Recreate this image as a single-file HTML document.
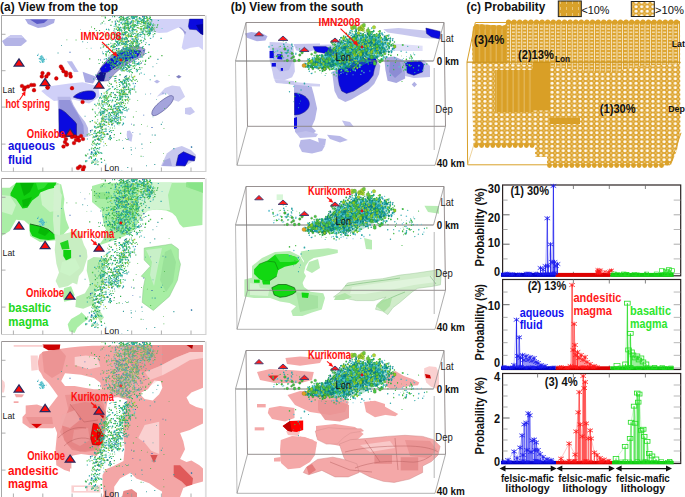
<!DOCTYPE html><html><head><meta charset="utf-8"><style>html,body{margin:0;padding:0;background:#fff;overflow:hidden}svg{display:block}text{font-family:"Liberation Sans",sans-serif}</style></head><body>
<svg width="685" height="497" viewBox="0 0 685 497">
<rect width="685" height="497" fill="#fff"/>
<defs>
<pattern id="gdots" x="0.5" y="0" width="5.6" height="4.5" patternUnits="userSpaceOnUse">
<rect width="5.6" height="4.5" fill="#dca22a"/>
<circle cx="2.8" cy="2.25" r="1.65" fill="#fffaf0"/>
<circle cx="0" cy="0" r="0.6" fill="#fff4e0"/><circle cx="5.6" cy="0" r="0.6" fill="#fff4e0"/><circle cx="0" cy="4.5" r="0.6" fill="#fff4e0"/><circle cx="5.6" cy="4.5" r="0.6" fill="#fff4e0"/>
</pattern>
<pattern id="gstripe" x="0.5" y="0" width="5.6" height="3.4" patternUnits="userSpaceOnUse">
<rect width="5.6" height="3.4" fill="#dca22a"/>
<rect x="0" y="0" width="0.9" height="3.4" fill="#f8ecd0"/>
<rect x="1.8" y="1.2" width="2.9" height="1.1" fill="#fdf6e6"/>
</pattern>
<pattern id="gdense" x="0.5" y="0" width="5.6" height="6" patternUnits="userSpaceOnUse">
<rect width="5.6" height="6" fill="#d99f26"/>
<rect x="2.6" y="0" width="0.6" height="6" fill="#f4e0b0" opacity="0.8"/>
</pattern>
<pattern id="gleg1" x="0" y="0" width="6" height="6" patternUnits="userSpaceOnUse">
<rect width="6" height="6" fill="#d9a12a"/>
<rect x="2" y="1" width="0.8" height="3" fill="#efd08a"/>
</pattern>
</defs>
<text x="0.0" y="11.0" font-size="12" fill="#111" font-weight="bold" textLength="118.0" lengthAdjust="spacingAndGlyphs" >(a) View from the top</text>
<text x="230.8" y="11.0" font-size="12" fill="#111" font-weight="bold" textLength="132.5" lengthAdjust="spacingAndGlyphs" >(b) View from the south</text>
<text x="466.6" y="11.0" font-size="12" fill="#111" font-weight="bold" textLength="78.7" lengthAdjust="spacingAndGlyphs" >(c) Probability</text>
<rect x="558.3" y="1" width="23" height="15.6" fill="url(#gleg1)" stroke="#222" stroke-width="1"/>
<rect x="631.3" y="1.5" width="23" height="15" fill="url(#gdots)" stroke="#222" stroke-width="1"/>
<text x="581.5" y="13.5" font-size="11" fill="#111" font-weight="normal" textLength="28.0" lengthAdjust="spacingAndGlyphs" >&lt;10%</text>
<text x="655.0" y="13.5" font-size="11" fill="#111" font-weight="normal" textLength="29.0" lengthAdjust="spacingAndGlyphs" >&gt;10%</text>
<polygon points="473.0,27.0 476.0,24.0 505.0,26.0 507.0,21.0 680.0,21.0 680.5,130.0 677.0,150.0 671.0,165.0 547.0,165.0 547.0,157.0 535.0,157.0 535.0,145.5 473.5,145.5 472.2,100.0 472.2,40.0" fill="url(#gdots)" fill-opacity="1" stroke="none" stroke-width="0.6" />
<polygon points="507.0,21.0 680.0,21.0 680.0,64.0 640.0,66.0 612.0,72.0 575.0,70.0 550.0,66.0 507.0,64.0" fill="url(#gstripe)" fill-opacity="1" stroke="none" stroke-width="0.6" />
<polygon points="473.0,27.0 476.0,24.0 505.0,26.0 507.0,21.0 507.0,62.0 473.0,62.0 472.2,40.0" fill="url(#gdense)" fill-opacity="1" stroke="none" stroke-width="0.6" />
<polygon points="495.0,70.0 533.0,70.0 533.0,112.0 495.0,112.0" fill="url(#gdense)" fill-opacity="1" stroke="none" stroke-width="0.6" />
<polygon points="533.0,62.0 550.0,62.0 550.0,110.5 533.0,110.5" fill="#d99f26" fill-opacity="1" stroke="none" stroke-width="0.6" />
<polygon points="550.0,118.0 580.0,118.0 580.0,124.0 550.0,124.0" fill="#d99f26" fill-opacity="1" stroke="none" stroke-width="0.6" />
<circle cx="508.5" cy="22" r="2.6" fill="#dca22a"/>
<circle cx="514.1" cy="22" r="2.6" fill="#dca22a"/>
<circle cx="519.7" cy="22" r="2.6" fill="#dca22a"/>
<circle cx="525.3" cy="22" r="2.6" fill="#dca22a"/>
<circle cx="530.9" cy="22" r="2.6" fill="#dca22a"/>
<circle cx="536.5" cy="22" r="2.6" fill="#dca22a"/>
<circle cx="542.1" cy="22" r="2.6" fill="#dca22a"/>
<circle cx="547.7" cy="22" r="2.6" fill="#dca22a"/>
<circle cx="553.3" cy="22" r="2.6" fill="#dca22a"/>
<circle cx="558.9" cy="22" r="2.6" fill="#dca22a"/>
<circle cx="564.5" cy="22" r="2.6" fill="#dca22a"/>
<circle cx="570.1" cy="22" r="2.6" fill="#dca22a"/>
<circle cx="575.7" cy="22" r="2.6" fill="#dca22a"/>
<circle cx="581.3" cy="22" r="2.6" fill="#dca22a"/>
<circle cx="586.9" cy="22" r="2.6" fill="#dca22a"/>
<circle cx="592.5" cy="22" r="2.6" fill="#dca22a"/>
<circle cx="598.1" cy="22" r="2.6" fill="#dca22a"/>
<circle cx="603.7" cy="22" r="2.6" fill="#dca22a"/>
<circle cx="609.3" cy="22" r="2.6" fill="#dca22a"/>
<circle cx="614.9" cy="22" r="2.6" fill="#dca22a"/>
<circle cx="620.5" cy="22" r="2.6" fill="#dca22a"/>
<circle cx="626.1" cy="22" r="2.6" fill="#dca22a"/>
<circle cx="631.7" cy="22" r="2.6" fill="#dca22a"/>
<circle cx="637.3" cy="22" r="2.6" fill="#dca22a"/>
<circle cx="642.9" cy="22" r="2.6" fill="#dca22a"/>
<circle cx="648.5" cy="22" r="2.6" fill="#dca22a"/>
<circle cx="654.1" cy="22" r="2.6" fill="#dca22a"/>
<circle cx="659.7" cy="22" r="2.6" fill="#dca22a"/>
<circle cx="665.3" cy="22" r="2.6" fill="#dca22a"/>
<circle cx="670.9" cy="22" r="2.6" fill="#dca22a"/>
<circle cx="676.5" cy="22" r="2.6" fill="#dca22a"/>
<circle cx="477.0" cy="27.5" r="2.6" fill="#dca22a"/>
<circle cx="482.6" cy="27.5" r="2.6" fill="#dca22a"/>
<circle cx="488.2" cy="27.5" r="2.6" fill="#dca22a"/>
<circle cx="493.8" cy="27.5" r="2.6" fill="#dca22a"/>
<circle cx="499.4" cy="27.5" r="2.6" fill="#dca22a"/>
<circle cx="505.0" cy="27.5" r="2.6" fill="#dca22a"/>
<circle cx="549.5" cy="165.5" r="2.4" fill="#dca22a"/>
<circle cx="555.1" cy="165.5" r="2.4" fill="#dca22a"/>
<circle cx="560.7" cy="165.5" r="2.4" fill="#dca22a"/>
<circle cx="566.3" cy="165.5" r="2.4" fill="#dca22a"/>
<circle cx="571.9" cy="165.5" r="2.4" fill="#dca22a"/>
<circle cx="577.5" cy="165.5" r="2.4" fill="#dca22a"/>
<circle cx="583.1" cy="165.5" r="2.4" fill="#dca22a"/>
<circle cx="588.7" cy="165.5" r="2.4" fill="#dca22a"/>
<circle cx="594.3" cy="165.5" r="2.4" fill="#dca22a"/>
<circle cx="599.9" cy="165.5" r="2.4" fill="#dca22a"/>
<circle cx="605.5" cy="165.5" r="2.4" fill="#dca22a"/>
<circle cx="611.1" cy="165.5" r="2.4" fill="#dca22a"/>
<circle cx="616.7" cy="165.5" r="2.4" fill="#dca22a"/>
<circle cx="622.3" cy="165.5" r="2.4" fill="#dca22a"/>
<circle cx="627.9" cy="165.5" r="2.4" fill="#dca22a"/>
<circle cx="633.5" cy="165.5" r="2.4" fill="#dca22a"/>
<circle cx="639.1" cy="165.5" r="2.4" fill="#dca22a"/>
<circle cx="644.7" cy="165.5" r="2.4" fill="#dca22a"/>
<circle cx="650.3" cy="165.5" r="2.4" fill="#dca22a"/>
<circle cx="655.9" cy="165.5" r="2.4" fill="#dca22a"/>
<circle cx="661.5" cy="165.5" r="2.4" fill="#dca22a"/>
<circle cx="667.1" cy="163" r="2.4" fill="#dca22a"/>
<circle cx="476.0" cy="145.5" r="2.4" fill="#dca22a"/>
<circle cx="481.6" cy="145.5" r="2.4" fill="#dca22a"/>
<circle cx="487.2" cy="145.5" r="2.4" fill="#dca22a"/>
<circle cx="492.8" cy="145.5" r="2.4" fill="#dca22a"/>
<circle cx="498.4" cy="145.5" r="2.4" fill="#dca22a"/>
<circle cx="504.0" cy="145.5" r="2.4" fill="#dca22a"/>
<circle cx="509.6" cy="145.5" r="2.4" fill="#dca22a"/>
<circle cx="515.2" cy="145.5" r="2.4" fill="#dca22a"/>
<circle cx="520.8" cy="145.5" r="2.4" fill="#dca22a"/>
<circle cx="526.4" cy="145.5" r="2.4" fill="#dca22a"/>
<circle cx="532.0" cy="145.5" r="2.4" fill="#dca22a"/>
<polyline points="475.3,22.5 680,22.5" fill="none" stroke="#d9a12a" stroke-width="1"/>
<polyline points="475.3,22.5 467,62 467.6,164.8 670,164.8 681,132.8" fill="none" stroke="#d9a12a" stroke-width="1"/>
<polyline points="467,62 680,62" fill="none" stroke="#d9a12a" stroke-width="0.8"/>
<polyline points="467.6,164.8 474.4,143" fill="none" stroke="#e6c070" stroke-width="0.7"/>
<line x1="467" y1="62.3" x2="681" y2="62.3" stroke="#c08a18" stroke-width="0.8" opacity="0.8"/>
<text x="474.0" y="44.0" font-size="12" fill="#111" font-weight="bold" textLength="30.2" lengthAdjust="spacingAndGlyphs" >(3)4%</text>
<text x="518.0" y="58.9" font-size="12" fill="#111" font-weight="bold" textLength="35.9" lengthAdjust="spacingAndGlyphs" >(2)13%</text>
<text x="555.0" y="61.5" font-size="9" fill="#111" font-weight="bold" textLength="15.1" lengthAdjust="spacingAndGlyphs" >Lon</text>
<text x="599.8" y="113.1" font-size="12" fill="#111" font-weight="bold" textLength="35.9" lengthAdjust="spacingAndGlyphs" >(1)30%</text>
<text x="671.7" y="46.6" font-size="9.5" fill="#111" font-weight="bold" textLength="13.3" lengthAdjust="spacingAndGlyphs" >Lat</text>
<text x="668.2" y="111.9" font-size="9.5" fill="#111" font-weight="bold" textLength="16.8" lengthAdjust="spacingAndGlyphs" >Dep</text>
<rect x="502.6" y="185" width="178.10000000000002" height="90.80000000000001" fill="none" stroke="#2a2222" stroke-width="1.2"/>
<line x1="502.6" y1="273.6" x2="509.6" y2="273.6" stroke="#555" stroke-width="0.9"/>
<line x1="673.7" y1="273.6" x2="680.7" y2="273.6" stroke="#888" stroke-width="0.7"/>
<line x1="502.6" y1="244.20000000000002" x2="509.6" y2="244.20000000000002" stroke="#555" stroke-width="0.9"/>
<line x1="673.7" y1="244.20000000000002" x2="680.7" y2="244.20000000000002" stroke="#888" stroke-width="0.7"/>
<line x1="502.6" y1="214.8" x2="509.6" y2="214.8" stroke="#555" stroke-width="0.9"/>
<line x1="673.7" y1="214.8" x2="680.7" y2="214.8" stroke="#888" stroke-width="0.7"/>
<line x1="502.6" y1="258.90000000000003" x2="507.6" y2="258.90000000000003" stroke="#888" stroke-width="0.7"/>
<line x1="673.7" y1="258.90000000000003" x2="680.7" y2="258.90000000000003" stroke="#999" stroke-width="0.7"/>
<line x1="502.6" y1="229.50000000000003" x2="507.6" y2="229.50000000000003" stroke="#888" stroke-width="0.7"/>
<line x1="673.7" y1="229.50000000000003" x2="680.7" y2="229.50000000000003" stroke="#999" stroke-width="0.7"/>
<line x1="502.6" y1="200.10000000000002" x2="507.6" y2="200.10000000000002" stroke="#888" stroke-width="0.7"/>
<line x1="673.7" y1="200.10000000000002" x2="680.7" y2="200.10000000000002" stroke="#999" stroke-width="0.7"/>
<line x1="537.6" y1="185" x2="537.6" y2="189" stroke="#666" stroke-width="0.8"/>
<line x1="537.6" y1="275.8" x2="537.6" y2="271.8" stroke="#666" stroke-width="0.8"/>
<line x1="573.4" y1="185" x2="573.4" y2="189" stroke="#666" stroke-width="0.8"/>
<line x1="573.4" y1="275.8" x2="573.4" y2="271.8" stroke="#666" stroke-width="0.8"/>
<line x1="609.3" y1="185" x2="609.3" y2="189" stroke="#666" stroke-width="0.8"/>
<line x1="609.3" y1="275.8" x2="609.3" y2="271.8" stroke="#666" stroke-width="0.8"/>
<line x1="645.4" y1="185" x2="645.4" y2="189" stroke="#666" stroke-width="0.8"/>
<line x1="645.4" y1="275.8" x2="645.4" y2="271.8" stroke="#666" stroke-width="0.8"/>
<rect x="502.6" y="279.5" width="178.10000000000002" height="90.0" fill="none" stroke="#2a2222" stroke-width="1.2"/>
<line x1="502.6" y1="368.0" x2="509.6" y2="368.0" stroke="#555" stroke-width="0.9"/>
<line x1="673.7" y1="368.0" x2="680.7" y2="368.0" stroke="#888" stroke-width="0.7"/>
<line x1="502.6" y1="304.7" x2="509.6" y2="304.7" stroke="#555" stroke-width="0.9"/>
<line x1="673.7" y1="304.7" x2="680.7" y2="304.7" stroke="#888" stroke-width="0.7"/>
<line x1="502.6" y1="355.34" x2="507.6" y2="355.34" stroke="#888" stroke-width="0.7"/>
<line x1="673.7" y1="355.34" x2="680.7" y2="355.34" stroke="#999" stroke-width="0.7"/>
<line x1="502.6" y1="342.68" x2="507.6" y2="342.68" stroke="#888" stroke-width="0.7"/>
<line x1="673.7" y1="342.68" x2="680.7" y2="342.68" stroke="#999" stroke-width="0.7"/>
<line x1="502.6" y1="330.02" x2="507.6" y2="330.02" stroke="#888" stroke-width="0.7"/>
<line x1="673.7" y1="330.02" x2="680.7" y2="330.02" stroke="#999" stroke-width="0.7"/>
<line x1="502.6" y1="317.36" x2="507.6" y2="317.36" stroke="#888" stroke-width="0.7"/>
<line x1="673.7" y1="317.36" x2="680.7" y2="317.36" stroke="#999" stroke-width="0.7"/>
<line x1="502.6" y1="292.03999999999996" x2="507.6" y2="292.03999999999996" stroke="#888" stroke-width="0.7"/>
<line x1="673.7" y1="292.03999999999996" x2="680.7" y2="292.03999999999996" stroke="#999" stroke-width="0.7"/>
<line x1="537.6" y1="279.5" x2="537.6" y2="283.5" stroke="#666" stroke-width="0.8"/>
<line x1="537.6" y1="369.5" x2="537.6" y2="365.5" stroke="#666" stroke-width="0.8"/>
<line x1="573.4" y1="279.5" x2="573.4" y2="283.5" stroke="#666" stroke-width="0.8"/>
<line x1="573.4" y1="369.5" x2="573.4" y2="365.5" stroke="#666" stroke-width="0.8"/>
<line x1="609.3" y1="279.5" x2="609.3" y2="283.5" stroke="#666" stroke-width="0.8"/>
<line x1="609.3" y1="369.5" x2="609.3" y2="365.5" stroke="#666" stroke-width="0.8"/>
<line x1="645.4" y1="279.5" x2="645.4" y2="283.5" stroke="#666" stroke-width="0.8"/>
<line x1="645.4" y1="369.5" x2="645.4" y2="365.5" stroke="#666" stroke-width="0.8"/>
<rect x="502.6" y="373.5" width="178.10000000000002" height="90.0" fill="none" stroke="#2a2222" stroke-width="1.2"/>
<line x1="502.6" y1="462.0" x2="509.6" y2="462.0" stroke="#555" stroke-width="0.9"/>
<line x1="673.7" y1="462.0" x2="680.7" y2="462.0" stroke="#888" stroke-width="0.7"/>
<line x1="502.6" y1="418.0" x2="509.6" y2="418.0" stroke="#555" stroke-width="0.9"/>
<line x1="673.7" y1="418.0" x2="680.7" y2="418.0" stroke="#888" stroke-width="0.7"/>
<line x1="502.6" y1="451.0" x2="507.6" y2="451.0" stroke="#888" stroke-width="0.7"/>
<line x1="673.7" y1="451.0" x2="680.7" y2="451.0" stroke="#999" stroke-width="0.7"/>
<line x1="502.6" y1="440.0" x2="507.6" y2="440.0" stroke="#888" stroke-width="0.7"/>
<line x1="673.7" y1="440.0" x2="680.7" y2="440.0" stroke="#999" stroke-width="0.7"/>
<line x1="502.6" y1="429.0" x2="507.6" y2="429.0" stroke="#888" stroke-width="0.7"/>
<line x1="673.7" y1="429.0" x2="680.7" y2="429.0" stroke="#999" stroke-width="0.7"/>
<line x1="502.6" y1="407.0" x2="507.6" y2="407.0" stroke="#888" stroke-width="0.7"/>
<line x1="673.7" y1="407.0" x2="680.7" y2="407.0" stroke="#999" stroke-width="0.7"/>
<line x1="502.6" y1="396.0" x2="507.6" y2="396.0" stroke="#888" stroke-width="0.7"/>
<line x1="673.7" y1="396.0" x2="680.7" y2="396.0" stroke="#999" stroke-width="0.7"/>
<line x1="502.6" y1="385.0" x2="507.6" y2="385.0" stroke="#888" stroke-width="0.7"/>
<line x1="673.7" y1="385.0" x2="680.7" y2="385.0" stroke="#999" stroke-width="0.7"/>
<line x1="537.6" y1="373.5" x2="537.6" y2="377.5" stroke="#666" stroke-width="0.8"/>
<line x1="537.6" y1="463.5" x2="537.6" y2="459.5" stroke="#666" stroke-width="0.8"/>
<line x1="573.4" y1="373.5" x2="573.4" y2="377.5" stroke="#666" stroke-width="0.8"/>
<line x1="573.4" y1="463.5" x2="573.4" y2="459.5" stroke="#666" stroke-width="0.8"/>
<line x1="609.3" y1="373.5" x2="609.3" y2="377.5" stroke="#666" stroke-width="0.8"/>
<line x1="609.3" y1="463.5" x2="609.3" y2="459.5" stroke="#666" stroke-width="0.8"/>
<line x1="645.4" y1="373.5" x2="645.4" y2="377.5" stroke="#666" stroke-width="0.8"/>
<line x1="645.4" y1="463.5" x2="645.4" y2="459.5" stroke="#666" stroke-width="0.8"/>
<text x="487.7" y="192.5" font-size="12" fill="#111" font-weight="bold" textLength="12.5" lengthAdjust="spacingAndGlyphs" >30</text>
<text x="487.7" y="222.2" font-size="12" fill="#111" font-weight="bold" textLength="12.5" lengthAdjust="spacingAndGlyphs" >20</text>
<text x="487.7" y="247.3" font-size="12" fill="#111" font-weight="bold" textLength="12.5" lengthAdjust="spacingAndGlyphs" >10</text>
<text x="494.1" y="275.5" font-size="12" fill="#111" font-weight="bold" textLength="6.1" lengthAdjust="spacingAndGlyphs" >0</text>
<text x="487.7" y="310.2" font-size="12" fill="#111" font-weight="bold" textLength="12.5" lengthAdjust="spacingAndGlyphs" >10</text>
<text x="494.1" y="367.4" font-size="12" fill="#111" font-weight="bold" textLength="6.1" lengthAdjust="spacingAndGlyphs" >0</text>
<text x="494.1" y="380.5" font-size="12" fill="#111" font-weight="bold" textLength="6.1" lengthAdjust="spacingAndGlyphs" >4</text>
<text x="494.1" y="422.7" font-size="12" fill="#111" font-weight="bold" textLength="6.1" lengthAdjust="spacingAndGlyphs" >2</text>
<text x="494.1" y="465.5" font-size="12" fill="#111" font-weight="bold" textLength="6.1" lengthAdjust="spacingAndGlyphs" >0</text>
<text x="0" y="0" transform="translate(484,266.4) rotate(-90)" font-size="12" font-weight="bold" fill="#111" textLength="78.4" lengthAdjust="spacingAndGlyphs">Probability (%)</text>
<text x="0" y="0" transform="translate(484,360.4) rotate(-90)" font-size="12" font-weight="bold" fill="#111" textLength="76.4" lengthAdjust="spacingAndGlyphs">Probability (%)</text>
<text x="0" y="0" transform="translate(484,454.4) rotate(-90)" font-size="12" font-weight="bold" fill="#111" textLength="77.4" lengthAdjust="spacingAndGlyphs">Probability (%)</text>
<text x="510.4" y="195.0" font-size="12" fill="#111" font-weight="bold" textLength="38.7" lengthAdjust="spacingAndGlyphs" >(1) 30%</text>
<text x="527.7" y="290.0" font-size="12" fill="#111" font-weight="bold" textLength="38.6" lengthAdjust="spacingAndGlyphs" >(2) 13%</text>
<text x="544.7" y="386.3" font-size="12" fill="#111" font-weight="bold" textLength="32.9" lengthAdjust="spacingAndGlyphs" >(3) 4%</text>
<text x="519.7" y="316.6" font-size="13" fill="#1010ee" font-weight="bold" textLength="44.4" lengthAdjust="spacingAndGlyphs" >aqueous</text>
<text x="519.7" y="329.3" font-size="13" fill="#1010ee" font-weight="bold" textLength="22.8" lengthAdjust="spacingAndGlyphs" >fluid</text>
<text x="573.4" y="302.3" font-size="13" fill="#ff1a1a" font-weight="bold" textLength="48.0" lengthAdjust="spacingAndGlyphs" >andesitic</text>
<text x="573.4" y="315.4" font-size="13" fill="#ff1a1a" font-weight="bold" textLength="38.6" lengthAdjust="spacingAndGlyphs" >magma</text>
<text x="630.1" y="315.0" font-size="13" fill="#2ee62e" font-weight="bold" textLength="40.9" lengthAdjust="spacingAndGlyphs" >basaltic</text>
<text x="630.1" y="328.2" font-size="13" fill="#2ee62e" font-weight="bold" textLength="37.4" lengthAdjust="spacingAndGlyphs" >magma</text>
<line x1="503.5" y1="468.6" x2="552.7" y2="468.6" stroke="#111" stroke-width="1.3"/>
<polygon points="499.5,468.6 505.5,465.6 505.5,471.6" fill="#111" fill-opacity="1" stroke="none" stroke-width="0.6" />
<polygon points="556.7,468.6 550.7,465.6 550.7,471.6" fill="#111" fill-opacity="1" stroke="none" stroke-width="0.6" />
<text x="500.9" y="481.6" font-size="11.5" fill="#111" font-weight="bold" textLength="53.1" lengthAdjust="spacingAndGlyphs" >felsic-mafic</text>
<text x="505.2" y="492.4" font-size="11.5" fill="#111" font-weight="bold" textLength="44.6" lengthAdjust="spacingAndGlyphs" >lithology</text>
<line x1="560.3" y1="468.6" x2="610.8" y2="468.6" stroke="#111" stroke-width="1.3"/>
<polygon points="556.3,468.6 562.3,465.6 562.3,471.6" fill="#111" fill-opacity="1" stroke="none" stroke-width="0.6" />
<polygon points="614.8,468.6 608.8,465.6 608.8,471.6" fill="#111" fill-opacity="1" stroke="none" stroke-width="0.6" />
<text x="558.2" y="481.6" font-size="11.5" fill="#111" font-weight="bold" textLength="53.2" lengthAdjust="spacingAndGlyphs" >felsic-mafic</text>
<text x="562.5" y="492.4" font-size="11.5" fill="#111" font-weight="bold" textLength="44.6" lengthAdjust="spacingAndGlyphs" >lithology</text>
<line x1="619.6" y1="468.6" x2="668" y2="468.6" stroke="#111" stroke-width="1.3"/>
<polygon points="615.6,468.6 621.6,465.6 621.6,471.6" fill="#111" fill-opacity="1" stroke="none" stroke-width="0.6" />
<polygon points="672.0,468.6 666.0,465.6 666.0,471.6" fill="#111" fill-opacity="1" stroke="none" stroke-width="0.6" />
<text x="616.1" y="481.6" font-size="11.5" fill="#111" font-weight="bold" textLength="53.7" lengthAdjust="spacingAndGlyphs" >felsic-mafic</text>
<text x="620.7" y="492.4" font-size="11.5" fill="#111" font-weight="bold" textLength="44.6" lengthAdjust="spacingAndGlyphs" >lithology</text>
<rect x="501" y="272.9" width="54.700000000000045" height="4" fill="#0000c8"/>
<rect x="555.7" y="272.9" width="54.59999999999991" height="4" fill="#dd0000"/>
<rect x="610.3" y="272.9" width="63.40000000000009" height="4" fill="#11cc11"/>
<path d="M524.3,272.3L528.7,275.0M524.3,275.0L528.7,272.3M526.5,271.9V275.4" stroke="#1a1aee" stroke-width="0.6" fill="none"/>
<path d="M548.9,272.5L553.3,275.1M548.9,275.1L553.3,272.5M551.1,272.0V275.6" stroke="#1a1aee" stroke-width="0.6" fill="none"/>
<path d="M527.2,272.3L531.6,274.9M527.2,274.9L531.6,272.3M529.4,271.9V275.4" stroke="#1a1aee" stroke-width="0.6" fill="none"/>
<path d="M510.4,272.4L514.8,275.1M510.4,275.1L514.8,272.4M512.6,272.0V275.5" stroke="#1a1aee" stroke-width="0.6" fill="none"/>
<path d="M533.6,272.0L538.0,274.6M533.6,274.6L538.0,272.0M535.8,271.6V275.1" stroke="#1a1aee" stroke-width="0.6" fill="none"/>
<path d="M505.7,272.7L510.1,275.4M505.7,275.4L510.1,272.7M507.9,272.3V275.8" stroke="#1a1aee" stroke-width="0.6" fill="none"/>
<path d="M505.5,272.0L509.9,274.6M505.5,274.6L509.9,272.0M507.7,271.5V275.0" stroke="#1a1aee" stroke-width="0.6" fill="none"/>
<path d="M536.9,273.1L541.3,275.8M536.9,275.8L541.3,273.1M539.1,272.7V276.2" stroke="#1a1aee" stroke-width="0.6" fill="none"/>
<path d="M551.9,271.7L556.3,274.4M551.9,274.4L556.3,271.7M554.1,271.3V274.8" stroke="#1a1aee" stroke-width="0.6" fill="none"/>
<path d="M534.8,272.3L539.2,274.9M534.8,274.9L539.2,272.3M537.0,271.8V275.3" stroke="#1a1aee" stroke-width="0.6" fill="none"/>
<path d="M509.0,273.2L513.4,275.8M509.0,275.8L513.4,273.2M511.2,272.7V276.2" stroke="#1a1aee" stroke-width="0.6" fill="none"/>
<path d="M528.3,273.1L532.7,275.7M528.3,275.7L532.7,273.1M530.5,272.7V276.2" stroke="#1a1aee" stroke-width="0.6" fill="none"/>
<path d="M510.7,272.8L515.1,275.5M510.7,275.5L515.1,272.8M512.9,272.4V275.9" stroke="#1a1aee" stroke-width="0.6" fill="none"/>
<path d="M502.4,272.5L506.8,275.1M502.4,275.1L506.8,272.5M504.6,272.0V275.6" stroke="#1a1aee" stroke-width="0.6" fill="none"/>
<path d="M523.7,271.9L528.1,274.6M523.7,274.6L528.1,271.9M525.9,271.5V275.0" stroke="#1a1aee" stroke-width="0.6" fill="none"/>
<path d="M527.8,272.2L532.2,274.9M527.8,274.9L532.2,272.2M530.0,271.8V275.3" stroke="#1a1aee" stroke-width="0.6" fill="none"/>
<path d="M526.8,272.2L531.2,274.8M526.8,274.8L531.2,272.2M529.0,271.7V275.3" stroke="#1a1aee" stroke-width="0.6" fill="none"/>
<path d="M524.6,272.8L529.0,275.4M524.6,275.4L529.0,272.8M526.8,272.3V275.8" stroke="#1a1aee" stroke-width="0.6" fill="none"/>
<path d="M552.7,271.7L557.1,274.3M552.7,274.3L557.1,271.7M554.9,271.2V274.8" stroke="#1a1aee" stroke-width="0.6" fill="none"/>
<path d="M544.5,272.1L548.9,274.8M544.5,274.8L548.9,272.1M546.7,271.7V275.2" stroke="#1a1aee" stroke-width="0.6" fill="none"/>
<path d="M517.2,272.8L521.6,275.5M517.2,275.5L521.6,272.8M519.4,272.4V275.9" stroke="#1a1aee" stroke-width="0.6" fill="none"/>
<path d="M515.8,273.1L520.2,275.7M515.8,275.7L520.2,273.1M518.0,272.6V276.2" stroke="#1a1aee" stroke-width="0.6" fill="none"/>
<path d="M540.6,272.6L545.0,275.2M540.6,275.2L545.0,272.6M542.8,272.1V275.7" stroke="#1a1aee" stroke-width="0.6" fill="none"/>
<path d="M544.8,272.6L549.2,275.2M544.8,275.2L549.2,272.6M547.0,272.2V275.7" stroke="#1a1aee" stroke-width="0.6" fill="none"/>
<path d="M550.6,271.9L555.0,274.5M550.6,274.5L555.0,271.9M552.8,271.5V275.0" stroke="#1a1aee" stroke-width="0.6" fill="none"/>
<path d="M500.8,272.9L505.2,275.5M500.8,275.5L505.2,272.9M503.0,272.4V275.9" stroke="#1a1aee" stroke-width="0.6" fill="none"/>
<path d="M548.1,272.5L552.5,275.1M548.1,275.1L552.5,272.5M550.3,272.0V275.6" stroke="#1a1aee" stroke-width="0.6" fill="none"/>
<path d="M551.8,272.6L556.2,275.2M551.8,275.2L556.2,272.6M554.0,272.1V275.7" stroke="#1a1aee" stroke-width="0.6" fill="none"/>
<path d="M504.6,272.2L509.0,274.9M504.6,274.9L509.0,272.2M506.8,271.8V275.3" stroke="#1a1aee" stroke-width="0.6" fill="none"/>
<path d="M541.3,272.8L545.7,275.4M541.3,275.4L545.7,272.8M543.5,272.3V275.9" stroke="#1a1aee" stroke-width="0.6" fill="none"/>
<path d="M540.5,274.5L540.5,268.0M543.0,274.5L543.0,269.5M545.5,274.5L545.5,266.0M547.3,274.5L547.3,218.3M548.3,274.5L548.3,266.0M550.5,274.5L550.5,244.4M552.0,274.5L552.0,262.0M553.4,274.5L553.4,186.0M554.5,274.5L554.5,262.0M556.0,274.5L556.0,266.0M557.5,274.5L557.5,264.0" stroke="#1a1aee" stroke-width="0.9" fill="none"/>
<polyline points="540.5,268.0 543.0,269.5 545.5,266.0 547.3,218.3 548.3,266.0 550.5,244.4 552.0,262.0 553.4,186.0 554.5,262.0 556.0,266.0 557.5,264.0" stroke="#1a1aee" stroke-width="0.54" fill="none" opacity="0.45"/>
<path d="M537.7,266.3L543.3,269.7M537.7,269.7L543.3,266.3M540.5,265.8V270.2" stroke="#1a1aee" stroke-width="0.8" fill="none"/>
<path d="M540.2,267.8L545.8,271.2M540.2,271.2L545.8,267.8M543.0,267.3V271.7" stroke="#1a1aee" stroke-width="0.8" fill="none"/>
<path d="M542.7,264.3L548.3,267.7M542.7,267.7L548.3,264.3M545.5,263.8V268.2" stroke="#1a1aee" stroke-width="0.8" fill="none"/>
<path d="M544.5,216.6L550.1,220.0M544.5,220.0L550.1,216.6M547.3,216.1V220.5" stroke="#1a1aee" stroke-width="0.8" fill="none"/>
<path d="M545.5,264.3L551.1,267.7M545.5,267.7L551.1,264.3M548.3,263.8V268.2" stroke="#1a1aee" stroke-width="0.8" fill="none"/>
<path d="M547.7,242.7L553.3,246.1M547.7,246.1L553.3,242.7M550.5,242.2V246.6" stroke="#1a1aee" stroke-width="0.8" fill="none"/>
<path d="M549.2,260.3L554.8,263.7M549.2,263.7L554.8,260.3M552.0,259.8V264.2" stroke="#1a1aee" stroke-width="0.8" fill="none"/>
<path d="M550.6,184.3L556.2,187.7M550.6,187.7L556.2,184.3M553.4,183.8V188.2" stroke="#1a1aee" stroke-width="0.8" fill="none"/>
<path d="M551.7,260.3L557.3,263.7M551.7,263.7L557.3,260.3M554.5,259.8V264.2" stroke="#1a1aee" stroke-width="0.8" fill="none"/>
<path d="M553.2,264.3L558.8,267.7M553.2,267.7L558.8,264.3M556.0,263.8V268.2" stroke="#1a1aee" stroke-width="0.8" fill="none"/>
<path d="M554.7,262.3L560.3,265.7M554.7,265.7L560.3,262.3M557.5,261.8V266.2" stroke="#1a1aee" stroke-width="0.8" fill="none"/>
<path d="M595.2,270.8L599.6,273.5M595.2,273.5L599.6,270.8M597.4,270.4V273.9" stroke="#ff1a1a" stroke-width="0.6" fill="none"/>
<path d="M609.2,269.1L613.6,271.8M609.2,271.8L613.6,269.1M611.4,268.7V272.2" stroke="#ff1a1a" stroke-width="0.6" fill="none"/>
<path d="M595.7,271.2L600.1,273.8M595.7,273.8L600.1,271.2M597.9,270.8V274.3" stroke="#ff1a1a" stroke-width="0.6" fill="none"/>
<path d="M595.4,271.9L599.8,274.6M595.4,274.6L599.8,271.9M597.6,271.5V275.0" stroke="#ff1a1a" stroke-width="0.6" fill="none"/>
<path d="M606.6,271.5L611.0,274.1M606.6,274.1L611.0,271.5M608.8,271.0V274.5" stroke="#ff1a1a" stroke-width="0.6" fill="none"/>
<path d="M602.7,270.4L607.1,273.0M602.7,273.0L607.1,270.4M604.9,270.0V273.5" stroke="#ff1a1a" stroke-width="0.6" fill="none"/>
<path d="M596.9,269.3L601.3,271.9M596.9,271.9L601.3,269.3M599.1,268.8V272.3" stroke="#ff1a1a" stroke-width="0.6" fill="none"/>
<path d="M595.9,269.6L600.3,272.2M595.9,272.2L600.3,269.6M598.1,269.2V272.7" stroke="#ff1a1a" stroke-width="0.6" fill="none"/>
<path d="M595.7,270.5L600.1,273.1M595.7,273.1L600.1,270.5M597.9,270.1V273.6" stroke="#ff1a1a" stroke-width="0.6" fill="none"/>
<path d="M597.2,271.1L601.6,273.7M597.2,273.7L601.6,271.1M599.4,270.7V274.2" stroke="#ff1a1a" stroke-width="0.6" fill="none"/>
<path d="M609.3,269.0L613.7,271.6M609.3,271.6L613.7,269.0M611.5,268.5V272.0" stroke="#ff1a1a" stroke-width="0.6" fill="none"/>
<path d="M598.7,268.6L603.1,271.3M598.7,271.3L603.1,268.6M600.9,268.2V271.7" stroke="#ff1a1a" stroke-width="0.6" fill="none"/>
<path d="M597.2,270.6L601.6,273.2M597.2,273.2L601.6,270.6M599.4,270.2V273.7" stroke="#ff1a1a" stroke-width="0.6" fill="none"/>
<path d="M607.5,269.6L611.9,272.3M607.5,272.3L611.9,269.6M609.7,269.2V272.7" stroke="#ff1a1a" stroke-width="0.6" fill="none"/>
<path d="M595.4,268.2L599.8,270.9M595.4,270.9L599.8,268.2M597.6,267.8V271.3" stroke="#ff1a1a" stroke-width="0.6" fill="none"/>
<path d="M597.2,271.1L601.6,273.8M597.2,273.8L601.6,271.1M599.4,270.7V274.2" stroke="#ff1a1a" stroke-width="0.6" fill="none"/>
<path d="M606.2,270.9L610.6,273.5M606.2,273.5L610.6,270.9M608.4,270.4V273.9" stroke="#ff1a1a" stroke-width="0.6" fill="none"/>
<path d="M598.5,271.9L602.9,274.5M598.5,274.5L602.9,271.9M600.7,271.4V275.0" stroke="#ff1a1a" stroke-width="0.6" fill="none"/>
<rect x="615.2" y="272.4" width="4.4" height="3.1" stroke="#22dd22" stroke-width="0.6" fill="none"/>
<rect x="624.4" y="272.4" width="4.4" height="3.1" stroke="#22dd22" stroke-width="0.6" fill="none"/>
<rect x="632.1" y="272.5" width="4.4" height="3.1" stroke="#22dd22" stroke-width="0.6" fill="none"/>
<rect x="667.3" y="272.5" width="4.4" height="3.1" stroke="#22dd22" stroke-width="0.6" fill="none"/>
<rect x="644.3" y="272.1" width="4.4" height="3.1" stroke="#22dd22" stroke-width="0.6" fill="none"/>
<rect x="620.8" y="272.8" width="4.4" height="3.1" stroke="#22dd22" stroke-width="0.6" fill="none"/>
<rect x="664.3" y="272.1" width="4.4" height="3.1" stroke="#22dd22" stroke-width="0.6" fill="none"/>
<rect x="624.8" y="272.8" width="4.4" height="3.1" stroke="#22dd22" stroke-width="0.6" fill="none"/>
<rect x="654.2" y="272.0" width="4.4" height="3.1" stroke="#22dd22" stroke-width="0.6" fill="none"/>
<rect x="621.6" y="272.0" width="4.4" height="3.1" stroke="#22dd22" stroke-width="0.6" fill="none"/>
<rect x="662.7" y="272.4" width="4.4" height="3.1" stroke="#22dd22" stroke-width="0.6" fill="none"/>
<rect x="635.1" y="272.9" width="4.4" height="3.1" stroke="#22dd22" stroke-width="0.6" fill="none"/>
<rect x="612.1" y="272.0" width="4.4" height="3.1" stroke="#22dd22" stroke-width="0.6" fill="none"/>
<rect x="624.1" y="272.3" width="4.4" height="3.1" stroke="#22dd22" stroke-width="0.6" fill="none"/>
<rect x="659.4" y="268.7" width="5.2" height="3.6" stroke="#22dd22" stroke-width="0.7" fill="none"/>
<rect x="663.4" y="269.2" width="5.2" height="3.6" stroke="#22dd22" stroke-width="0.7" fill="none"/>
<rect x="666.4" y="267.7" width="5.2" height="3.6" stroke="#22dd22" stroke-width="0.7" fill="none"/>
<rect x="669.4" y="268.7" width="5.2" height="3.6" stroke="#22dd22" stroke-width="0.7" fill="none"/>
<rect x="665.4" y="270.2" width="5.2" height="3.6" stroke="#22dd22" stroke-width="0.7" fill="none"/>
<rect x="501" y="366.3" width="54.700000000000045" height="3.6" fill="#0000c8"/>
<rect x="555.7" y="366.3" width="54.59999999999991" height="3.6" fill="#dd0000"/>
<rect x="610.3" y="366.3" width="63.40000000000009" height="3.6" fill="#11cc11"/>
<path d="M514.2,365.4L518.6,368.1M514.2,368.1L518.6,365.4M516.4,365.0V368.5" stroke="#1a1aee" stroke-width="0.6" fill="none"/>
<path d="M531.8,366.2L536.2,368.9M531.8,368.9L536.2,366.2M534.0,365.8V369.3" stroke="#1a1aee" stroke-width="0.6" fill="none"/>
<path d="M509.9,365.6L514.3,368.2M509.9,368.2L514.3,365.6M512.1,365.2V368.7" stroke="#1a1aee" stroke-width="0.6" fill="none"/>
<path d="M504.4,366.3L508.8,369.0M504.4,369.0L508.8,366.3M506.6,365.9V369.4" stroke="#1a1aee" stroke-width="0.6" fill="none"/>
<path d="M529.9,365.4L534.3,368.0M529.9,368.0L534.3,365.4M532.1,365.0V368.5" stroke="#1a1aee" stroke-width="0.6" fill="none"/>
<path d="M532.7,366.3L537.1,368.9M532.7,368.9L537.1,366.3M534.9,365.8V369.3" stroke="#1a1aee" stroke-width="0.6" fill="none"/>
<path d="M548.5,366.4L552.9,369.0M548.5,369.0L552.9,366.4M550.7,365.9V369.5" stroke="#1a1aee" stroke-width="0.6" fill="none"/>
<path d="M501.7,366.3L506.1,368.9M501.7,368.9L506.1,366.3M503.9,365.8V369.4" stroke="#1a1aee" stroke-width="0.6" fill="none"/>
<path d="M524.0,366.6L528.4,369.2M524.0,369.2L528.4,366.6M526.2,366.1V369.7" stroke="#1a1aee" stroke-width="0.6" fill="none"/>
<path d="M510.0,366.1L514.4,368.8M510.0,368.8L514.4,366.1M512.2,365.7V369.2" stroke="#1a1aee" stroke-width="0.6" fill="none"/>
<path d="M530.6,366.5L535.0,369.1M530.6,369.1L535.0,366.5M532.8,366.0V369.6" stroke="#1a1aee" stroke-width="0.6" fill="none"/>
<path d="M519.6,365.3L524.0,368.0M519.6,368.0L524.0,365.3M521.8,364.9V368.4" stroke="#1a1aee" stroke-width="0.6" fill="none"/>
<path d="M551.8,365.7L556.2,368.3M551.8,368.3L556.2,365.7M554.0,365.3V368.8" stroke="#1a1aee" stroke-width="0.6" fill="none"/>
<path d="M536.7,365.8L541.1,368.4M536.7,368.4L541.1,365.8M538.9,365.4V368.9" stroke="#1a1aee" stroke-width="0.6" fill="none"/>
<path d="M508.1,366.6L512.5,369.3M508.1,369.3L512.5,366.6M510.3,366.2V369.7" stroke="#1a1aee" stroke-width="0.6" fill="none"/>
<path d="M501.7,365.3L506.1,368.0M501.7,368.0L506.1,365.3M503.9,364.9V368.4" stroke="#1a1aee" stroke-width="0.6" fill="none"/>
<path d="M537.3,365.2L541.7,367.9M537.3,367.9L541.7,365.2M539.5,364.8V368.3" stroke="#1a1aee" stroke-width="0.6" fill="none"/>
<path d="M501.9,365.7L506.3,368.4M501.9,368.4L506.3,365.7M504.1,365.3V368.8" stroke="#1a1aee" stroke-width="0.6" fill="none"/>
<path d="M525.9,365.6L530.3,368.2M525.9,368.2L530.3,365.6M528.1,365.1V368.7" stroke="#1a1aee" stroke-width="0.6" fill="none"/>
<path d="M517.4,365.2L521.8,367.8M517.4,367.8L521.8,365.2M519.6,364.7V368.3" stroke="#1a1aee" stroke-width="0.6" fill="none"/>
<path d="M504.7,365.9L509.1,368.5M504.7,368.5L509.1,365.9M506.9,365.4V368.9" stroke="#1a1aee" stroke-width="0.6" fill="none"/>
<path d="M539.1,365.3L543.5,368.0M539.1,368.0L543.5,365.3M541.3,364.9V368.4" stroke="#1a1aee" stroke-width="0.6" fill="none"/>
<path d="M539.1,365.6L543.5,368.3M539.1,368.3L543.5,365.6M541.3,365.2V368.7" stroke="#1a1aee" stroke-width="0.6" fill="none"/>
<path d="M542.0,365.3L546.4,367.9M542.0,367.9L546.4,365.3M544.2,364.9V368.4" stroke="#1a1aee" stroke-width="0.6" fill="none"/>
<path d="M519.1,365.7L523.5,368.3M519.1,368.3L523.5,365.7M521.3,365.2V368.7" stroke="#1a1aee" stroke-width="0.6" fill="none"/>
<path d="M514.0,368.0L514.0,365.0M516.5,368.0L516.5,319.8M517.8,368.0L517.8,356.0M519.2,368.0L519.2,337.3M520.5,368.0L520.5,358.0M522.5,368.0L522.5,355.0M524.0,368.0L524.0,360.0M526.0,368.0L526.0,356.0M528.0,368.0L528.0,360.0M530.0,368.0L530.0,357.0M532.0,368.0L532.0,361.0M534.0,368.0L534.0,358.0M536.0,368.0L536.0,362.0M538.0,368.0L538.0,363.0M541.0,368.0L541.0,365.0M545.0,368.0L545.0,366.0" stroke="#1a1aee" stroke-width="0.9" fill="none"/>
<polyline points="514.0,365.0 516.5,319.8 517.8,356.0 519.2,337.3 520.5,358.0 522.5,355.0 524.0,360.0 526.0,356.0 528.0,360.0 530.0,357.0 532.0,361.0 534.0,358.0 536.0,362.0 538.0,363.0 541.0,365.0 545.0,366.0" stroke="#1a1aee" stroke-width="0.54" fill="none" opacity="0.45"/>
<path d="M511.2,363.3L516.8,366.7M511.2,366.7L516.8,363.3M514.0,362.8V367.2" stroke="#1a1aee" stroke-width="0.8" fill="none"/>
<path d="M513.7,318.1L519.3,321.5M513.7,321.5L519.3,318.1M516.5,317.6V322.0" stroke="#1a1aee" stroke-width="0.8" fill="none"/>
<path d="M515.0,354.3L520.6,357.7M515.0,357.7L520.6,354.3M517.8,353.8V358.2" stroke="#1a1aee" stroke-width="0.8" fill="none"/>
<path d="M516.4,335.6L522.0,339.0M516.4,339.0L522.0,335.6M519.2,335.1V339.5" stroke="#1a1aee" stroke-width="0.8" fill="none"/>
<path d="M517.7,356.3L523.3,359.7M517.7,359.7L523.3,356.3M520.5,355.8V360.2" stroke="#1a1aee" stroke-width="0.8" fill="none"/>
<path d="M519.7,353.3L525.3,356.7M519.7,356.7L525.3,353.3M522.5,352.8V357.2" stroke="#1a1aee" stroke-width="0.8" fill="none"/>
<path d="M521.2,358.3L526.8,361.7M521.2,361.7L526.8,358.3M524.0,357.8V362.2" stroke="#1a1aee" stroke-width="0.8" fill="none"/>
<path d="M523.2,354.3L528.8,357.7M523.2,357.7L528.8,354.3M526.0,353.8V358.2" stroke="#1a1aee" stroke-width="0.8" fill="none"/>
<path d="M525.2,358.3L530.8,361.7M525.2,361.7L530.8,358.3M528.0,357.8V362.2" stroke="#1a1aee" stroke-width="0.8" fill="none"/>
<path d="M527.2,355.3L532.8,358.7M527.2,358.7L532.8,355.3M530.0,354.8V359.2" stroke="#1a1aee" stroke-width="0.8" fill="none"/>
<path d="M529.2,359.3L534.8,362.7M529.2,362.7L534.8,359.3M532.0,358.8V363.2" stroke="#1a1aee" stroke-width="0.8" fill="none"/>
<path d="M531.2,356.3L536.8,359.7M531.2,359.7L536.8,356.3M534.0,355.8V360.2" stroke="#1a1aee" stroke-width="0.8" fill="none"/>
<path d="M533.2,360.3L538.8,363.7M533.2,363.7L538.8,360.3M536.0,359.8V364.2" stroke="#1a1aee" stroke-width="0.8" fill="none"/>
<path d="M535.2,361.3L540.8,364.7M535.2,364.7L540.8,361.3M538.0,360.8V365.2" stroke="#1a1aee" stroke-width="0.8" fill="none"/>
<path d="M538.2,363.3L543.8,366.7M538.2,366.7L543.8,363.3M541.0,362.8V367.2" stroke="#1a1aee" stroke-width="0.8" fill="none"/>
<path d="M542.2,364.3L547.8,367.7M542.2,367.7L547.8,364.3M545.0,363.8V368.2" stroke="#1a1aee" stroke-width="0.8" fill="none"/>
<path d="M591.8,365.4L596.2,368.0M591.8,368.0L596.2,365.4M594.0,364.9V368.5" stroke="#ff1a1a" stroke-width="0.6" fill="none"/>
<path d="M572.5,365.5L576.9,368.1M572.5,368.1L576.9,365.5M574.7,365.1V368.6" stroke="#ff1a1a" stroke-width="0.6" fill="none"/>
<path d="M590.3,365.8L594.7,368.5M590.3,368.5L594.7,365.8M592.5,365.4V368.9" stroke="#ff1a1a" stroke-width="0.6" fill="none"/>
<path d="M580.8,366.1L585.2,368.7M580.8,368.7L585.2,366.1M583.0,365.7V369.2" stroke="#ff1a1a" stroke-width="0.6" fill="none"/>
<path d="M579.1,365.8L583.5,368.4M579.1,368.4L583.5,365.8M581.3,365.3V368.8" stroke="#ff1a1a" stroke-width="0.6" fill="none"/>
<path d="M559.0,365.7L563.4,368.4M559.0,368.4L563.4,365.7M561.2,365.3V368.8" stroke="#ff1a1a" stroke-width="0.6" fill="none"/>
<path d="M595.5,365.4L599.9,368.0M595.5,368.0L599.9,365.4M597.7,364.9V368.4" stroke="#ff1a1a" stroke-width="0.6" fill="none"/>
<path d="M584.9,366.1L589.3,368.7M584.9,368.7L589.3,366.1M587.1,365.7V369.2" stroke="#ff1a1a" stroke-width="0.6" fill="none"/>
<path d="M585.2,365.8L589.6,368.4M585.2,368.4L589.6,365.8M587.4,365.4V368.9" stroke="#ff1a1a" stroke-width="0.6" fill="none"/>
<path d="M573.4,365.4L577.8,368.1M573.4,368.1L577.8,365.4M575.6,365.0V368.5" stroke="#ff1a1a" stroke-width="0.6" fill="none"/>
<path d="M559.2,365.6L563.6,368.2M559.2,368.2L563.6,365.6M561.4,365.1V368.6" stroke="#ff1a1a" stroke-width="0.6" fill="none"/>
<path d="M557.0,365.8L561.4,368.4M557.0,368.4L561.4,365.8M559.2,365.3V368.9" stroke="#ff1a1a" stroke-width="0.6" fill="none"/>
<path d="M575.0,366.3L579.4,369.0M575.0,369.0L579.4,366.3M577.2,365.9V369.4" stroke="#ff1a1a" stroke-width="0.6" fill="none"/>
<path d="M583.7,365.9L588.1,368.6M583.7,368.6L588.1,365.9M585.9,365.5V369.0" stroke="#ff1a1a" stroke-width="0.6" fill="none"/>
<path d="M580.4,365.3L584.8,367.9M580.4,367.9L584.8,365.3M582.6,364.9V368.4" stroke="#ff1a1a" stroke-width="0.6" fill="none"/>
<path d="M566.0,366.7L570.4,369.3M566.0,369.3L570.4,366.7M568.2,366.2V369.7" stroke="#ff1a1a" stroke-width="0.6" fill="none"/>
<path d="M567.8,365.7L572.2,368.3M567.8,368.3L572.2,365.7M570.0,365.2V368.7" stroke="#ff1a1a" stroke-width="0.6" fill="none"/>
<path d="M563.9,366.4L568.3,369.1M563.9,369.1L568.3,366.4M566.1,366.0V369.5" stroke="#ff1a1a" stroke-width="0.6" fill="none"/>
<path d="M592.0,365.7L596.4,368.3M592.0,368.3L596.4,365.7M594.2,365.3V368.8" stroke="#ff1a1a" stroke-width="0.6" fill="none"/>
<path d="M573.5,365.3L577.9,368.0M573.5,368.0L577.9,365.3M575.7,364.9V368.4" stroke="#ff1a1a" stroke-width="0.6" fill="none"/>
<path d="M568.9,365.7L573.3,368.3M568.9,368.3L573.3,365.7M571.1,365.2V368.8" stroke="#ff1a1a" stroke-width="0.6" fill="none"/>
<path d="M563.7,366.0L568.1,368.7M563.7,368.7L568.1,366.0M565.9,365.6V369.1" stroke="#ff1a1a" stroke-width="0.6" fill="none"/>
<path d="M588.0,365.3L592.4,367.9M588.0,367.9L592.4,365.3M590.2,364.9V368.4" stroke="#ff1a1a" stroke-width="0.6" fill="none"/>
<path d="M591.0,366.1L595.4,368.7M591.0,368.7L595.4,366.1M593.2,365.7V369.2" stroke="#ff1a1a" stroke-width="0.6" fill="none"/>
<path d="M570.5,368.0L570.5,366.0M572.1,368.0L572.1,285.0M573.2,368.0L573.2,350.0M574.1,368.0L574.1,323.9M575.0,368.0L575.0,345.0M576.0,368.0L576.0,355.0M577.5,368.0L577.5,352.0M579.0,368.0L579.0,358.0M581.0,368.0L581.0,355.0M583.0,368.0L583.0,360.0M585.0,368.0L585.0,357.0M587.0,368.0L587.0,362.0M590.0,368.0L590.0,364.0M594.0,368.0L594.0,366.0" stroke="#ff1a1a" stroke-width="0.9" fill="none"/>
<polyline points="570.5,366.0 572.1,285.0 573.2,350.0 574.1,323.9 575.0,345.0 576.0,355.0 577.5,352.0 579.0,358.0 581.0,355.0 583.0,360.0 585.0,357.0 587.0,362.0 590.0,364.0 594.0,366.0" stroke="#ff1a1a" stroke-width="0.54" fill="none" opacity="0.45"/>
<path d="M567.7,364.3L573.3,367.7M567.7,367.7L573.3,364.3M570.5,363.8V368.2" stroke="#ff1a1a" stroke-width="0.8" fill="none"/>
<path d="M569.3,283.3L574.9,286.7M569.3,286.7L574.9,283.3M572.1,282.8V287.2" stroke="#ff1a1a" stroke-width="0.8" fill="none"/>
<path d="M570.4,348.3L576.0,351.7M570.4,351.7L576.0,348.3M573.2,347.8V352.2" stroke="#ff1a1a" stroke-width="0.8" fill="none"/>
<path d="M571.3,322.2L576.9,325.6M571.3,325.6L576.9,322.2M574.1,321.7V326.1" stroke="#ff1a1a" stroke-width="0.8" fill="none"/>
<path d="M572.2,343.3L577.8,346.7M572.2,346.7L577.8,343.3M575.0,342.8V347.2" stroke="#ff1a1a" stroke-width="0.8" fill="none"/>
<path d="M573.2,353.3L578.8,356.7M573.2,356.7L578.8,353.3M576.0,352.8V357.2" stroke="#ff1a1a" stroke-width="0.8" fill="none"/>
<path d="M574.7,350.3L580.3,353.7M574.7,353.7L580.3,350.3M577.5,349.8V354.2" stroke="#ff1a1a" stroke-width="0.8" fill="none"/>
<path d="M576.2,356.3L581.8,359.7M576.2,359.7L581.8,356.3M579.0,355.8V360.2" stroke="#ff1a1a" stroke-width="0.8" fill="none"/>
<path d="M578.2,353.3L583.8,356.7M578.2,356.7L583.8,353.3M581.0,352.8V357.2" stroke="#ff1a1a" stroke-width="0.8" fill="none"/>
<path d="M580.2,358.3L585.8,361.7M580.2,361.7L585.8,358.3M583.0,357.8V362.2" stroke="#ff1a1a" stroke-width="0.8" fill="none"/>
<path d="M582.2,355.3L587.8,358.7M582.2,358.7L587.8,355.3M585.0,354.8V359.2" stroke="#ff1a1a" stroke-width="0.8" fill="none"/>
<path d="M584.2,360.3L589.8,363.7M584.2,363.7L589.8,360.3M587.0,359.8V364.2" stroke="#ff1a1a" stroke-width="0.8" fill="none"/>
<path d="M587.2,362.3L592.8,365.7M587.2,365.7L592.8,362.3M590.0,361.8V366.2" stroke="#ff1a1a" stroke-width="0.8" fill="none"/>
<path d="M591.2,364.3L596.8,367.7M591.2,367.7L596.8,364.3M594.0,363.8V368.2" stroke="#ff1a1a" stroke-width="0.8" fill="none"/>
<rect x="644.8" y="366.1" width="4.4" height="3.1" stroke="#22dd22" stroke-width="0.6" fill="none"/>
<rect x="618.0" y="366.0" width="4.4" height="3.1" stroke="#22dd22" stroke-width="0.6" fill="none"/>
<rect x="660.0" y="365.6" width="4.4" height="3.1" stroke="#22dd22" stroke-width="0.6" fill="none"/>
<rect x="652.5" y="365.5" width="4.4" height="3.1" stroke="#22dd22" stroke-width="0.6" fill="none"/>
<rect x="626.4" y="366.3" width="4.4" height="3.1" stroke="#22dd22" stroke-width="0.6" fill="none"/>
<rect x="636.8" y="366.2" width="4.4" height="3.1" stroke="#22dd22" stroke-width="0.6" fill="none"/>
<rect x="622.6" y="366.0" width="4.4" height="3.1" stroke="#22dd22" stroke-width="0.6" fill="none"/>
<rect x="647.3" y="366.0" width="4.4" height="3.1" stroke="#22dd22" stroke-width="0.6" fill="none"/>
<rect x="628.7" y="365.6" width="4.4" height="3.1" stroke="#22dd22" stroke-width="0.6" fill="none"/>
<rect x="668.7" y="366.0" width="4.4" height="3.1" stroke="#22dd22" stroke-width="0.6" fill="none"/>
<rect x="614.3" y="366.4" width="4.4" height="3.1" stroke="#22dd22" stroke-width="0.6" fill="none"/>
<rect x="662.2" y="366.4" width="4.4" height="3.1" stroke="#22dd22" stroke-width="0.6" fill="none"/>
<rect x="652.3" y="365.9" width="4.4" height="3.1" stroke="#22dd22" stroke-width="0.6" fill="none"/>
<rect x="628.3" y="365.7" width="4.4" height="3.1" stroke="#22dd22" stroke-width="0.6" fill="none"/>
<path d="M625.5,368.0L625.5,364.0M627.4,368.0L627.4,303.2M628.5,368.0L628.5,350.0M630.4,368.0L630.4,333.4M631.5,368.0L631.5,352.0M633.0,368.0L633.0,355.0M635.0,368.0L635.0,358.0M637.0,368.0L637.0,356.0M639.0,368.0L639.0,360.0M641.0,368.0L641.0,358.0M643.0,368.0L643.0,362.0M646.0,368.0L646.0,364.0" stroke="#22dd22" stroke-width="0.9" fill="none"/>
<polyline points="625.5,364.0 627.4,303.2 628.5,350.0 630.4,333.4 631.5,352.0 633.0,355.0 635.0,358.0 637.0,356.0 639.0,360.0 641.0,358.0 643.0,362.0 646.0,364.0" stroke="#22dd22" stroke-width="0.54" fill="none" opacity="0.45"/>
<rect x="622.7" y="362.0" width="5.6" height="3.9" stroke="#22dd22" stroke-width="0.8" fill="none"/>
<rect x="624.6" y="301.2" width="5.6" height="3.9" stroke="#22dd22" stroke-width="0.8" fill="none"/>
<rect x="625.7" y="348.0" width="5.6" height="3.9" stroke="#22dd22" stroke-width="0.8" fill="none"/>
<rect x="627.6" y="331.4" width="5.6" height="3.9" stroke="#22dd22" stroke-width="0.8" fill="none"/>
<rect x="628.7" y="350.0" width="5.6" height="3.9" stroke="#22dd22" stroke-width="0.8" fill="none"/>
<rect x="630.2" y="353.0" width="5.6" height="3.9" stroke="#22dd22" stroke-width="0.8" fill="none"/>
<rect x="632.2" y="356.0" width="5.6" height="3.9" stroke="#22dd22" stroke-width="0.8" fill="none"/>
<rect x="634.2" y="354.0" width="5.6" height="3.9" stroke="#22dd22" stroke-width="0.8" fill="none"/>
<rect x="636.2" y="358.0" width="5.6" height="3.9" stroke="#22dd22" stroke-width="0.8" fill="none"/>
<rect x="638.2" y="356.0" width="5.6" height="3.9" stroke="#22dd22" stroke-width="0.8" fill="none"/>
<rect x="640.2" y="360.0" width="5.6" height="3.9" stroke="#22dd22" stroke-width="0.8" fill="none"/>
<rect x="643.2" y="362.0" width="5.6" height="3.9" stroke="#22dd22" stroke-width="0.8" fill="none"/>
<rect x="614.0" y="363.4" width="6.0" height="4.2" stroke="#22dd22" stroke-width="0.7" fill="none"/>
<rect x="501" y="460.9" width="55" height="3.4" fill="#0000c8"/>
<rect x="556" y="460.9" width="56" height="3.4" fill="#dd0000"/>
<rect x="612" y="460.9" width="61.700000000000045" height="3.4" fill="#11cc11"/>
<path d="M501.8,460.5L506.2,463.1M501.8,463.1L506.2,460.5M504.0,460.0V463.6" stroke="#1a1aee" stroke-width="0.6" fill="none"/>
<path d="M524.5,460.6L528.9,463.3M524.5,463.3L528.9,460.6M526.7,460.2V463.7" stroke="#1a1aee" stroke-width="0.6" fill="none"/>
<path d="M543.9,460.3L548.3,463.0M543.9,463.0L548.3,460.3M546.1,459.9V463.4" stroke="#1a1aee" stroke-width="0.6" fill="none"/>
<path d="M508.1,460.6L512.5,463.2M508.1,463.2L512.5,460.6M510.3,460.2V463.7" stroke="#1a1aee" stroke-width="0.6" fill="none"/>
<path d="M533.5,460.0L537.9,462.7M533.5,462.7L537.9,460.0M535.7,459.6V463.1" stroke="#1a1aee" stroke-width="0.6" fill="none"/>
<path d="M533.6,459.7L538.0,462.3M533.6,462.3L538.0,459.7M535.8,459.3V462.8" stroke="#1a1aee" stroke-width="0.6" fill="none"/>
<path d="M542.8,459.2L547.2,461.9M542.8,461.9L547.2,459.2M545.0,458.8V462.3" stroke="#1a1aee" stroke-width="0.6" fill="none"/>
<path d="M536.4,460.4L540.8,463.0M536.4,463.0L540.8,460.4M538.6,459.9V463.5" stroke="#1a1aee" stroke-width="0.6" fill="none"/>
<path d="M525.5,460.4L529.9,463.1M525.5,463.1L529.9,460.4M527.7,460.0V463.5" stroke="#1a1aee" stroke-width="0.6" fill="none"/>
<path d="M501.4,460.0L505.8,462.6M501.4,462.6L505.8,460.0M503.6,459.5V463.1" stroke="#1a1aee" stroke-width="0.6" fill="none"/>
<path d="M537.9,460.4L542.3,463.1M537.9,463.1L542.3,460.4M540.1,460.0V463.5" stroke="#1a1aee" stroke-width="0.6" fill="none"/>
<path d="M515.0,460.2L519.4,462.8M515.0,462.8L519.4,460.2M517.2,459.7V463.2" stroke="#1a1aee" stroke-width="0.6" fill="none"/>
<path d="M537.1,459.9L541.5,462.5M537.1,462.5L541.5,459.9M539.3,459.5V463.0" stroke="#1a1aee" stroke-width="0.6" fill="none"/>
<path d="M532.8,459.5L537.2,462.2M532.8,462.2L537.2,459.5M535.0,459.1V462.6" stroke="#1a1aee" stroke-width="0.6" fill="none"/>
<path d="M521.3,459.5L525.7,462.1M521.3,462.1L525.7,459.5M523.5,459.1V462.6" stroke="#1a1aee" stroke-width="0.6" fill="none"/>
<path d="M547.9,460.5L552.3,463.2M547.9,463.2L552.3,460.5M550.1,460.1V463.6" stroke="#1a1aee" stroke-width="0.6" fill="none"/>
<path d="M549.3,459.6L553.7,462.2M549.3,462.2L553.7,459.6M551.5,459.2V462.7" stroke="#1a1aee" stroke-width="0.6" fill="none"/>
<path d="M507.6,460.0L512.0,462.6M507.6,462.6L512.0,460.0M509.8,459.6V463.1" stroke="#1a1aee" stroke-width="0.6" fill="none"/>
<path d="M533.3,459.3L537.7,462.0M533.3,462.0L537.7,459.3M535.5,458.9V462.4" stroke="#1a1aee" stroke-width="0.6" fill="none"/>
<path d="M520.4,459.8L524.8,462.5M520.4,462.5L524.8,459.8M522.6,459.4V462.9" stroke="#1a1aee" stroke-width="0.6" fill="none"/>
<path d="M546.5,459.5L550.9,462.1M546.5,462.1L550.9,459.5M548.7,459.0V462.6" stroke="#1a1aee" stroke-width="0.6" fill="none"/>
<path d="M549.9,460.0L554.3,462.6M549.9,462.6L554.3,460.0M552.1,459.5V463.1" stroke="#1a1aee" stroke-width="0.6" fill="none"/>
<path d="M534.7,460.4L539.1,463.0M534.7,463.0L539.1,460.4M536.9,459.9V463.5" stroke="#1a1aee" stroke-width="0.6" fill="none"/>
<path d="M538.3,459.5L542.7,462.1M538.3,462.1L542.7,459.5M540.5,459.0V462.5" stroke="#1a1aee" stroke-width="0.6" fill="none"/>
<path d="M534.2,459.6L538.6,462.2M534.2,462.2L538.6,459.6M536.4,459.2V462.7" stroke="#1a1aee" stroke-width="0.6" fill="none"/>
<path d="M508.0,462.5L508.0,460.0M514.1,462.5L514.1,451.5M517.0,462.5L517.0,458.0M520.1,462.5L520.1,447.5M522.1,462.5L522.1,435.4M523.0,462.5L523.0,455.0M524.2,462.5L524.2,424.4M526.2,462.5L526.2,422.7M527.0,462.5L527.0,450.0M528.2,462.5L528.2,413.3M529.8,462.5L529.8,415.3M531.0,462.5L531.0,452.0M532.2,462.5L532.2,440.5M534.2,462.5L534.2,439.5M535.0,462.5L535.0,450.0M536.2,462.5L536.2,442.5M538.0,462.5L538.0,450.0M540.0,462.5L540.0,454.0M543.0,462.5L543.0,457.0M547.0,462.5L547.0,459.0M551.0,462.5L551.0,460.0" stroke="#1a1aee" stroke-width="0.9" fill="none"/>
<polyline points="508.0,460.0 514.1,451.5 517.0,458.0 520.1,447.5 522.1,435.4 523.0,455.0 524.2,424.4 526.2,422.7 527.0,450.0 528.2,413.3 529.8,415.3 531.0,452.0 532.2,440.5 534.2,439.5 535.0,450.0 536.2,442.5 538.0,450.0 540.0,454.0 543.0,457.0 547.0,459.0 551.0,460.0" stroke="#1a1aee" stroke-width="0.54" fill="none" opacity="0.45"/>
<path d="M505.2,458.3L510.8,461.7M505.2,461.7L510.8,458.3M508.0,457.8V462.2" stroke="#1a1aee" stroke-width="0.8" fill="none"/>
<path d="M511.3,449.8L516.9,453.2M511.3,453.2L516.9,449.8M514.1,449.3V453.7" stroke="#1a1aee" stroke-width="0.8" fill="none"/>
<path d="M514.2,456.3L519.8,459.7M514.2,459.7L519.8,456.3M517.0,455.8V460.2" stroke="#1a1aee" stroke-width="0.8" fill="none"/>
<path d="M517.3,445.8L522.9,449.2M517.3,449.2L522.9,445.8M520.1,445.3V449.7" stroke="#1a1aee" stroke-width="0.8" fill="none"/>
<path d="M519.3,433.7L524.9,437.1M519.3,437.1L524.9,433.7M522.1,433.2V437.6" stroke="#1a1aee" stroke-width="0.8" fill="none"/>
<path d="M520.2,453.3L525.8,456.7M520.2,456.7L525.8,453.3M523.0,452.8V457.2" stroke="#1a1aee" stroke-width="0.8" fill="none"/>
<path d="M521.4,422.7L527.0,426.1M521.4,426.1L527.0,422.7M524.2,422.2V426.6" stroke="#1a1aee" stroke-width="0.8" fill="none"/>
<path d="M523.4,421.0L529.0,424.4M523.4,424.4L529.0,421.0M526.2,420.5V424.9" stroke="#1a1aee" stroke-width="0.8" fill="none"/>
<path d="M524.2,448.3L529.8,451.7M524.2,451.7L529.8,448.3M527.0,447.8V452.2" stroke="#1a1aee" stroke-width="0.8" fill="none"/>
<path d="M525.4,411.6L531.0,415.0M525.4,415.0L531.0,411.6M528.2,411.1V415.5" stroke="#1a1aee" stroke-width="0.8" fill="none"/>
<path d="M527.0,413.6L532.6,417.0M527.0,417.0L532.6,413.6M529.8,413.1V417.5" stroke="#1a1aee" stroke-width="0.8" fill="none"/>
<path d="M528.2,450.3L533.8,453.7M528.2,453.7L533.8,450.3M531.0,449.8V454.2" stroke="#1a1aee" stroke-width="0.8" fill="none"/>
<path d="M529.4,438.8L535.0,442.2M529.4,442.2L535.0,438.8M532.2,438.3V442.7" stroke="#1a1aee" stroke-width="0.8" fill="none"/>
<path d="M531.4,437.8L537.0,441.2M531.4,441.2L537.0,437.8M534.2,437.3V441.7" stroke="#1a1aee" stroke-width="0.8" fill="none"/>
<path d="M532.2,448.3L537.8,451.7M532.2,451.7L537.8,448.3M535.0,447.8V452.2" stroke="#1a1aee" stroke-width="0.8" fill="none"/>
<path d="M533.4,440.8L539.0,444.2M533.4,444.2L539.0,440.8M536.2,440.3V444.7" stroke="#1a1aee" stroke-width="0.8" fill="none"/>
<path d="M535.2,448.3L540.8,451.7M535.2,451.7L540.8,448.3M538.0,447.8V452.2" stroke="#1a1aee" stroke-width="0.8" fill="none"/>
<path d="M537.2,452.3L542.8,455.7M537.2,455.7L542.8,452.3M540.0,451.8V456.2" stroke="#1a1aee" stroke-width="0.8" fill="none"/>
<path d="M540.2,455.3L545.8,458.7M540.2,458.7L545.8,455.3M543.0,454.8V459.2" stroke="#1a1aee" stroke-width="0.8" fill="none"/>
<path d="M544.2,457.3L549.8,460.7M544.2,460.7L549.8,457.3M547.0,456.8V461.2" stroke="#1a1aee" stroke-width="0.8" fill="none"/>
<path d="M548.2,458.3L553.8,461.7M548.2,461.7L553.8,458.3M551.0,457.8V462.2" stroke="#1a1aee" stroke-width="0.8" fill="none"/>
<path d="M566.9,459.3L571.3,462.0M566.9,462.0L571.3,459.3M569.1,458.9V462.4" stroke="#ff1a1a" stroke-width="0.6" fill="none"/>
<path d="M606.8,459.2L611.2,461.9M606.8,461.9L611.2,459.2M609.0,458.8V462.3" stroke="#ff1a1a" stroke-width="0.6" fill="none"/>
<path d="M583.7,459.5L588.1,462.1M583.7,462.1L588.1,459.5M585.9,459.1V462.6" stroke="#ff1a1a" stroke-width="0.6" fill="none"/>
<path d="M572.5,459.3L576.9,462.0M572.5,462.0L576.9,459.3M574.7,458.9V462.4" stroke="#ff1a1a" stroke-width="0.6" fill="none"/>
<path d="M600.3,460.2L604.7,462.8M600.3,462.8L604.7,460.2M602.5,459.7V463.2" stroke="#ff1a1a" stroke-width="0.6" fill="none"/>
<path d="M560.1,460.0L564.5,462.7M560.1,462.7L564.5,460.0M562.3,459.6V463.1" stroke="#ff1a1a" stroke-width="0.6" fill="none"/>
<path d="M584.4,459.5L588.8,462.2M584.4,462.2L588.8,459.5M586.6,459.1V462.6" stroke="#ff1a1a" stroke-width="0.6" fill="none"/>
<path d="M581.1,460.6L585.5,463.3M581.1,463.3L585.5,460.6M583.3,460.2V463.7" stroke="#ff1a1a" stroke-width="0.6" fill="none"/>
<path d="M597.9,460.6L602.3,463.2M597.9,463.2L602.3,460.6M600.1,460.1V463.7" stroke="#ff1a1a" stroke-width="0.6" fill="none"/>
<path d="M597.4,460.4L601.8,463.1M597.4,463.1L601.8,460.4M599.6,460.0V463.5" stroke="#ff1a1a" stroke-width="0.6" fill="none"/>
<path d="M573.2,459.5L577.6,462.1M573.2,462.1L577.6,459.5M575.4,459.1V462.6" stroke="#ff1a1a" stroke-width="0.6" fill="none"/>
<path d="M563.1,460.5L567.5,463.1M563.1,463.1L567.5,460.5M565.3,460.0V463.5" stroke="#ff1a1a" stroke-width="0.6" fill="none"/>
<path d="M582.7,459.6L587.1,462.2M582.7,462.2L587.1,459.6M584.9,459.2V462.7" stroke="#ff1a1a" stroke-width="0.6" fill="none"/>
<path d="M599.5,459.6L603.9,462.3M599.5,462.3L603.9,459.6M601.7,459.2V462.7" stroke="#ff1a1a" stroke-width="0.6" fill="none"/>
<path d="M605.0,459.9L609.4,462.6M605.0,462.6L609.4,459.9M607.2,459.5V463.0" stroke="#ff1a1a" stroke-width="0.6" fill="none"/>
<path d="M605.2,460.6L609.6,463.2M605.2,463.2L609.6,460.6M607.4,460.1V463.6" stroke="#ff1a1a" stroke-width="0.6" fill="none"/>
<path d="M567.3,459.9L571.7,462.5M567.3,462.5L571.7,459.9M569.5,459.5V463.0" stroke="#ff1a1a" stroke-width="0.6" fill="none"/>
<path d="M570.9,459.6L575.3,462.2M570.9,462.2L575.3,459.6M573.1,459.1V462.7" stroke="#ff1a1a" stroke-width="0.6" fill="none"/>
<path d="M589.0,459.9L593.4,462.5M589.0,462.5L593.4,459.9M591.2,459.5V463.0" stroke="#ff1a1a" stroke-width="0.6" fill="none"/>
<path d="M599.7,459.8L604.1,462.5M599.7,462.5L604.1,459.8M601.9,459.4V462.9" stroke="#ff1a1a" stroke-width="0.6" fill="none"/>
<path d="M572.0,460.1L576.4,462.7M572.0,462.7L576.4,460.1M574.2,459.7V463.2" stroke="#ff1a1a" stroke-width="0.6" fill="none"/>
<path d="M599.8,459.3L604.2,462.0M599.8,462.0L604.2,459.3M602.0,458.9V462.4" stroke="#ff1a1a" stroke-width="0.6" fill="none"/>
<path d="M566.6,459.4L571.0,462.0M566.6,462.0L571.0,459.4M568.8,459.0V462.5" stroke="#ff1a1a" stroke-width="0.6" fill="none"/>
<path d="M606.2,459.9L610.6,462.5M606.2,462.5L610.6,459.9M608.4,459.5V463.0" stroke="#ff1a1a" stroke-width="0.6" fill="none"/>
<path d="M585.6,460.4L590.0,463.0M585.6,463.0L590.0,460.4M587.8,459.9V463.5" stroke="#ff1a1a" stroke-width="0.6" fill="none"/>
<path d="M561.0,462.5L561.0,458.6M569.1,462.5L569.1,443.5M575.1,462.5L575.1,454.6M576.1,462.5L576.1,431.4M578.2,462.5L578.2,412.3M579.2,462.5L579.2,392.1M580.2,462.5L580.2,424.4M582.2,462.5L582.2,436.4M583.2,462.5L583.2,376.0M584.2,462.5L584.2,388.1M585.2,462.5L585.2,382.0M586.2,462.5L586.2,423.4M588.2,462.5L588.2,438.5M590.2,462.5L590.2,430.4M591.2,462.5L591.2,438.5M594.3,462.5L594.3,452.5M597.0,462.5L597.0,455.0M600.0,462.5L600.0,458.0M604.0,462.5L604.0,459.5" stroke="#ff1a1a" stroke-width="0.9" fill="none"/>
<polyline points="561.0,458.6 569.1,443.5 575.1,454.6 576.1,431.4 578.2,412.3 579.2,392.1 580.2,424.4 582.2,436.4 583.2,376.0 584.2,388.1 585.2,382.0 586.2,423.4 588.2,438.5 590.2,430.4 591.2,438.5 594.3,452.5 597.0,455.0 600.0,458.0 604.0,459.5" stroke="#ff1a1a" stroke-width="0.54" fill="none" opacity="0.45"/>
<path d="M558.2,456.9L563.8,460.3M558.2,460.3L563.8,456.9M561.0,456.4V460.8" stroke="#ff1a1a" stroke-width="0.8" fill="none"/>
<path d="M566.3,441.8L571.9,445.2M566.3,445.2L571.9,441.8M569.1,441.3V445.7" stroke="#ff1a1a" stroke-width="0.8" fill="none"/>
<path d="M572.3,452.9L577.9,456.3M572.3,456.3L577.9,452.9M575.1,452.4V456.8" stroke="#ff1a1a" stroke-width="0.8" fill="none"/>
<path d="M573.3,429.7L578.9,433.1M573.3,433.1L578.9,429.7M576.1,429.2V433.6" stroke="#ff1a1a" stroke-width="0.8" fill="none"/>
<path d="M575.4,410.6L581.0,414.0M575.4,414.0L581.0,410.6M578.2,410.1V414.5" stroke="#ff1a1a" stroke-width="0.8" fill="none"/>
<path d="M576.4,390.4L582.0,393.8M576.4,393.8L582.0,390.4M579.2,389.9V394.3" stroke="#ff1a1a" stroke-width="0.8" fill="none"/>
<path d="M577.4,422.7L583.0,426.1M577.4,426.1L583.0,422.7M580.2,422.2V426.6" stroke="#ff1a1a" stroke-width="0.8" fill="none"/>
<path d="M579.4,434.7L585.0,438.1M579.4,438.1L585.0,434.7M582.2,434.2V438.6" stroke="#ff1a1a" stroke-width="0.8" fill="none"/>
<path d="M580.4,374.3L586.0,377.7M580.4,377.7L586.0,374.3M583.2,373.8V378.2" stroke="#ff1a1a" stroke-width="0.8" fill="none"/>
<path d="M581.4,386.4L587.0,389.8M581.4,389.8L587.0,386.4M584.2,385.9V390.3" stroke="#ff1a1a" stroke-width="0.8" fill="none"/>
<path d="M582.4,380.3L588.0,383.7M582.4,383.7L588.0,380.3M585.2,379.8V384.2" stroke="#ff1a1a" stroke-width="0.8" fill="none"/>
<path d="M583.4,421.7L589.0,425.1M583.4,425.1L589.0,421.7M586.2,421.2V425.6" stroke="#ff1a1a" stroke-width="0.8" fill="none"/>
<path d="M585.4,436.8L591.0,440.2M585.4,440.2L591.0,436.8M588.2,436.3V440.7" stroke="#ff1a1a" stroke-width="0.8" fill="none"/>
<path d="M587.4,428.7L593.0,432.1M587.4,432.1L593.0,428.7M590.2,428.2V432.6" stroke="#ff1a1a" stroke-width="0.8" fill="none"/>
<path d="M588.4,436.8L594.0,440.2M588.4,440.2L594.0,436.8M591.2,436.3V440.7" stroke="#ff1a1a" stroke-width="0.8" fill="none"/>
<path d="M591.5,450.8L597.1,454.2M591.5,454.2L597.1,450.8M594.3,450.3V454.7" stroke="#ff1a1a" stroke-width="0.8" fill="none"/>
<path d="M594.2,453.3L599.8,456.7M594.2,456.7L599.8,453.3M597.0,452.8V457.2" stroke="#ff1a1a" stroke-width="0.8" fill="none"/>
<path d="M597.2,456.3L602.8,459.7M597.2,459.7L602.8,456.3M600.0,455.8V460.2" stroke="#ff1a1a" stroke-width="0.8" fill="none"/>
<path d="M601.2,457.8L606.8,461.2M601.2,461.2L606.8,457.8M604.0,457.3V461.7" stroke="#ff1a1a" stroke-width="0.8" fill="none"/>
<rect x="642.9" y="460.0" width="4.4" height="3.1" stroke="#22dd22" stroke-width="0.6" fill="none"/>
<rect x="646.9" y="460.4" width="4.4" height="3.1" stroke="#22dd22" stroke-width="0.6" fill="none"/>
<rect x="668.0" y="459.9" width="4.4" height="3.1" stroke="#22dd22" stroke-width="0.6" fill="none"/>
<rect x="635.0" y="459.7" width="4.4" height="3.1" stroke="#22dd22" stroke-width="0.6" fill="none"/>
<rect x="644.4" y="460.0" width="4.4" height="3.1" stroke="#22dd22" stroke-width="0.6" fill="none"/>
<rect x="651.9" y="460.4" width="4.4" height="3.1" stroke="#22dd22" stroke-width="0.6" fill="none"/>
<rect x="643.0" y="460.0" width="4.4" height="3.1" stroke="#22dd22" stroke-width="0.6" fill="none"/>
<rect x="667.3" y="459.5" width="4.4" height="3.1" stroke="#22dd22" stroke-width="0.6" fill="none"/>
<rect x="627.4" y="460.0" width="4.4" height="3.1" stroke="#22dd22" stroke-width="0.6" fill="none"/>
<rect x="619.2" y="460.0" width="4.4" height="3.1" stroke="#22dd22" stroke-width="0.6" fill="none"/>
<rect x="659.1" y="459.6" width="4.4" height="3.1" stroke="#22dd22" stroke-width="0.6" fill="none"/>
<rect x="639.4" y="460.1" width="4.4" height="3.1" stroke="#22dd22" stroke-width="0.6" fill="none"/>
<rect x="622.9" y="459.8" width="4.4" height="3.1" stroke="#22dd22" stroke-width="0.6" fill="none"/>
<rect x="665.5" y="460.3" width="4.4" height="3.1" stroke="#22dd22" stroke-width="0.6" fill="none"/>
<path d="M616.0,462.5L616.0,458.5M625.1,462.5L625.1,446.4M630.1,462.5L630.1,438.4M631.1,462.5L631.1,422.3M634.1,462.5L634.1,406.2M635.1,462.5L635.1,423.3M637.2,462.5L637.2,393.1M638.2,462.5L638.2,402.2M639.2,462.5L639.2,394.1M641.2,462.5L641.2,430.4M643.2,462.5L643.2,429.3M644.2,462.5L644.2,436.4M647.2,462.5L647.2,441.4M649.2,462.5L649.2,453.5M652.0,462.5L652.0,456.0M656.0,462.5L656.0,459.0" stroke="#22dd22" stroke-width="0.9" fill="none"/>
<polyline points="616.0,458.5 625.1,446.4 630.1,438.4 631.1,422.3 634.1,406.2 635.1,423.3 637.2,393.1 638.2,402.2 639.2,394.1 641.2,430.4 643.2,429.3 644.2,436.4 647.2,441.4 649.2,453.5 652.0,456.0 656.0,459.0" stroke="#22dd22" stroke-width="0.54" fill="none" opacity="0.45"/>
<rect x="613.2" y="456.5" width="5.6" height="3.9" stroke="#22dd22" stroke-width="0.8" fill="none"/>
<rect x="622.3" y="444.4" width="5.6" height="3.9" stroke="#22dd22" stroke-width="0.8" fill="none"/>
<rect x="627.3" y="436.4" width="5.6" height="3.9" stroke="#22dd22" stroke-width="0.8" fill="none"/>
<rect x="628.3" y="420.3" width="5.6" height="3.9" stroke="#22dd22" stroke-width="0.8" fill="none"/>
<rect x="631.3" y="404.2" width="5.6" height="3.9" stroke="#22dd22" stroke-width="0.8" fill="none"/>
<rect x="632.3" y="421.3" width="5.6" height="3.9" stroke="#22dd22" stroke-width="0.8" fill="none"/>
<rect x="634.4" y="391.1" width="5.6" height="3.9" stroke="#22dd22" stroke-width="0.8" fill="none"/>
<rect x="635.4" y="400.2" width="5.6" height="3.9" stroke="#22dd22" stroke-width="0.8" fill="none"/>
<rect x="636.4" y="392.1" width="5.6" height="3.9" stroke="#22dd22" stroke-width="0.8" fill="none"/>
<rect x="638.4" y="428.4" width="5.6" height="3.9" stroke="#22dd22" stroke-width="0.8" fill="none"/>
<rect x="640.4" y="427.3" width="5.6" height="3.9" stroke="#22dd22" stroke-width="0.8" fill="none"/>
<rect x="641.4" y="434.4" width="5.6" height="3.9" stroke="#22dd22" stroke-width="0.8" fill="none"/>
<rect x="644.4" y="439.4" width="5.6" height="3.9" stroke="#22dd22" stroke-width="0.8" fill="none"/>
<rect x="646.4" y="451.5" width="5.6" height="3.9" stroke="#22dd22" stroke-width="0.8" fill="none"/>
<rect x="649.2" y="454.0" width="5.6" height="3.9" stroke="#22dd22" stroke-width="0.8" fill="none"/>
<rect x="653.2" y="457.0" width="5.6" height="3.9" stroke="#22dd22" stroke-width="0.8" fill="none"/>
<defs><g id="aplume"><path d="M115.0 107.5h1.4v1.4h-1.4zM121.3 55.4h1.3v1.3h-1.3zM140.9 55.2h1.3v1.3h-1.3zM112.9 58.4h1.2v1.2h-1.2zM125.8 82.1h1.1v1.1h-1.1zM121.4 52.1h0.9v0.9h-0.9zM139.5 17.9h1.2v1.2h-1.2zM124.4 61.2h0.9v0.9h-0.9zM129.3 45.8h1.3v1.3h-1.3zM121.7 21.2h1.1v1.1h-1.1zM90.7 47.8h0.9v0.9h-0.9zM109.4 105.8h0.9v0.9h-0.9zM127.9 34.0h1.2v1.2h-1.2zM107.9 117.4h1.0v1.0h-1.0zM136.3 71.0h1.2v1.2h-1.2zM115.0 110.8h1.4v1.4h-1.4zM134.4 49.1h1.4v1.4h-1.4zM125.4 106.8h1.4v1.4h-1.4zM146.2 16.0h0.9v0.9h-0.9zM102.4 104.7h1.3v1.3h-1.3zM134.7 19.2h1.1v1.1h-1.1zM103.9 108.4h1.3v1.3h-1.3zM95.3 163.2h1.4v1.4h-1.4zM138.5 22.3h1.4v1.4h-1.4zM125.9 47.9h0.9v0.9h-0.9zM133.5 17.3h1.4v1.4h-1.4zM102.6 104.8h1.2v1.2h-1.2zM146.8 15.1h1.0v1.0h-1.0zM116.2 41.2h1.1v1.1h-1.1zM131.0 71.6h1.0v1.0h-1.0zM124.8 32.2h1.1v1.1h-1.1zM120.6 22.7h1.3v1.3h-1.3zM103.1 141.6h1.0v1.0h-1.0zM128.3 60.2h1.0v1.0h-1.0zM130.3 55.4h1.3v1.3h-1.3zM92.4 155.4h1.2v1.2h-1.2zM127.9 51.5h1.1v1.1h-1.1zM121.2 60.5h0.9v0.9h-0.9zM143.8 18.4h0.9v0.9h-0.9zM103.4 134.2h1.1v1.1h-1.1zM147.2 27.9h0.9v0.9h-0.9zM116.7 96.8h1.3v1.3h-1.3zM122.9 28.5h1.1v1.1h-1.1zM117.7 26.8h1.3v1.3h-1.3zM112.4 65.3h1.3v1.3h-1.3zM126.1 63.5h1.2v1.2h-1.2zM140.6 32.2h0.9v0.9h-0.9zM108.1 100.2h0.9v0.9h-0.9zM132.6 55.4h1.2v1.2h-1.2zM136.9 51.3h1.4v1.4h-1.4zM113.6 25.7h1.3v1.3h-1.3zM130.9 21.1h1.0v1.0h-1.0zM140.1 29.0h0.9v0.9h-0.9zM117.0 62.9h1.3v1.3h-1.3zM135.7 49.9h1.1v1.1h-1.1zM109.7 99.8h1.2v1.2h-1.2zM136.3 37.2h1.0v1.0h-1.0zM95.0 133.1h1.1v1.1h-1.1zM147.1 22.7h1.4v1.4h-1.4zM115.2 40.6h1.0v1.0h-1.0zM146.8 23.3h1.2v1.2h-1.2zM131.2 29.3h1.1v1.1h-1.1zM108.7 34.7h1.2v1.2h-1.2zM121.4 56.2h0.9v0.9h-0.9zM92.7 135.6h1.0v1.0h-1.0zM98.2 138.8h1.2v1.2h-1.2zM116.4 66.9h1.1v1.1h-1.1zM116.9 56.2h1.1v1.1h-1.1zM107.7 50.2h1.1v1.1h-1.1zM111.8 121.1h1.1v1.1h-1.1zM127.8 24.2h1.1v1.1h-1.1zM123.9 67.4h1.2v1.2h-1.2zM140.3 20.2h1.0v1.0h-1.0zM120.9 90.2h1.3v1.3h-1.3zM117.4 118.0h1.2v1.2h-1.2zM109.9 60.7h1.2v1.2h-1.2zM125.0 93.2h1.3v1.3h-1.3zM128.4 59.7h1.0v1.0h-1.0zM123.2 95.4h1.0v1.0h-1.0zM132.7 16.8h1.1v1.1h-1.1zM149.0 34.1h1.3v1.3h-1.3zM109.1 112.7h1.3v1.3h-1.3zM106.3 117.7h1.2v1.2h-1.2zM121.4 91.9h1.0v1.0h-1.0zM115.2 110.8h1.4v1.4h-1.4zM137.8 33.8h1.3v1.3h-1.3zM116.9 123.7h1.2v1.2h-1.2zM113.1 114.1h1.0v1.0h-1.0zM105.0 121.5h1.1v1.1h-1.1zM142.8 27.4h1.2v1.2h-1.2zM119.7 42.1h1.1v1.1h-1.1zM121.5 56.2h1.1v1.1h-1.1zM134.8 65.4h1.2v1.2h-1.2zM104.9 96.9h1.2v1.2h-1.2zM93.3 143.0h1.0v1.0h-1.0zM123.2 61.9h1.0v1.0h-1.0zM117.8 112.6h1.2v1.2h-1.2zM128.7 49.1h1.1v1.1h-1.1zM120.6 23.1h1.2v1.2h-1.2zM108.2 119.8h0.9v0.9h-0.9zM110.8 96.5h0.9v0.9h-0.9zM120.8 62.5h1.2v1.2h-1.2zM127.1 19.0h1.4v1.4h-1.4zM105.4 102.6h1.2v1.2h-1.2zM94.9 153.6h0.9v0.9h-0.9zM147.8 20.1h1.0v1.0h-1.0zM147.8 30.1h1.2v1.2h-1.2zM149.0 29.9h1.0v1.0h-1.0zM94.2 153.0h1.1v1.1h-1.1zM112.3 115.5h1.3v1.3h-1.3zM132.7 28.5h1.2v1.2h-1.2zM130.9 31.7h1.1v1.1h-1.1zM143.8 37.4h1.4v1.4h-1.4zM149.8 31.7h1.0v1.0h-1.0zM113.9 115.3h1.4v1.4h-1.4zM104.5 23.4h0.9v0.9h-0.9zM133.3 59.6h1.4v1.4h-1.4zM131.4 29.6h0.9v0.9h-0.9zM147.5 30.3h1.2v1.2h-1.2zM114.3 112.1h1.1v1.1h-1.1zM117.6 89.0h1.1v1.1h-1.1zM119.9 105.1h1.3v1.3h-1.3zM122.7 83.1h1.3v1.3h-1.3zM114.6 43.5h1.1v1.1h-1.1zM135.6 30.2h1.0v1.0h-1.0zM147.0 24.9h0.9v0.9h-0.9zM130.4 34.6h1.0v1.0h-1.0zM101.0 133.5h1.2v1.2h-1.2zM133.5 23.7h1.1v1.1h-1.1zM96.9 121.2h0.9v0.9h-0.9zM115.3 25.1h1.2v1.2h-1.2zM132.4 53.8h1.1v1.1h-1.1zM127.1 44.2h1.4v1.4h-1.4zM104.0 135.8h1.4v1.4h-1.4zM126.7 14.4h1.1v1.1h-1.1zM118.4 107.5h1.2v1.2h-1.2zM161.6 28.0h0.9v0.9h-0.9zM121.1 98.2h1.2v1.2h-1.2zM132.6 82.8h1.4v1.4h-1.4zM127.6 48.0h1.0v1.0h-1.0zM126.6 39.6h1.1v1.1h-1.1zM123.2 21.7h0.9v0.9h-0.9zM149.0 28.9h1.3v1.3h-1.3zM145.6 22.9h0.9v0.9h-0.9zM125.0 30.9h1.1v1.1h-1.1zM107.8 89.2h1.3v1.3h-1.3zM101.3 110.6h1.4v1.4h-1.4zM113.6 38.2h1.2v1.2h-1.2zM137.8 35.2h1.2v1.2h-1.2zM92.3 152.4h1.3v1.3h-1.3zM118.7 60.9h1.1v1.1h-1.1zM101.7 102.3h0.9v0.9h-0.9zM129.7 88.0h1.1v1.1h-1.1zM110.2 121.3h1.2v1.2h-1.2zM121.5 104.2h1.1v1.1h-1.1zM136.5 52.6h0.9v0.9h-0.9zM102.7 118.1h1.0v1.0h-1.0zM124.9 88.4h1.1v1.1h-1.1zM119.7 60.9h1.3v1.3h-1.3zM123.2 69.3h1.2v1.2h-1.2zM106.5 116.3h0.9v0.9h-0.9zM119.8 29.8h1.1v1.1h-1.1zM143.8 73.8h1.1v1.1h-1.1zM122.7 122.3h1.2v1.2h-1.2zM117.1 106.0h1.3v1.3h-1.3zM114.1 77.9h1.3v1.3h-1.3zM108.7 129.3h0.9v0.9h-0.9zM139.5 17.9h1.3v1.3h-1.3zM143.1 21.9h1.3v1.3h-1.3zM97.0 102.8h1.1v1.1h-1.1zM123.9 24.1h1.2v1.2h-1.2zM122.5 109.3h1.2v1.2h-1.2zM93.1 132.8h1.2v1.2h-1.2zM145.2 20.9h1.3v1.3h-1.3zM121.7 19.1h1.2v1.2h-1.2zM117.6 43.1h0.9v0.9h-0.9zM119.0 27.1h0.9v0.9h-0.9zM102.4 112.9h0.9v0.9h-0.9zM112.8 122.6h1.3v1.3h-1.3zM110.3 42.5h0.9v0.9h-0.9zM117.4 61.7h1.4v1.4h-1.4zM123.4 56.0h1.3v1.3h-1.3zM113.9 61.2h1.2v1.2h-1.2zM123.0 80.1h1.0v1.0h-1.0zM107.4 107.9h1.2v1.2h-1.2zM133.7 58.2h1.3v1.3h-1.3zM131.8 19.4h1.2v1.2h-1.2zM135.1 16.4h1.1v1.1h-1.1zM103.7 101.4h1.1v1.1h-1.1zM150.9 23.6h1.3v1.3h-1.3zM119.1 37.1h0.9v0.9h-0.9zM128.0 52.7h1.2v1.2h-1.2zM102.3 105.4h1.3v1.3h-1.3zM131.0 76.3h1.3v1.3h-1.3zM119.3 16.8h1.0v1.0h-1.0zM100.9 107.8h1.0v1.0h-1.0zM119.7 41.6h1.2v1.2h-1.2zM119.2 66.4h1.0v1.0h-1.0zM124.9 25.5h1.3v1.3h-1.3zM120.3 69.7h1.0v1.0h-1.0zM128.3 23.6h1.4v1.4h-1.4zM133.9 85.6h1.4v1.4h-1.4zM119.5 98.9h1.0v1.0h-1.0zM101.4 103.9h1.1v1.1h-1.1zM129.7 71.1h1.0v1.0h-1.0zM146.1 20.1h1.1v1.1h-1.1zM94.8 132.6h1.1v1.1h-1.1zM124.4 33.8h1.3v1.3h-1.3zM85.0 160.0h1.3v1.3h-1.3zM131.7 17.3h1.0v1.0h-1.0zM131.9 31.6h1.0v1.0h-1.0zM135.9 60.9h0.9v0.9h-0.9zM107.7 56.8h1.3v1.3h-1.3zM147.1 32.2h1.4v1.4h-1.4zM132.6 18.2h1.1v1.1h-1.1zM119.1 89.7h1.0v1.0h-1.0zM130.6 26.8h1.3v1.3h-1.3zM149.8 32.5h1.2v1.2h-1.2zM94.9 151.6h1.2v1.2h-1.2zM131.0 88.4h1.0v1.0h-1.0zM127.6 83.2h1.2v1.2h-1.2zM100.6 124.3h1.2v1.2h-1.2zM152.8 35.8h1.2v1.2h-1.2zM120.1 116.0h1.2v1.2h-1.2zM130.3 34.9h1.0v1.0h-1.0zM127.8 98.3h1.0v1.0h-1.0zM123.1 47.5h1.1v1.1h-1.1zM121.3 22.6h1.0v1.0h-1.0zM130.9 16.2h1.4v1.4h-1.4zM150.8 22.5h1.2v1.2h-1.2zM129.6 54.8h0.9v0.9h-0.9zM97.5 114.5h0.9v0.9h-0.9zM153.8 27.0h0.9v0.9h-0.9zM126.8 51.0h1.2v1.2h-1.2zM123.2 43.8h1.2v1.2h-1.2zM126.1 18.1h1.2v1.2h-1.2zM113.5 97.0h1.3v1.3h-1.3zM118.5 44.2h1.1v1.1h-1.1zM112.3 92.3h0.9v0.9h-0.9zM144.0 35.4h1.3v1.3h-1.3zM113.0 112.4h0.9v0.9h-0.9zM112.6 115.4h1.0v1.0h-1.0zM104.9 104.4h1.0v1.0h-1.0zM103.6 96.0h0.9v0.9h-0.9zM102.7 105.8h1.3v1.3h-1.3zM134.1 52.7h1.0v1.0h-1.0zM118.3 110.8h0.9v0.9h-0.9zM91.1 151.4h1.3v1.3h-1.3zM107.8 125.9h1.1v1.1h-1.1zM123.0 108.9h1.0v1.0h-1.0zM115.1 14.0h1.2v1.2h-1.2zM152.4 31.6h1.0v1.0h-1.0zM125.8 17.7h1.2v1.2h-1.2zM136.6 23.5h1.3v1.3h-1.3zM130.9 48.5h1.0v1.0h-1.0zM113.8 31.9h1.3v1.3h-1.3zM98.2 151.6h1.4v1.4h-1.4zM118.5 24.1h1.3v1.3h-1.3zM103.4 114.4h1.2v1.2h-1.2zM105.0 109.4h1.1v1.1h-1.1zM119.2 37.5h0.9v0.9h-0.9zM126.7 45.5h0.9v0.9h-0.9zM125.4 76.0h1.2v1.2h-1.2zM129.3 85.1h1.1v1.1h-1.1zM130.7 58.1h1.4v1.4h-1.4zM139.4 34.6h1.3v1.3h-1.3zM133.9 89.3h1.3v1.3h-1.3zM135.8 70.5h1.0v1.0h-1.0zM148.0 32.1h1.1v1.1h-1.1zM119.9 93.9h1.0v1.0h-1.0zM147.7 28.4h0.9v0.9h-0.9zM119.1 97.2h1.0v1.0h-1.0zM105.3 100.0h1.1v1.1h-1.1zM147.3 24.9h1.3v1.3h-1.3zM125.1 81.6h1.0v1.0h-1.0zM94.1 150.1h1.2v1.2h-1.2zM105.7 128.8h1.2v1.2h-1.2zM147.1 17.7h1.1v1.1h-1.1zM113.4 115.8h0.9v0.9h-0.9zM116.5 51.4h1.1v1.1h-1.1zM120.7 41.2h1.2v1.2h-1.2zM127.3 61.9h1.0v1.0h-1.0zM128.9 71.9h1.0v1.0h-1.0zM111.4 56.4h1.0v1.0h-1.0zM103.9 97.1h1.0v1.0h-1.0zM110.2 38.9h1.1v1.1h-1.1zM137.7 22.8h1.2v1.2h-1.2zM119.3 112.1h1.2v1.2h-1.2zM130.3 52.0h1.2v1.2h-1.2zM135.6 69.2h0.9v0.9h-0.9zM111.6 130.0h0.9v0.9h-0.9zM112.3 57.1h1.1v1.1h-1.1zM99.7 126.0h0.9v0.9h-0.9zM102.1 138.3h1.1v1.1h-1.1zM137.4 63.5h1.3v1.3h-1.3zM114.5 108.0h1.3v1.3h-1.3zM123.3 86.6h1.0v1.0h-1.0zM101.1 152.7h1.4v1.4h-1.4zM127.9 80.6h1.1v1.1h-1.1zM129.2 40.9h0.9v0.9h-0.9zM125.9 31.7h1.4v1.4h-1.4zM141.0 42.0h1.0v1.0h-1.0zM118.9 58.9h1.2v1.2h-1.2zM131.7 61.3h0.9v0.9h-0.9zM120.9 31.1h1.1v1.1h-1.1zM126.1 85.6h0.9v0.9h-0.9zM134.8 21.7h1.1v1.1h-1.1zM111.8 118.5h0.9v0.9h-0.9zM130.2 39.9h0.9v0.9h-0.9zM123.0 34.3h0.9v0.9h-0.9zM110.4 65.9h0.9v0.9h-0.9zM116.7 45.4h1.2v1.2h-1.2zM125.6 81.3h1.0v1.0h-1.0zM116.8 108.0h0.9v0.9h-0.9zM121.2 70.3h1.2v1.2h-1.2zM110.1 95.6h1.1v1.1h-1.1zM114.5 36.2h0.9v0.9h-0.9zM147.3 23.3h1.3v1.3h-1.3zM127.1 47.6h1.2v1.2h-1.2zM140.0 18.8h1.1v1.1h-1.1zM99.5 143.5h0.9v0.9h-0.9zM123.5 55.0h0.9v0.9h-0.9zM121.0 33.4h0.9v0.9h-0.9zM148.8 21.2h0.9v0.9h-0.9zM132.2 22.1h1.2v1.2h-1.2zM131.7 16.1h1.2v1.2h-1.2z" fill="#6ccccc"/>
<path d="M113.8 37.1h0.9v0.9h-0.9zM121.4 64.4h0.9v0.9h-0.9zM131.1 64.7h1.0v1.0h-1.0zM128.3 53.8h1.1v1.1h-1.1zM111.1 63.7h0.9v0.9h-0.9zM121.2 32.5h1.3v1.3h-1.3zM125.7 55.5h1.2v1.2h-1.2zM148.5 34.9h1.1v1.1h-1.1zM109.6 138.3h0.9v0.9h-0.9zM132.0 50.5h1.3v1.3h-1.3zM128.3 47.8h1.0v1.0h-1.0zM119.1 104.3h1.0v1.0h-1.0zM122.3 99.7h0.9v0.9h-0.9zM103.6 99.4h1.2v1.2h-1.2zM95.8 136.2h1.1v1.1h-1.1zM122.6 13.7h0.9v0.9h-0.9zM135.7 25.1h0.9v0.9h-0.9zM128.0 29.7h1.2v1.2h-1.2zM144.9 59.7h1.4v1.4h-1.4zM141.1 23.4h1.2v1.2h-1.2zM118.0 67.1h1.2v1.2h-1.2zM142.5 32.9h1.2v1.2h-1.2zM93.3 155.1h1.4v1.4h-1.4zM123.8 56.8h1.2v1.2h-1.2zM124.3 50.3h1.1v1.1h-1.1zM125.9 14.0h0.9v0.9h-0.9zM118.6 91.8h1.2v1.2h-1.2zM123.7 57.4h1.2v1.2h-1.2zM122.3 98.8h0.9v0.9h-0.9zM127.4 10.9h0.9v0.9h-0.9zM138.0 14.2h1.1v1.1h-1.1zM117.3 51.7h0.9v0.9h-0.9zM100.2 126.0h1.3v1.3h-1.3zM119.8 116.2h1.2v1.2h-1.2zM113.7 114.0h1.1v1.1h-1.1zM124.8 45.9h1.1v1.1h-1.1zM97.2 119.2h1.0v1.0h-1.0zM140.4 31.8h1.0v1.0h-1.0zM143.5 28.7h0.9v0.9h-0.9zM115.0 57.5h1.1v1.1h-1.1zM100.5 114.2h1.1v1.1h-1.1zM147.8 35.5h0.9v0.9h-0.9zM134.3 32.8h1.1v1.1h-1.1zM114.6 64.5h1.0v1.0h-1.0zM115.1 34.3h1.4v1.4h-1.4zM128.9 58.8h1.4v1.4h-1.4zM144.3 26.9h1.4v1.4h-1.4zM135.6 39.5h1.2v1.2h-1.2zM98.3 99.6h0.9v0.9h-0.9zM138.3 27.6h0.9v0.9h-0.9zM127.6 27.0h1.4v1.4h-1.4zM109.6 88.1h1.1v1.1h-1.1zM128.2 27.0h1.2v1.2h-1.2zM125.7 81.3h1.0v1.0h-1.0zM137.0 43.5h1.1v1.1h-1.1zM95.0 135.6h1.1v1.1h-1.1zM129.0 59.5h1.1v1.1h-1.1zM131.5 24.7h1.4v1.4h-1.4zM131.6 31.9h0.9v0.9h-0.9zM127.0 23.2h1.3v1.3h-1.3zM121.1 60.6h1.3v1.3h-1.3zM118.6 20.8h1.1v1.1h-1.1zM116.6 67.4h1.2v1.2h-1.2zM91.7 160.5h1.1v1.1h-1.1zM120.7 103.0h1.4v1.4h-1.4zM111.0 96.0h1.0v1.0h-1.0zM142.1 47.8h1.3v1.3h-1.3zM98.4 152.8h1.2v1.2h-1.2zM138.2 59.1h0.9v0.9h-0.9zM113.0 110.7h1.1v1.1h-1.1zM132.3 23.7h1.2v1.2h-1.2zM107.1 97.5h1.3v1.3h-1.3zM119.8 117.2h1.0v1.0h-1.0zM113.3 55.1h1.0v1.0h-1.0zM94.9 112.7h1.1v1.1h-1.1zM97.2 124.1h1.2v1.2h-1.2zM101.3 131.6h0.9v0.9h-0.9zM119.1 102.6h1.0v1.0h-1.0zM100.7 121.0h1.4v1.4h-1.4zM132.2 43.5h1.3v1.3h-1.3zM133.7 65.0h1.3v1.3h-1.3zM140.9 34.4h0.9v0.9h-0.9zM121.9 14.3h1.1v1.1h-1.1zM111.0 117.2h1.2v1.2h-1.2zM147.9 51.7h1.4v1.4h-1.4zM124.4 52.8h1.3v1.3h-1.3zM127.0 24.7h1.2v1.2h-1.2zM130.9 46.0h1.2v1.2h-1.2zM114.6 80.1h1.2v1.2h-1.2zM113.3 63.8h0.9v0.9h-0.9zM108.8 49.4h1.2v1.2h-1.2zM105.3 53.8h1.4v1.4h-1.4zM110.0 46.5h1.0v1.0h-1.0zM123.9 88.8h1.0v1.0h-1.0zM118.4 102.7h0.9v0.9h-0.9zM104.5 97.7h1.0v1.0h-1.0zM108.2 95.5h1.1v1.1h-1.1zM127.8 86.6h1.3v1.3h-1.3zM106.8 51.2h1.2v1.2h-1.2zM119.7 54.6h1.2v1.2h-1.2zM117.3 105.9h1.4v1.4h-1.4zM105.5 121.4h1.1v1.1h-1.1zM91.9 108.8h1.4v1.4h-1.4zM102.7 136.7h1.2v1.2h-1.2zM106.3 92.8h1.4v1.4h-1.4zM116.1 116.1h1.2v1.2h-1.2zM135.7 64.8h0.9v0.9h-0.9zM132.5 61.7h1.0v1.0h-1.0zM144.5 22.0h1.0v1.0h-1.0zM112.0 127.6h1.0v1.0h-1.0zM133.7 29.4h1.1v1.1h-1.1zM111.8 100.2h1.1v1.1h-1.1zM109.7 127.4h1.0v1.0h-1.0zM122.0 23.8h1.4v1.4h-1.4zM118.5 21.9h0.9v0.9h-0.9zM113.9 118.6h1.3v1.3h-1.3zM127.1 65.6h1.2v1.2h-1.2zM117.1 110.5h1.3v1.3h-1.3zM111.2 123.8h1.4v1.4h-1.4zM122.7 51.1h1.2v1.2h-1.2zM106.0 34.1h1.4v1.4h-1.4zM129.4 84.5h1.1v1.1h-1.1zM124.3 86.6h1.2v1.2h-1.2zM120.5 88.9h1.3v1.3h-1.3zM118.5 24.3h1.3v1.3h-1.3zM100.3 105.6h1.0v1.0h-1.0zM126.8 50.1h1.3v1.3h-1.3zM116.5 40.7h1.3v1.3h-1.3zM142.4 46.3h1.0v1.0h-1.0zM132.6 49.2h0.9v0.9h-0.9zM122.8 54.0h1.0v1.0h-1.0zM123.1 65.3h0.9v0.9h-0.9zM146.5 30.6h1.3v1.3h-1.3zM122.2 36.4h1.0v1.0h-1.0zM140.2 25.9h1.2v1.2h-1.2zM118.5 38.8h1.2v1.2h-1.2zM109.3 59.4h1.0v1.0h-1.0zM103.5 97.5h1.1v1.1h-1.1zM113.9 88.7h1.3v1.3h-1.3zM147.1 15.3h0.9v0.9h-0.9zM114.4 80.5h1.2v1.2h-1.2zM135.2 15.5h1.4v1.4h-1.4zM98.6 131.0h1.0v1.0h-1.0zM118.1 48.0h1.4v1.4h-1.4zM113.2 45.1h1.3v1.3h-1.3zM129.4 59.7h0.9v0.9h-0.9zM148.4 22.0h0.9v0.9h-0.9zM133.1 25.8h1.3v1.3h-1.3zM103.6 133.8h1.2v1.2h-1.2zM127.2 79.0h0.9v0.9h-0.9zM136.7 63.5h1.3v1.3h-1.3zM107.2 91.4h1.0v1.0h-1.0zM107.7 61.3h1.4v1.4h-1.4zM124.9 69.3h1.3v1.3h-1.3zM134.8 40.9h1.0v1.0h-1.0zM121.1 102.4h1.1v1.1h-1.1zM122.4 58.3h0.9v0.9h-0.9zM122.5 63.3h1.3v1.3h-1.3zM113.0 51.6h1.3v1.3h-1.3zM99.3 125.6h1.4v1.4h-1.4zM124.9 51.6h1.2v1.2h-1.2zM123.0 86.8h1.3v1.3h-1.3zM126.5 19.8h1.0v1.0h-1.0zM102.4 96.5h1.2v1.2h-1.2zM93.0 136.2h1.2v1.2h-1.2zM98.6 102.7h1.3v1.3h-1.3zM136.6 18.2h1.0v1.0h-1.0zM107.0 84.7h0.9v0.9h-0.9zM112.8 118.6h0.9v0.9h-0.9zM121.4 34.4h0.9v0.9h-0.9zM95.5 105.0h1.2v1.2h-1.2zM122.0 38.5h1.3v1.3h-1.3zM96.4 114.5h1.2v1.2h-1.2zM122.5 102.0h0.9v0.9h-0.9zM103.5 109.1h1.0v1.0h-1.0zM96.7 138.3h1.3v1.3h-1.3zM116.7 12.6h1.2v1.2h-1.2zM132.8 51.3h1.1v1.1h-1.1zM140.2 20.7h1.3v1.3h-1.3zM128.1 36.3h0.9v0.9h-0.9zM108.0 43.7h1.1v1.1h-1.1zM132.9 31.5h0.9v0.9h-0.9zM141.9 25.5h1.2v1.2h-1.2zM129.1 43.0h1.2v1.2h-1.2zM104.1 97.2h1.1v1.1h-1.1zM131.3 45.4h1.1v1.1h-1.1zM115.7 114.5h1.0v1.0h-1.0zM103.0 119.4h1.0v1.0h-1.0zM123.7 19.3h0.9v0.9h-0.9zM144.1 22.1h1.1v1.1h-1.1zM122.9 101.5h1.2v1.2h-1.2zM114.6 66.5h0.9v0.9h-0.9zM149.7 24.2h1.2v1.2h-1.2zM120.8 43.6h1.0v1.0h-1.0zM146.8 19.1h1.0v1.0h-1.0zM115.3 59.2h1.3v1.3h-1.3zM129.3 35.8h1.2v1.2h-1.2zM117.3 66.4h1.3v1.3h-1.3zM110.3 64.7h0.9v0.9h-0.9zM145.6 27.2h1.2v1.2h-1.2zM128.4 40.9h0.9v0.9h-0.9zM99.8 124.3h1.4v1.4h-1.4zM92.6 140.6h1.4v1.4h-1.4zM120.2 28.8h0.9v0.9h-0.9zM92.8 147.9h1.4v1.4h-1.4zM141.7 19.1h1.4v1.4h-1.4zM135.5 36.6h1.2v1.2h-1.2zM119.6 94.6h1.1v1.1h-1.1zM111.6 21.3h1.1v1.1h-1.1zM139.6 27.9h1.3v1.3h-1.3zM132.6 49.2h1.2v1.2h-1.2zM118.4 53.5h1.0v1.0h-1.0zM136.9 19.7h1.1v1.1h-1.1zM130.2 21.9h1.0v1.0h-1.0zM135.2 35.2h1.0v1.0h-1.0zM102.4 120.7h1.0v1.0h-1.0zM112.2 34.0h1.0v1.0h-1.0zM133.9 15.3h1.3v1.3h-1.3zM146.3 17.4h1.3v1.3h-1.3zM111.5 45.2h0.9v0.9h-0.9zM106.3 133.6h1.4v1.4h-1.4zM131.7 31.4h1.0v1.0h-1.0zM114.1 13.3h1.1v1.1h-1.1zM128.7 89.5h1.2v1.2h-1.2zM122.7 53.6h1.4v1.4h-1.4zM124.9 41.2h1.2v1.2h-1.2zM137.1 22.9h1.2v1.2h-1.2zM128.2 53.5h1.0v1.0h-1.0zM122.7 91.4h1.0v1.0h-1.0zM114.8 43.5h1.0v1.0h-1.0zM132.4 31.4h1.2v1.2h-1.2zM121.4 38.2h0.9v0.9h-0.9zM127.3 58.4h1.4v1.4h-1.4zM119.3 111.8h0.9v0.9h-0.9zM106.1 113.9h1.2v1.2h-1.2zM141.1 29.2h1.2v1.2h-1.2zM123.4 90.0h1.0v1.0h-1.0zM121.9 94.0h1.0v1.0h-1.0zM120.2 119.4h1.4v1.4h-1.4zM141.4 67.2h1.1v1.1h-1.1zM140.0 60.7h1.0v1.0h-1.0zM113.5 46.0h0.9v0.9h-0.9zM114.7 95.4h1.1v1.1h-1.1zM129.1 47.7h1.0v1.0h-1.0zM117.8 56.0h1.3v1.3h-1.3zM120.3 35.9h0.9v0.9h-0.9zM100.4 140.4h1.2v1.2h-1.2zM125.6 75.3h1.2v1.2h-1.2zM102.9 45.4h1.4v1.4h-1.4zM122.1 34.1h1.1v1.1h-1.1zM112.0 45.3h1.1v1.1h-1.1zM98.0 139.3h1.0v1.0h-1.0zM111.1 12.9h0.9v0.9h-0.9zM126.2 56.4h1.2v1.2h-1.2zM133.9 61.0h0.9v0.9h-0.9zM102.8 108.0h1.0v1.0h-1.0zM120.4 66.7h1.3v1.3h-1.3zM127.9 88.6h1.1v1.1h-1.1zM111.1 32.6h1.0v1.0h-1.0zM94.7 146.8h1.2v1.2h-1.2zM105.5 99.6h1.3v1.3h-1.3zM143.3 33.8h0.9v0.9h-0.9zM126.1 46.3h1.2v1.2h-1.2zM118.9 30.4h1.1v1.1h-1.1zM102.5 125.0h1.1v1.1h-1.1zM130.1 25.4h1.1v1.1h-1.1zM112.4 55.5h1.3v1.3h-1.3zM132.5 65.6h1.3v1.3h-1.3zM139.0 21.0h1.1v1.1h-1.1zM123.8 105.0h1.3v1.3h-1.3zM126.0 69.7h0.9v0.9h-0.9zM149.8 55.8h1.4v1.4h-1.4zM115.4 106.6h1.1v1.1h-1.1zM106.7 99.2h1.0v1.0h-1.0zM135.4 42.9h0.9v0.9h-0.9zM119.0 91.7h1.0v1.0h-1.0zM100.2 95.8h0.9v0.9h-0.9zM91.0 157.9h1.0v1.0h-1.0zM135.3 42.4h1.1v1.1h-1.1zM119.0 42.0h1.3v1.3h-1.3zM130.4 71.0h1.1v1.1h-1.1zM119.6 67.7h1.2v1.2h-1.2zM157.2 24.1h1.1v1.1h-1.1zM91.2 162.7h1.2v1.2h-1.2zM146.6 19.4h1.3v1.3h-1.3zM119.7 84.7h1.0v1.0h-1.0zM104.7 94.7h1.2v1.2h-1.2zM100.8 158.2h1.2v1.2h-1.2zM101.4 119.7h0.9v0.9h-0.9zM101.4 112.7h0.9v0.9h-0.9zM119.7 110.0h1.3v1.3h-1.3zM126.2 66.9h1.0v1.0h-1.0zM124.8 28.7h1.0v1.0h-1.0zM115.1 54.9h1.2v1.2h-1.2zM112.3 12.9h1.3v1.3h-1.3zM118.6 16.9h1.3v1.3h-1.3zM124.7 26.7h0.9v0.9h-0.9zM118.4 28.7h1.4v1.4h-1.4zM110.8 105.5h1.3v1.3h-1.3zM118.9 55.5h1.2v1.2h-1.2zM142.3 16.8h1.0v1.0h-1.0zM121.7 43.7h1.2v1.2h-1.2zM126.9 21.0h1.4v1.4h-1.4zM125.9 52.6h0.9v0.9h-0.9zM132.4 78.2h1.3v1.3h-1.3zM117.0 35.4h1.0v1.0h-1.0zM136.7 47.6h1.3v1.3h-1.3zM109.9 93.6h1.4v1.4h-1.4zM124.8 13.6h1.2v1.2h-1.2zM126.6 68.2h0.9v0.9h-0.9zM101.5 137.2h0.9v0.9h-0.9zM92.3 137.2h1.1v1.1h-1.1zM131.5 41.7h1.0v1.0h-1.0zM118.6 139.3h1.2v1.2h-1.2zM86.6 134.3h1.2v1.2h-1.2zM118.4 91.4h1.2v1.2h-1.2zM125.6 64.0h1.0v1.0h-1.0zM122.2 93.0h1.2v1.2h-1.2zM90.8 154.0h0.9v0.9h-0.9zM134.4 79.7h1.2v1.2h-1.2zM95.5 122.6h1.3v1.3h-1.3zM121.4 50.5h1.2v1.2h-1.2zM130.4 42.3h1.4v1.4h-1.4zM116.6 87.1h0.9v0.9h-0.9zM133.6 48.3h1.0v1.0h-1.0zM129.4 22.3h0.9v0.9h-0.9zM115.2 31.8h0.9v0.9h-0.9zM91.3 143.7h1.0v1.0h-1.0zM124.4 78.5h1.0v1.0h-1.0zM138.2 20.9h1.2v1.2h-1.2zM101.0 101.5h0.9v0.9h-0.9zM126.2 53.5h1.3v1.3h-1.3zM108.1 33.3h0.9v0.9h-0.9zM132.8 20.2h1.3v1.3h-1.3zM113.8 28.2h1.4v1.4h-1.4zM88.4 133.3h1.1v1.1h-1.1zM105.6 102.0h1.2v1.2h-1.2zM110.8 67.4h1.3v1.3h-1.3zM146.3 28.1h1.2v1.2h-1.2zM119.1 122.8h1.3v1.3h-1.3zM132.1 61.3h1.2v1.2h-1.2zM143.3 25.0h1.1v1.1h-1.1zM117.9 58.5h1.4v1.4h-1.4zM149.7 16.6h1.3v1.3h-1.3zM125.3 55.8h1.1v1.1h-1.1zM152.9 23.5h1.1v1.1h-1.1zM122.0 83.6h1.2v1.2h-1.2zM144.4 27.7h1.2v1.2h-1.2zM116.1 64.2h0.9v0.9h-0.9zM115.5 51.8h1.1v1.1h-1.1zM107.2 62.4h1.2v1.2h-1.2zM128.2 70.0h1.3v1.3h-1.3zM117.3 116.5h1.3v1.3h-1.3zM107.7 105.6h1.3v1.3h-1.3zM96.2 127.3h1.0v1.0h-1.0zM110.4 63.5h0.9v0.9h-0.9zM121.7 99.5h1.4v1.4h-1.4zM129.7 55.1h1.2v1.2h-1.2zM123.8 32.5h1.0v1.0h-1.0zM102.0 112.6h1.1v1.1h-1.1zM103.2 117.7h0.9v0.9h-0.9zM90.8 156.9h1.3v1.3h-1.3zM102.7 131.8h1.0v1.0h-1.0zM108.0 96.0h1.4v1.4h-1.4zM128.2 32.7h1.2v1.2h-1.2zM96.4 153.9h1.1v1.1h-1.1zM128.3 26.3h1.0v1.0h-1.0zM118.5 109.6h1.4v1.4h-1.4zM126.3 45.2h1.0v1.0h-1.0zM133.7 62.3h1.4v1.4h-1.4zM116.5 59.6h0.9v0.9h-0.9zM97.0 131.7h1.2v1.2h-1.2zM114.8 59.7h1.1v1.1h-1.1zM117.2 20.7h1.1v1.1h-1.1zM142.7 30.4h0.9v0.9h-0.9zM126.9 38.3h1.1v1.1h-1.1zM116.5 113.3h0.9v0.9h-0.9zM128.2 23.5h1.3v1.3h-1.3zM154.3 24.5h1.1v1.1h-1.1zM141.0 21.6h1.3v1.3h-1.3zM116.0 35.6h1.1v1.1h-1.1zM144.5 22.1h1.1v1.1h-1.1zM111.2 101.5h1.1v1.1h-1.1zM121.2 39.5h0.9v0.9h-0.9zM98.4 104.5h1.3v1.3h-1.3z" fill="#50c850"/>
<path d="M140.4 29.4h1.0v1.0h-1.0zM119.2 79.4h1.0v1.0h-1.0zM127.2 23.3h1.2v1.2h-1.2zM120.1 18.2h1.3v1.3h-1.3zM118.6 52.1h1.4v1.4h-1.4zM144.0 33.8h1.4v1.4h-1.4zM130.1 32.8h0.9v0.9h-0.9zM118.0 121.4h1.1v1.1h-1.1zM129.1 66.7h1.2v1.2h-1.2zM126.4 47.5h1.3v1.3h-1.3zM120.4 112.9h0.9v0.9h-0.9zM124.0 26.1h0.9v0.9h-0.9zM112.4 62.9h1.1v1.1h-1.1zM117.0 29.8h1.1v1.1h-1.1zM104.9 109.0h1.3v1.3h-1.3zM133.9 46.3h1.2v1.2h-1.2zM125.1 77.9h0.9v0.9h-0.9zM145.2 24.3h1.2v1.2h-1.2zM101.9 129.1h1.2v1.2h-1.2zM116.1 19.4h0.9v0.9h-0.9zM148.2 24.4h0.9v0.9h-0.9zM124.0 29.8h1.1v1.1h-1.1zM111.0 66.6h1.2v1.2h-1.2zM125.9 84.0h0.9v0.9h-0.9zM121.3 96.5h1.3v1.3h-1.3zM133.1 17.6h1.1v1.1h-1.1zM106.1 13.5h1.1v1.1h-1.1zM118.6 43.2h1.1v1.1h-1.1zM96.1 133.3h1.1v1.1h-1.1zM123.6 37.7h1.0v1.0h-1.0zM120.1 55.5h0.9v0.9h-0.9zM141.1 21.5h0.9v0.9h-0.9zM130.0 25.9h0.9v0.9h-0.9zM118.3 102.4h1.0v1.0h-1.0zM89.6 121.1h1.2v1.2h-1.2zM127.2 64.9h1.0v1.0h-1.0zM147.2 20.7h1.0v1.0h-1.0zM96.8 126.6h1.2v1.2h-1.2zM128.0 36.3h1.1v1.1h-1.1zM120.2 101.7h1.0v1.0h-1.0zM115.8 114.4h1.1v1.1h-1.1zM124.2 48.3h1.2v1.2h-1.2zM141.7 21.8h1.0v1.0h-1.0zM149.9 24.7h1.1v1.1h-1.1zM118.5 50.6h1.0v1.0h-1.0zM122.3 19.5h1.3v1.3h-1.3zM111.1 122.2h1.0v1.0h-1.0zM133.3 38.6h1.1v1.1h-1.1zM121.4 30.2h1.1v1.1h-1.1zM117.6 50.6h1.1v1.1h-1.1zM122.7 115.9h1.0v1.0h-1.0zM105.8 90.9h1.0v1.0h-1.0zM130.3 35.9h1.4v1.4h-1.4zM97.7 137.6h1.3v1.3h-1.3zM124.4 82.6h1.1v1.1h-1.1zM111.5 40.1h0.9v0.9h-0.9zM146.1 31.3h1.1v1.1h-1.1zM139.6 35.9h1.1v1.1h-1.1zM108.5 81.6h0.9v0.9h-0.9zM113.1 46.8h1.2v1.2h-1.2zM104.5 99.4h0.9v0.9h-0.9zM117.1 98.6h1.0v1.0h-1.0zM120.3 67.4h0.9v0.9h-0.9zM128.3 48.7h1.1v1.1h-1.1zM129.3 98.7h1.0v1.0h-1.0zM94.7 152.1h1.0v1.0h-1.0zM95.5 128.2h0.9v0.9h-0.9zM100.0 113.1h0.9v0.9h-0.9zM134.5 24.0h1.4v1.4h-1.4zM114.1 52.6h1.0v1.0h-1.0zM112.1 54.1h1.2v1.2h-1.2zM115.6 95.1h1.0v1.0h-1.0zM115.9 62.4h1.0v1.0h-1.0zM121.6 34.2h1.1v1.1h-1.1zM98.3 143.5h1.0v1.0h-1.0zM128.2 49.1h0.9v0.9h-0.9zM100.1 114.6h0.9v0.9h-0.9zM104.3 111.3h1.1v1.1h-1.1zM131.3 41.5h1.1v1.1h-1.1zM123.7 52.9h1.0v1.0h-1.0zM133.5 25.0h1.3v1.3h-1.3zM142.1 56.5h1.0v1.0h-1.0zM123.8 26.4h1.1v1.1h-1.1zM147.3 25.7h1.1v1.1h-1.1zM120.6 55.5h1.2v1.2h-1.2zM114.3 49.3h1.0v1.0h-1.0zM131.5 43.4h1.3v1.3h-1.3zM118.4 34.9h1.2v1.2h-1.2zM132.2 50.0h1.3v1.3h-1.3zM104.2 116.0h1.4v1.4h-1.4zM127.4 44.1h1.0v1.0h-1.0zM105.6 127.7h0.9v0.9h-0.9zM123.6 70.6h0.9v0.9h-0.9zM101.8 133.6h0.9v0.9h-0.9zM123.6 39.5h1.1v1.1h-1.1zM136.8 15.0h1.0v1.0h-1.0zM135.6 24.9h1.3v1.3h-1.3zM132.4 62.9h1.0v1.0h-1.0zM112.6 43.6h1.1v1.1h-1.1zM120.7 29.4h1.1v1.1h-1.1zM120.4 27.3h1.1v1.1h-1.1zM111.9 119.8h1.2v1.2h-1.2zM119.5 94.1h1.3v1.3h-1.3zM118.9 98.5h1.1v1.1h-1.1zM107.2 61.7h1.3v1.3h-1.3zM132.9 41.2h1.4v1.4h-1.4zM128.0 33.9h0.9v0.9h-0.9zM125.9 27.7h1.0v1.0h-1.0zM117.9 29.0h1.3v1.3h-1.3zM120.9 15.8h1.2v1.2h-1.2zM109.5 60.7h1.1v1.1h-1.1zM96.8 135.0h1.1v1.1h-1.1zM148.1 22.4h1.0v1.0h-1.0zM109.0 11.1h1.1v1.1h-1.1zM123.6 41.4h1.0v1.0h-1.0zM94.3 143.7h0.9v0.9h-0.9zM123.3 92.1h1.2v1.2h-1.2zM125.8 88.9h1.3v1.3h-1.3zM145.7 31.4h1.2v1.2h-1.2zM129.6 45.2h0.9v0.9h-0.9zM143.6 19.6h0.9v0.9h-0.9zM95.5 143.6h1.3v1.3h-1.3zM127.0 50.7h1.2v1.2h-1.2zM120.1 94.0h1.2v1.2h-1.2zM119.7 97.9h1.3v1.3h-1.3zM126.8 78.3h1.4v1.4h-1.4zM111.7 61.3h1.3v1.3h-1.3zM131.0 25.4h1.1v1.1h-1.1zM103.2 20.8h1.0v1.0h-1.0zM127.9 96.9h1.2v1.2h-1.2zM103.2 111.4h1.4v1.4h-1.4zM108.4 57.9h1.1v1.1h-1.1zM102.2 139.1h1.0v1.0h-1.0zM98.1 132.3h0.9v0.9h-0.9zM149.9 17.2h1.1v1.1h-1.1zM129.0 45.1h1.4v1.4h-1.4zM102.9 110.9h1.1v1.1h-1.1zM114.7 121.0h1.4v1.4h-1.4zM108.1 99.9h1.3v1.3h-1.3zM115.5 23.1h1.0v1.0h-1.0zM127.1 22.4h0.9v0.9h-0.9zM98.1 59.3h1.0v1.0h-1.0zM117.7 29.6h1.2v1.2h-1.2zM95.0 151.5h1.2v1.2h-1.2zM98.4 132.0h1.1v1.1h-1.1zM119.0 29.3h0.9v0.9h-0.9zM104.7 17.1h1.3v1.3h-1.3zM139.7 23.3h1.1v1.1h-1.1zM132.9 28.7h1.1v1.1h-1.1zM132.8 24.4h1.1v1.1h-1.1zM91.4 147.6h0.9v0.9h-0.9zM119.8 59.0h1.3v1.3h-1.3zM141.0 28.1h1.2v1.2h-1.2zM116.2 114.1h1.2v1.2h-1.2zM122.8 23.0h0.9v0.9h-0.9zM138.0 20.4h1.3v1.3h-1.3zM130.2 23.5h1.0v1.0h-1.0zM116.7 45.4h0.9v0.9h-0.9zM128.5 29.2h1.0v1.0h-1.0zM121.2 42.9h1.3v1.3h-1.3zM131.1 33.6h1.1v1.1h-1.1zM126.2 99.3h0.9v0.9h-0.9zM118.0 63.8h1.4v1.4h-1.4zM126.8 31.7h1.1v1.1h-1.1zM94.2 130.9h1.3v1.3h-1.3zM120.9 49.5h1.3v1.3h-1.3zM102.1 116.5h1.2v1.2h-1.2zM100.8 152.4h1.1v1.1h-1.1zM106.3 109.7h1.2v1.2h-1.2zM100.6 158.1h1.3v1.3h-1.3zM116.3 85.3h0.9v0.9h-0.9zM121.6 69.1h0.9v0.9h-0.9zM120.0 18.6h0.9v0.9h-0.9zM128.2 35.7h1.0v1.0h-1.0zM127.8 65.6h1.4v1.4h-1.4zM125.7 32.6h1.0v1.0h-1.0zM114.5 61.4h1.2v1.2h-1.2zM109.4 94.1h1.3v1.3h-1.3zM108.9 104.9h1.2v1.2h-1.2zM127.1 13.9h1.3v1.3h-1.3zM106.3 46.9h1.1v1.1h-1.1zM127.2 26.6h1.4v1.4h-1.4zM115.3 75.7h1.3v1.3h-1.3zM131.7 49.0h0.9v0.9h-0.9zM129.4 90.4h1.2v1.2h-1.2zM137.3 44.9h1.4v1.4h-1.4zM110.2 106.1h1.2v1.2h-1.2zM105.7 91.8h0.9v0.9h-0.9zM117.6 38.0h1.3v1.3h-1.3zM137.0 50.6h1.0v1.0h-1.0zM102.1 101.6h1.0v1.0h-1.0zM145.0 60.9h1.1v1.1h-1.1zM149.2 24.3h1.3v1.3h-1.3zM125.6 49.3h0.9v0.9h-0.9zM98.6 62.9h1.1v1.1h-1.1zM121.5 81.6h1.0v1.0h-1.0zM123.5 32.0h1.4v1.4h-1.4zM110.7 91.9h1.3v1.3h-1.3zM143.1 22.1h1.1v1.1h-1.1zM123.7 93.9h1.0v1.0h-1.0zM110.5 83.5h1.4v1.4h-1.4zM136.3 14.9h1.1v1.1h-1.1zM128.7 71.0h0.9v0.9h-0.9zM116.2 11.9h1.1v1.1h-1.1zM123.7 66.6h0.9v0.9h-0.9zM132.2 36.1h1.0v1.0h-1.0zM109.0 59.1h1.3v1.3h-1.3zM102.4 107.7h1.1v1.1h-1.1zM96.8 138.9h1.2v1.2h-1.2zM126.7 22.9h1.0v1.0h-1.0zM113.9 60.0h0.9v0.9h-0.9zM132.7 79.1h0.9v0.9h-0.9zM133.7 29.2h1.1v1.1h-1.1zM101.5 117.6h0.9v0.9h-0.9zM131.4 36.2h1.0v1.0h-1.0zM134.7 36.0h1.0v1.0h-1.0zM96.5 161.4h1.2v1.2h-1.2zM121.6 58.7h1.4v1.4h-1.4zM94.4 146.9h1.3v1.3h-1.3zM115.6 55.3h1.3v1.3h-1.3zM118.6 12.8h1.2v1.2h-1.2zM109.7 113.7h1.3v1.3h-1.3zM118.7 78.9h1.3v1.3h-1.3zM115.9 103.4h1.3v1.3h-1.3zM136.7 39.6h1.2v1.2h-1.2zM135.2 91.4h1.2v1.2h-1.2zM127.2 41.4h1.2v1.2h-1.2zM121.0 106.0h1.3v1.3h-1.3zM149.6 23.2h1.4v1.4h-1.4zM136.8 34.7h1.0v1.0h-1.0zM128.4 83.3h1.4v1.4h-1.4zM137.3 24.8h1.2v1.2h-1.2zM101.1 107.1h1.2v1.2h-1.2zM124.0 82.1h1.3v1.3h-1.3zM122.6 79.7h1.0v1.0h-1.0zM125.3 106.9h1.3v1.3h-1.3zM127.7 81.0h1.0v1.0h-1.0zM111.8 57.8h1.0v1.0h-1.0zM98.3 74.1h1.1v1.1h-1.1zM120.4 52.4h0.9v0.9h-0.9zM112.3 108.5h1.3v1.3h-1.3zM128.4 51.7h0.9v0.9h-0.9zM129.1 18.1h1.2v1.2h-1.2zM124.0 58.4h1.3v1.3h-1.3zM120.2 16.0h1.3v1.3h-1.3zM118.6 92.5h1.3v1.3h-1.3zM141.0 20.0h1.0v1.0h-1.0zM100.9 102.9h0.9v0.9h-0.9zM121.6 95.2h1.1v1.1h-1.1zM138.9 43.5h0.9v0.9h-0.9zM139.0 67.0h1.3v1.3h-1.3zM122.0 62.0h1.3v1.3h-1.3zM149.0 18.1h0.9v0.9h-0.9zM126.4 14.7h1.3v1.3h-1.3zM128.0 25.0h0.9v0.9h-0.9zM119.3 109.6h1.4v1.4h-1.4zM149.4 13.3h1.4v1.4h-1.4zM128.1 91.4h1.0v1.0h-1.0zM124.9 100.1h1.1v1.1h-1.1zM110.8 120.9h1.0v1.0h-1.0zM118.9 85.9h1.2v1.2h-1.2zM118.3 40.0h1.3v1.3h-1.3zM99.8 124.6h1.0v1.0h-1.0zM148.3 30.7h1.0v1.0h-1.0zM152.7 34.3h1.0v1.0h-1.0zM114.2 59.4h1.0v1.0h-1.0zM143.3 24.6h1.2v1.2h-1.2zM114.2 69.0h1.1v1.1h-1.1zM137.8 46.2h1.0v1.0h-1.0zM138.4 69.1h0.9v0.9h-0.9zM93.9 125.7h1.0v1.0h-1.0zM148.5 26.5h1.1v1.1h-1.1zM101.6 22.3h1.3v1.3h-1.3zM102.4 104.3h1.0v1.0h-1.0zM119.7 97.4h1.2v1.2h-1.2zM135.4 36.9h1.1v1.1h-1.1zM135.5 44.3h1.3v1.3h-1.3zM121.7 50.3h1.1v1.1h-1.1zM115.9 27.9h0.9v0.9h-0.9zM150.7 28.5h1.3v1.3h-1.3zM139.0 73.5h1.0v1.0h-1.0zM133.6 26.8h1.0v1.0h-1.0zM120.5 101.4h1.2v1.2h-1.2zM143.5 53.7h1.0v1.0h-1.0zM126.8 55.8h1.2v1.2h-1.2zM120.2 93.1h1.3v1.3h-1.3zM104.1 95.9h1.4v1.4h-1.4zM120.2 50.8h1.1v1.1h-1.1zM103.7 133.9h1.3v1.3h-1.3zM126.3 68.7h0.9v0.9h-0.9zM135.5 45.9h1.4v1.4h-1.4zM122.8 69.9h1.0v1.0h-1.0zM92.6 161.4h1.4v1.4h-1.4zM121.7 14.1h1.4v1.4h-1.4zM91.1 151.8h1.0v1.0h-1.0zM101.3 136.7h1.1v1.1h-1.1zM121.4 111.4h1.1v1.1h-1.1zM113.9 113.5h1.0v1.0h-1.0zM145.0 21.8h1.0v1.0h-1.0zM131.0 57.7h0.9v0.9h-0.9zM154.5 30.9h1.1v1.1h-1.1zM112.4 112.0h1.3v1.3h-1.3zM131.0 15.4h1.0v1.0h-1.0zM112.4 64.3h1.3v1.3h-1.3zM103.6 101.0h1.2v1.2h-1.2zM104.0 108.2h0.9v0.9h-0.9zM125.5 27.5h1.3v1.3h-1.3zM130.7 16.8h1.0v1.0h-1.0zM136.1 68.8h1.2v1.2h-1.2zM109.8 121.1h1.2v1.2h-1.2zM103.9 62.2h1.2v1.2h-1.2zM114.6 112.5h0.9v0.9h-0.9zM124.0 108.1h1.0v1.0h-1.0zM129.9 35.6h1.2v1.2h-1.2zM147.7 33.1h1.2v1.2h-1.2zM104.2 134.1h1.2v1.2h-1.2zM116.4 106.2h1.0v1.0h-1.0zM126.0 47.4h1.3v1.3h-1.3zM143.2 18.0h1.4v1.4h-1.4zM101.0 131.9h1.1v1.1h-1.1zM133.8 41.5h0.9v0.9h-0.9zM131.6 67.7h0.9v0.9h-0.9zM139.5 63.1h1.1v1.1h-1.1zM127.5 21.7h1.0v1.0h-1.0zM135.3 45.2h1.1v1.1h-1.1zM110.3 24.8h1.3v1.3h-1.3zM111.0 120.6h1.1v1.1h-1.1zM114.7 60.9h1.1v1.1h-1.1zM148.6 23.7h0.9v0.9h-0.9zM112.3 100.3h0.9v0.9h-0.9zM143.9 22.5h1.4v1.4h-1.4zM140.4 39.8h1.4v1.4h-1.4zM98.3 112.6h1.0v1.0h-1.0zM133.7 38.5h0.9v0.9h-0.9zM119.3 92.2h1.3v1.3h-1.3zM107.1 133.5h1.4v1.4h-1.4zM127.2 102.5h1.0v1.0h-1.0zM111.7 50.1h1.3v1.3h-1.3zM110.2 130.1h1.2v1.2h-1.2zM108.1 20.0h1.0v1.0h-1.0zM156.3 26.8h1.1v1.1h-1.1zM125.8 82.9h1.1v1.1h-1.1zM130.7 16.0h1.0v1.0h-1.0zM123.4 18.3h1.3v1.3h-1.3zM117.4 59.4h1.3v1.3h-1.3zM102.0 61.8h1.0v1.0h-1.0zM135.2 29.0h1.3v1.3h-1.3zM99.9 109.4h1.1v1.1h-1.1zM125.1 13.5h1.1v1.1h-1.1zM99.1 29.9h1.0v1.0h-1.0zM121.4 65.0h1.3v1.3h-1.3zM123.6 56.2h1.2v1.2h-1.2zM149.3 34.2h0.9v0.9h-0.9zM109.5 18.9h1.2v1.2h-1.2zM126.0 18.8h1.0v1.0h-1.0zM112.0 109.3h1.0v1.0h-1.0zM119.5 95.8h1.0v1.0h-1.0zM123.2 83.2h0.9v0.9h-0.9zM93.8 142.4h1.1v1.1h-1.1zM137.6 50.2h1.2v1.2h-1.2zM125.6 48.6h1.0v1.0h-1.0zM126.8 63.3h1.0v1.0h-1.0zM152.5 25.1h1.1v1.1h-1.1zM117.4 122.6h1.3v1.3h-1.3zM126.4 85.6h0.9v0.9h-0.9zM101.1 97.8h1.0v1.0h-1.0zM110.1 108.5h1.4v1.4h-1.4zM127.4 28.0h0.9v0.9h-0.9zM126.5 38.8h1.1v1.1h-1.1zM108.4 54.7h0.9v0.9h-0.9zM122.1 96.2h1.2v1.2h-1.2zM125.9 49.6h0.9v0.9h-0.9zM123.0 18.6h0.9v0.9h-0.9zM116.3 37.6h0.9v0.9h-0.9zM127.8 28.2h1.3v1.3h-1.3zM142.3 30.5h1.4v1.4h-1.4zM126.2 64.5h1.0v1.0h-1.0zM108.5 85.7h1.1v1.1h-1.1zM123.5 12.0h0.9v0.9h-0.9zM119.4 109.6h0.9v0.9h-0.9zM119.3 90.1h0.9v0.9h-0.9zM108.3 116.2h1.4v1.4h-1.4zM147.6 24.7h0.9v0.9h-0.9zM98.5 100.7h0.9v0.9h-0.9zM144.4 63.7h1.2v1.2h-1.2zM131.9 46.5h0.9v0.9h-0.9zM110.6 119.3h1.1v1.1h-1.1zM143.7 16.5h0.9v0.9h-0.9zM123.1 107.2h1.1v1.1h-1.1zM110.6 95.8h1.0v1.0h-1.0zM101.6 111.7h0.9v0.9h-0.9zM131.8 28.1h1.0v1.0h-1.0zM122.5 93.7h1.3v1.3h-1.3zM133.9 16.5h1.3v1.3h-1.3zM120.2 19.3h1.4v1.4h-1.4zM129.9 40.3h0.9v0.9h-0.9zM102.5 15.0h1.3v1.3h-1.3zM124.5 99.0h1.3v1.3h-1.3zM120.0 39.3h1.3v1.3h-1.3zM137.0 16.3h1.0v1.0h-1.0zM107.4 38.7h1.0v1.0h-1.0zM125.4 24.6h1.0v1.0h-1.0zM104.5 128.5h1.2v1.2h-1.2zM127.6 17.6h1.1v1.1h-1.1zM112.6 111.6h1.2v1.2h-1.2zM90.2 131.8h0.9v0.9h-0.9zM135.8 78.9h1.0v1.0h-1.0zM139.0 17.1h1.3v1.3h-1.3zM136.9 41.4h1.1v1.1h-1.1zM109.0 62.9h0.9v0.9h-0.9zM108.5 29.5h1.1v1.1h-1.1zM113.9 60.7h0.9v0.9h-0.9zM101.8 43.9h0.9v0.9h-0.9zM142.3 60.5h1.1v1.1h-1.1zM115.0 115.7h0.9v0.9h-0.9zM119.9 38.1h1.4v1.4h-1.4zM98.0 80.3h1.4v1.4h-1.4zM128.6 47.4h1.1v1.1h-1.1zM121.7 55.4h0.9v0.9h-0.9zM108.3 101.5h0.9v0.9h-0.9zM124.7 14.9h1.1v1.1h-1.1zM116.0 98.9h1.4v1.4h-1.4zM148.1 57.6h1.3v1.3h-1.3zM121.2 67.5h0.9v0.9h-0.9zM84.9 154.5h1.3v1.3h-1.3zM124.9 51.0h1.3v1.3h-1.3zM117.8 111.7h1.1v1.1h-1.1zM149.5 18.3h0.9v0.9h-0.9zM117.2 26.5h1.4v1.4h-1.4zM123.6 27.6h1.4v1.4h-1.4zM138.2 47.4h1.2v1.2h-1.2zM118.6 59.6h1.1v1.1h-1.1zM110.1 60.7h1.3v1.3h-1.3zM127.9 35.7h1.1v1.1h-1.1zM119.8 68.9h0.9v0.9h-0.9zM143.4 24.4h1.4v1.4h-1.4zM119.8 118.3h1.3v1.3h-1.3zM140.7 25.9h1.0v1.0h-1.0zM114.8 100.7h1.2v1.2h-1.2zM120.2 51.2h1.3v1.3h-1.3zM145.2 29.8h0.9v0.9h-0.9zM105.7 53.8h1.0v1.0h-1.0zM125.4 23.0h1.3v1.3h-1.3zM115.7 33.8h1.2v1.2h-1.2zM90.2 156.0h1.3v1.3h-1.3zM151.1 20.4h1.2v1.2h-1.2zM129.6 92.3h1.2v1.2h-1.2zM127.5 88.7h1.2v1.2h-1.2zM122.2 16.9h1.2v1.2h-1.2zM127.1 61.8h0.9v0.9h-0.9zM116.6 122.5h1.3v1.3h-1.3zM92.8 154.0h1.1v1.1h-1.1zM124.2 76.9h0.9v0.9h-0.9zM96.9 147.7h1.3v1.3h-1.3zM117.7 53.7h1.4v1.4h-1.4zM132.1 42.5h1.3v1.3h-1.3zM107.0 99.4h0.9v0.9h-0.9zM90.9 148.6h0.9v0.9h-0.9zM109.7 138.9h1.3v1.3h-1.3zM105.6 114.4h1.0v1.0h-1.0zM127.6 17.1h1.0v1.0h-1.0zM142.3 21.8h1.1v1.1h-1.1zM99.9 132.5h1.1v1.1h-1.1zM85.4 155.1h1.4v1.4h-1.4zM111.6 63.2h1.3v1.3h-1.3zM128.7 70.7h1.0v1.0h-1.0zM122.1 81.4h1.2v1.2h-1.2zM126.6 39.2h1.0v1.0h-1.0zM129.5 12.2h1.0v1.0h-1.0zM127.0 94.0h1.2v1.2h-1.2zM107.7 112.6h1.1v1.1h-1.1zM124.5 38.5h1.2v1.2h-1.2zM151.8 27.0h1.4v1.4h-1.4zM114.2 43.1h1.1v1.1h-1.1zM144.4 26.2h1.3v1.3h-1.3zM125.1 12.6h1.1v1.1h-1.1zM120.8 90.5h1.3v1.3h-1.3zM115.9 41.3h1.4v1.4h-1.4zM127.9 67.0h1.3v1.3h-1.3zM112.5 62.6h1.0v1.0h-1.0zM126.2 37.0h1.0v1.0h-1.0zM97.6 151.8h1.3v1.3h-1.3zM132.2 76.9h1.0v1.0h-1.0zM102.6 116.5h1.0v1.0h-1.0zM135.8 42.3h1.2v1.2h-1.2zM146.9 16.9h0.9v0.9h-0.9zM123.0 61.6h1.0v1.0h-1.0zM132.7 28.8h1.2v1.2h-1.2zM94.3 139.2h1.4v1.4h-1.4zM124.1 60.5h0.9v0.9h-0.9zM123.7 39.1h1.0v1.0h-1.0zM132.1 27.4h1.2v1.2h-1.2zM125.9 84.8h1.3v1.3h-1.3zM112.4 49.1h1.1v1.1h-1.1zM129.8 69.2h1.0v1.0h-1.0zM121.6 80.9h1.0v1.0h-1.0zM97.3 164.0h1.2v1.2h-1.2zM142.3 19.6h1.3v1.3h-1.3zM136.7 27.1h1.2v1.2h-1.2zM133.7 53.8h1.4v1.4h-1.4zM124.0 28.4h1.0v1.0h-1.0zM126.3 77.3h0.9v0.9h-0.9zM117.7 58.2h1.0v1.0h-1.0zM147.1 19.8h1.3v1.3h-1.3zM125.6 86.4h1.2v1.2h-1.2zM131.7 52.8h1.2v1.2h-1.2zM141.2 42.2h1.0v1.0h-1.0zM98.5 135.4h1.3v1.3h-1.3zM95.5 135.3h1.3v1.3h-1.3zM114.1 63.9h1.1v1.1h-1.1zM144.9 44.1h1.0v1.0h-1.0zM114.5 45.9h1.3v1.3h-1.3zM109.5 136.8h1.2v1.2h-1.2zM108.3 43.9h1.0v1.0h-1.0zM132.1 88.6h1.3v1.3h-1.3zM123.3 19.2h1.0v1.0h-1.0zM95.8 133.0h1.2v1.2h-1.2zM116.4 91.4h1.3v1.3h-1.3zM115.5 26.2h1.1v1.1h-1.1zM115.6 120.6h1.2v1.2h-1.2zM109.5 118.3h1.3v1.3h-1.3zM96.7 150.6h1.1v1.1h-1.1zM137.4 43.3h1.0v1.0h-1.0zM105.9 121.6h1.3v1.3h-1.3zM130.1 27.3h0.9v0.9h-0.9zM125.7 59.1h0.9v0.9h-0.9zM124.8 93.4h1.0v1.0h-1.0zM120.2 97.4h1.1v1.1h-1.1zM114.5 105.4h0.9v0.9h-0.9zM114.2 65.1h0.9v0.9h-0.9zM87.2 153.5h1.1v1.1h-1.1zM121.5 89.9h1.0v1.0h-1.0zM146.6 33.7h1.2v1.2h-1.2zM94.8 116.1h1.2v1.2h-1.2zM149.2 30.6h1.2v1.2h-1.2zM142.4 22.0h1.0v1.0h-1.0zM124.5 44.9h1.1v1.1h-1.1zM102.6 128.8h0.9v0.9h-0.9zM134.5 51.5h0.9v0.9h-0.9zM143.7 20.5h1.1v1.1h-1.1zM104.5 15.3h1.3v1.3h-1.3zM137.6 33.0h1.1v1.1h-1.1zM118.9 98.6h0.9v0.9h-0.9zM129.1 75.8h1.0v1.0h-1.0zM94.6 160.4h1.0v1.0h-1.0zM116.8 91.9h1.1v1.1h-1.1zM131.9 20.4h1.1v1.1h-1.1zM118.3 105.7h1.2v1.2h-1.2zM126.3 84.5h1.1v1.1h-1.1zM136.6 39.8h1.3v1.3h-1.3zM144.5 38.8h1.1v1.1h-1.1zM133.8 67.6h1.3v1.3h-1.3zM99.0 132.6h1.2v1.2h-1.2zM116.2 53.1h1.0v1.0h-1.0zM114.1 94.3h1.0v1.0h-1.0zM126.8 79.4h1.3v1.3h-1.3zM119.8 58.2h1.0v1.0h-1.0zM150.1 30.5h1.1v1.1h-1.1zM135.5 47.1h0.9v0.9h-0.9zM101.8 118.4h1.3v1.3h-1.3zM147.4 22.8h1.2v1.2h-1.2zM132.6 45.0h1.3v1.3h-1.3zM122.7 92.6h1.0v1.0h-1.0zM99.1 130.6h1.2v1.2h-1.2zM92.0 141.6h1.2v1.2h-1.2zM129.1 91.3h1.2v1.2h-1.2zM120.9 56.2h1.2v1.2h-1.2zM125.5 36.5h1.1v1.1h-1.1zM117.5 34.7h1.1v1.1h-1.1zM106.5 102.8h1.0v1.0h-1.0zM151.3 29.7h1.4v1.4h-1.4zM136.8 33.7h1.2v1.2h-1.2zM120.0 81.0h1.3v1.3h-1.3zM146.3 27.4h1.0v1.0h-1.0zM129.8 59.9h1.0v1.0h-1.0zM143.7 16.3h1.2v1.2h-1.2zM125.6 93.7h1.2v1.2h-1.2zM132.2 52.3h1.3v1.3h-1.3zM133.0 21.5h0.9v0.9h-0.9zM146.6 25.6h1.2v1.2h-1.2zM125.8 43.6h1.1v1.1h-1.1zM125.3 19.7h1.3v1.3h-1.3zM113.9 16.0h1.3v1.3h-1.3zM98.2 138.6h0.9v0.9h-0.9zM129.4 56.2h1.2v1.2h-1.2zM136.3 35.0h1.1v1.1h-1.1zM106.0 98.1h1.2v1.2h-1.2zM121.4 37.9h1.3v1.3h-1.3zM122.7 17.6h1.3v1.3h-1.3zM112.0 110.5h1.0v1.0h-1.0zM127.8 77.6h1.2v1.2h-1.2zM118.7 52.2h1.4v1.4h-1.4zM114.0 58.1h1.2v1.2h-1.2zM106.6 110.5h1.0v1.0h-1.0zM151.2 26.6h1.4v1.4h-1.4zM118.8 42.2h1.2v1.2h-1.2zM124.5 95.4h1.0v1.0h-1.0zM136.9 70.4h1.0v1.0h-1.0zM94.6 130.0h1.2v1.2h-1.2zM119.4 121.9h1.2v1.2h-1.2zM108.9 104.1h1.1v1.1h-1.1zM130.4 46.1h1.0v1.0h-1.0zM104.1 159.8h1.0v1.0h-1.0zM101.2 126.8h1.1v1.1h-1.1zM123.6 61.4h0.9v0.9h-0.9zM105.9 35.2h1.3v1.3h-1.3zM117.6 102.5h1.2v1.2h-1.2zM99.1 111.6h0.9v0.9h-0.9zM116.1 45.0h1.0v1.0h-1.0zM105.7 55.3h1.2v1.2h-1.2zM145.1 22.6h1.3v1.3h-1.3zM144.0 37.7h0.9v0.9h-0.9zM135.4 54.5h0.9v0.9h-0.9zM114.7 97.1h1.2v1.2h-1.2zM126.3 37.9h1.0v1.0h-1.0zM116.3 139.9h1.0v1.0h-1.0zM110.1 61.6h1.0v1.0h-1.0zM136.8 41.1h1.2v1.2h-1.2zM125.1 95.5h1.2v1.2h-1.2zM130.7 14.9h1.2v1.2h-1.2zM128.6 57.9h0.9v0.9h-0.9zM124.1 22.7h1.3v1.3h-1.3zM131.3 50.4h1.3v1.3h-1.3zM134.3 55.7h1.4v1.4h-1.4zM138.7 17.4h1.1v1.1h-1.1zM148.8 31.7h1.0v1.0h-1.0zM127.3 19.3h1.1v1.1h-1.1zM119.4 74.1h1.3v1.3h-1.3zM114.4 111.0h1.2v1.2h-1.2zM126.3 31.1h0.9v0.9h-0.9zM120.0 33.5h1.0v1.0h-1.0zM94.8 153.9h1.2v1.2h-1.2zM139.6 40.5h1.1v1.1h-1.1zM126.0 41.1h1.3v1.3h-1.3zM150.0 18.9h1.2v1.2h-1.2zM97.9 126.3h1.4v1.4h-1.4zM119.2 50.6h1.0v1.0h-1.0zM132.4 33.2h1.0v1.0h-1.0zM109.2 116.8h1.0v1.0h-1.0zM133.3 24.5h1.1v1.1h-1.1zM109.0 51.9h1.3v1.3h-1.3zM125.6 37.5h1.2v1.2h-1.2zM136.5 45.3h1.2v1.2h-1.2zM125.3 24.4h1.4v1.4h-1.4zM120.7 58.5h1.3v1.3h-1.3zM121.6 70.2h1.1v1.1h-1.1zM106.7 97.3h1.0v1.0h-1.0zM104.0 99.4h0.9v0.9h-0.9zM96.4 132.8h1.0v1.0h-1.0zM109.6 119.1h1.2v1.2h-1.2zM129.1 56.3h1.1v1.1h-1.1zM120.0 132.7h1.2v1.2h-1.2zM126.0 62.3h1.3v1.3h-1.3zM113.8 134.1h1.1v1.1h-1.1zM131.6 71.9h1.4v1.4h-1.4zM139.3 51.4h0.9v0.9h-0.9zM118.6 95.3h1.0v1.0h-1.0zM116.4 89.1h1.1v1.1h-1.1zM115.9 56.7h1.2v1.2h-1.2zM116.4 119.0h0.9v0.9h-0.9zM114.2 36.8h1.0v1.0h-1.0zM131.2 35.2h0.9v0.9h-0.9zM102.2 123.7h1.2v1.2h-1.2zM120.3 45.2h0.9v0.9h-0.9zM113.5 136.9h0.9v0.9h-0.9zM121.9 32.5h1.0v1.0h-1.0zM153.8 29.5h1.0v1.0h-1.0zM124.1 82.6h1.2v1.2h-1.2zM130.0 35.0h1.3v1.3h-1.3zM138.1 52.0h1.3v1.3h-1.3zM98.2 161.4h0.9v0.9h-0.9zM123.1 67.8h1.1v1.1h-1.1zM122.9 79.2h0.9v0.9h-0.9zM96.9 142.8h1.2v1.2h-1.2zM134.5 14.9h1.1v1.1h-1.1zM99.2 147.0h1.1v1.1h-1.1zM127.7 40.8h1.2v1.2h-1.2zM115.2 117.9h0.9v0.9h-0.9zM129.9 47.4h0.9v0.9h-0.9zM146.0 17.2h1.2v1.2h-1.2zM116.0 49.9h1.2v1.2h-1.2zM149.1 24.3h1.3v1.3h-1.3zM127.0 14.5h1.4v1.4h-1.4zM105.5 53.1h0.9v0.9h-0.9zM119.1 36.1h1.4v1.4h-1.4zM116.1 113.8h1.3v1.3h-1.3zM124.6 31.9h1.1v1.1h-1.1zM119.0 84.0h0.9v0.9h-0.9zM130.4 45.4h1.4v1.4h-1.4zM99.3 139.8h1.2v1.2h-1.2zM110.8 54.6h1.0v1.0h-1.0zM125.0 41.6h0.9v0.9h-0.9zM121.9 11.8h1.2v1.2h-1.2zM125.0 33.8h1.1v1.1h-1.1zM139.2 31.9h0.9v0.9h-0.9zM125.2 22.3h0.9v0.9h-0.9zM101.4 130.4h1.0v1.0h-1.0zM123.3 14.8h1.2v1.2h-1.2zM134.6 51.7h1.1v1.1h-1.1zM110.9 112.1h1.1v1.1h-1.1zM128.8 61.0h0.9v0.9h-0.9zM114.8 20.6h0.9v0.9h-0.9zM106.2 144.9h0.9v0.9h-0.9zM135.7 49.8h1.3v1.3h-1.3zM131.9 29.2h0.9v0.9h-0.9zM124.1 24.5h1.0v1.0h-1.0zM157.0 25.3h0.9v0.9h-0.9zM103.8 124.1h1.4v1.4h-1.4zM121.6 50.7h1.0v1.0h-1.0zM122.9 46.4h1.3v1.3h-1.3zM129.7 48.4h1.1v1.1h-1.1zM128.6 15.9h0.9v0.9h-0.9zM123.8 93.4h1.2v1.2h-1.2zM129.5 69.2h1.3v1.3h-1.3zM131.5 53.9h1.4v1.4h-1.4zM123.2 43.1h1.0v1.0h-1.0zM123.6 43.2h1.3v1.3h-1.3zM128.6 52.8h1.0v1.0h-1.0zM116.7 41.2h1.2v1.2h-1.2zM126.6 16.8h1.2v1.2h-1.2zM113.3 97.0h1.0v1.0h-1.0zM125.2 17.8h1.2v1.2h-1.2zM145.2 21.1h1.3v1.3h-1.3zM136.4 18.8h0.9v0.9h-0.9zM123.2 68.0h1.1v1.1h-1.1zM125.8 78.6h1.4v1.4h-1.4zM85.2 161.1h1.2v1.2h-1.2zM100.4 127.9h1.3v1.3h-1.3zM121.7 61.6h1.0v1.0h-1.0zM133.1 16.0h1.2v1.2h-1.2zM114.1 46.0h1.2v1.2h-1.2zM118.5 124.4h0.9v0.9h-0.9zM122.4 12.9h1.2v1.2h-1.2zM119.0 19.4h1.1v1.1h-1.1zM135.5 19.5h1.3v1.3h-1.3zM102.7 46.8h1.0v1.0h-1.0zM119.8 13.4h0.9v0.9h-0.9zM146.5 12.7h1.0v1.0h-1.0zM154.1 32.9h1.3v1.3h-1.3zM142.8 28.3h1.3v1.3h-1.3zM101.2 119.4h1.2v1.2h-1.2zM116.5 99.6h0.9v0.9h-0.9zM148.8 24.2h0.9v0.9h-0.9zM135.9 39.5h1.1v1.1h-1.1zM119.1 60.4h1.2v1.2h-1.2zM140.7 52.2h1.0v1.0h-1.0zM118.4 37.3h1.0v1.0h-1.0z" fill="#34b050"/>
<path d="M109.4 136.5h1.2v1.2h-1.2zM107.9 114.5h1.2v1.2h-1.2zM108.2 138.3h1.3v1.3h-1.3zM143.4 28.3h1.1v1.1h-1.1zM123.7 107.9h1.0v1.0h-1.0zM86.8 138.4h1.1v1.1h-1.1zM98.4 138.5h1.2v1.2h-1.2zM130.7 35.2h1.0v1.0h-1.0zM116.1 103.6h1.4v1.4h-1.4zM91.5 129.6h1.2v1.2h-1.2zM126.4 109.6h1.1v1.1h-1.1zM114.0 65.7h0.9v0.9h-0.9zM147.7 28.8h1.0v1.0h-1.0zM145.2 52.9h1.2v1.2h-1.2zM125.5 47.4h0.9v0.9h-0.9zM120.2 51.1h1.0v1.0h-1.0zM134.4 32.9h0.9v0.9h-0.9zM129.5 64.1h0.9v0.9h-0.9zM126.4 70.4h1.0v1.0h-1.0zM157.8 20.0h1.0v1.0h-1.0zM126.8 79.1h0.9v0.9h-0.9zM116.9 112.5h0.9v0.9h-0.9zM95.0 159.1h1.0v1.0h-1.0zM119.0 29.3h1.1v1.1h-1.1zM123.1 123.6h0.9v0.9h-0.9zM101.4 126.8h0.9v0.9h-0.9zM115.7 114.7h1.2v1.2h-1.2zM124.4 109.9h1.2v1.2h-1.2zM97.9 107.7h0.9v0.9h-0.9zM94.6 153.0h1.1v1.1h-1.1zM117.7 34.7h1.2v1.2h-1.2zM142.9 20.8h1.2v1.2h-1.2zM113.3 58.3h1.4v1.4h-1.4zM109.2 119.4h1.4v1.4h-1.4zM121.1 91.6h1.0v1.0h-1.0zM127.9 40.8h1.3v1.3h-1.3zM125.1 96.2h1.4v1.4h-1.4zM107.9 50.8h1.1v1.1h-1.1zM126.0 22.5h1.3v1.3h-1.3zM120.2 33.9h1.3v1.3h-1.3zM129.6 18.9h0.9v0.9h-0.9zM116.2 112.4h1.4v1.4h-1.4zM149.8 29.1h1.2v1.2h-1.2zM126.5 110.5h1.1v1.1h-1.1zM129.0 29.9h1.3v1.3h-1.3zM130.5 14.0h1.1v1.1h-1.1zM128.4 88.5h0.9v0.9h-0.9zM125.9 37.8h1.4v1.4h-1.4zM99.9 135.4h1.1v1.1h-1.1zM102.6 52.9h1.3v1.3h-1.3zM118.7 82.0h1.0v1.0h-1.0zM129.8 89.5h1.3v1.3h-1.3zM106.9 103.7h1.0v1.0h-1.0zM137.3 21.7h1.1v1.1h-1.1zM93.6 159.8h1.2v1.2h-1.2zM128.2 77.9h1.1v1.1h-1.1zM124.5 116.5h1.2v1.2h-1.2zM121.7 61.5h1.3v1.3h-1.3zM129.3 50.2h1.0v1.0h-1.0zM111.9 112.3h1.1v1.1h-1.1zM129.9 51.1h0.9v0.9h-0.9zM111.0 34.2h1.3v1.3h-1.3zM124.2 33.7h1.1v1.1h-1.1zM136.8 69.8h1.2v1.2h-1.2zM150.1 22.3h1.0v1.0h-1.0zM121.2 96.0h1.3v1.3h-1.3zM114.7 105.5h0.9v0.9h-0.9zM127.2 57.9h1.4v1.4h-1.4zM94.1 132.7h0.9v0.9h-0.9zM119.8 111.3h1.4v1.4h-1.4zM125.5 28.3h0.9v0.9h-0.9zM131.5 17.5h1.2v1.2h-1.2zM148.9 32.6h1.4v1.4h-1.4zM150.4 28.1h1.4v1.4h-1.4zM142.9 40.2h1.3v1.3h-1.3zM133.1 34.2h0.9v0.9h-0.9zM110.6 115.0h1.2v1.2h-1.2zM124.6 54.0h1.0v1.0h-1.0zM135.1 37.9h1.4v1.4h-1.4zM123.8 80.7h1.2v1.2h-1.2zM113.9 125.6h1.0v1.0h-1.0zM135.6 55.5h1.3v1.3h-1.3zM117.2 113.2h1.4v1.4h-1.4zM138.5 18.4h1.2v1.2h-1.2zM128.1 34.5h1.4v1.4h-1.4zM116.7 15.1h1.2v1.2h-1.2zM124.6 89.5h1.0v1.0h-1.0zM115.1 121.0h1.0v1.0h-1.0zM110.8 45.6h1.3v1.3h-1.3zM145.4 21.4h1.1v1.1h-1.1zM133.5 54.8h1.0v1.0h-1.0zM121.2 40.8h1.3v1.3h-1.3zM122.8 84.3h1.0v1.0h-1.0zM100.3 122.9h1.2v1.2h-1.2zM113.6 104.7h1.3v1.3h-1.3zM123.0 34.5h0.9v0.9h-0.9zM107.7 101.2h0.9v0.9h-0.9zM125.0 66.9h1.0v1.0h-1.0zM119.9 38.5h1.2v1.2h-1.2zM120.9 29.5h1.0v1.0h-1.0zM124.3 65.4h1.3v1.3h-1.3zM117.0 120.1h0.9v0.9h-0.9zM113.5 46.4h0.9v0.9h-0.9zM124.9 25.1h1.4v1.4h-1.4zM118.8 54.6h1.1v1.1h-1.1zM125.5 64.3h0.9v0.9h-0.9zM152.1 24.6h1.2v1.2h-1.2zM109.4 76.9h1.1v1.1h-1.1zM130.9 41.2h1.4v1.4h-1.4zM126.9 15.1h1.2v1.2h-1.2zM127.9 33.9h1.1v1.1h-1.1zM130.4 21.2h1.3v1.3h-1.3zM99.0 97.6h1.2v1.2h-1.2zM126.6 27.3h0.9v0.9h-0.9zM108.5 88.5h1.2v1.2h-1.2zM111.4 12.1h1.2v1.2h-1.2zM129.9 79.5h1.1v1.1h-1.1zM131.8 47.7h1.0v1.0h-1.0zM117.1 34.6h0.9v0.9h-0.9zM111.9 67.5h1.1v1.1h-1.1zM127.3 48.9h1.3v1.3h-1.3zM113.3 105.9h1.4v1.4h-1.4zM101.5 99.9h1.3v1.3h-1.3zM131.4 16.2h1.0v1.0h-1.0zM120.9 68.3h0.9v0.9h-0.9zM147.0 27.3h1.2v1.2h-1.2zM95.7 148.3h1.2v1.2h-1.2zM143.4 16.8h1.0v1.0h-1.0zM140.6 72.4h1.2v1.2h-1.2zM124.4 38.8h1.2v1.2h-1.2zM124.9 61.3h1.1v1.1h-1.1zM133.6 40.6h1.4v1.4h-1.4zM121.3 39.7h1.4v1.4h-1.4zM130.9 22.0h1.0v1.0h-1.0zM111.0 132.0h1.1v1.1h-1.1zM136.5 63.0h1.4v1.4h-1.4zM118.6 32.8h1.4v1.4h-1.4zM100.9 161.7h1.3v1.3h-1.3zM129.8 27.1h1.0v1.0h-1.0zM125.9 46.6h1.0v1.0h-1.0zM139.8 68.8h0.9v0.9h-0.9zM118.2 64.5h1.1v1.1h-1.1zM132.5 33.5h1.0v1.0h-1.0zM143.2 23.1h1.0v1.0h-1.0zM99.0 33.6h0.9v0.9h-0.9zM132.0 38.3h1.3v1.3h-1.3zM103.7 109.9h0.9v0.9h-0.9zM127.1 43.9h0.9v0.9h-0.9zM105.5 94.9h1.0v1.0h-1.0zM128.0 52.9h1.1v1.1h-1.1zM145.9 15.9h1.2v1.2h-1.2zM126.9 62.0h1.0v1.0h-1.0zM148.5 44.0h1.3v1.3h-1.3zM117.1 43.0h1.4v1.4h-1.4zM121.6 113.3h1.0v1.0h-1.0zM136.9 30.6h0.9v0.9h-0.9zM125.8 51.4h1.2v1.2h-1.2zM116.6 108.4h1.3v1.3h-1.3zM117.1 41.7h1.2v1.2h-1.2zM118.1 56.1h1.1v1.1h-1.1zM144.0 17.7h1.2v1.2h-1.2zM121.9 86.8h0.9v0.9h-0.9zM118.0 119.5h1.0v1.0h-1.0zM107.2 101.1h1.2v1.2h-1.2zM92.3 144.9h0.9v0.9h-0.9zM96.6 159.8h1.0v1.0h-1.0zM132.1 30.1h1.3v1.3h-1.3zM134.1 52.4h0.9v0.9h-0.9zM114.6 104.0h0.9v0.9h-0.9zM105.9 28.7h1.2v1.2h-1.2zM122.9 123.1h1.2v1.2h-1.2zM126.4 93.7h1.0v1.0h-1.0zM139.3 18.0h1.2v1.2h-1.2zM135.1 48.7h1.0v1.0h-1.0zM136.6 22.4h1.3v1.3h-1.3zM141.4 31.2h1.2v1.2h-1.2zM100.9 136.7h0.9v0.9h-0.9zM115.8 28.9h1.0v1.0h-1.0zM132.5 54.1h1.3v1.3h-1.3zM122.7 42.3h1.0v1.0h-1.0zM94.6 139.5h1.2v1.2h-1.2zM91.4 161.7h1.2v1.2h-1.2zM120.3 106.1h1.1v1.1h-1.1zM123.9 91.1h1.2v1.2h-1.2zM118.0 66.8h1.2v1.2h-1.2zM126.7 46.7h1.3v1.3h-1.3zM130.3 25.9h0.9v0.9h-0.9zM126.6 68.1h0.9v0.9h-0.9zM106.6 109.8h1.4v1.4h-1.4zM110.7 109.0h1.1v1.1h-1.1zM120.0 56.0h1.4v1.4h-1.4zM105.3 130.6h1.3v1.3h-1.3zM142.3 19.1h1.0v1.0h-1.0zM123.0 16.4h0.9v0.9h-0.9zM121.9 68.7h1.2v1.2h-1.2zM109.5 115.3h1.1v1.1h-1.1zM142.9 20.9h1.0v1.0h-1.0zM118.4 38.9h1.1v1.1h-1.1zM116.7 51.6h1.0v1.0h-1.0zM137.9 44.3h1.4v1.4h-1.4zM98.6 122.7h1.1v1.1h-1.1zM128.2 15.4h1.0v1.0h-1.0zM106.0 51.6h0.9v0.9h-0.9zM129.9 44.3h0.9v0.9h-0.9zM118.0 107.6h1.3v1.3h-1.3zM99.5 123.7h1.2v1.2h-1.2zM133.9 40.3h1.1v1.1h-1.1zM126.1 85.4h1.2v1.2h-1.2zM86.2 160.2h1.2v1.2h-1.2zM133.9 18.1h0.9v0.9h-0.9zM121.1 17.6h1.0v1.0h-1.0zM98.4 143.8h1.2v1.2h-1.2zM94.7 126.2h1.2v1.2h-1.2zM145.6 42.2h1.0v1.0h-1.0zM135.6 56.5h0.9v0.9h-0.9zM125.6 51.8h1.2v1.2h-1.2zM133.0 22.7h0.9v0.9h-0.9zM144.8 27.2h0.9v0.9h-0.9zM115.0 32.5h1.0v1.0h-1.0zM118.6 79.2h1.4v1.4h-1.4zM123.7 91.6h0.9v0.9h-0.9zM124.5 31.2h1.0v1.0h-1.0zM122.4 84.5h1.1v1.1h-1.1zM88.5 157.5h1.2v1.2h-1.2zM114.5 75.9h1.2v1.2h-1.2zM108.3 121.6h1.2v1.2h-1.2zM105.4 50.9h1.0v1.0h-1.0zM131.1 20.6h1.2v1.2h-1.2zM108.0 28.7h1.1v1.1h-1.1zM124.8 37.0h1.0v1.0h-1.0zM109.0 70.7h1.2v1.2h-1.2zM118.1 114.7h1.0v1.0h-1.0zM134.1 61.1h1.3v1.3h-1.3zM125.5 64.7h1.2v1.2h-1.2zM121.3 82.1h1.3v1.3h-1.3zM113.9 111.7h1.4v1.4h-1.4zM137.2 41.4h1.3v1.3h-1.3zM132.3 17.5h1.4v1.4h-1.4zM125.3 14.9h1.0v1.0h-1.0zM130.0 54.5h1.1v1.1h-1.1zM100.4 134.8h1.2v1.2h-1.2zM148.9 27.3h1.0v1.0h-1.0zM137.1 36.2h1.4v1.4h-1.4zM144.2 20.6h1.0v1.0h-1.0zM138.3 61.8h1.2v1.2h-1.2zM120.8 55.9h1.1v1.1h-1.1zM136.2 17.2h0.9v0.9h-0.9zM94.2 136.5h1.3v1.3h-1.3zM135.4 19.6h1.0v1.0h-1.0zM114.9 22.4h1.3v1.3h-1.3zM104.4 95.2h0.9v0.9h-0.9zM128.6 55.5h1.0v1.0h-1.0zM133.3 59.5h1.2v1.2h-1.2zM114.6 37.2h1.1v1.1h-1.1zM127.4 56.6h0.9v0.9h-0.9zM119.7 96.3h1.2v1.2h-1.2zM102.9 95.5h1.1v1.1h-1.1zM100.1 152.2h1.1v1.1h-1.1zM103.7 121.0h1.3v1.3h-1.3zM123.9 76.8h0.9v0.9h-0.9zM141.3 34.0h1.1v1.1h-1.1zM122.8 51.6h0.9v0.9h-0.9zM113.4 30.3h1.0v1.0h-1.0zM116.9 60.0h1.0v1.0h-1.0zM100.0 111.5h1.4v1.4h-1.4zM113.4 120.3h1.3v1.3h-1.3zM122.9 48.1h1.3v1.3h-1.3zM110.8 114.9h1.1v1.1h-1.1zM116.9 20.6h1.1v1.1h-1.1zM103.7 103.6h1.0v1.0h-1.0zM116.3 109.3h1.4v1.4h-1.4zM103.4 145.4h0.9v0.9h-0.9zM124.9 43.9h1.2v1.2h-1.2zM118.9 16.8h1.3v1.3h-1.3zM108.9 112.0h1.2v1.2h-1.2zM134.2 16.9h1.0v1.0h-1.0zM141.7 36.8h0.9v0.9h-0.9zM130.0 93.5h1.0v1.0h-1.0zM148.2 26.2h1.2v1.2h-1.2zM149.7 32.8h1.3v1.3h-1.3zM112.1 117.3h0.9v0.9h-0.9zM106.5 119.1h0.9v0.9h-0.9zM118.1 48.1h1.3v1.3h-1.3zM113.3 108.3h0.9v0.9h-0.9zM146.4 13.0h1.4v1.4h-1.4zM129.9 64.9h1.3v1.3h-1.3zM129.2 13.5h1.0v1.0h-1.0zM123.9 79.9h0.9v0.9h-0.9zM123.6 38.0h1.1v1.1h-1.1zM126.1 49.2h1.3v1.3h-1.3zM122.3 108.9h1.1v1.1h-1.1zM125.7 43.1h1.2v1.2h-1.2zM100.9 93.1h1.1v1.1h-1.1zM119.9 53.8h0.9v0.9h-0.9zM132.6 40.0h0.9v0.9h-0.9zM106.6 89.7h1.2v1.2h-1.2zM111.5 124.8h0.9v0.9h-0.9zM121.5 90.6h1.1v1.1h-1.1zM100.7 113.4h1.3v1.3h-1.3zM103.7 131.0h1.0v1.0h-1.0zM120.2 61.8h1.2v1.2h-1.2zM118.1 116.9h1.4v1.4h-1.4zM122.0 68.2h1.2v1.2h-1.2zM120.5 57.1h1.4v1.4h-1.4zM109.8 66.0h0.9v0.9h-0.9zM129.1 29.9h0.9v0.9h-0.9zM127.8 59.0h1.0v1.0h-1.0zM128.9 28.1h1.2v1.2h-1.2zM131.7 12.3h1.1v1.1h-1.1zM139.6 33.7h1.4v1.4h-1.4zM111.9 99.4h1.3v1.3h-1.3zM136.8 57.6h1.0v1.0h-1.0zM124.3 21.3h1.3v1.3h-1.3zM100.9 118.0h1.0v1.0h-1.0zM99.9 114.4h1.4v1.4h-1.4zM114.9 39.3h1.2v1.2h-1.2zM127.3 24.3h1.0v1.0h-1.0zM116.5 122.1h1.4v1.4h-1.4zM101.2 129.4h0.9v0.9h-0.9zM135.6 16.1h1.2v1.2h-1.2zM143.7 29.8h0.9v0.9h-0.9zM101.2 94.4h1.0v1.0h-1.0zM122.6 28.0h0.9v0.9h-0.9zM135.6 39.2h1.1v1.1h-1.1zM112.0 16.3h1.0v1.0h-1.0zM95.8 144.4h1.4v1.4h-1.4zM129.9 25.7h1.2v1.2h-1.2zM105.6 58.1h1.4v1.4h-1.4zM95.2 126.4h1.0v1.0h-1.0zM102.1 125.9h1.0v1.0h-1.0zM138.7 64.2h1.0v1.0h-1.0zM117.2 41.1h1.2v1.2h-1.2zM116.4 64.0h1.3v1.3h-1.3zM113.0 46.8h1.4v1.4h-1.4zM131.8 47.9h1.3v1.3h-1.3zM143.9 17.2h1.0v1.0h-1.0zM118.9 61.3h1.0v1.0h-1.0zM124.1 57.7h1.0v1.0h-1.0zM119.7 55.8h1.0v1.0h-1.0zM100.2 137.4h1.2v1.2h-1.2zM93.5 149.6h1.3v1.3h-1.3zM105.5 163.8h0.9v0.9h-0.9zM112.8 118.0h0.9v0.9h-0.9zM115.5 48.2h1.3v1.3h-1.3zM94.0 126.4h1.4v1.4h-1.4zM147.1 22.6h0.9v0.9h-0.9zM108.1 118.6h1.2v1.2h-1.2zM151.8 29.0h0.9v0.9h-0.9zM125.7 55.5h1.0v1.0h-1.0zM88.8 149.2h1.2v1.2h-1.2zM125.2 47.7h1.2v1.2h-1.2zM110.7 137.6h1.3v1.3h-1.3zM124.9 53.2h1.1v1.1h-1.1zM127.7 23.1h0.9v0.9h-0.9zM131.0 80.1h1.3v1.3h-1.3zM114.4 113.2h0.9v0.9h-0.9zM134.3 63.2h1.3v1.3h-1.3zM121.0 49.3h1.2v1.2h-1.2zM144.1 22.3h1.1v1.1h-1.1zM107.1 61.1h1.4v1.4h-1.4zM103.3 122.9h1.1v1.1h-1.1zM122.7 26.8h1.2v1.2h-1.2zM150.2 38.0h1.0v1.0h-1.0zM114.4 64.9h1.1v1.1h-1.1zM124.4 79.6h1.3v1.3h-1.3zM140.4 56.5h1.3v1.3h-1.3zM104.6 120.3h0.9v0.9h-0.9zM141.7 46.8h1.3v1.3h-1.3zM160.5 37.8h1.2v1.2h-1.2zM90.5 153.2h1.2v1.2h-1.2zM123.3 48.7h1.0v1.0h-1.0zM119.6 59.3h1.1v1.1h-1.1zM114.8 23.9h1.2v1.2h-1.2zM120.9 52.0h1.2v1.2h-1.2zM136.7 21.0h1.3v1.3h-1.3zM143.6 15.7h1.3v1.3h-1.3zM115.4 41.0h0.9v0.9h-0.9zM118.0 36.2h1.3v1.3h-1.3zM122.9 66.8h1.2v1.2h-1.2zM95.0 157.9h1.1v1.1h-1.1zM137.6 38.4h1.3v1.3h-1.3zM118.6 106.4h1.1v1.1h-1.1zM124.2 17.7h0.9v0.9h-0.9zM150.9 19.1h1.3v1.3h-1.3zM129.4 79.3h1.1v1.1h-1.1zM91.3 153.2h1.0v1.0h-1.0zM145.2 17.9h0.9v0.9h-0.9zM115.8 55.0h1.3v1.3h-1.3zM150.9 30.4h1.1v1.1h-1.1zM124.8 32.9h1.2v1.2h-1.2zM108.4 119.5h1.0v1.0h-1.0zM124.8 52.1h1.0v1.0h-1.0zM125.6 42.0h1.1v1.1h-1.1zM124.0 42.9h1.4v1.4h-1.4zM114.7 87.9h1.2v1.2h-1.2zM125.0 41.2h1.2v1.2h-1.2zM128.6 65.6h1.2v1.2h-1.2zM118.7 28.1h1.3v1.3h-1.3zM103.9 110.2h1.0v1.0h-1.0zM103.3 112.5h1.3v1.3h-1.3zM120.7 81.9h1.0v1.0h-1.0zM121.5 111.9h1.2v1.2h-1.2zM122.2 63.9h1.2v1.2h-1.2zM121.6 41.6h1.2v1.2h-1.2zM122.0 57.4h1.0v1.0h-1.0zM94.2 103.7h1.2v1.2h-1.2zM121.8 62.1h1.1v1.1h-1.1zM137.6 63.1h1.4v1.4h-1.4zM89.4 134.8h1.0v1.0h-1.0zM135.5 33.5h1.0v1.0h-1.0zM118.0 57.0h1.4v1.4h-1.4zM147.0 26.6h1.2v1.2h-1.2zM123.7 33.8h1.0v1.0h-1.0zM99.4 97.1h1.2v1.2h-1.2zM152.6 28.3h1.3v1.3h-1.3zM108.9 131.0h1.3v1.3h-1.3zM94.2 163.8h1.3v1.3h-1.3zM117.8 39.1h0.9v0.9h-0.9zM99.0 138.6h1.2v1.2h-1.2zM122.8 15.3h1.0v1.0h-1.0zM115.8 56.8h1.2v1.2h-1.2zM127.3 70.9h0.9v0.9h-0.9zM122.1 106.4h1.1v1.1h-1.1zM132.4 16.2h0.9v0.9h-0.9zM108.3 49.5h1.1v1.1h-1.1zM103.8 58.8h1.0v1.0h-1.0zM136.9 51.0h1.1v1.1h-1.1zM99.5 143.2h0.9v0.9h-0.9zM113.9 31.7h0.9v0.9h-0.9zM149.2 27.5h1.3v1.3h-1.3zM119.7 98.7h1.3v1.3h-1.3zM132.5 27.2h1.1v1.1h-1.1zM91.8 120.0h1.2v1.2h-1.2zM124.5 20.0h1.1v1.1h-1.1zM129.7 31.3h1.0v1.0h-1.0zM145.7 26.5h1.3v1.3h-1.3zM135.3 37.7h1.0v1.0h-1.0zM116.9 97.1h1.0v1.0h-1.0zM121.0 18.6h1.0v1.0h-1.0zM148.9 16.6h1.0v1.0h-1.0zM120.6 61.2h1.0v1.0h-1.0zM126.9 53.7h0.9v0.9h-0.9zM135.9 41.1h0.9v0.9h-0.9zM120.5 21.9h1.3v1.3h-1.3zM120.7 65.4h1.2v1.2h-1.2zM127.4 96.0h1.2v1.2h-1.2zM99.6 97.0h1.3v1.3h-1.3zM126.1 22.5h1.1v1.1h-1.1zM123.6 92.4h0.9v0.9h-0.9zM141.2 18.6h0.9v0.9h-0.9zM126.5 17.1h1.2v1.2h-1.2zM119.1 103.4h1.2v1.2h-1.2zM93.5 158.9h1.3v1.3h-1.3zM105.0 97.6h1.0v1.0h-1.0zM116.1 34.7h1.2v1.2h-1.2zM114.0 117.4h1.0v1.0h-1.0zM141.5 31.6h1.1v1.1h-1.1zM125.5 27.1h1.2v1.2h-1.2zM121.9 82.8h1.0v1.0h-1.0zM134.2 29.6h0.9v0.9h-0.9zM141.0 20.1h1.0v1.0h-1.0zM125.1 48.6h1.2v1.2h-1.2zM130.6 68.9h1.1v1.1h-1.1zM128.3 21.2h1.0v1.0h-1.0zM102.2 110.9h1.3v1.3h-1.3zM125.7 59.6h0.9v0.9h-0.9zM99.0 130.1h1.4v1.4h-1.4zM118.0 44.3h1.3v1.3h-1.3zM134.1 25.9h1.3v1.3h-1.3zM120.6 111.4h1.0v1.0h-1.0zM146.9 24.8h1.1v1.1h-1.1zM106.2 44.2h1.3v1.3h-1.3zM112.9 92.3h1.1v1.1h-1.1zM95.7 152.6h1.3v1.3h-1.3zM117.5 36.3h1.0v1.0h-1.0zM136.6 45.5h1.0v1.0h-1.0zM108.7 60.7h1.0v1.0h-1.0zM122.3 32.7h1.0v1.0h-1.0zM122.8 89.6h1.1v1.1h-1.1zM118.4 99.8h1.1v1.1h-1.1zM119.9 26.8h1.2v1.2h-1.2zM102.3 101.3h1.1v1.1h-1.1zM98.4 148.3h1.2v1.2h-1.2zM113.7 119.6h1.0v1.0h-1.0zM102.2 112.7h1.2v1.2h-1.2zM114.2 62.0h0.9v0.9h-0.9zM116.2 117.7h1.3v1.3h-1.3zM146.8 24.6h1.3v1.3h-1.3zM142.2 32.2h1.4v1.4h-1.4zM123.8 85.6h1.0v1.0h-1.0zM138.9 43.1h1.1v1.1h-1.1zM133.4 56.7h1.2v1.2h-1.2zM104.2 118.6h1.2v1.2h-1.2zM124.8 21.2h0.9v0.9h-0.9zM127.2 68.8h0.9v0.9h-0.9zM123.0 26.9h1.1v1.1h-1.1zM131.3 30.2h0.9v0.9h-0.9zM133.8 87.3h0.9v0.9h-0.9zM118.5 62.8h1.1v1.1h-1.1zM105.5 116.0h1.3v1.3h-1.3zM111.9 86.0h1.4v1.4h-1.4zM122.8 59.7h0.9v0.9h-0.9z" fill="#22a4a4"/>
<path d="M127.2 40.6h0.9v0.9h-0.9zM149.0 28.9h1.2v1.2h-1.2zM125.3 39.2h1.1v1.1h-1.1zM121.7 15.4h0.9v0.9h-0.9zM132.1 22.5h1.3v1.3h-1.3zM149.3 28.1h1.0v1.0h-1.0zM128.4 77.3h1.3v1.3h-1.3zM102.4 115.6h1.0v1.0h-1.0zM113.9 112.4h1.4v1.4h-1.4zM119.7 39.9h1.2v1.2h-1.2zM146.7 21.0h0.9v0.9h-0.9zM131.4 41.2h1.4v1.4h-1.4zM132.8 20.1h1.0v1.0h-1.0zM106.5 110.0h0.9v0.9h-0.9zM105.7 97.5h1.3v1.3h-1.3zM144.7 22.2h1.4v1.4h-1.4zM107.6 102.9h0.9v0.9h-0.9zM116.2 112.3h1.0v1.0h-1.0zM121.5 40.7h1.3v1.3h-1.3zM127.9 56.2h1.3v1.3h-1.3zM110.0 94.1h0.9v0.9h-0.9zM123.8 45.8h0.9v0.9h-0.9zM120.1 41.2h1.0v1.0h-1.0zM103.6 92.5h1.2v1.2h-1.2zM123.4 92.8h1.2v1.2h-1.2zM101.9 103.7h1.0v1.0h-1.0zM96.3 135.9h1.2v1.2h-1.2zM136.6 37.2h1.2v1.2h-1.2zM115.8 82.1h1.2v1.2h-1.2zM129.6 34.8h1.3v1.3h-1.3zM126.6 42.6h1.0v1.0h-1.0zM100.5 138.4h1.4v1.4h-1.4zM138.0 27.3h1.2v1.2h-1.2zM131.8 48.3h1.2v1.2h-1.2zM147.5 18.3h1.4v1.4h-1.4zM127.2 35.4h1.3v1.3h-1.3zM110.3 37.1h1.2v1.2h-1.2zM104.1 101.9h1.1v1.1h-1.1zM122.5 26.7h1.3v1.3h-1.3zM101.5 127.1h1.2v1.2h-1.2zM119.9 119.2h1.2v1.2h-1.2zM133.2 39.3h1.3v1.3h-1.3zM135.0 36.0h1.2v1.2h-1.2zM110.1 115.2h0.9v0.9h-0.9zM119.9 94.0h1.0v1.0h-1.0zM107.8 123.3h1.4v1.4h-1.4zM116.4 102.3h1.3v1.3h-1.3zM116.9 108.5h1.4v1.4h-1.4zM107.7 121.8h1.0v1.0h-1.0zM101.5 117.4h1.0v1.0h-1.0zM123.0 103.0h0.9v0.9h-0.9zM125.3 45.8h1.2v1.2h-1.2zM111.1 108.6h0.9v0.9h-0.9zM99.2 122.4h1.1v1.1h-1.1zM139.4 43.1h1.0v1.0h-1.0zM125.1 92.5h1.3v1.3h-1.3zM154.1 27.4h1.2v1.2h-1.2zM111.7 47.0h1.3v1.3h-1.3zM133.9 75.8h1.4v1.4h-1.4zM131.4 80.4h1.3v1.3h-1.3zM123.5 59.6h1.4v1.4h-1.4zM122.5 31.7h1.2v1.2h-1.2zM92.7 143.2h1.1v1.1h-1.1zM127.3 34.1h1.0v1.0h-1.0zM119.3 103.9h1.1v1.1h-1.1zM118.7 10.1h1.0v1.0h-1.0zM97.5 103.7h1.0v1.0h-1.0zM103.2 132.8h1.4v1.4h-1.4zM123.2 41.2h1.3v1.3h-1.3zM129.6 39.9h1.4v1.4h-1.4zM112.7 75.7h1.1v1.1h-1.1zM103.4 102.0h1.0v1.0h-1.0zM140.5 27.4h1.4v1.4h-1.4zM90.3 156.0h1.1v1.1h-1.1zM100.3 141.2h1.0v1.0h-1.0zM141.4 54.5h1.0v1.0h-1.0zM91.7 134.0h1.1v1.1h-1.1zM122.4 90.7h1.4v1.4h-1.4zM104.8 143.1h1.2v1.2h-1.2zM132.7 59.1h1.1v1.1h-1.1zM116.0 57.4h1.2v1.2h-1.2zM111.9 122.9h1.3v1.3h-1.3zM105.6 96.5h1.2v1.2h-1.2zM117.7 49.6h1.1v1.1h-1.1zM102.7 118.3h1.2v1.2h-1.2zM125.0 15.0h0.9v0.9h-0.9zM125.9 21.4h1.2v1.2h-1.2zM127.0 98.5h1.0v1.0h-1.0zM104.6 120.4h1.0v1.0h-1.0zM97.0 138.2h0.9v0.9h-0.9zM121.4 64.7h0.9v0.9h-0.9zM116.0 65.9h1.1v1.1h-1.1zM101.2 15.4h1.1v1.1h-1.1zM121.6 54.2h0.9v0.9h-0.9zM123.0 87.9h1.2v1.2h-1.2zM102.3 114.3h0.9v0.9h-0.9zM121.1 88.7h1.2v1.2h-1.2zM101.8 124.0h1.0v1.0h-1.0zM108.9 123.9h1.1v1.1h-1.1zM116.9 27.2h1.0v1.0h-1.0zM102.6 119.9h1.4v1.4h-1.4zM115.6 108.3h1.2v1.2h-1.2zM126.6 35.0h1.3v1.3h-1.3zM125.2 24.7h1.4v1.4h-1.4zM131.9 53.2h1.0v1.0h-1.0zM115.1 65.0h0.9v0.9h-0.9zM135.2 42.3h0.9v0.9h-0.9zM94.3 121.6h1.2v1.2h-1.2zM149.5 21.4h1.1v1.1h-1.1zM125.4 35.2h1.4v1.4h-1.4zM135.2 54.1h1.4v1.4h-1.4zM116.1 24.5h1.0v1.0h-1.0zM127.1 28.5h0.9v0.9h-0.9zM132.0 46.2h0.9v0.9h-0.9zM115.3 54.7h1.4v1.4h-1.4zM134.4 20.8h1.1v1.1h-1.1zM145.0 26.9h1.2v1.2h-1.2zM127.0 99.4h1.4v1.4h-1.4zM128.1 51.1h1.0v1.0h-1.0zM133.9 35.9h1.3v1.3h-1.3zM136.0 31.1h1.3v1.3h-1.3zM108.3 108.5h1.4v1.4h-1.4zM107.6 46.4h1.2v1.2h-1.2zM124.5 34.3h1.2v1.2h-1.2zM106.3 95.6h1.1v1.1h-1.1zM99.0 123.0h1.0v1.0h-1.0zM145.5 24.8h0.9v0.9h-0.9zM126.4 27.2h1.1v1.1h-1.1zM102.4 132.1h1.4v1.4h-1.4zM131.6 26.0h0.9v0.9h-0.9zM133.8 88.5h1.0v1.0h-1.0zM95.6 155.2h1.3v1.3h-1.3zM135.9 48.6h1.2v1.2h-1.2zM120.6 17.7h1.3v1.3h-1.3zM141.4 21.6h1.2v1.2h-1.2zM94.7 162.6h1.0v1.0h-1.0zM123.0 41.3h1.3v1.3h-1.3zM152.8 28.7h1.0v1.0h-1.0zM122.5 60.7h1.3v1.3h-1.3zM118.0 28.3h1.2v1.2h-1.2zM127.2 61.7h1.0v1.0h-1.0zM112.7 109.8h1.0v1.0h-1.0zM123.5 70.0h1.2v1.2h-1.2zM107.3 103.7h0.9v0.9h-0.9zM145.3 16.0h0.9v0.9h-0.9zM99.4 132.3h1.0v1.0h-1.0zM132.9 76.6h1.1v1.1h-1.1z" fill="#a0cc40"/>
<path d="M111.3 124.0h1.1v1.1h-1.1zM125.1 63.4h1.3v1.3h-1.3zM109.9 134.9h1.1v1.1h-1.1zM121.2 37.4h1.2v1.2h-1.2zM106.8 133.3h1.3v1.3h-1.3zM143.2 50.0h1.3v1.3h-1.3zM98.1 139.4h1.0v1.0h-1.0zM140.9 62.4h1.1v1.1h-1.1zM121.9 47.4h1.2v1.2h-1.2zM119.0 109.2h0.9v0.9h-0.9zM116.5 34.5h1.2v1.2h-1.2zM116.3 65.2h1.3v1.3h-1.3zM116.2 68.1h1.0v1.0h-1.0zM114.6 117.3h1.3v1.3h-1.3zM89.9 130.1h1.3v1.3h-1.3zM121.7 101.9h1.2v1.2h-1.2zM115.8 115.4h1.0v1.0h-1.0zM90.9 151.5h1.4v1.4h-1.4zM127.1 19.4h0.9v0.9h-0.9zM116.1 37.6h1.1v1.1h-1.1zM129.4 49.2h1.3v1.3h-1.3zM123.0 33.9h1.3v1.3h-1.3zM130.8 38.5h1.0v1.0h-1.0zM142.1 15.7h1.3v1.3h-1.3zM132.1 12.9h1.1v1.1h-1.1zM139.8 54.3h1.2v1.2h-1.2zM116.6 109.7h0.9v0.9h-0.9zM124.8 75.9h1.4v1.4h-1.4zM114.8 21.3h1.0v1.0h-1.0zM127.8 40.3h1.2v1.2h-1.2zM126.1 68.5h1.2v1.2h-1.2zM95.8 135.9h1.2v1.2h-1.2zM128.9 63.8h1.0v1.0h-1.0zM116.2 48.0h1.2v1.2h-1.2zM124.7 56.6h1.1v1.1h-1.1zM114.9 108.0h1.0v1.0h-1.0zM130.2 22.9h1.1v1.1h-1.1zM105.0 119.2h0.9v0.9h-0.9zM89.4 156.5h1.0v1.0h-1.0zM148.4 26.4h1.4v1.4h-1.4zM124.2 86.4h1.4v1.4h-1.4zM100.3 126.3h1.2v1.2h-1.2zM114.7 94.0h1.1v1.1h-1.1z" fill="#3060b0"/><path d="M94.9 86.4h1.0v1.0h-1.0zM128.6 23.2h0.9v0.9h-0.9zM124.1 86.4h0.8v0.8h-0.8zM173.3 148.1h1.1v1.1h-1.1zM127.9 57.0h0.7v0.7h-0.7zM118.1 51.8h1.1v1.1h-1.1zM119.1 24.0h0.9v0.9h-0.9zM80.3 28.9h0.7v0.7h-0.7zM144.9 31.3h1.0v1.0h-1.0zM146.0 165.3h0.9v0.9h-0.9zM128.1 108.4h1.1v1.1h-1.1zM128.6 65.7h0.9v0.9h-0.9zM105.5 124.8h1.1v1.1h-1.1zM100.1 47.4h1.2v1.2h-1.2zM121.5 170.4h0.7v0.7h-0.7zM156.4 63.3h0.8v0.8h-0.8zM122.0 140.0h0.7v0.7h-0.7zM132.3 39.1h0.8v0.8h-0.8zM191.1 146.5h1.2v1.2h-1.2zM149.7 79.2h1.0v1.0h-1.0zM118.6 44.7h0.9v0.9h-0.9zM94.5 111.5h1.1v1.1h-1.1zM114.4 76.1h0.8v0.8h-0.8zM57.5 52.5h1.1v1.1h-1.1zM145.0 93.7h0.8v0.8h-0.8zM152.6 36.8h0.8v0.8h-0.8zM129.5 50.2h1.1v1.1h-1.1zM123.3 44.1h1.0v1.0h-1.0zM93.0 78.5h1.1v1.1h-1.1zM61.0 45.1h0.8v0.8h-0.8zM106.6 104.0h0.8v0.8h-0.8zM139.5 133.5h1.0v1.0h-1.0zM149.7 37.7h0.8v0.8h-0.8zM95.8 30.1h1.0v1.0h-1.0zM84.6 115.8h0.9v0.9h-0.9zM121.9 124.3h1.1v1.1h-1.1zM102.0 51.6h0.8v0.8h-0.8zM130.6 147.2h0.9v0.9h-0.9zM125.2 79.5h1.1v1.1h-1.1zM82.2 41.3h1.0v1.0h-1.0zM104.8 76.3h1.0v1.0h-1.0zM141.8 148.3h0.8v0.8h-0.8zM95.1 74.5h1.1v1.1h-1.1zM165.2 93.5h1.0v1.0h-1.0zM157.3 58.7h1.2v1.2h-1.2zM131.0 154.2h0.8v0.8h-0.8zM151.8 134.6h0.9v0.9h-0.9zM127.8 78.3h1.1v1.1h-1.1zM114.3 80.7h0.9v0.9h-0.9zM133.6 124.4h1.1v1.1h-1.1zM154.2 75.3h1.1v1.1h-1.1zM154.2 164.0h1.1v1.1h-1.1zM93.7 136.4h1.1v1.1h-1.1zM122.9 147.8h1.1v1.1h-1.1zM128.0 138.6h0.8v0.8h-0.8zM141.3 143.6h1.1v1.1h-1.1zM160.8 123.8h1.1v1.1h-1.1zM109.2 20.0h1.0v1.0h-1.0zM152.5 66.3h0.9v0.9h-0.9zM110.6 75.9h0.9v0.9h-0.9zM122.3 54.9h1.1v1.1h-1.1zM103.7 44.8h0.8v0.8h-0.8zM152.6 116.5h0.8v0.8h-0.8zM122.2 37.9h1.1v1.1h-1.1zM99.4 104.1h0.8v0.8h-0.8zM100.4 23.6h0.9v0.9h-0.9zM105.7 96.2h1.1v1.1h-1.1zM154.5 134.6h1.2v1.2h-1.2zM142.8 156.2h0.7v0.7h-0.7zM122.7 42.7h1.1v1.1h-1.1zM113.4 59.2h1.0v1.0h-1.0zM156.0 99.0h0.7v0.7h-0.7zM130.8 44.9h1.1v1.1h-1.1zM130.7 149.2h1.2v1.2h-1.2zM127.2 166.9h1.1v1.1h-1.1zM125.3 138.1h0.7v0.7h-0.7zM87.2 42.3h0.7v0.7h-0.7zM95.9 79.0h0.8v0.8h-0.8zM162.2 121.8h0.8v0.8h-0.8zM90.7 134.2h0.9v0.9h-0.9zM135.1 147.7h0.9v0.9h-0.9zM126.3 74.9h0.9v0.9h-0.9zM122.6 118.7h0.8v0.8h-0.8zM107.2 34.8h0.7v0.7h-0.7zM142.9 46.0h0.8v0.8h-0.8zM103.0 73.8h0.7v0.7h-0.7zM102.4 118.1h1.1v1.1h-1.1zM122.0 37.5h1.1v1.1h-1.1zM128.7 23.2h1.0v1.0h-1.0z" fill="#3aa0a0"/>
<path d="M113.4 33.8h1.1v1.1h-1.1zM163.0 153.2h0.7v0.7h-0.7zM168.7 75.0h0.7v0.7h-0.7zM128.1 92.4h0.9v0.9h-0.9zM163.4 160.4h0.9v0.9h-0.9zM86.5 48.4h0.7v0.7h-0.7zM133.1 124.7h0.8v0.8h-0.8zM114.0 43.7h0.8v0.8h-0.8zM137.3 100.3h0.8v0.8h-0.8zM140.6 155.8h1.0v1.0h-1.0zM122.9 17.1h0.9v0.9h-0.9zM104.1 31.4h0.8v0.8h-0.8zM114.5 51.7h1.0v1.0h-1.0zM141.0 124.2h0.9v0.9h-0.9zM126.5 109.0h0.8v0.8h-0.8zM150.3 142.1h0.8v0.8h-0.8zM75.6 39.5h0.9v0.9h-0.9zM109.1 83.1h1.0v1.0h-1.0zM112.8 130.0h1.0v1.0h-1.0zM116.3 68.3h1.0v1.0h-1.0zM89.3 30.5h0.7v0.7h-0.7zM126.4 138.9h1.2v1.2h-1.2zM118.4 37.4h1.0v1.0h-1.0zM66.4 39.4h0.9v0.9h-0.9zM109.2 135.6h1.2v1.2h-1.2zM131.6 88.4h1.1v1.1h-1.1zM105.1 67.0h0.8v0.8h-0.8zM114.4 127.8h0.8v0.8h-0.8zM164.1 107.9h0.9v0.9h-0.9zM163.5 128.2h0.9v0.9h-0.9zM111.1 107.0h1.0v1.0h-1.0zM113.4 111.9h0.7v0.7h-0.7zM93.9 31.9h1.0v1.0h-1.0zM115.1 77.9h1.2v1.2h-1.2zM132.9 116.5h1.1v1.1h-1.1zM109.5 38.2h0.9v0.9h-0.9zM135.8 111.1h0.7v0.7h-0.7zM132.8 43.1h0.9v0.9h-0.9zM97.8 32.5h1.0v1.0h-1.0zM136.9 80.7h1.0v1.0h-1.0zM130.9 74.6h0.9v0.9h-0.9zM105.4 94.9h0.9v0.9h-0.9zM124.7 103.2h1.1v1.1h-1.1zM89.1 58.2h1.2v1.2h-1.2zM94.0 28.1h1.1v1.1h-1.1zM91.1 26.5h0.9v0.9h-0.9zM95.4 38.0h1.0v1.0h-1.0zM128.1 100.5h1.0v1.0h-1.0zM110.5 43.0h0.8v0.8h-0.8zM146.9 125.7h0.7v0.7h-0.7zM118.5 65.3h1.1v1.1h-1.1zM161.3 55.1h1.2v1.2h-1.2z" fill="#40b040"/>
<path d="M116.1 44.6h0.8v0.8h-0.8zM150.4 93.6h0.7v0.7h-0.7zM190.8 146.4h1.1v1.1h-1.1zM125.1 60.2h1.1v1.1h-1.1zM115.3 167.5h0.7v0.7h-0.7zM79.5 92.5h1.1v1.1h-1.1zM115.9 80.6h0.7v0.7h-0.7zM100.1 59.6h0.9v0.9h-0.9zM84.5 35.5h0.8v0.8h-0.8zM100.1 176.8h0.8v0.8h-0.8zM132.5 132.1h0.7v0.7h-0.7zM116.7 54.2h1.1v1.1h-1.1zM131.2 123.8h0.8v0.8h-0.8zM151.5 126.9h1.0v1.0h-1.0zM134.9 83.0h0.9v0.9h-0.9zM112.1 61.3h0.9v0.9h-0.9zM162.6 92.8h0.8v0.8h-0.8zM69.5 51.8h1.0v1.0h-1.0zM143.3 114.7h0.9v0.9h-0.9z" fill="#2050b0"/><path d="M42.3 57.0h0.9v0.9h-0.9zM45.8 58.7h0.8v0.8h-0.8zM41.6 59.3h1.3v1.3h-1.3zM37.0 54.7h1.2v1.2h-1.2zM39.9 58.0h1.0v1.0h-1.0zM43.4 58.6h1.0v1.0h-1.0zM41.2 59.6h1.2v1.2h-1.2zM42.7 59.4h1.3v1.3h-1.3zM38.2 53.7h0.8v0.8h-0.8zM40.9 57.8h1.2v1.2h-1.2zM44.1 59.1h0.9v0.9h-0.9zM42.3 61.7h1.0v1.0h-1.0zM40.7 56.4h1.2v1.2h-1.2zM42.6 58.2h1.2v1.2h-1.2zM41.0 55.7h1.3v1.3h-1.3zM39.5 57.9h1.0v1.0h-1.0zM42.2 56.7h1.3v1.3h-1.3zM40.4 59.2h1.0v1.0h-1.0zM42.6 58.7h1.2v1.2h-1.2zM41.9 60.8h1.3v1.3h-1.3zM40.5 56.5h1.1v1.1h-1.1zM38.7 58.2h1.0v1.0h-1.0zM39.8 56.2h1.3v1.3h-1.3z" fill="#40b0c0"/>
<path d="M42.2 62.1h0.9v0.9h-0.9zM41.3 55.6h1.2v1.2h-1.2zM42.9 61.7h0.9v0.9h-0.9zM39.2 61.0h1.2v1.2h-1.2zM40.8 55.2h0.8v0.8h-0.8zM42.5 58.2h1.0v1.0h-1.0zM43.3 61.1h1.1v1.1h-1.1zM40.2 58.8h1.3v1.3h-1.3zM42.1 60.0h0.9v0.9h-0.9zM40.9 56.5h1.0v1.0h-1.0zM40.6 56.8h1.1v1.1h-1.1zM41.3 61.4h0.9v0.9h-0.9zM43.7 60.6h1.0v1.0h-1.0zM40.5 57.2h1.2v1.2h-1.2zM42.6 59.0h1.0v1.0h-1.0zM40.1 62.0h1.0v1.0h-1.0zM39.6 59.0h1.0v1.0h-1.0z" fill="#60c8d0"/><circle cx="120.8" cy="60" r="1.4" fill="#e01010"/></g></defs>
<clipPath id="ca1"><rect x="2" y="16" width="203" height="155"/></clipPath>
<clipPath id="ca2"><rect x="2" y="179" width="203" height="155"/></clipPath>
<clipPath id="ca3"><rect x="2" y="342" width="203" height="155"/></clipPath>
<g clip-path="url(#ca1)">
<polygon points="25.0,19.0 55.0,19.0 54.0,23.0 45.0,27.0 38.0,28.0 28.0,24.0" fill="#aaaae4" fill-opacity="1" stroke="none" stroke-width="0.6" />
<polygon points="30.0,19.5 48.0,19.5 44.0,23.0 37.0,24.0" fill="#5a5ac8" fill-opacity="1" stroke="none" stroke-width="0.6" />
<polygon points="11.0,35.0 21.0,35.0 27.0,41.0 21.0,46.0 5.0,46.0 2.0,41.0" fill="#b4b4e6" fill-opacity="1" stroke="none" stroke-width="0.6" />
<polygon points="11.0,35.0 21.0,35.0 24.0,38.0 6.0,38.0" fill="#c8c8f0" fill-opacity="1" stroke="none" stroke-width="0.6" />
<polygon points="66.8,61.3 72.0,61.3 78.6,72.0 74.0,72.0" fill="#bcbcec" fill-opacity="1" stroke="none" stroke-width="0.6" />
<polygon points="41.2,90.9 49.7,86.3 69.4,83.6 82.6,82.3 98.3,86.3 99.6,96.8 89.1,103.4 73.4,99.4 62.8,100.0 54.0,101.0 47.0,96.0" fill="#d0d0f8" fill-opacity="1" stroke="none" stroke-width="0.6" />
<polygon points="82.6,71.8 97.0,77.0 93.0,83.6 85.2,82.3" fill="#aaaae4" fill-opacity="1" stroke="none" stroke-width="0.6" />
<polygon points="57.6,96.7 70.1,96.7 73.5,105.0 78.5,113.4 85.1,122.0 88.0,128.0 88.5,136.5 80.1,138.0 73.5,137.0 60.1,136.0 58.4,120.0" fill="#b8b8e8" fill-opacity="1" stroke="none" stroke-width="0.6" />
<polygon points="59.0,100.0 70.0,100.0 73.5,107.0 78.0,114.0 83.4,125.2 84.0,134.0 76.0,135.0 60.0,125.0" fill="#9494da" fill-opacity="1" stroke="none" stroke-width="0.6" />
<path d="M59,108.9 C63,110 66,112.5 69,116 C72,119 75,121 76.5,124 L76.5,136.5 L59,136.5 Z" fill="#0a0ae0" stroke="#1c1c80" stroke-width="0.6"/>
<path d="M73.4,97 C78,92 86,90.5 92,91 C96.5,91.5 96.5,97 93,99 C88,100.5 80,99.5 73.4,97 Z" fill="#0a0ae0" stroke="#1c1c80" stroke-width="0.7"/>
<polygon points="96.1,75.7 102.7,64.8 111.2,55.2 125.7,47.9 137.7,46.1 145.0,49.1 143.8,55.2 132.9,61.2 123.3,66.0 114.8,73.3 108.8,80.5 99.1,81.7" fill="#9c9cd4" fill-opacity="1" stroke="#6a6aa8" stroke-width="0.6" />
<polygon points="100.3,68.4 108.8,60.0 120.8,52.1 132.9,49.7 140.7,50.9 137.7,56.4 125.7,61.2 114.8,67.2 107.6,72.0 101.5,73.3" fill="#0a0ae0" fill-opacity="1" stroke="#1c1c80" stroke-width="0.6" />
<polygon points="96.0,76.0 100.0,72.0 106.0,73.0 104.0,81.0 98.0,81.0" fill="#10108a" fill-opacity="1" stroke="none" stroke-width="0.6" />
<polygon points="148.4,19.1 203.0,19.1 203.0,50.0 198.6,46.7 190.7,47.8 183.9,50.0 181.7,47.8 182.8,42.2 184.5,34.3 186.2,30.9 178.3,27.5 167.0,32.6 159.0,33.1 150.0,30.9" fill="#d2d2f8" fill-opacity="1" stroke="none" stroke-width="0.6" />
<polygon points="178.9,27.0 181.0,27.5 186.2,32.0 185.0,35.0 183.0,31.0" fill="#9a9ad8" fill-opacity="1" stroke="none" stroke-width="0.6" />
<polygon points="189.5,19.1 203.0,19.1 203.0,34.8 200.8,33.7 196.3,29.8 189.5,29.2 188.4,26.4" fill="#0a0ae0" fill-opacity="1" stroke="#1c1c80" stroke-width="0.5" />
<polygon points="196.0,25.0 203.0,24.0 203.0,34.8 200.8,33.7" fill="#0000a0" fill-opacity="1" stroke="none" stroke-width="0.6" />
<polygon points="176.0,76.8 178.8,75.0 181.6,76.8 178.8,78.6" fill="#8080c0" fill-opacity="1" stroke="none" stroke-width="0.6" />
<polygon points="154.0,81.6 157.0,79.8 160.0,81.6 157.0,83.4" fill="#b8b8e8" fill-opacity="1" stroke="none" stroke-width="0.6" />
<polygon points="165.0,88.0 172.0,85.5 180.0,86.5 185.1,96.7 178.5,101.7 173.5,100.0 166.8,93.3 156.8,96.7" fill="#d0d0f2" fill-opacity="1" stroke="none" stroke-width="0.6" />
<path d="M151.8,113.4 C152,108 160,101 168,96.5 C172,94.5 174.5,96 173,100 C171,105 164,111 156.8,115 C153.5,116.3 151.6,115.5 151.8,113.4 Z" fill="#a4a4dc" stroke="#5a5a9a" stroke-width="0.7"/>
<polygon points="185.0,108.0 191.0,107.0 195.0,112.0 190.0,115.0 185.0,114.0" fill="#c8c8f0" fill-opacity="1" stroke="none" stroke-width="0.6" />
<polygon points="127.0,131.0 130.0,130.5 132.6,135.0 131.5,141.8 127.5,140.0 126.7,135.0" fill="#c4c4ee" fill-opacity="1" stroke="none" stroke-width="0.6" />
<polygon points="161.0,166.0 166.8,153.4 173.5,148.4 181.8,146.0 191.0,150.0 196.0,155.1 195.2,160.1 186.8,165.1 175.1,166.8" fill="#c8c8ee" fill-opacity="1" stroke="none" stroke-width="0.6" />
<polygon points="176.0,165.5 178.5,155.1 183.5,151.8 191.0,155.1 195.2,156.8 194.3,161.0 188.5,160.1 185.1,166.0" fill="#0a0ae0" fill-opacity="1" stroke="#1c1c80" stroke-width="0.6" />
<polygon points="162.0,166.0 165.0,160.0 170.0,158.0 172.0,166.0" fill="#a8a8e0" fill-opacity="1" stroke="none" stroke-width="0.6" />
<use href="#aplume"/>
<polygon points="19.0,58.9 23.9,66.1 14.1,66.1" fill="#ff0a0a" fill-opacity="1" stroke="#2a2a60" stroke-width="1.2" />
<polygon points="45.1,78.4 50.0,85.6 40.2,85.6" fill="#ff0a0a" fill-opacity="1" stroke="#2a2a60" stroke-width="1.2" />
<polygon points="99.0,81.0 103.9,88.2 94.1,88.2" fill="#ff0a0a" fill-opacity="1" stroke="#2a2a60" stroke-width="1.2" />
<polygon points="70.1,129.0 75.0,136.2 65.2,136.2" fill="#ff0a0a" fill-opacity="1" stroke="#2a2a60" stroke-width="1.2" />
<circle cx="60.9" cy="66.6" r="1.85" fill="#e00000" stroke="#a80000" stroke-width="0.4"/>
<circle cx="62.2" cy="68.5" r="1.85" fill="#e00000" stroke="#a80000" stroke-width="0.4"/>
<circle cx="63.5" cy="71.2" r="1.85" fill="#e00000" stroke="#a80000" stroke-width="0.4"/>
<circle cx="66.1" cy="72.5" r="1.85" fill="#e00000" stroke="#a80000" stroke-width="0.4"/>
<circle cx="66.1" cy="75.1" r="1.85" fill="#e00000" stroke="#a80000" stroke-width="0.4"/>
<circle cx="70.1" cy="73.8" r="1.85" fill="#e00000" stroke="#a80000" stroke-width="0.4"/>
<circle cx="70.7" cy="76.4" r="1.85" fill="#e00000" stroke="#a80000" stroke-width="0.4"/>
<circle cx="56.3" cy="78.4" r="1.85" fill="#e00000" stroke="#a80000" stroke-width="0.4"/>
<circle cx="42.5" cy="73.1" r="1.85" fill="#e00000" stroke="#a80000" stroke-width="0.4"/>
<circle cx="48.4" cy="73.8" r="1.85" fill="#e00000" stroke="#a80000" stroke-width="0.4"/>
<circle cx="46.4" cy="76.4" r="1.85" fill="#e00000" stroke="#a80000" stroke-width="0.4"/>
<circle cx="41.8" cy="76.4" r="1.85" fill="#e00000" stroke="#a80000" stroke-width="0.4"/>
<circle cx="47.7" cy="87.6" r="1.85" fill="#e00000" stroke="#a80000" stroke-width="0.4"/>
<circle cx="34" cy="85" r="1.85" fill="#e00000" stroke="#a80000" stroke-width="0.4"/>
<circle cx="34" cy="90.2" r="1.85" fill="#e00000" stroke="#a80000" stroke-width="0.4"/>
<circle cx="31.3" cy="85" r="1.85" fill="#e00000" stroke="#a80000" stroke-width="0.4"/>
<circle cx="72" cy="88.2" r="1.85" fill="#e00000" stroke="#a80000" stroke-width="0.4"/>
<circle cx="82.6" cy="102" r="1.85" fill="#e00000" stroke="#a80000" stroke-width="0.4"/>
<circle cx="22" cy="86" r="1.85" fill="#e00000" stroke="#a80000" stroke-width="0.4"/>
<circle cx="25" cy="87.5" r="1.85" fill="#e00000" stroke="#a80000" stroke-width="0.4"/>
<circle cx="28" cy="86.5" r="1.85" fill="#e00000" stroke="#a80000" stroke-width="0.4"/>
<circle cx="24" cy="89.5" r="1.85" fill="#e00000" stroke="#a80000" stroke-width="0.4"/>
<circle cx="47.5" cy="87.3" r="1.85" fill="#e00000" stroke="#a80000" stroke-width="0.4"/>
<circle cx="64" cy="136" r="1.85" fill="#e00000" stroke="#a80000" stroke-width="0.4"/>
<circle cx="66" cy="139" r="1.85" fill="#e00000" stroke="#a80000" stroke-width="0.4"/>
<circle cx="65" cy="142" r="1.85" fill="#e00000" stroke="#a80000" stroke-width="0.4"/>
<circle cx="67" cy="144.5" r="1.85" fill="#e00000" stroke="#a80000" stroke-width="0.4"/>
<circle cx="63.5" cy="146.5" r="1.85" fill="#e00000" stroke="#a80000" stroke-width="0.4"/>
<circle cx="72" cy="137" r="1.85" fill="#e00000" stroke="#a80000" stroke-width="0.4"/>
<circle cx="75" cy="136.5" r="1.85" fill="#e00000" stroke="#a80000" stroke-width="0.4"/>
<circle cx="78" cy="137.5" r="1.85" fill="#e00000" stroke="#a80000" stroke-width="0.4"/>
<circle cx="81" cy="136" r="1.85" fill="#e00000" stroke="#a80000" stroke-width="0.4"/>
<circle cx="76" cy="140" r="1.85" fill="#e00000" stroke="#a80000" stroke-width="0.4"/>
<circle cx="74" cy="143" r="1.85" fill="#e00000" stroke="#a80000" stroke-width="0.4"/>
<circle cx="79" cy="140.5" r="1.85" fill="#e00000" stroke="#a80000" stroke-width="0.4"/>
<circle cx="83" cy="139" r="1.85" fill="#e00000" stroke="#a80000" stroke-width="0.4"/>
<circle cx="78" cy="168" r="1.85" fill="#e00000" stroke="#a80000" stroke-width="0.4"/>
<circle cx="80" cy="166.5" r="1.85" fill="#e00000" stroke="#a80000" stroke-width="0.4"/>
<circle cx="84" cy="167" r="1.85" fill="#e00000" stroke="#a80000" stroke-width="0.4"/>
<circle cx="83" cy="169.5" r="1.85" fill="#e00000" stroke="#a80000" stroke-width="0.4"/>
<text x="80.4" y="40.4" font-size="11.5" fill="#ff1010" font-weight="bold" textLength="41.0" lengthAdjust="spacingAndGlyphs" >IMN2008</text>
<line x1="102" y1="42" x2="115" y2="54.5" stroke="#ff1010" stroke-width="1.1"/>
<polygon points="118.0,57.2 112.3,54.6 115.6,51.4" fill="#ff1010" fill-opacity="1" stroke="none" stroke-width="0.6" />
<text x="5.5" y="107.8" font-size="12" fill="#ff1010" font-weight="bold" textLength="44.5" lengthAdjust="spacingAndGlyphs" >hot spring</text>
<line x1="19.5" y1="100" x2="23.5" y2="94" stroke="#ff1010" stroke-width="1.1"/>
<polygon points="25.5,91.0 25.2,96.2 21.6,93.8" fill="#ff1010" fill-opacity="1" stroke="none" stroke-width="0.6" />
<text x="26.8" y="137.6" font-size="12.5" fill="#ff1010" font-weight="bold" textLength="38.0" lengthAdjust="spacingAndGlyphs" >Onikobe</text>
<text x="8.0" y="150.2" font-size="13.5" fill="#1010e0" font-weight="bold" textLength="47.0" lengthAdjust="spacingAndGlyphs" >aqueous</text>
<text x="8.0" y="163.6" font-size="13.5" fill="#1010e0" font-weight="bold" textLength="24.0" lengthAdjust="spacingAndGlyphs" >fluid</text>
</g>
<line x1="1.5" y1="15.5" x2="205" y2="15.5" stroke="#9a9494" stroke-width="1"/>
<line x1="1.5" y1="15.5" x2="1.5" y2="171.5" stroke="#a8a8a8" stroke-width="1"/>
<line x1="205.8" y1="15.5" x2="205.8" y2="172.0" stroke="#e0e0e0" stroke-width="1.8"/>
<line x1="1.5" y1="171.5" x2="206" y2="171.5" stroke="#d0d0d0" stroke-width="1.2"/>
<line x1="1.5" y1="34.3" x2="5.5" y2="34.3" stroke="#999" stroke-width="0.8"/>
<line x1="1.5" y1="70.7" x2="5.5" y2="70.7" stroke="#999" stroke-width="0.8"/>
<line x1="1.5" y1="107.1" x2="5.5" y2="107.1" stroke="#999" stroke-width="0.8"/>
<line x1="1.5" y1="144.1" x2="5.5" y2="144.1" stroke="#999" stroke-width="0.8"/>
<line x1="13.4" y1="171.5" x2="13.4" y2="167.5" stroke="#999" stroke-width="0.8"/>
<line x1="42.8" y1="171.5" x2="42.8" y2="167.5" stroke="#999" stroke-width="0.8"/>
<line x1="72.1" y1="171.5" x2="72.1" y2="167.5" stroke="#999" stroke-width="0.8"/>
<line x1="101.4" y1="171.5" x2="101.4" y2="167.5" stroke="#999" stroke-width="0.8"/>
<line x1="131.7" y1="171.5" x2="131.7" y2="167.5" stroke="#999" stroke-width="0.8"/>
<line x1="161.4" y1="171.5" x2="161.4" y2="167.5" stroke="#999" stroke-width="0.8"/>
<line x1="191" y1="171.5" x2="191" y2="167.5" stroke="#999" stroke-width="0.8"/>
<text x="2.6" y="92.5" font-size="9.5" fill="#222" font-weight="normal" textLength="12.1" lengthAdjust="spacingAndGlyphs" >Lat</text>
<text x="104.2" y="170.6" font-size="9.5" fill="#222" font-weight="normal" textLength="15.0" lengthAdjust="spacingAndGlyphs" >Lon</text>
<g clip-path="url(#ca2)">
<polygon points="1.6,187.7 9.7,187.7 16.1,182.8 56.3,182.5 61.2,184.4 62.8,190.9 64.4,198.9 63.6,207.0 66.0,219.8 69.2,227.9 62.0,236.0 58.7,240.0 40.0,242.0 30.0,236.0 29.0,224.7 24.1,220.6 16.1,219.8 9.7,231.1 1.6,235.9" fill="#aaeea6" fill-opacity="1" stroke="none" stroke-width="0.6" />
<polygon points="40.0,190.0 56.0,186.0 62.0,195.0 60.0,210.0 50.0,212.0 42.0,205.0" fill="#ccf4c8" fill-opacity="1" stroke="none" stroke-width="0.6" />
<polygon points="1.6,195.0 10.0,196.0 16.0,205.0 12.0,215.0 1.6,212.0" fill="#ccf4c8" fill-opacity="1" stroke="none" stroke-width="0.6" />
<polygon points="16.1,182.8 56.3,182.5 54.7,187.7 48.3,189.3 40.2,192.5 38.6,195.7 32.2,200.5 27.4,207.8 22.5,208.6 19.3,203.7 16.1,198.9 10.5,195.7 10.5,193.3" fill="#10d010" fill-opacity="1" stroke="none" stroke-width="0.6" />
<polygon points="20.0,183.0 34.0,183.0 30.0,192.0 24.0,196.0" fill="#00a800" fill-opacity="0.7" stroke="none" stroke-width="0.6" />
<polygon points="36.0,183.0 48.0,183.0 44.0,188.0 38.0,190.0" fill="#30e030" fill-opacity="1" stroke="none" stroke-width="0.6" />
<polygon points="22.0,200.0 32.0,197.0 28.0,206.0 23.0,207.0" fill="#00a800" fill-opacity="0.6" stroke="none" stroke-width="0.6" />
<polygon points="29.8,223.9 40.2,226.3 48.3,229.5 53.1,233.5 58.7,235.1 55.5,239.2 48.3,240.0 40.2,239.2 32.2,235.9 29.8,231.1" fill="#10d010" fill-opacity="1" stroke="none" stroke-width="0.6" />
<polygon points="40.0,227.0 50.0,231.0 45.0,236.0 38.0,233.0" fill="#00a800" fill-opacity="0.6" stroke="none" stroke-width="0.6" />
<path d="M30,224 L40,226.3 L48.3,229.5 L53.1,233.5" stroke="#1a5a1a" stroke-width="0.9" fill="none"/>
<polygon points="54.0,186.0 60.0,184.0 61.0,200.0 59.8,240.0 55.0,241.0 53.0,220.0" fill="#d4f2d0" fill-opacity="0.9" stroke="none" stroke-width="0.6" />
<polygon points="54.7,250.0 86.7,250.0 87.5,256.9 83.2,270.7 78.9,275.9 77.2,284.6 72.8,282.8 67.7,286.3 59.0,288.0 55.6,281.1 59.0,272.5 56.4,263.8" fill="#c8eec2" fill-opacity="1" stroke="none" stroke-width="0.6" />
<polygon points="56.0,236.0 79.0,230.0 84.0,245.0 86.7,250.0 54.7,250.0" fill="#c8eec2" fill-opacity="1" stroke="none" stroke-width="0.6" />
<polygon points="63.3,250.0 71.1,250.0 71.1,258.0 66.0,260.4 63.3,256.0" fill="#10d010" fill-opacity="1" stroke="none" stroke-width="0.6" />
<polygon points="60.0,243.0 68.0,240.0 69.5,249.0 62.0,249.5" fill="#10d010" fill-opacity="0.9" stroke="none" stroke-width="0.6" />
<polygon points="62.0,262.0 75.0,258.0 80.0,268.0 70.0,276.0 60.0,272.0" fill="#ccf4c8" fill-opacity="1" stroke="none" stroke-width="0.6" />
<polygon points="64.2,288.0 71.1,286.3 74.6,295.0 72.0,300.1 64.2,301.8 62.5,295.0" fill="#aaeea6" fill-opacity="1" stroke="none" stroke-width="0.6" />
<polygon points="87.5,260.4 93.6,256.9 104.0,257.8 105.7,270.7 100.5,284.6 95.3,291.5 93.6,301.8 98.8,308.8 104.0,317.4 100.0,322.0 91.8,305.3 83.2,308.8 75.4,307.0 76.3,296.7 84.9,293.2 90.1,284.6 86.7,270.7" fill="#b8ecb2" fill-opacity="1" stroke="none" stroke-width="0.6" />
<polygon points="79.8,314.0 71.1,319.1 67.7,324.3 69.4,331.2 74.6,333.0 77.2,327.8 83.2,322.6 88.4,319.1 81.5,312.2" fill="#aaeea6" fill-opacity="1" stroke="none" stroke-width="0.6" />
<polygon points="92.0,186.0 103.3,182.8 203.0,182.5 202.4,225.1 183.1,227.5 179.5,223.9 175.9,216.6 172.2,213.0 166.2,210.6 156.6,209.4 148.1,210.6 142.1,215.4 134.8,228.7 125.0,236.0 112.0,241.0 98.5,245.6 103.3,239.2 106.5,231.1 103.3,223.0 101.7,210.2 92.0,202.1" fill="#aaeea6" fill-opacity="1" stroke="none" stroke-width="0.6" />
<polygon points="93.6,192.5 109.7,192.0 112.0,198.9 96.0,199.0" fill="#90e48c" fill-opacity="1" stroke="none" stroke-width="0.6" />
<polygon points="186.0,182.5 203.0,182.5 203.0,193.0 195.0,190.0 186.0,187.0" fill="#90e48c" fill-opacity="1" stroke="none" stroke-width="0.6" />
<polygon points="140.0,182.5 172.0,182.5 168.0,195.0 170.0,210.0 156.6,209.4 148.1,210.6 142.1,215.4 136.0,222.0" fill="#d2f4d2" fill-opacity="1" stroke="none" stroke-width="0.6" />
<polygon points="186.7,182.5 203.0,182.5 203.0,192.5 190.0,188.0" fill="#88e488" fill-opacity="1" stroke="none" stroke-width="0.6" />
<polygon points="144.2,248.1 165.4,245.0 171.4,244.0 178.4,249.0 178.4,258.0 180.5,264.2 177.4,280.3 169.4,296.4 153.3,310.4 142.2,302.4 143.2,288.3 145.2,278.3 141.2,276.2 150.3,266.2 144.2,260.1" fill="#a8eea4" fill-opacity="1" stroke="#88c888" stroke-width="0.5" />
<polygon points="146.0,250.0 162.0,248.0 158.0,266.0 154.0,286.0 150.0,275.0 152.0,262.0" fill="#c8f0c8" fill-opacity="1" stroke="none" stroke-width="0.6" />
<polygon points="165.0,252.0 171.0,249.0 176.0,262.0 173.0,282.0 166.0,292.0 160.0,280.0" fill="#98e098" fill-opacity="0.9" stroke="none" stroke-width="0.6" />
<use href="#aplume" y="163"/>
<polygon points="19.0,221.9 23.9,229.1 14.1,229.1" fill="#ff0a0a" fill-opacity="1" stroke="#2a2a60" stroke-width="1.2" />
<polygon points="45.1,241.4 50.0,248.6 40.2,248.6" fill="#ff0a0a" fill-opacity="1" stroke="#2a2a60" stroke-width="1.2" />
<polygon points="99.0,244.0 103.9,251.2 94.1,251.2" fill="#ff0a0a" fill-opacity="1" stroke="#2a2a60" stroke-width="1.2" />
<polygon points="70.1,292.0 75.0,299.2 65.2,299.2" fill="#ff0a0a" fill-opacity="1" stroke="#2a2a60" stroke-width="1.2" />
<text x="70.8" y="237.8" font-size="12.5" fill="#ff1010" font-weight="bold" textLength="43.5" lengthAdjust="spacingAndGlyphs" >Kurikoma</text>
<line x1="91" y1="239.5" x2="95.5" y2="243.5" stroke="#ff1010" stroke-width="1.1"/>
<polygon points="97.8,245.6 92.6,244.5 95.2,241.0" fill="#ff1010" fill-opacity="1" stroke="none" stroke-width="0.6" />
<text x="26.0" y="296.6" font-size="12.5" fill="#ff1010" font-weight="bold" textLength="38.1" lengthAdjust="spacingAndGlyphs" >Onikobe</text>
<text x="8.3" y="312.3" font-size="13.5" fill="#22d822" font-weight="bold" textLength="43.0" lengthAdjust="spacingAndGlyphs" >basaltic</text>
<text x="8.3" y="326.1" font-size="13.5" fill="#22d822" font-weight="bold" textLength="40.2" lengthAdjust="spacingAndGlyphs" >magma</text>
</g>
<line x1="1.5" y1="178.5" x2="205" y2="178.5" stroke="#9a9494" stroke-width="1"/>
<line x1="1.5" y1="178.5" x2="1.5" y2="334.5" stroke="#a8a8a8" stroke-width="1"/>
<line x1="205.8" y1="178.5" x2="205.8" y2="335.0" stroke="#e0e0e0" stroke-width="1.8"/>
<line x1="1.5" y1="334.5" x2="206" y2="334.5" stroke="#d0d0d0" stroke-width="1.2"/>
<line x1="1.5" y1="197.3" x2="5.5" y2="197.3" stroke="#999" stroke-width="0.8"/>
<line x1="1.5" y1="233.7" x2="5.5" y2="233.7" stroke="#999" stroke-width="0.8"/>
<line x1="1.5" y1="270.1" x2="5.5" y2="270.1" stroke="#999" stroke-width="0.8"/>
<line x1="1.5" y1="307.1" x2="5.5" y2="307.1" stroke="#999" stroke-width="0.8"/>
<line x1="13.4" y1="334.5" x2="13.4" y2="330.5" stroke="#999" stroke-width="0.8"/>
<line x1="42.8" y1="334.5" x2="42.8" y2="330.5" stroke="#999" stroke-width="0.8"/>
<line x1="72.1" y1="334.5" x2="72.1" y2="330.5" stroke="#999" stroke-width="0.8"/>
<line x1="101.4" y1="334.5" x2="101.4" y2="330.5" stroke="#999" stroke-width="0.8"/>
<line x1="131.7" y1="334.5" x2="131.7" y2="330.5" stroke="#999" stroke-width="0.8"/>
<line x1="161.4" y1="334.5" x2="161.4" y2="330.5" stroke="#999" stroke-width="0.8"/>
<line x1="191" y1="334.5" x2="191" y2="330.5" stroke="#999" stroke-width="0.8"/>
<text x="2.6" y="255.5" font-size="9.5" fill="#222" font-weight="normal" textLength="12.1" lengthAdjust="spacingAndGlyphs" >Lat</text>
<text x="104.2" y="333.6" font-size="9.5" fill="#222" font-weight="normal" textLength="15.0" lengthAdjust="spacingAndGlyphs" >Lon</text>
<g clip-path="url(#ca3)">
<polygon points="39.4,354.7 43.4,351.5 53.1,349.9 64.4,348.2 70.0,347.4 80.0,346.5 92.4,345.8 203.0,345.0 203.0,497.0 162.0,497.0 162.0,491.4 157.4,489.0 149.2,483.2 136.4,478.5 130.5,472.7 120.0,478.5 114.2,486.7 114.2,497.0 102.5,497.0 103.7,493.7 102.5,484.4 102.5,475.0 106.0,469.2 114.2,465.7 123.5,461.0 124.7,448.2 123.0,432.8 123.9,420.5 125.6,410.0 127.0,400.0 118.0,397.0 108.0,398.0 106.0,410.0 105.5,432.8 102.0,439.8 100.3,450.3 96.8,456.0 81.1,454.0 73.0,455.6 70.0,458.0 70.0,471.7 64.4,470.1 56.3,465.3 55.5,449.2 57.1,433.1 54.7,426.7 53.1,428.3 29.8,428.3 22.5,423.0 22.5,417.0 25.7,413.4 25.7,405.4 37.0,404.6 48.3,408.6 53.1,402.2 57.9,396.0 53.1,389.3 48.3,382.8 43.4,378.0 41.0,373.2 38.6,370.0 37.8,361.9" fill="#f4a6a6" fill-opacity="1" stroke="none" stroke-width="0.6" />
<polygon points="65.0,373.2 81.1,374.8 94.0,378.0 100.4,382.8 102.0,389.3 94.0,389.3 84.3,387.7 74.7,386.0 65.0,386.0 61.2,381.0" fill="#ffffff" fill-opacity="1" stroke="none" stroke-width="0.6" />
<polygon points="141.4,392.5 147.9,389.3 154.3,380.5 160.8,381.3 162.4,387.7 159.2,394.2 152.7,400.6 144.7,399.0 141.4,395.8" fill="#ffffff" fill-opacity="1" stroke="none" stroke-width="0.6" />
<polygon points="186.5,397.4 191.4,392.5 199.4,389.3 203.0,387.7 203.0,408.7 196.2,407.0 189.8,403.8" fill="#ffffff" fill-opacity="1" stroke="none" stroke-width="0.6" />
<polygon points="203.0,423.4 196.2,426.7 189.8,429.9 180.1,433.1 183.3,441.2 185.0,449.2 180.1,458.9 186.5,462.1 191.4,460.5 199.4,465.3 203.0,468.5" fill="#ffffff" fill-opacity="1" stroke="none" stroke-width="0.6" />
<polygon points="191.4,484.7 203.0,481.4 203.0,497.0 180.0,497.0 183.3,487.9" fill="#ffffff" fill-opacity="1" stroke="none" stroke-width="0.6" />
<polygon points="74.7,357.1 85.9,355.5 97.2,357.1 100.4,366.7 89.1,369.2 74.7,365.1" fill="#fad0d0" fill-opacity="1" stroke="none" stroke-width="0.6" />
<polygon points="30.6,355.5 37.8,355.5 37.8,370.0 31.4,370.8" fill="#fad0d0" fill-opacity="1" stroke="none" stroke-width="0.6" />
<polygon points="128.0,345.0 203.0,345.0 203.0,352.0 190.0,352.0 175.0,358.0 160.0,366.0 145.0,372.0 135.0,370.0 128.0,360.0" fill="#ea8c8c" fill-opacity="0.95" stroke="none" stroke-width="0.6" />
<polygon points="145.0,372.0 160.0,366.0 175.0,358.0 190.0,352.0 203.0,352.0 203.0,358.0 190.0,360.0 178.0,367.0 163.0,375.0 150.0,380.0" fill="#fad0d0" fill-opacity="0.95" stroke="none" stroke-width="0.6" />
<polygon points="138.2,438.0 144.7,425.0 159.2,421.8 159.2,454.0 151.1,450.8 144.7,442.8" fill="#fad0d0" fill-opacity="1" stroke="none" stroke-width="0.6" />
<polygon points="150.3,454.9 157.6,454.9 154.0,462.9" fill="#d85050" fill-opacity="1" stroke="none" stroke-width="0.6" />
<polygon points="173.7,465.3 180.1,465.3 193.0,478.2 192.2,484.7 186.5,486.3 181.7,481.4 173.7,476.6" fill="#e05a5a" fill-opacity="1" stroke="none" stroke-width="0.6" />
<polygon points="42.6,344.5 60.3,344.5 59.5,349.9 48.3,350.3 43.4,347.4" fill="#cc0000" fill-opacity="1" stroke="none" stroke-width="0.6" />
<polygon points="186.5,345.0 193.0,345.0 192.2,349.0" fill="#b00000" fill-opacity="1" stroke="none" stroke-width="0.6" />
<polygon points="13.7,345.0 43.4,345.0 43.4,346.8 13.7,346.8" fill="#fad0d0" fill-opacity="1" stroke="none" stroke-width="0.6" />
<polygon points="2.0,379.6 4.5,382.0 5.0,386.0 4.0,392.5 2.0,392.5" fill="#fad0d0" fill-opacity="1" stroke="none" stroke-width="0.6" />
<polygon points="14.5,394.1 24.1,394.5 22.0,397.3 16.0,397.3" fill="#f4a6a6" fill-opacity="1" stroke="none" stroke-width="0.6" />
<polygon points="13.7,401.3 18.5,401.3 18.5,403.0 13.7,403.0" fill="#f4a6a6" fill-opacity="1" stroke="none" stroke-width="0.6" />
<polygon points="42.0,352.0 60.0,349.0 66.0,356.0 62.0,372.0 52.0,378.0 44.0,372.0" fill="#ea9090" fill-opacity="0.8" stroke="none" stroke-width="0.6" />
<polygon points="65.0,395.0 98.0,393.0 104.0,405.0 105.0,418.0 92.0,422.0 75.0,418.0 68.0,408.0" fill="#ea9090" fill-opacity="0.85" stroke="none" stroke-width="0.6" />
<polygon points="30.6,423.4 42.6,423.4 36.7,428.3" fill="#dd0000" fill-opacity="1" stroke="none" stroke-width="0.6" />
<polygon points="26.0,417.0 52.0,417.0 53.0,424.0 30.0,424.0" fill="#ea9090" fill-opacity="0.8" stroke="none" stroke-width="0.6" />
<polygon points="65.0,420.0 98.0,420.0 102.0,432.0 98.0,448.0 80.0,452.0 68.0,445.0 60.0,432.0" fill="#ea9090" fill-opacity="0.85" stroke="none" stroke-width="0.6" />
<polygon points="70.0,405.0 85.0,402.0 100.0,404.0 106.0,412.0 105.0,425.0 102.0,440.0 98.0,450.0 85.0,452.0 72.0,450.0 64.0,440.0 62.0,425.0" fill="#e48080" fill-opacity="0.75" stroke="none" stroke-width="0.6" />
<polygon points="62.0,415.0 75.0,410.0 80.0,420.0 70.0,428.0 60.0,425.0" fill="#f0a8a8" fill-opacity="0.8" stroke="none" stroke-width="0.6" />
<polygon points="74.0,430.0 88.0,428.0 90.0,440.0 80.0,446.0 72.0,442.0" fill="#ec9a9a" fill-opacity="0.8" stroke="none" stroke-width="0.6" />
<path d="M58,438 C66,430 76,426 86,428 M64,446 C72,438 84,436 92,440 M70,404 L84,422 L98,420" stroke="#a04848" stroke-width="0.6" fill="none" opacity="0.55"/>
<polygon points="99.7,414.9 103.9,415.5 103.3,418.5" fill="#c00000" fill-opacity="1" stroke="none" stroke-width="0.6" />
<polygon points="93.2,423.4 97.2,424.2 103.6,434.7 102.8,442.7 98.8,445.2 92.4,444.4 90.7,437.9" fill="#ff0000" fill-opacity="1" stroke="#900000" stroke-width="0.6" />
<polygon points="97.0,428.0 102.0,434.0 101.0,441.0 97.0,440.0" fill="#c00000" fill-opacity="1" stroke="none" stroke-width="0.6" />
<polygon points="123.5,491.0 131.7,489.0 137.0,493.0 137.0,497.0 122.0,497.0" fill="#e88a8a" fill-opacity="1" stroke="none" stroke-width="0.6" />
<polygon points="71.4,485.4 100.4,485.4 100.4,492.6 71.4,492.6" fill="#fad0d0" fill-opacity="1" stroke="none" stroke-width="0.6" />
<polygon points="74.0,487.0 86.0,487.0 86.0,491.0 74.0,491.0" fill="#ffffff" fill-opacity="1" stroke="none" stroke-width="0.6" />
<polygon points="88.0,487.0 98.0,487.0 98.0,491.0 88.0,491.0" fill="#fce6e6" fill-opacity="1" stroke="none" stroke-width="0.6" />
<polygon points="65.0,458.8 71.4,458.8 71.4,468.5 65.0,468.5" fill="#f4a6a6" fill-opacity="1" stroke="none" stroke-width="0.6" />
<use href="#aplume" y="326"/>
<polygon points="100.0,345.0 162.0,345.0 162.0,378.0 141.0,392.0 128.0,397.0 108.0,398.0 100.0,400.0" fill="#f4a6a6" fill-opacity="0.28" stroke="none" stroke-width="0.6" />
<text x="71.1" y="400.7" font-size="12.5" fill="#ff1010" font-weight="bold" textLength="42.7" lengthAdjust="spacingAndGlyphs" >Kurikoma</text>
<line x1="91" y1="402.5" x2="95.5" y2="406.5" stroke="#ff1010" stroke-width="1.1"/>
<polygon points="97.8,408.6 92.6,407.5 95.2,404.0" fill="#ff1010" fill-opacity="1" stroke="none" stroke-width="0.6" />
<text x="27.2" y="460.3" font-size="12.5" fill="#ff1010" font-weight="bold" textLength="37.9" lengthAdjust="spacingAndGlyphs" >Onikobe</text>
<text x="7.9" y="474.7" font-size="13.5" fill="#ff1010" font-weight="bold" textLength="50.6" lengthAdjust="spacingAndGlyphs" >andesitic</text>
<text x="7.9" y="487.5" font-size="13.5" fill="#ff1010" font-weight="bold" textLength="39.6" lengthAdjust="spacingAndGlyphs" >magma</text>
<polygon points="19.0,384.9 23.9,392.1 14.1,392.1" fill="#ff0a0a" fill-opacity="1" stroke="#2a2a60" stroke-width="1.2" />
<polygon points="45.1,404.4 50.0,411.6 40.2,411.6" fill="#ff0a0a" fill-opacity="1" stroke="#2a2a60" stroke-width="1.2" />
<polygon points="99.0,407.0 103.9,414.2 94.1,414.2" fill="#ff0a0a" fill-opacity="1" stroke="#2a2a60" stroke-width="1.2" />
<polygon points="70.1,455.0 75.0,462.2 65.2,462.2" fill="#ff0a0a" fill-opacity="1" stroke="#2a2a60" stroke-width="1.2" />
</g>
<line x1="1.5" y1="341.5" x2="205" y2="341.5" stroke="#9a9494" stroke-width="1"/>
<line x1="1.5" y1="341.5" x2="1.5" y2="497.5" stroke="#a8a8a8" stroke-width="1"/>
<line x1="205.8" y1="341.5" x2="205.8" y2="498.0" stroke="#e0e0e0" stroke-width="1.8"/>
<line x1="1.5" y1="497.5" x2="206" y2="497.5" stroke="#d0d0d0" stroke-width="1.2"/>
<line x1="1.5" y1="360.3" x2="5.5" y2="360.3" stroke="#999" stroke-width="0.8"/>
<line x1="1.5" y1="396.7" x2="5.5" y2="396.7" stroke="#999" stroke-width="0.8"/>
<line x1="1.5" y1="433.1" x2="5.5" y2="433.1" stroke="#999" stroke-width="0.8"/>
<line x1="1.5" y1="470.1" x2="5.5" y2="470.1" stroke="#999" stroke-width="0.8"/>
<line x1="13.4" y1="497.5" x2="13.4" y2="493.5" stroke="#999" stroke-width="0.8"/>
<line x1="42.8" y1="497.5" x2="42.8" y2="493.5" stroke="#999" stroke-width="0.8"/>
<line x1="72.1" y1="497.5" x2="72.1" y2="493.5" stroke="#999" stroke-width="0.8"/>
<line x1="101.4" y1="497.5" x2="101.4" y2="493.5" stroke="#999" stroke-width="0.8"/>
<line x1="131.7" y1="497.5" x2="131.7" y2="493.5" stroke="#999" stroke-width="0.8"/>
<line x1="161.4" y1="497.5" x2="161.4" y2="493.5" stroke="#999" stroke-width="0.8"/>
<line x1="191" y1="497.5" x2="191" y2="493.5" stroke="#999" stroke-width="0.8"/>
<text x="2.6" y="418.5" font-size="9.5" fill="#222" font-weight="normal" textLength="12.1" lengthAdjust="spacingAndGlyphs" >Lat</text>
<text x="104.2" y="496.6" font-size="9.5" fill="#222" font-weight="normal" textLength="15.0" lengthAdjust="spacingAndGlyphs" >Lon</text>
<defs><g id="bplume"><polygon points="312.0,64.0 341.3,39.5 361.7,35.4 372.0,34.4 386.3,39.5 391.0,44.6 386.3,54.8 372.0,60.0 361.7,66.0 341.3,69.0 320.9,68.0" fill="#30a888" fill-opacity="0.35"/><path d="M358.6 35.4a0.6 0.6 0 1 0 1.2 0a0.6 0.6 0 1 0 -1.2 0M348.2 48.2a0.6 0.6 0 1 0 1.2 0a0.6 0.6 0 1 0 -1.2 0M322.9 61.3a0.7 0.7 0 1 0 1.4 0a0.7 0.7 0 1 0 -1.4 0M378.2 42.2a0.7 0.7 0 1 0 1.3 0a0.7 0.7 0 1 0 -1.3 0M329.8 59.3a0.7 0.7 0 1 0 1.4 0a0.7 0.7 0 1 0 -1.4 0M354.8 55.6a0.7 0.7 0 1 0 1.5 0a0.7 0.7 0 1 0 -1.5 0M346.4 65.4a0.8 0.8 0 1 0 1.6 0a0.8 0.8 0 1 0 -1.6 0M334.5 63.5a0.9 0.9 0 1 0 1.8 0a0.9 0.9 0 1 0 -1.8 0M353.2 49.6a0.8 0.8 0 1 0 1.5 0a0.8 0.8 0 1 0 -1.5 0M382.4 47.6a0.9 0.9 0 1 0 1.8 0a0.9 0.9 0 1 0 -1.8 0M366.1 41.1a0.6 0.6 0 1 0 1.2 0a0.6 0.6 0 1 0 -1.2 0M343.3 57.9a0.6 0.6 0 1 0 1.3 0a0.6 0.6 0 1 0 -1.3 0M321.8 66.5a0.9 0.9 0 1 0 1.9 0a0.9 0.9 0 1 0 -1.9 0M360.5 36.7a0.5 0.5 0 1 0 1.1 0a0.5 0.5 0 1 0 -1.1 0M330.5 61.5a0.9 0.9 0 1 0 1.9 0a0.9 0.9 0 1 0 -1.9 0M363.4 44.9a0.7 0.7 0 1 0 1.4 0a0.7 0.7 0 1 0 -1.4 0M366.3 53.9a0.8 0.8 0 1 0 1.6 0a0.8 0.8 0 1 0 -1.6 0M315.1 65.5a0.8 0.8 0 1 0 1.6 0a0.8 0.8 0 1 0 -1.6 0M361.1 52.4a0.6 0.6 0 1 0 1.1 0a0.6 0.6 0 1 0 -1.1 0M362.7 40.8a0.8 0.8 0 1 0 1.6 0a0.8 0.8 0 1 0 -1.6 0M317.0 62.9a0.6 0.6 0 1 0 1.3 0a0.6 0.6 0 1 0 -1.3 0M364.8 44.5a0.5 0.5 0 1 0 1.0 0a0.5 0.5 0 1 0 -1.0 0M371.7 31.6a0.5 0.5 0 1 0 1.0 0a0.5 0.5 0 1 0 -1.0 0M372.4 36.0a0.7 0.7 0 1 0 1.4 0a0.7 0.7 0 1 0 -1.4 0M340.6 60.7a0.6 0.6 0 1 0 1.3 0a0.6 0.6 0 1 0 -1.3 0M317.2 61.0a0.8 0.8 0 1 0 1.7 0a0.8 0.8 0 1 0 -1.7 0M352.6 56.5a0.8 0.8 0 1 0 1.5 0a0.8 0.8 0 1 0 -1.5 0M309.7 60.8a0.6 0.6 0 1 0 1.1 0a0.6 0.6 0 1 0 -1.1 0M344.1 63.4a0.7 0.7 0 1 0 1.4 0a0.7 0.7 0 1 0 -1.4 0M364.4 46.4a0.8 0.8 0 1 0 1.5 0a0.8 0.8 0 1 0 -1.5 0M341.1 56.3a0.9 0.9 0 1 0 1.7 0a0.9 0.9 0 1 0 -1.7 0M335.6 57.7a0.8 0.8 0 1 0 1.5 0a0.8 0.8 0 1 0 -1.5 0M354.3 47.3a0.6 0.6 0 1 0 1.2 0a0.6 0.6 0 1 0 -1.2 0M347.0 66.4a0.8 0.8 0 1 0 1.6 0a0.8 0.8 0 1 0 -1.6 0M384.6 57.5a0.5 0.5 0 1 0 1.0 0a0.5 0.5 0 1 0 -1.0 0M336.0 51.8a0.9 0.9 0 1 0 1.9 0a0.9 0.9 0 1 0 -1.9 0M353.2 37.4a0.7 0.7 0 1 0 1.3 0a0.7 0.7 0 1 0 -1.3 0M337.9 50.2a0.6 0.6 0 1 0 1.2 0a0.6 0.6 0 1 0 -1.2 0M357.2 57.3a0.6 0.6 0 1 0 1.2 0a0.6 0.6 0 1 0 -1.2 0M341.1 54.5a0.6 0.6 0 1 0 1.1 0a0.6 0.6 0 1 0 -1.1 0M358.9 45.1a0.8 0.8 0 1 0 1.7 0a0.8 0.8 0 1 0 -1.7 0M349.1 58.7a0.9 0.9 0 1 0 1.7 0a0.9 0.9 0 1 0 -1.7 0M343.7 55.2a0.6 0.6 0 1 0 1.3 0a0.6 0.6 0 1 0 -1.3 0M387.2 43.0a0.7 0.7 0 1 0 1.5 0a0.7 0.7 0 1 0 -1.5 0M355.0 55.9a0.7 0.7 0 1 0 1.4 0a0.7 0.7 0 1 0 -1.4 0M344.6 52.0a0.6 0.6 0 1 0 1.1 0a0.6 0.6 0 1 0 -1.1 0M338.0 57.8a0.9 0.9 0 1 0 1.8 0a0.9 0.9 0 1 0 -1.8 0M358.6 35.5a0.8 0.8 0 1 0 1.5 0a0.8 0.8 0 1 0 -1.5 0M370.2 54.9a0.6 0.6 0 1 0 1.3 0a0.6 0.6 0 1 0 -1.3 0M373.4 40.7a0.6 0.6 0 1 0 1.2 0a0.6 0.6 0 1 0 -1.2 0M330.3 59.5a0.7 0.7 0 1 0 1.3 0a0.7 0.7 0 1 0 -1.3 0M344.9 37.6a0.7 0.7 0 1 0 1.4 0a0.7 0.7 0 1 0 -1.4 0M373.0 45.3a0.8 0.8 0 1 0 1.6 0a0.8 0.8 0 1 0 -1.6 0M362.7 60.1a0.8 0.8 0 1 0 1.7 0a0.8 0.8 0 1 0 -1.7 0M370.9 46.1a0.8 0.8 0 1 0 1.7 0a0.8 0.8 0 1 0 -1.7 0M361.2 43.1a0.6 0.6 0 1 0 1.3 0a0.6 0.6 0 1 0 -1.3 0M362.0 38.0a0.8 0.8 0 1 0 1.7 0a0.8 0.8 0 1 0 -1.7 0M357.2 41.1a0.9 0.9 0 1 0 1.8 0a0.9 0.9 0 1 0 -1.8 0M354.6 45.0a0.6 0.6 0 1 0 1.2 0a0.6 0.6 0 1 0 -1.2 0M393.6 42.0a0.8 0.8 0 1 0 1.6 0a0.8 0.8 0 1 0 -1.6 0M333.6 65.2a0.9 0.9 0 1 0 1.8 0a0.9 0.9 0 1 0 -1.8 0M362.6 50.1a0.8 0.8 0 1 0 1.6 0a0.8 0.8 0 1 0 -1.6 0M349.4 49.8a0.8 0.8 0 1 0 1.5 0a0.8 0.8 0 1 0 -1.5 0M361.3 51.7a0.7 0.7 0 1 0 1.5 0a0.7 0.7 0 1 0 -1.5 0M367.9 33.9a0.8 0.8 0 1 0 1.6 0a0.8 0.8 0 1 0 -1.6 0M329.4 53.5a0.9 0.9 0 1 0 1.8 0a0.9 0.9 0 1 0 -1.8 0M365.4 37.6a0.6 0.6 0 1 0 1.2 0a0.6 0.6 0 1 0 -1.2 0M377.8 37.4a0.6 0.6 0 1 0 1.1 0a0.6 0.6 0 1 0 -1.1 0M373.8 44.9a0.8 0.8 0 1 0 1.6 0a0.8 0.8 0 1 0 -1.6 0M345.6 51.0a0.7 0.7 0 1 0 1.4 0a0.7 0.7 0 1 0 -1.4 0M341.1 51.1a0.7 0.7 0 1 0 1.4 0a0.7 0.7 0 1 0 -1.4 0M346.8 54.5a0.7 0.7 0 1 0 1.3 0a0.7 0.7 0 1 0 -1.3 0M361.1 47.2a0.9 0.9 0 1 0 1.9 0a0.9 0.9 0 1 0 -1.9 0M389.4 41.8a0.9 0.9 0 1 0 1.8 0a0.9 0.9 0 1 0 -1.8 0M369.4 50.4a0.8 0.8 0 1 0 1.6 0a0.8 0.8 0 1 0 -1.6 0M329.2 52.2a0.5 0.5 0 1 0 1.1 0a0.5 0.5 0 1 0 -1.1 0M355.9 53.3a0.5 0.5 0 1 0 1.1 0a0.5 0.5 0 1 0 -1.1 0M344.4 50.3a0.9 0.9 0 1 0 1.9 0a0.9 0.9 0 1 0 -1.9 0M370.6 56.7a0.9 0.9 0 1 0 1.9 0a0.9 0.9 0 1 0 -1.9 0M354.6 54.1a0.6 0.6 0 1 0 1.2 0a0.6 0.6 0 1 0 -1.2 0M332.1 49.4a0.9 0.9 0 1 0 1.8 0a0.9 0.9 0 1 0 -1.8 0M358.1 52.4a0.8 0.8 0 1 0 1.6 0a0.8 0.8 0 1 0 -1.6 0M338.5 66.0a0.9 0.9 0 1 0 1.8 0a0.9 0.9 0 1 0 -1.8 0M364.1 41.8a0.6 0.6 0 1 0 1.2 0a0.6 0.6 0 1 0 -1.2 0M363.1 61.5a0.7 0.7 0 1 0 1.5 0a0.7 0.7 0 1 0 -1.5 0M351.1 55.3a0.9 0.9 0 1 0 1.7 0a0.9 0.9 0 1 0 -1.7 0M373.4 53.6a0.8 0.8 0 1 0 1.6 0a0.8 0.8 0 1 0 -1.6 0M328.8 66.2a0.6 0.6 0 1 0 1.2 0a0.6 0.6 0 1 0 -1.2 0M347.8 71.6a0.6 0.6 0 1 0 1.2 0a0.6 0.6 0 1 0 -1.2 0M371.9 40.0a0.9 0.9 0 1 0 1.8 0a0.9 0.9 0 1 0 -1.8 0M347.1 44.0a0.7 0.7 0 1 0 1.4 0a0.7 0.7 0 1 0 -1.4 0M345.9 52.1a0.7 0.7 0 1 0 1.4 0a0.7 0.7 0 1 0 -1.4 0M349.5 48.6a0.8 0.8 0 1 0 1.6 0a0.8 0.8 0 1 0 -1.6 0M374.9 46.7a0.8 0.8 0 1 0 1.6 0a0.8 0.8 0 1 0 -1.6 0M354.8 57.1a0.6 0.6 0 1 0 1.2 0a0.6 0.6 0 1 0 -1.2 0M331.4 60.2a0.9 0.9 0 1 0 1.7 0a0.9 0.9 0 1 0 -1.7 0M314.5 65.2a0.9 0.9 0 1 0 1.7 0a0.9 0.9 0 1 0 -1.7 0M346.3 49.4a0.9 0.9 0 1 0 1.7 0a0.9 0.9 0 1 0 -1.7 0M366.1 41.2a0.5 0.5 0 1 0 1.1 0a0.5 0.5 0 1 0 -1.1 0M363.2 39.9a0.7 0.7 0 1 0 1.4 0a0.7 0.7 0 1 0 -1.4 0M336.1 64.9a0.5 0.5 0 1 0 1.1 0a0.5 0.5 0 1 0 -1.1 0M379.0 36.5a0.9 0.9 0 1 0 1.7 0a0.9 0.9 0 1 0 -1.7 0M359.7 47.3a0.6 0.6 0 1 0 1.2 0a0.6 0.6 0 1 0 -1.2 0M358.0 67.3a0.7 0.7 0 1 0 1.4 0a0.7 0.7 0 1 0 -1.4 0M355.6 48.6a0.6 0.6 0 1 0 1.2 0a0.6 0.6 0 1 0 -1.2 0M330.3 63.7a0.7 0.7 0 1 0 1.4 0a0.7 0.7 0 1 0 -1.4 0M360.7 46.3a0.7 0.7 0 1 0 1.4 0a0.7 0.7 0 1 0 -1.4 0M335.9 59.1a0.6 0.6 0 1 0 1.2 0a0.6 0.6 0 1 0 -1.2 0M348.4 65.1a0.8 0.8 0 1 0 1.6 0a0.8 0.8 0 1 0 -1.6 0M317.8 63.3a0.9 0.9 0 1 0 1.8 0a0.9 0.9 0 1 0 -1.8 0M306.6 66.9a0.9 0.9 0 1 0 1.8 0a0.9 0.9 0 1 0 -1.8 0M318.2 63.2a0.6 0.6 0 1 0 1.2 0a0.6 0.6 0 1 0 -1.2 0M362.7 52.1a0.7 0.7 0 1 0 1.5 0a0.7 0.7 0 1 0 -1.5 0M363.7 47.9a0.7 0.7 0 1 0 1.4 0a0.7 0.7 0 1 0 -1.4 0M317.4 64.8a0.8 0.8 0 1 0 1.5 0a0.8 0.8 0 1 0 -1.5 0M388.7 44.3a0.7 0.7 0 1 0 1.4 0a0.7 0.7 0 1 0 -1.4 0M332.2 68.8a0.8 0.8 0 1 0 1.5 0a0.8 0.8 0 1 0 -1.5 0M382.8 52.5a0.8 0.8 0 1 0 1.7 0a0.8 0.8 0 1 0 -1.7 0M374.4 43.9a0.7 0.7 0 1 0 1.4 0a0.7 0.7 0 1 0 -1.4 0M351.9 62.4a0.8 0.8 0 1 0 1.6 0a0.8 0.8 0 1 0 -1.6 0M346.8 58.6a0.6 0.6 0 1 0 1.3 0a0.6 0.6 0 1 0 -1.3 0M340.4 70.7a0.7 0.7 0 1 0 1.4 0a0.7 0.7 0 1 0 -1.4 0M332.4 58.4a0.8 0.8 0 1 0 1.5 0a0.8 0.8 0 1 0 -1.5 0M351.9 44.4a0.7 0.7 0 1 0 1.4 0a0.7 0.7 0 1 0 -1.4 0M366.2 47.6a0.9 0.9 0 1 0 1.9 0a0.9 0.9 0 1 0 -1.9 0M365.2 52.3a0.7 0.7 0 1 0 1.3 0a0.7 0.7 0 1 0 -1.3 0M341.8 56.6a0.5 0.5 0 1 0 1.1 0a0.5 0.5 0 1 0 -1.1 0M312.9 64.1a0.5 0.5 0 1 0 1.0 0a0.5 0.5 0 1 0 -1.0 0M325.8 58.2a0.8 0.8 0 1 0 1.6 0a0.8 0.8 0 1 0 -1.6 0M377.9 42.4a0.9 0.9 0 1 0 1.8 0a0.9 0.9 0 1 0 -1.8 0M354.8 33.3a0.7 0.7 0 1 0 1.3 0a0.7 0.7 0 1 0 -1.3 0M344.4 54.5a0.9 0.9 0 1 0 1.9 0a0.9 0.9 0 1 0 -1.9 0M358.6 47.3a0.9 0.9 0 1 0 1.7 0a0.9 0.9 0 1 0 -1.7 0M363.4 48.7a0.7 0.7 0 1 0 1.4 0a0.7 0.7 0 1 0 -1.4 0M355.0 60.1a0.5 0.5 0 1 0 1.0 0a0.5 0.5 0 1 0 -1.0 0M367.0 41.4a0.7 0.7 0 1 0 1.4 0a0.7 0.7 0 1 0 -1.4 0M348.5 66.8a0.9 0.9 0 1 0 1.8 0a0.9 0.9 0 1 0 -1.8 0M356.4 64.0a0.9 0.9 0 1 0 1.8 0a0.9 0.9 0 1 0 -1.8 0M339.8 62.8a0.8 0.8 0 1 0 1.6 0a0.8 0.8 0 1 0 -1.6 0M323.1 61.9a0.9 0.9 0 1 0 1.7 0a0.9 0.9 0 1 0 -1.7 0M341.3 50.0a0.8 0.8 0 1 0 1.6 0a0.8 0.8 0 1 0 -1.6 0M349.8 44.2a0.5 0.5 0 1 0 1.0 0a0.5 0.5 0 1 0 -1.0 0M363.2 53.1a0.7 0.7 0 1 0 1.4 0a0.7 0.7 0 1 0 -1.4 0M357.3 32.5a0.8 0.8 0 1 0 1.6 0a0.8 0.8 0 1 0 -1.6 0M376.2 44.3a0.7 0.7 0 1 0 1.3 0a0.7 0.7 0 1 0 -1.3 0M354.9 44.1a0.9 0.9 0 1 0 1.7 0a0.9 0.9 0 1 0 -1.7 0M342.6 60.8a0.9 0.9 0 1 0 1.9 0a0.9 0.9 0 1 0 -1.9 0M350.4 55.3a0.7 0.7 0 1 0 1.4 0a0.7 0.7 0 1 0 -1.4 0M373.5 55.6a0.7 0.7 0 1 0 1.5 0a0.7 0.7 0 1 0 -1.5 0M378.3 47.1a0.5 0.5 0 1 0 1.1 0a0.5 0.5 0 1 0 -1.1 0M351.8 41.1a0.5 0.5 0 1 0 1.1 0a0.5 0.5 0 1 0 -1.1 0M361.5 35.6a0.5 0.5 0 1 0 1.0 0a0.5 0.5 0 1 0 -1.0 0M361.2 45.3a0.8 0.8 0 1 0 1.6 0a0.8 0.8 0 1 0 -1.6 0M338.7 53.0a0.8 0.8 0 1 0 1.7 0a0.8 0.8 0 1 0 -1.7 0M369.0 41.4a0.9 0.9 0 1 0 1.8 0a0.9 0.9 0 1 0 -1.8 0M354.2 42.1a0.6 0.6 0 1 0 1.2 0a0.6 0.6 0 1 0 -1.2 0M326.4 57.8a0.7 0.7 0 1 0 1.3 0a0.7 0.7 0 1 0 -1.3 0M375.7 51.3a0.6 0.6 0 1 0 1.1 0a0.6 0.6 0 1 0 -1.1 0M371.4 48.6a0.5 0.5 0 1 0 1.1 0a0.5 0.5 0 1 0 -1.1 0M343.8 58.9a0.9 0.9 0 1 0 1.8 0a0.9 0.9 0 1 0 -1.8 0M348.5 59.2a0.6 0.6 0 1 0 1.1 0a0.6 0.6 0 1 0 -1.1 0M339.6 57.8a0.7 0.7 0 1 0 1.5 0a0.7 0.7 0 1 0 -1.5 0M357.5 44.0a0.7 0.7 0 1 0 1.4 0a0.7 0.7 0 1 0 -1.4 0M361.0 39.5a0.7 0.7 0 1 0 1.4 0a0.7 0.7 0 1 0 -1.4 0M331.1 57.1a0.8 0.8 0 1 0 1.7 0a0.8 0.8 0 1 0 -1.7 0M377.0 45.7a0.7 0.7 0 1 0 1.5 0a0.7 0.7 0 1 0 -1.5 0M355.1 47.8a0.9 0.9 0 1 0 1.7 0a0.9 0.9 0 1 0 -1.7 0M342.5 68.1a0.8 0.8 0 1 0 1.6 0a0.8 0.8 0 1 0 -1.6 0M379.3 55.5a0.6 0.6 0 1 0 1.3 0a0.6 0.6 0 1 0 -1.3 0M354.1 46.7a0.8 0.8 0 1 0 1.6 0a0.8 0.8 0 1 0 -1.6 0M368.2 55.6a0.8 0.8 0 1 0 1.5 0a0.8 0.8 0 1 0 -1.5 0M351.8 57.4a0.9 0.9 0 1 0 1.7 0a0.9 0.9 0 1 0 -1.7 0M316.1 60.3a0.5 0.5 0 1 0 1.0 0a0.5 0.5 0 1 0 -1.0 0M361.5 46.8a0.6 0.6 0 1 0 1.3 0a0.6 0.6 0 1 0 -1.3 0M369.8 53.1a0.9 0.9 0 1 0 1.8 0a0.9 0.9 0 1 0 -1.8 0M330.4 66.3a0.9 0.9 0 1 0 1.7 0a0.9 0.9 0 1 0 -1.7 0M347.7 55.2a0.9 0.9 0 1 0 1.9 0a0.9 0.9 0 1 0 -1.9 0M359.2 51.5a0.7 0.7 0 1 0 1.4 0a0.7 0.7 0 1 0 -1.4 0M384.6 37.9a0.8 0.8 0 1 0 1.6 0a0.8 0.8 0 1 0 -1.6 0M330.9 55.5a0.7 0.7 0 1 0 1.4 0a0.7 0.7 0 1 0 -1.4 0M360.0 50.7a0.8 0.8 0 1 0 1.7 0a0.8 0.8 0 1 0 -1.7 0M366.1 45.7a0.8 0.8 0 1 0 1.7 0a0.8 0.8 0 1 0 -1.7 0M316.1 60.8a0.8 0.8 0 1 0 1.7 0a0.8 0.8 0 1 0 -1.7 0M331.5 64.8a0.7 0.7 0 1 0 1.3 0a0.7 0.7 0 1 0 -1.3 0M359.4 50.2a0.9 0.9 0 1 0 1.7 0a0.9 0.9 0 1 0 -1.7 0M335.2 50.5a0.8 0.8 0 1 0 1.6 0a0.8 0.8 0 1 0 -1.6 0M364.3 47.1a0.9 0.9 0 1 0 1.9 0a0.9 0.9 0 1 0 -1.9 0M345.7 56.2a0.8 0.8 0 1 0 1.6 0a0.8 0.8 0 1 0 -1.6 0M373.8 36.3a0.7 0.7 0 1 0 1.4 0a0.7 0.7 0 1 0 -1.4 0M357.9 50.8a0.7 0.7 0 1 0 1.4 0a0.7 0.7 0 1 0 -1.4 0M340.5 41.4a0.8 0.8 0 1 0 1.5 0a0.8 0.8 0 1 0 -1.5 0M390.5 44.5a0.8 0.8 0 1 0 1.6 0a0.8 0.8 0 1 0 -1.6 0M384.7 43.1a0.8 0.8 0 1 0 1.5 0a0.8 0.8 0 1 0 -1.5 0M344.2 57.5a0.6 0.6 0 1 0 1.3 0a0.6 0.6 0 1 0 -1.3 0M346.8 58.3a0.7 0.7 0 1 0 1.4 0a0.7 0.7 0 1 0 -1.4 0M354.8 57.1a0.6 0.6 0 1 0 1.2 0a0.6 0.6 0 1 0 -1.2 0M339.4 62.5a0.7 0.7 0 1 0 1.4 0a0.7 0.7 0 1 0 -1.4 0M374.6 44.6a0.9 0.9 0 1 0 1.8 0a0.9 0.9 0 1 0 -1.8 0M355.5 33.6a0.6 0.6 0 1 0 1.2 0a0.6 0.6 0 1 0 -1.2 0M321.4 60.9a0.7 0.7 0 1 0 1.4 0a0.7 0.7 0 1 0 -1.4 0M377.0 46.9a0.9 0.9 0 1 0 1.8 0a0.9 0.9 0 1 0 -1.8 0M362.1 44.9a0.5 0.5 0 1 0 1.1 0a0.5 0.5 0 1 0 -1.1 0M344.2 53.5a0.7 0.7 0 1 0 1.5 0a0.7 0.7 0 1 0 -1.5 0M368.9 41.1a0.9 0.9 0 1 0 1.7 0a0.9 0.9 0 1 0 -1.7 0M361.4 49.8a0.7 0.7 0 1 0 1.5 0a0.7 0.7 0 1 0 -1.5 0M355.3 55.9a0.8 0.8 0 1 0 1.7 0a0.8 0.8 0 1 0 -1.7 0M328.3 63.0a0.9 0.9 0 1 0 1.8 0a0.9 0.9 0 1 0 -1.8 0M359.8 50.9a0.8 0.8 0 1 0 1.5 0a0.8 0.8 0 1 0 -1.5 0M347.7 53.8a0.9 0.9 0 1 0 1.9 0a0.9 0.9 0 1 0 -1.9 0M369.2 42.0a0.9 0.9 0 1 0 1.9 0a0.9 0.9 0 1 0 -1.9 0M352.7 49.4a0.8 0.8 0 1 0 1.7 0a0.8 0.8 0 1 0 -1.7 0M322.6 66.9a0.9 0.9 0 1 0 1.8 0a0.9 0.9 0 1 0 -1.8 0M363.0 37.2a0.8 0.8 0 1 0 1.6 0a0.8 0.8 0 1 0 -1.6 0M337.3 41.5a0.5 0.5 0 1 0 1.1 0a0.5 0.5 0 1 0 -1.1 0M359.9 57.4a0.7 0.7 0 1 0 1.3 0a0.7 0.7 0 1 0 -1.3 0M348.3 58.1a0.8 0.8 0 1 0 1.6 0a0.8 0.8 0 1 0 -1.6 0M318.0 57.7a0.5 0.5 0 1 0 1.0 0a0.5 0.5 0 1 0 -1.0 0M376.4 55.9a0.8 0.8 0 1 0 1.6 0a0.8 0.8 0 1 0 -1.6 0M367.4 56.6a0.8 0.8 0 1 0 1.6 0a0.8 0.8 0 1 0 -1.6 0M346.9 56.2a0.8 0.8 0 1 0 1.6 0a0.8 0.8 0 1 0 -1.6 0M310.3 64.1a0.7 0.7 0 1 0 1.5 0a0.7 0.7 0 1 0 -1.5 0M337.6 54.0a0.6 0.6 0 1 0 1.1 0a0.6 0.6 0 1 0 -1.1 0M373.9 47.9a0.7 0.7 0 1 0 1.3 0a0.7 0.7 0 1 0 -1.3 0M371.5 39.4a0.9 0.9 0 1 0 1.7 0a0.9 0.9 0 1 0 -1.7 0M378.2 56.3a0.6 0.6 0 1 0 1.2 0a0.6 0.6 0 1 0 -1.2 0M367.7 54.3a0.9 0.9 0 1 0 1.8 0a0.9 0.9 0 1 0 -1.8 0M357.6 50.1a0.6 0.6 0 1 0 1.2 0a0.6 0.6 0 1 0 -1.2 0M318.7 55.7a0.6 0.6 0 1 0 1.2 0a0.6 0.6 0 1 0 -1.2 0M361.9 42.7a0.9 0.9 0 1 0 1.7 0a0.9 0.9 0 1 0 -1.7 0M374.6 46.5a0.6 0.6 0 1 0 1.3 0a0.6 0.6 0 1 0 -1.3 0M374.5 52.7a0.8 0.8 0 1 0 1.6 0a0.8 0.8 0 1 0 -1.6 0M355.5 37.4a0.7 0.7 0 1 0 1.4 0a0.7 0.7 0 1 0 -1.4 0M378.6 54.2a0.6 0.6 0 1 0 1.3 0a0.6 0.6 0 1 0 -1.3 0M321.4 62.9a0.7 0.7 0 1 0 1.4 0a0.7 0.7 0 1 0 -1.4 0M339.9 59.0a0.5 0.5 0 1 0 1.0 0a0.5 0.5 0 1 0 -1.0 0M354.8 52.8a0.6 0.6 0 1 0 1.1 0a0.6 0.6 0 1 0 -1.1 0M333.3 55.7a0.8 0.8 0 1 0 1.7 0a0.8 0.8 0 1 0 -1.7 0M323.6 67.1a0.6 0.6 0 1 0 1.2 0a0.6 0.6 0 1 0 -1.2 0M303.2 66.1a0.5 0.5 0 1 0 1.0 0a0.5 0.5 0 1 0 -1.0 0M317.9 58.7a0.9 0.9 0 1 0 1.7 0a0.9 0.9 0 1 0 -1.7 0M379.1 53.4a0.9 0.9 0 1 0 1.8 0a0.9 0.9 0 1 0 -1.8 0M349.3 48.2a0.9 0.9 0 1 0 1.7 0a0.9 0.9 0 1 0 -1.7 0M386.3 35.7a0.8 0.8 0 1 0 1.7 0a0.8 0.8 0 1 0 -1.7 0M366.7 40.3a0.6 0.6 0 1 0 1.2 0a0.6 0.6 0 1 0 -1.2 0M315.7 56.6a0.6 0.6 0 1 0 1.2 0a0.6 0.6 0 1 0 -1.2 0M363.3 52.2a0.5 0.5 0 1 0 1.0 0a0.5 0.5 0 1 0 -1.0 0M327.2 61.2a0.6 0.6 0 1 0 1.2 0a0.6 0.6 0 1 0 -1.2 0M347.9 42.2a0.9 0.9 0 1 0 1.9 0a0.9 0.9 0 1 0 -1.9 0M342.6 48.5a0.8 0.8 0 1 0 1.5 0a0.8 0.8 0 1 0 -1.5 0M375.4 45.7a0.8 0.8 0 1 0 1.5 0a0.8 0.8 0 1 0 -1.5 0M330.2 59.1a0.8 0.8 0 1 0 1.5 0a0.8 0.8 0 1 0 -1.5 0M391.2 45.9a0.5 0.5 0 1 0 1.1 0a0.5 0.5 0 1 0 -1.1 0M353.3 49.4a0.8 0.8 0 1 0 1.6 0a0.8 0.8 0 1 0 -1.6 0M358.0 58.1a0.7 0.7 0 1 0 1.3 0a0.7 0.7 0 1 0 -1.3 0M362.0 37.2a0.7 0.7 0 1 0 1.4 0a0.7 0.7 0 1 0 -1.4 0M356.9 54.2a0.6 0.6 0 1 0 1.1 0a0.6 0.6 0 1 0 -1.1 0M332.7 60.5a0.8 0.8 0 1 0 1.6 0a0.8 0.8 0 1 0 -1.6 0M355.1 50.7a0.9 0.9 0 1 0 1.7 0a0.9 0.9 0 1 0 -1.7 0M346.5 57.9a0.7 0.7 0 1 0 1.4 0a0.7 0.7 0 1 0 -1.4 0M345.1 56.8a0.6 0.6 0 1 0 1.1 0a0.6 0.6 0 1 0 -1.1 0M351.2 46.0a0.5 0.5 0 1 0 1.0 0a0.5 0.5 0 1 0 -1.0 0M324.9 59.6a0.7 0.7 0 1 0 1.3 0a0.7 0.7 0 1 0 -1.3 0M355.0 50.1a0.9 0.9 0 1 0 1.7 0a0.9 0.9 0 1 0 -1.7 0M349.4 44.9a0.7 0.7 0 1 0 1.4 0a0.7 0.7 0 1 0 -1.4 0M307.9 65.6a0.9 0.9 0 1 0 1.8 0a0.9 0.9 0 1 0 -1.8 0M349.0 59.6a0.7 0.7 0 1 0 1.5 0a0.7 0.7 0 1 0 -1.5 0M323.9 64.6a0.7 0.7 0 1 0 1.5 0a0.7 0.7 0 1 0 -1.5 0M355.4 40.8a0.8 0.8 0 1 0 1.7 0a0.8 0.8 0 1 0 -1.7 0M357.0 54.0a0.5 0.5 0 1 0 1.1 0a0.5 0.5 0 1 0 -1.1 0M380.2 50.3a0.9 0.9 0 1 0 1.8 0a0.9 0.9 0 1 0 -1.8 0M320.4 61.5a0.9 0.9 0 1 0 1.7 0a0.9 0.9 0 1 0 -1.7 0M324.4 62.8a0.6 0.6 0 1 0 1.3 0a0.6 0.6 0 1 0 -1.3 0M335.2 54.5a0.7 0.7 0 1 0 1.4 0a0.7 0.7 0 1 0 -1.4 0M363.2 39.9a0.7 0.7 0 1 0 1.5 0a0.7 0.7 0 1 0 -1.5 0M370.0 51.7a0.9 0.9 0 1 0 1.9 0a0.9 0.9 0 1 0 -1.9 0M319.9 65.1a0.6 0.6 0 1 0 1.2 0a0.6 0.6 0 1 0 -1.2 0M309.2 60.8a0.8 0.8 0 1 0 1.7 0a0.8 0.8 0 1 0 -1.7 0M379.9 37.6a0.5 0.5 0 1 0 1.1 0a0.5 0.5 0 1 0 -1.1 0M354.0 37.9a0.6 0.6 0 1 0 1.2 0a0.6 0.6 0 1 0 -1.2 0M326.9 60.9a0.8 0.8 0 1 0 1.6 0a0.8 0.8 0 1 0 -1.6 0M358.8 47.5a0.8 0.8 0 1 0 1.7 0a0.8 0.8 0 1 0 -1.7 0M381.0 51.8a0.6 0.6 0 1 0 1.3 0a0.6 0.6 0 1 0 -1.3 0M341.9 61.0a0.7 0.7 0 1 0 1.4 0a0.7 0.7 0 1 0 -1.4 0M348.0 54.2a0.8 0.8 0 1 0 1.6 0a0.8 0.8 0 1 0 -1.6 0M334.8 42.4a0.5 0.5 0 1 0 1.0 0a0.5 0.5 0 1 0 -1.0 0M373.2 42.9a0.7 0.7 0 1 0 1.5 0a0.7 0.7 0 1 0 -1.5 0M347.0 48.0a0.6 0.6 0 1 0 1.2 0a0.6 0.6 0 1 0 -1.2 0M354.4 66.5a0.9 0.9 0 1 0 1.8 0a0.9 0.9 0 1 0 -1.8 0M343.6 65.9a0.8 0.8 0 1 0 1.6 0a0.8 0.8 0 1 0 -1.6 0M337.7 63.5a0.7 0.7 0 1 0 1.3 0a0.7 0.7 0 1 0 -1.3 0M312.5 62.2a0.6 0.6 0 1 0 1.2 0a0.6 0.6 0 1 0 -1.2 0M330.8 57.3a0.9 0.9 0 1 0 1.8 0a0.9 0.9 0 1 0 -1.8 0M366.7 60.3a0.7 0.7 0 1 0 1.5 0a0.7 0.7 0 1 0 -1.5 0M366.2 37.0a0.9 0.9 0 1 0 1.8 0a0.9 0.9 0 1 0 -1.8 0M366.6 49.9a0.6 0.6 0 1 0 1.1 0a0.6 0.6 0 1 0 -1.1 0M344.9 49.2a0.8 0.8 0 1 0 1.7 0a0.8 0.8 0 1 0 -1.7 0M365.4 47.3a0.8 0.8 0 1 0 1.5 0a0.8 0.8 0 1 0 -1.5 0M363.3 48.0a0.9 0.9 0 1 0 1.8 0a0.9 0.9 0 1 0 -1.8 0M376.3 48.2a0.7 0.7 0 1 0 1.4 0a0.7 0.7 0 1 0 -1.4 0M363.9 42.0a0.6 0.6 0 1 0 1.1 0a0.6 0.6 0 1 0 -1.1 0M366.8 43.4a0.9 0.9 0 1 0 1.7 0a0.9 0.9 0 1 0 -1.7 0M375.3 36.2a0.9 0.9 0 1 0 1.8 0a0.9 0.9 0 1 0 -1.8 0M356.7 40.4a0.6 0.6 0 1 0 1.2 0a0.6 0.6 0 1 0 -1.2 0M373.7 55.1a0.7 0.7 0 1 0 1.4 0a0.7 0.7 0 1 0 -1.4 0M355.8 66.5a0.8 0.8 0 1 0 1.5 0a0.8 0.8 0 1 0 -1.5 0M347.7 50.7a0.6 0.6 0 1 0 1.2 0a0.6 0.6 0 1 0 -1.2 0M346.7 53.8a0.9 0.9 0 1 0 1.7 0a0.9 0.9 0 1 0 -1.7 0M392.2 43.8a0.7 0.7 0 1 0 1.4 0a0.7 0.7 0 1 0 -1.4 0M366.7 34.2a0.8 0.8 0 1 0 1.7 0a0.8 0.8 0 1 0 -1.7 0M385.6 37.9a0.8 0.8 0 1 0 1.6 0a0.8 0.8 0 1 0 -1.6 0M354.3 44.1a0.7 0.7 0 1 0 1.3 0a0.7 0.7 0 1 0 -1.3 0M322.7 67.6a0.7 0.7 0 1 0 1.4 0a0.7 0.7 0 1 0 -1.4 0M357.0 50.6a0.6 0.6 0 1 0 1.1 0a0.6 0.6 0 1 0 -1.1 0M340.5 53.3a0.9 0.9 0 1 0 1.8 0a0.9 0.9 0 1 0 -1.8 0M373.2 58.2a0.6 0.6 0 1 0 1.3 0a0.6 0.6 0 1 0 -1.3 0M376.5 38.5a0.7 0.7 0 1 0 1.5 0a0.7 0.7 0 1 0 -1.5 0M327.6 64.6a0.7 0.7 0 1 0 1.5 0a0.7 0.7 0 1 0 -1.5 0M340.7 49.0a0.5 0.5 0 1 0 1.1 0a0.5 0.5 0 1 0 -1.1 0M360.0 55.0a0.6 0.6 0 1 0 1.2 0a0.6 0.6 0 1 0 -1.2 0M355.8 65.2a0.6 0.6 0 1 0 1.2 0a0.6 0.6 0 1 0 -1.2 0M354.7 42.4a0.5 0.5 0 1 0 1.1 0a0.5 0.5 0 1 0 -1.1 0M353.8 31.3a0.5 0.5 0 1 0 1.1 0a0.5 0.5 0 1 0 -1.1 0M325.2 52.4a0.6 0.6 0 1 0 1.2 0a0.6 0.6 0 1 0 -1.2 0M327.9 64.8a0.5 0.5 0 1 0 1.0 0a0.5 0.5 0 1 0 -1.0 0M354.4 37.8a0.9 0.9 0 1 0 1.7 0a0.9 0.9 0 1 0 -1.7 0M342.6 50.4a0.8 0.8 0 1 0 1.7 0a0.8 0.8 0 1 0 -1.7 0M379.3 48.0a0.6 0.6 0 1 0 1.2 0a0.6 0.6 0 1 0 -1.2 0M379.8 45.2a0.6 0.6 0 1 0 1.1 0a0.6 0.6 0 1 0 -1.1 0M361.4 59.4a0.9 0.9 0 1 0 1.7 0a0.9 0.9 0 1 0 -1.7 0M343.1 53.5a0.9 0.9 0 1 0 1.8 0a0.9 0.9 0 1 0 -1.8 0M357.5 47.6a0.5 0.5 0 1 0 1.1 0a0.5 0.5 0 1 0 -1.1 0M363.9 50.6a0.8 0.8 0 1 0 1.7 0a0.8 0.8 0 1 0 -1.7 0M316.0 57.0a0.6 0.6 0 1 0 1.2 0a0.6 0.6 0 1 0 -1.2 0M356.2 50.0a0.7 0.7 0 1 0 1.5 0a0.7 0.7 0 1 0 -1.5 0M383.5 38.9a0.5 0.5 0 1 0 1.0 0a0.5 0.5 0 1 0 -1.0 0M352.9 68.9a0.9 0.9 0 1 0 1.8 0a0.9 0.9 0 1 0 -1.8 0M312.1 63.8a0.8 0.8 0 1 0 1.7 0a0.8 0.8 0 1 0 -1.7 0M343.0 55.0a0.8 0.8 0 1 0 1.6 0a0.8 0.8 0 1 0 -1.6 0M348.0 52.4a0.7 0.7 0 1 0 1.4 0a0.7 0.7 0 1 0 -1.4 0M312.9 61.3a0.5 0.5 0 1 0 1.0 0a0.5 0.5 0 1 0 -1.0 0M368.2 50.5a0.9 0.9 0 1 0 1.8 0a0.9 0.9 0 1 0 -1.8 0M351.4 31.7a0.7 0.7 0 1 0 1.5 0a0.7 0.7 0 1 0 -1.5 0M360.7 35.4a0.7 0.7 0 1 0 1.4 0a0.7 0.7 0 1 0 -1.4 0M364.9 56.4a0.6 0.6 0 1 0 1.2 0a0.6 0.6 0 1 0 -1.2 0M318.2 60.5a0.9 0.9 0 1 0 1.7 0a0.9 0.9 0 1 0 -1.7 0M322.5 60.6a0.7 0.7 0 1 0 1.5 0a0.7 0.7 0 1 0 -1.5 0M353.9 48.4a0.5 0.5 0 1 0 1.1 0a0.5 0.5 0 1 0 -1.1 0M345.0 56.1a0.5 0.5 0 1 0 1.1 0a0.5 0.5 0 1 0 -1.1 0M372.2 38.3a0.5 0.5 0 1 0 1.0 0a0.5 0.5 0 1 0 -1.0 0M335.3 63.3a0.6 0.6 0 1 0 1.3 0a0.6 0.6 0 1 0 -1.3 0M374.0 46.9a0.6 0.6 0 1 0 1.3 0a0.6 0.6 0 1 0 -1.3 0M372.4 57.9a0.5 0.5 0 1 0 1.1 0a0.5 0.5 0 1 0 -1.1 0M356.1 60.0a0.7 0.7 0 1 0 1.4 0a0.7 0.7 0 1 0 -1.4 0M346.0 61.0a0.7 0.7 0 1 0 1.5 0a0.7 0.7 0 1 0 -1.5 0M364.0 51.4a0.6 0.6 0 1 0 1.2 0a0.6 0.6 0 1 0 -1.2 0M334.2 59.6a0.7 0.7 0 1 0 1.5 0a0.7 0.7 0 1 0 -1.5 0M373.8 60.9a0.7 0.7 0 1 0 1.3 0a0.7 0.7 0 1 0 -1.3 0M349.7 62.5a0.7 0.7 0 1 0 1.3 0a0.7 0.7 0 1 0 -1.3 0M355.8 41.5a0.8 0.8 0 1 0 1.5 0a0.8 0.8 0 1 0 -1.5 0M330.8 64.8a0.6 0.6 0 1 0 1.2 0a0.6 0.6 0 1 0 -1.2 0M336.4 65.9a0.9 0.9 0 1 0 1.9 0a0.9 0.9 0 1 0 -1.9 0M370.5 42.8a0.9 0.9 0 1 0 1.8 0a0.9 0.9 0 1 0 -1.8 0M349.4 49.6a0.9 0.9 0 1 0 1.8 0a0.9 0.9 0 1 0 -1.8 0M362.2 45.0a0.6 0.6 0 1 0 1.3 0a0.6 0.6 0 1 0 -1.3 0M363.9 61.0a0.5 0.5 0 1 0 1.1 0a0.5 0.5 0 1 0 -1.1 0M347.4 59.2a0.8 0.8 0 1 0 1.5 0a0.8 0.8 0 1 0 -1.5 0M347.6 56.3a0.8 0.8 0 1 0 1.5 0a0.8 0.8 0 1 0 -1.5 0M353.5 60.5a0.6 0.6 0 1 0 1.1 0a0.6 0.6 0 1 0 -1.1 0M352.0 45.8a0.8 0.8 0 1 0 1.5 0a0.8 0.8 0 1 0 -1.5 0M348.7 60.5a0.5 0.5 0 1 0 1.1 0a0.5 0.5 0 1 0 -1.1 0M353.2 53.7a0.5 0.5 0 1 0 1.1 0a0.5 0.5 0 1 0 -1.1 0M344.6 52.2a0.9 0.9 0 1 0 1.8 0a0.9 0.9 0 1 0 -1.8 0M362.4 45.1a0.7 0.7 0 1 0 1.4 0a0.7 0.7 0 1 0 -1.4 0M337.8 47.9a0.8 0.8 0 1 0 1.7 0a0.8 0.8 0 1 0 -1.7 0M378.6 61.7a0.6 0.6 0 1 0 1.2 0a0.6 0.6 0 1 0 -1.2 0M319.1 63.9a0.6 0.6 0 1 0 1.2 0a0.6 0.6 0 1 0 -1.2 0M356.6 54.4a0.8 0.8 0 1 0 1.5 0a0.8 0.8 0 1 0 -1.5 0M335.2 46.1a0.6 0.6 0 1 0 1.2 0a0.6 0.6 0 1 0 -1.2 0M350.4 57.8a0.5 0.5 0 1 0 1.1 0a0.5 0.5 0 1 0 -1.1 0M334.7 62.9a0.9 0.9 0 1 0 1.8 0a0.9 0.9 0 1 0 -1.8 0M338.2 52.4a0.8 0.8 0 1 0 1.6 0a0.8 0.8 0 1 0 -1.6 0M364.8 50.5a0.8 0.8 0 1 0 1.5 0a0.8 0.8 0 1 0 -1.5 0M357.7 48.1a0.8 0.8 0 1 0 1.6 0a0.8 0.8 0 1 0 -1.6 0M326.5 59.1a0.5 0.5 0 1 0 1.1 0a0.5 0.5 0 1 0 -1.1 0M321.6 63.9a0.7 0.7 0 1 0 1.4 0a0.7 0.7 0 1 0 -1.4 0M344.1 53.4a0.6 0.6 0 1 0 1.1 0a0.6 0.6 0 1 0 -1.1 0M342.8 68.8a0.7 0.7 0 1 0 1.4 0a0.7 0.7 0 1 0 -1.4 0M380.0 45.7a0.6 0.6 0 1 0 1.3 0a0.6 0.6 0 1 0 -1.3 0M370.6 54.3a0.6 0.6 0 1 0 1.3 0a0.6 0.6 0 1 0 -1.3 0M381.1 37.7a0.6 0.6 0 1 0 1.1 0a0.6 0.6 0 1 0 -1.1 0M324.0 62.3a0.7 0.7 0 1 0 1.3 0a0.7 0.7 0 1 0 -1.3 0M355.7 49.8a0.5 0.5 0 1 0 1.1 0a0.5 0.5 0 1 0 -1.1 0M342.1 63.8a0.9 0.9 0 1 0 1.7 0a0.9 0.9 0 1 0 -1.7 0M366.3 45.8a0.9 0.9 0 1 0 1.9 0a0.9 0.9 0 1 0 -1.9 0M359.9 46.5a0.6 0.6 0 1 0 1.2 0a0.6 0.6 0 1 0 -1.2 0M333.7 56.3a0.8 0.8 0 1 0 1.6 0a0.8 0.8 0 1 0 -1.6 0M367.4 42.5a0.6 0.6 0 1 0 1.2 0a0.6 0.6 0 1 0 -1.2 0M329.0 63.8a0.5 0.5 0 1 0 1.0 0a0.5 0.5 0 1 0 -1.0 0M346.6 59.4a0.8 0.8 0 1 0 1.5 0a0.8 0.8 0 1 0 -1.5 0M331.5 62.3a0.7 0.7 0 1 0 1.5 0a0.7 0.7 0 1 0 -1.5 0M342.5 46.0a0.9 0.9 0 1 0 1.7 0a0.9 0.9 0 1 0 -1.7 0M347.6 62.9a0.8 0.8 0 1 0 1.5 0a0.8 0.8 0 1 0 -1.5 0M343.6 52.4a0.7 0.7 0 1 0 1.4 0a0.7 0.7 0 1 0 -1.4 0M319.2 55.5a0.6 0.6 0 1 0 1.2 0a0.6 0.6 0 1 0 -1.2 0M368.1 53.8a0.5 0.5 0 1 0 1.0 0a0.5 0.5 0 1 0 -1.0 0M368.4 49.8a0.6 0.6 0 1 0 1.2 0a0.6 0.6 0 1 0 -1.2 0M346.0 66.7a0.5 0.5 0 1 0 1.0 0a0.5 0.5 0 1 0 -1.0 0M383.5 39.8a0.9 0.9 0 1 0 1.8 0a0.9 0.9 0 1 0 -1.8 0M340.4 64.3a0.7 0.7 0 1 0 1.5 0a0.7 0.7 0 1 0 -1.5 0M329.0 69.4a0.8 0.8 0 1 0 1.5 0a0.8 0.8 0 1 0 -1.5 0M350.2 47.5a0.9 0.9 0 1 0 1.8 0a0.9 0.9 0 1 0 -1.8 0M338.3 65.7a0.5 0.5 0 1 0 1.0 0a0.5 0.5 0 1 0 -1.0 0M339.8 44.4a0.8 0.8 0 1 0 1.6 0a0.8 0.8 0 1 0 -1.6 0M327.0 58.2a0.8 0.8 0 1 0 1.6 0a0.8 0.8 0 1 0 -1.6 0M332.4 62.3a0.6 0.6 0 1 0 1.3 0a0.6 0.6 0 1 0 -1.3 0M328.9 65.7a0.6 0.6 0 1 0 1.2 0a0.6 0.6 0 1 0 -1.2 0M327.5 68.1a0.6 0.6 0 1 0 1.2 0a0.6 0.6 0 1 0 -1.2 0M320.7 63.4a0.8 0.8 0 1 0 1.6 0a0.8 0.8 0 1 0 -1.6 0M352.8 52.7a0.9 0.9 0 1 0 1.8 0a0.9 0.9 0 1 0 -1.8 0M336.6 50.1a0.8 0.8 0 1 0 1.6 0a0.8 0.8 0 1 0 -1.6 0M375.1 56.7a0.8 0.8 0 1 0 1.5 0a0.8 0.8 0 1 0 -1.5 0M366.0 47.4a0.5 0.5 0 1 0 1.0 0a0.5 0.5 0 1 0 -1.0 0M360.7 49.6a0.5 0.5 0 1 0 1.0 0a0.5 0.5 0 1 0 -1.0 0M321.0 60.8a0.5 0.5 0 1 0 1.0 0a0.5 0.5 0 1 0 -1.0 0M354.2 53.5a0.9 0.9 0 1 0 1.9 0a0.9 0.9 0 1 0 -1.9 0M372.0 44.3a0.7 0.7 0 1 0 1.5 0a0.7 0.7 0 1 0 -1.5 0M372.0 50.9a0.6 0.6 0 1 0 1.1 0a0.6 0.6 0 1 0 -1.1 0M354.9 53.2a0.6 0.6 0 1 0 1.1 0a0.6 0.6 0 1 0 -1.1 0M355.3 47.5a0.6 0.6 0 1 0 1.2 0a0.6 0.6 0 1 0 -1.2 0M358.3 51.4a0.8 0.8 0 1 0 1.6 0a0.8 0.8 0 1 0 -1.6 0M362.6 42.2a0.5 0.5 0 1 0 1.1 0a0.5 0.5 0 1 0 -1.1 0M371.1 42.2a0.7 0.7 0 1 0 1.3 0a0.7 0.7 0 1 0 -1.3 0M317.9 61.4a0.7 0.7 0 1 0 1.3 0a0.7 0.7 0 1 0 -1.3 0M361.3 50.0a0.7 0.7 0 1 0 1.4 0a0.7 0.7 0 1 0 -1.4 0M334.5 61.6a0.6 0.6 0 1 0 1.2 0a0.6 0.6 0 1 0 -1.2 0M345.4 52.7a0.8 0.8 0 1 0 1.6 0a0.8 0.8 0 1 0 -1.6 0M327.5 51.4a0.9 0.9 0 1 0 1.7 0a0.9 0.9 0 1 0 -1.7 0M349.1 54.3a0.7 0.7 0 1 0 1.4 0a0.7 0.7 0 1 0 -1.4 0M330.2 53.7a0.9 0.9 0 1 0 1.8 0a0.9 0.9 0 1 0 -1.8 0M387.7 38.4a0.7 0.7 0 1 0 1.4 0a0.7 0.7 0 1 0 -1.4 0M342.6 50.8a0.6 0.6 0 1 0 1.3 0a0.6 0.6 0 1 0 -1.3 0M326.0 58.2a0.6 0.6 0 1 0 1.2 0a0.6 0.6 0 1 0 -1.2 0M371.8 46.2a0.9 0.9 0 1 0 1.8 0a0.9 0.9 0 1 0 -1.8 0M327.2 56.8a0.6 0.6 0 1 0 1.3 0a0.6 0.6 0 1 0 -1.3 0M328.4 61.5a0.6 0.6 0 1 0 1.2 0a0.6 0.6 0 1 0 -1.2 0M383.2 49.2a0.8 0.8 0 1 0 1.6 0a0.8 0.8 0 1 0 -1.6 0M365.7 46.6a0.5 0.5 0 1 0 1.1 0a0.5 0.5 0 1 0 -1.1 0M346.0 47.3a0.5 0.5 0 1 0 1.0 0a0.5 0.5 0 1 0 -1.0 0M357.9 46.7a0.8 0.8 0 1 0 1.5 0a0.8 0.8 0 1 0 -1.5 0M341.7 54.6a0.7 0.7 0 1 0 1.5 0a0.7 0.7 0 1 0 -1.5 0M361.7 56.7a0.9 0.9 0 1 0 1.8 0a0.9 0.9 0 1 0 -1.8 0M355.5 44.6a0.8 0.8 0 1 0 1.5 0a0.8 0.8 0 1 0 -1.5 0M346.8 44.7a0.7 0.7 0 1 0 1.4 0a0.7 0.7 0 1 0 -1.4 0M352.9 46.1a0.6 0.6 0 1 0 1.1 0a0.6 0.6 0 1 0 -1.1 0M321.7 56.7a0.5 0.5 0 1 0 1.0 0a0.5 0.5 0 1 0 -1.0 0M365.5 45.9a0.8 0.8 0 1 0 1.7 0a0.8 0.8 0 1 0 -1.7 0M336.5 55.4a0.5 0.5 0 1 0 1.1 0a0.5 0.5 0 1 0 -1.1 0M366.6 34.7a0.6 0.6 0 1 0 1.3 0a0.6 0.6 0 1 0 -1.3 0M332.6 63.5a0.7 0.7 0 1 0 1.3 0a0.7 0.7 0 1 0 -1.3 0M323.5 63.2a0.7 0.7 0 1 0 1.4 0a0.7 0.7 0 1 0 -1.4 0M358.1 58.3a0.7 0.7 0 1 0 1.4 0a0.7 0.7 0 1 0 -1.4 0M340.5 64.9a0.8 0.8 0 1 0 1.6 0a0.8 0.8 0 1 0 -1.6 0M390.0 55.4a0.9 0.9 0 1 0 1.8 0a0.9 0.9 0 1 0 -1.8 0M330.1 63.7a0.7 0.7 0 1 0 1.4 0a0.7 0.7 0 1 0 -1.4 0M368.7 46.1a0.9 0.9 0 1 0 1.7 0a0.9 0.9 0 1 0 -1.7 0M351.6 57.2a0.6 0.6 0 1 0 1.3 0a0.6 0.6 0 1 0 -1.3 0M322.4 63.0a0.8 0.8 0 1 0 1.5 0a0.8 0.8 0 1 0 -1.5 0M371.2 39.0a0.7 0.7 0 1 0 1.4 0a0.7 0.7 0 1 0 -1.4 0M375.8 34.0a0.6 0.6 0 1 0 1.3 0a0.6 0.6 0 1 0 -1.3 0M349.4 61.1a0.5 0.5 0 1 0 1.0 0a0.5 0.5 0 1 0 -1.0 0M308.9 62.4a0.8 0.8 0 1 0 1.5 0a0.8 0.8 0 1 0 -1.5 0M367.7 50.1a0.6 0.6 0 1 0 1.2 0a0.6 0.6 0 1 0 -1.2 0M313.6 61.4a0.5 0.5 0 1 0 1.0 0a0.5 0.5 0 1 0 -1.0 0M348.6 46.8a0.9 0.9 0 1 0 1.8 0a0.9 0.9 0 1 0 -1.8 0M369.2 48.7a0.8 0.8 0 1 0 1.7 0a0.8 0.8 0 1 0 -1.7 0M333.1 66.4a0.8 0.8 0 1 0 1.7 0a0.8 0.8 0 1 0 -1.7 0M374.7 48.5a0.8 0.8 0 1 0 1.7 0a0.8 0.8 0 1 0 -1.7 0M342.0 52.3a0.6 0.6 0 1 0 1.2 0a0.6 0.6 0 1 0 -1.2 0M378.6 39.7a0.7 0.7 0 1 0 1.3 0a0.7 0.7 0 1 0 -1.3 0M346.0 71.3a0.5 0.5 0 1 0 1.0 0a0.5 0.5 0 1 0 -1.0 0M373.0 56.2a0.7 0.7 0 1 0 1.4 0a0.7 0.7 0 1 0 -1.4 0M366.1 45.6a0.7 0.7 0 1 0 1.4 0a0.7 0.7 0 1 0 -1.4 0M344.1 51.5a0.7 0.7 0 1 0 1.4 0a0.7 0.7 0 1 0 -1.4 0M345.5 46.9a0.8 0.8 0 1 0 1.5 0a0.8 0.8 0 1 0 -1.5 0M362.6 47.5a0.8 0.8 0 1 0 1.6 0a0.8 0.8 0 1 0 -1.6 0M342.4 48.7a0.8 0.8 0 1 0 1.6 0a0.8 0.8 0 1 0 -1.6 0M364.5 49.8a0.8 0.8 0 1 0 1.5 0a0.8 0.8 0 1 0 -1.5 0M352.3 54.9a0.8 0.8 0 1 0 1.5 0a0.8 0.8 0 1 0 -1.5 0M354.3 57.1a0.8 0.8 0 1 0 1.7 0a0.8 0.8 0 1 0 -1.7 0M355.0 62.1a0.9 0.9 0 1 0 1.9 0a0.9 0.9 0 1 0 -1.9 0M346.0 52.8a0.7 0.7 0 1 0 1.4 0a0.7 0.7 0 1 0 -1.4 0M351.2 49.3a0.8 0.8 0 1 0 1.5 0a0.8 0.8 0 1 0 -1.5 0M345.9 47.4a0.9 0.9 0 1 0 1.9 0a0.9 0.9 0 1 0 -1.9 0M360.5 43.1a0.8 0.8 0 1 0 1.6 0a0.8 0.8 0 1 0 -1.6 0M326.7 61.2a0.6 0.6 0 1 0 1.1 0a0.6 0.6 0 1 0 -1.1 0M388.3 47.2a0.9 0.9 0 1 0 1.7 0a0.9 0.9 0 1 0 -1.7 0M357.6 46.2a0.6 0.6 0 1 0 1.2 0a0.6 0.6 0 1 0 -1.2 0M370.6 31.9a0.9 0.9 0 1 0 1.8 0a0.9 0.9 0 1 0 -1.8 0M375.9 33.9a0.8 0.8 0 1 0 1.6 0a0.8 0.8 0 1 0 -1.6 0M371.0 43.7a0.5 0.5 0 1 0 1.0 0a0.5 0.5 0 1 0 -1.0 0M318.7 59.7a0.5 0.5 0 1 0 1.0 0a0.5 0.5 0 1 0 -1.0 0M350.4 51.9a0.6 0.6 0 1 0 1.1 0a0.6 0.6 0 1 0 -1.1 0M380.4 52.8a0.6 0.6 0 1 0 1.3 0a0.6 0.6 0 1 0 -1.3 0M320.2 61.5a0.6 0.6 0 1 0 1.2 0a0.6 0.6 0 1 0 -1.2 0M350.8 38.2a0.6 0.6 0 1 0 1.3 0a0.6 0.6 0 1 0 -1.3 0M365.8 62.2a0.5 0.5 0 1 0 1.1 0a0.5 0.5 0 1 0 -1.1 0M367.9 53.0a0.6 0.6 0 1 0 1.2 0a0.6 0.6 0 1 0 -1.2 0M351.8 40.3a0.8 0.8 0 1 0 1.6 0a0.8 0.8 0 1 0 -1.6 0M384.6 50.1a0.6 0.6 0 1 0 1.2 0a0.6 0.6 0 1 0 -1.2 0M335.1 46.7a0.7 0.7 0 1 0 1.3 0a0.7 0.7 0 1 0 -1.3 0M372.7 46.4a0.7 0.7 0 1 0 1.4 0a0.7 0.7 0 1 0 -1.4 0M360.4 46.3a0.6 0.6 0 1 0 1.3 0a0.6 0.6 0 1 0 -1.3 0M366.1 48.4a0.7 0.7 0 1 0 1.4 0a0.7 0.7 0 1 0 -1.4 0M368.2 32.7a0.6 0.6 0 1 0 1.2 0a0.6 0.6 0 1 0 -1.2 0M371.3 45.2a0.9 0.9 0 1 0 1.8 0a0.9 0.9 0 1 0 -1.8 0M370.2 43.1a0.6 0.6 0 1 0 1.2 0a0.6 0.6 0 1 0 -1.2 0M366.8 55.4a0.5 0.5 0 1 0 1.1 0a0.5 0.5 0 1 0 -1.1 0M330.9 60.4a0.9 0.9 0 1 0 1.7 0a0.9 0.9 0 1 0 -1.7 0M338.8 54.1a0.9 0.9 0 1 0 1.8 0a0.9 0.9 0 1 0 -1.8 0M337.9 61.9a0.9 0.9 0 1 0 1.8 0a0.9 0.9 0 1 0 -1.8 0M371.0 32.0a0.5 0.5 0 1 0 1.1 0a0.5 0.5 0 1 0 -1.1 0M340.1 49.0a0.9 0.9 0 1 0 1.9 0a0.9 0.9 0 1 0 -1.9 0M322.1 56.1a0.9 0.9 0 1 0 1.8 0a0.9 0.9 0 1 0 -1.8 0M328.0 54.1a0.7 0.7 0 1 0 1.4 0a0.7 0.7 0 1 0 -1.4 0M311.3 67.6a0.7 0.7 0 1 0 1.4 0a0.7 0.7 0 1 0 -1.4 0M328.8 63.0a0.5 0.5 0 1 0 1.0 0a0.5 0.5 0 1 0 -1.0 0M333.5 59.8a0.9 0.9 0 1 0 1.7 0a0.9 0.9 0 1 0 -1.7 0M363.7 43.4a0.8 0.8 0 1 0 1.6 0a0.8 0.8 0 1 0 -1.6 0M319.1 70.5a0.8 0.8 0 1 0 1.6 0a0.8 0.8 0 1 0 -1.6 0M354.4 34.6a0.9 0.9 0 1 0 1.9 0a0.9 0.9 0 1 0 -1.9 0M367.8 35.3a0.9 0.9 0 1 0 1.8 0a0.9 0.9 0 1 0 -1.8 0M334.3 48.9a0.8 0.8 0 1 0 1.6 0a0.8 0.8 0 1 0 -1.6 0M340.7 46.4a0.5 0.5 0 1 0 1.1 0a0.5 0.5 0 1 0 -1.1 0M375.0 46.4a0.8 0.8 0 1 0 1.6 0a0.8 0.8 0 1 0 -1.6 0M343.2 67.1a0.8 0.8 0 1 0 1.7 0a0.8 0.8 0 1 0 -1.7 0M348.0 54.9a0.9 0.9 0 1 0 1.8 0a0.9 0.9 0 1 0 -1.8 0M353.9 34.8a0.5 0.5 0 1 0 1.0 0a0.5 0.5 0 1 0 -1.0 0M333.1 67.9a0.6 0.6 0 1 0 1.2 0a0.6 0.6 0 1 0 -1.2 0M374.4 53.0a0.9 0.9 0 1 0 1.8 0a0.9 0.9 0 1 0 -1.8 0M338.5 56.8a0.6 0.6 0 1 0 1.3 0a0.6 0.6 0 1 0 -1.3 0M350.8 55.3a0.7 0.7 0 1 0 1.5 0a0.7 0.7 0 1 0 -1.5 0M362.6 39.0a0.8 0.8 0 1 0 1.7 0a0.8 0.8 0 1 0 -1.7 0M376.5 47.3a0.8 0.8 0 1 0 1.5 0a0.8 0.8 0 1 0 -1.5 0M361.0 40.4a0.7 0.7 0 1 0 1.4 0a0.7 0.7 0 1 0 -1.4 0M335.5 56.4a0.8 0.8 0 1 0 1.6 0a0.8 0.8 0 1 0 -1.6 0M371.8 36.3a0.9 0.9 0 1 0 1.8 0a0.9 0.9 0 1 0 -1.8 0M326.9 58.0a0.8 0.8 0 1 0 1.7 0a0.8 0.8 0 1 0 -1.7 0M323.7 57.8a0.7 0.7 0 1 0 1.4 0a0.7 0.7 0 1 0 -1.4 0M387.8 54.6a0.8 0.8 0 1 0 1.6 0a0.8 0.8 0 1 0 -1.6 0M377.6 34.3a0.7 0.7 0 1 0 1.4 0a0.7 0.7 0 1 0 -1.4 0M376.5 51.2a0.6 0.6 0 1 0 1.1 0a0.6 0.6 0 1 0 -1.1 0M343.2 46.0a0.9 0.9 0 1 0 1.8 0a0.9 0.9 0 1 0 -1.8 0M376.6 38.2a0.8 0.8 0 1 0 1.6 0a0.8 0.8 0 1 0 -1.6 0M361.7 39.3a0.9 0.9 0 1 0 1.8 0a0.9 0.9 0 1 0 -1.8 0M366.1 58.9a0.8 0.8 0 1 0 1.5 0a0.8 0.8 0 1 0 -1.5 0M375.4 50.3a0.8 0.8 0 1 0 1.6 0a0.8 0.8 0 1 0 -1.6 0M348.8 47.5a0.5 0.5 0 1 0 1.1 0a0.5 0.5 0 1 0 -1.1 0M340.0 68.0a0.8 0.8 0 1 0 1.6 0a0.8 0.8 0 1 0 -1.6 0M320.1 61.8a0.5 0.5 0 1 0 1.1 0a0.5 0.5 0 1 0 -1.1 0M343.5 68.7a0.7 0.7 0 1 0 1.4 0a0.7 0.7 0 1 0 -1.4 0M329.1 65.2a0.7 0.7 0 1 0 1.3 0a0.7 0.7 0 1 0 -1.3 0M337.9 66.0a0.9 0.9 0 1 0 1.8 0a0.9 0.9 0 1 0 -1.8 0M323.8 58.7a0.9 0.9 0 1 0 1.7 0a0.9 0.9 0 1 0 -1.7 0M380.7 41.6a0.7 0.7 0 1 0 1.5 0a0.7 0.7 0 1 0 -1.5 0M315.6 63.9a0.8 0.8 0 1 0 1.6 0a0.8 0.8 0 1 0 -1.6 0M347.1 50.9a0.8 0.8 0 1 0 1.7 0a0.8 0.8 0 1 0 -1.7 0M350.5 44.3a0.7 0.7 0 1 0 1.4 0a0.7 0.7 0 1 0 -1.4 0M357.5 56.3a0.6 0.6 0 1 0 1.1 0a0.6 0.6 0 1 0 -1.1 0M356.4 43.5a0.7 0.7 0 1 0 1.4 0a0.7 0.7 0 1 0 -1.4 0M341.5 58.1a0.9 0.9 0 1 0 1.7 0a0.9 0.9 0 1 0 -1.7 0M358.0 30.3a0.8 0.8 0 1 0 1.5 0a0.8 0.8 0 1 0 -1.5 0M342.6 54.5a0.6 0.6 0 1 0 1.2 0a0.6 0.6 0 1 0 -1.2 0M388.0 52.5a0.8 0.8 0 1 0 1.6 0a0.8 0.8 0 1 0 -1.6 0M355.8 40.5a0.7 0.7 0 1 0 1.4 0a0.7 0.7 0 1 0 -1.4 0M317.7 56.3a0.5 0.5 0 1 0 1.1 0a0.5 0.5 0 1 0 -1.1 0M358.0 44.1a0.6 0.6 0 1 0 1.2 0a0.6 0.6 0 1 0 -1.2 0M337.5 54.0a0.5 0.5 0 1 0 1.1 0a0.5 0.5 0 1 0 -1.1 0M344.6 51.4a0.9 0.9 0 1 0 1.9 0a0.9 0.9 0 1 0 -1.9 0M342.8 63.0a0.9 0.9 0 1 0 1.9 0a0.9 0.9 0 1 0 -1.9 0M360.9 43.3a0.9 0.9 0 1 0 1.8 0a0.9 0.9 0 1 0 -1.8 0M371.2 39.7a0.7 0.7 0 1 0 1.3 0a0.7 0.7 0 1 0 -1.3 0M335.1 54.8a0.8 0.8 0 1 0 1.6 0a0.8 0.8 0 1 0 -1.6 0M315.7 58.4a0.6 0.6 0 1 0 1.2 0a0.6 0.6 0 1 0 -1.2 0M352.3 42.2a0.9 0.9 0 1 0 1.8 0a0.9 0.9 0 1 0 -1.8 0M379.3 35.7a0.9 0.9 0 1 0 1.8 0a0.9 0.9 0 1 0 -1.8 0M313.6 59.2a0.8 0.8 0 1 0 1.6 0a0.8 0.8 0 1 0 -1.6 0M313.1 62.9a0.7 0.7 0 1 0 1.5 0a0.7 0.7 0 1 0 -1.5 0M374.3 44.8a0.6 0.6 0 1 0 1.3 0a0.6 0.6 0 1 0 -1.3 0M378.9 33.4a0.8 0.8 0 1 0 1.7 0a0.8 0.8 0 1 0 -1.7 0M361.8 36.4a0.9 0.9 0 1 0 1.8 0a0.9 0.9 0 1 0 -1.8 0M361.2 50.2a0.8 0.8 0 1 0 1.6 0a0.8 0.8 0 1 0 -1.6 0M354.4 63.0a0.9 0.9 0 1 0 1.9 0a0.9 0.9 0 1 0 -1.9 0M342.5 55.4a0.9 0.9 0 1 0 1.8 0a0.9 0.9 0 1 0 -1.8 0M381.2 56.0a0.7 0.7 0 1 0 1.3 0a0.7 0.7 0 1 0 -1.3 0M370.6 53.7a0.8 0.8 0 1 0 1.7 0a0.8 0.8 0 1 0 -1.7 0M348.4 50.2a0.8 0.8 0 1 0 1.7 0a0.8 0.8 0 1 0 -1.7 0M356.9 41.8a0.7 0.7 0 1 0 1.4 0a0.7 0.7 0 1 0 -1.4 0M352.9 54.6a0.8 0.8 0 1 0 1.7 0a0.8 0.8 0 1 0 -1.7 0M324.3 61.6a0.8 0.8 0 1 0 1.6 0a0.8 0.8 0 1 0 -1.6 0M379.8 54.6a0.8 0.8 0 1 0 1.5 0a0.8 0.8 0 1 0 -1.5 0M360.6 51.8a0.7 0.7 0 1 0 1.5 0a0.7 0.7 0 1 0 -1.5 0M311.5 61.8a0.6 0.6 0 1 0 1.2 0a0.6 0.6 0 1 0 -1.2 0M363.5 41.9a0.9 0.9 0 1 0 1.8 0a0.9 0.9 0 1 0 -1.8 0M352.4 51.3a0.7 0.7 0 1 0 1.4 0a0.7 0.7 0 1 0 -1.4 0M354.7 58.0a0.8 0.8 0 1 0 1.6 0a0.8 0.8 0 1 0 -1.6 0M335.8 51.1a0.5 0.5 0 1 0 1.0 0a0.5 0.5 0 1 0 -1.0 0M336.2 59.8a0.8 0.8 0 1 0 1.6 0a0.8 0.8 0 1 0 -1.6 0M308.3 62.8a0.7 0.7 0 1 0 1.3 0a0.7 0.7 0 1 0 -1.3 0M371.8 31.9a0.9 0.9 0 1 0 1.8 0a0.9 0.9 0 1 0 -1.8 0M331.7 44.9a0.6 0.6 0 1 0 1.3 0a0.6 0.6 0 1 0 -1.3 0M316.3 66.4a0.9 0.9 0 1 0 1.8 0a0.9 0.9 0 1 0 -1.8 0M347.2 39.4a0.7 0.7 0 1 0 1.4 0a0.7 0.7 0 1 0 -1.4 0M360.8 48.2a0.8 0.8 0 1 0 1.7 0a0.8 0.8 0 1 0 -1.7 0M368.8 45.8a0.9 0.9 0 1 0 1.8 0a0.9 0.9 0 1 0 -1.8 0M308.3 60.6a0.9 0.9 0 1 0 1.9 0a0.9 0.9 0 1 0 -1.9 0M343.9 61.9a0.8 0.8 0 1 0 1.7 0a0.8 0.8 0 1 0 -1.7 0M344.3 47.5a0.6 0.6 0 1 0 1.2 0a0.6 0.6 0 1 0 -1.2 0M375.3 52.6a0.6 0.6 0 1 0 1.2 0a0.6 0.6 0 1 0 -1.2 0M346.8 40.7a0.6 0.6 0 1 0 1.3 0a0.6 0.6 0 1 0 -1.3 0M359.5 54.0a0.8 0.8 0 1 0 1.7 0a0.8 0.8 0 1 0 -1.7 0M345.4 66.3a0.7 0.7 0 1 0 1.4 0a0.7 0.7 0 1 0 -1.4 0M352.9 41.8a0.7 0.7 0 1 0 1.4 0a0.7 0.7 0 1 0 -1.4 0M343.9 62.3a0.7 0.7 0 1 0 1.3 0a0.7 0.7 0 1 0 -1.3 0M377.2 41.8a0.6 0.6 0 1 0 1.3 0a0.6 0.6 0 1 0 -1.3 0M343.9 63.7a0.6 0.6 0 1 0 1.3 0a0.6 0.6 0 1 0 -1.3 0M368.0 55.5a0.7 0.7 0 1 0 1.4 0a0.7 0.7 0 1 0 -1.4 0M375.4 39.1a0.9 0.9 0 1 0 1.7 0a0.9 0.9 0 1 0 -1.7 0M326.1 63.7a0.7 0.7 0 1 0 1.4 0a0.7 0.7 0 1 0 -1.4 0M387.8 38.6a0.9 0.9 0 1 0 1.8 0a0.9 0.9 0 1 0 -1.8 0M324.1 59.1a0.8 0.8 0 1 0 1.7 0a0.8 0.8 0 1 0 -1.7 0M347.6 66.7a0.8 0.8 0 1 0 1.7 0a0.8 0.8 0 1 0 -1.7 0M345.5 37.8a0.6 0.6 0 1 0 1.2 0a0.6 0.6 0 1 0 -1.2 0M346.5 57.4a0.7 0.7 0 1 0 1.4 0a0.7 0.7 0 1 0 -1.4 0M349.9 38.2a0.9 0.9 0 1 0 1.9 0a0.9 0.9 0 1 0 -1.9 0M316.0 67.9a0.8 0.8 0 1 0 1.6 0a0.8 0.8 0 1 0 -1.6 0M354.2 59.5a0.5 0.5 0 1 0 1.1 0a0.5 0.5 0 1 0 -1.1 0M389.7 40.1a0.7 0.7 0 1 0 1.4 0a0.7 0.7 0 1 0 -1.4 0M310.9 62.7a0.8 0.8 0 1 0 1.7 0a0.8 0.8 0 1 0 -1.7 0M356.6 47.9a0.7 0.7 0 1 0 1.5 0a0.7 0.7 0 1 0 -1.5 0M332.7 60.9a0.6 0.6 0 1 0 1.1 0a0.6 0.6 0 1 0 -1.1 0M356.8 41.4a0.6 0.6 0 1 0 1.2 0a0.6 0.6 0 1 0 -1.2 0M382.9 47.2a0.6 0.6 0 1 0 1.2 0a0.6 0.6 0 1 0 -1.2 0M321.7 70.9a0.9 0.9 0 1 0 1.7 0a0.9 0.9 0 1 0 -1.7 0M352.2 69.1a0.9 0.9 0 1 0 1.9 0a0.9 0.9 0 1 0 -1.9 0M322.0 63.4a0.5 0.5 0 1 0 1.1 0a0.5 0.5 0 1 0 -1.1 0M304.9 66.6a0.9 0.9 0 1 0 1.7 0a0.9 0.9 0 1 0 -1.7 0M336.1 55.5a0.9 0.9 0 1 0 1.9 0a0.9 0.9 0 1 0 -1.9 0M383.7 39.6a0.8 0.8 0 1 0 1.7 0a0.8 0.8 0 1 0 -1.7 0M350.6 50.3a0.9 0.9 0 1 0 1.9 0a0.9 0.9 0 1 0 -1.9 0M360.1 38.0a0.8 0.8 0 1 0 1.7 0a0.8 0.8 0 1 0 -1.7 0M320.9 68.7a0.9 0.9 0 1 0 1.8 0a0.9 0.9 0 1 0 -1.8 0M372.0 49.3a0.7 0.7 0 1 0 1.5 0a0.7 0.7 0 1 0 -1.5 0M365.1 46.9a0.6 0.6 0 1 0 1.1 0a0.6 0.6 0 1 0 -1.1 0M368.2 40.3a0.8 0.8 0 1 0 1.7 0a0.8 0.8 0 1 0 -1.7 0M363.3 38.6a0.9 0.9 0 1 0 1.8 0a0.9 0.9 0 1 0 -1.8 0M346.3 54.9a0.7 0.7 0 1 0 1.3 0a0.7 0.7 0 1 0 -1.3 0M332.3 64.2a0.6 0.6 0 1 0 1.2 0a0.6 0.6 0 1 0 -1.2 0M334.6 64.9a0.6 0.6 0 1 0 1.1 0a0.6 0.6 0 1 0 -1.1 0M314.5 59.1a0.7 0.7 0 1 0 1.3 0a0.7 0.7 0 1 0 -1.3 0M326.4 60.0a0.7 0.7 0 1 0 1.4 0a0.7 0.7 0 1 0 -1.4 0M323.8 64.3a0.6 0.6 0 1 0 1.1 0a0.6 0.6 0 1 0 -1.1 0M386.0 39.8a0.9 0.9 0 1 0 1.9 0a0.9 0.9 0 1 0 -1.9 0M320.8 60.5a0.7 0.7 0 1 0 1.5 0a0.7 0.7 0 1 0 -1.5 0M350.0 51.9a0.9 0.9 0 1 0 1.7 0a0.9 0.9 0 1 0 -1.7 0M324.7 61.9a0.9 0.9 0 1 0 1.7 0a0.9 0.9 0 1 0 -1.7 0M353.7 52.3a0.6 0.6 0 1 0 1.1 0a0.6 0.6 0 1 0 -1.1 0M389.7 37.2a0.5 0.5 0 1 0 1.1 0a0.5 0.5 0 1 0 -1.1 0M383.9 51.2a0.7 0.7 0 1 0 1.4 0a0.7 0.7 0 1 0 -1.4 0M363.2 48.6a0.8 0.8 0 1 0 1.6 0a0.8 0.8 0 1 0 -1.6 0M367.2 60.6a0.6 0.6 0 1 0 1.2 0a0.6 0.6 0 1 0 -1.2 0M332.5 61.0a0.9 0.9 0 1 0 1.9 0a0.9 0.9 0 1 0 -1.9 0M361.2 61.0a0.5 0.5 0 1 0 1.0 0a0.5 0.5 0 1 0 -1.0 0M332.6 50.9a0.8 0.8 0 1 0 1.6 0a0.8 0.8 0 1 0 -1.6 0M377.1 35.5a0.9 0.9 0 1 0 1.8 0a0.9 0.9 0 1 0 -1.8 0M326.8 59.6a0.5 0.5 0 1 0 1.1 0a0.5 0.5 0 1 0 -1.1 0M362.0 58.1a0.9 0.9 0 1 0 1.9 0a0.9 0.9 0 1 0 -1.9 0M318.0 63.4a0.9 0.9 0 1 0 1.8 0a0.9 0.9 0 1 0 -1.8 0M373.5 43.2a0.7 0.7 0 1 0 1.4 0a0.7 0.7 0 1 0 -1.4 0M378.0 45.7a0.9 0.9 0 1 0 1.8 0a0.9 0.9 0 1 0 -1.8 0M348.2 41.3a0.7 0.7 0 1 0 1.3 0a0.7 0.7 0 1 0 -1.3 0M362.5 55.9a0.6 0.6 0 1 0 1.2 0a0.6 0.6 0 1 0 -1.2 0M346.2 45.9a0.9 0.9 0 1 0 1.9 0a0.9 0.9 0 1 0 -1.9 0M344.3 60.3a0.6 0.6 0 1 0 1.1 0a0.6 0.6 0 1 0 -1.1 0M327.9 60.5a0.8 0.8 0 1 0 1.7 0a0.8 0.8 0 1 0 -1.7 0M350.6 41.1a0.5 0.5 0 1 0 1.1 0a0.5 0.5 0 1 0 -1.1 0M369.5 40.4a0.7 0.7 0 1 0 1.5 0a0.7 0.7 0 1 0 -1.5 0M379.7 44.8a0.8 0.8 0 1 0 1.6 0a0.8 0.8 0 1 0 -1.6 0M367.6 64.0a0.7 0.7 0 1 0 1.5 0a0.7 0.7 0 1 0 -1.5 0M366.1 40.0a0.9 0.9 0 1 0 1.8 0a0.9 0.9 0 1 0 -1.8 0M369.2 50.8a0.7 0.7 0 1 0 1.5 0a0.7 0.7 0 1 0 -1.5 0M328.3 56.8a0.9 0.9 0 1 0 1.8 0a0.9 0.9 0 1 0 -1.8 0M365.9 41.2a0.8 0.8 0 1 0 1.6 0a0.8 0.8 0 1 0 -1.6 0M349.6 54.4a0.8 0.8 0 1 0 1.6 0a0.8 0.8 0 1 0 -1.6 0M363.7 50.2a0.7 0.7 0 1 0 1.4 0a0.7 0.7 0 1 0 -1.4 0M337.9 49.9a0.9 0.9 0 1 0 1.7 0a0.9 0.9 0 1 0 -1.7 0M364.3 59.2a0.6 0.6 0 1 0 1.3 0a0.6 0.6 0 1 0 -1.3 0M356.5 52.2a0.6 0.6 0 1 0 1.3 0a0.6 0.6 0 1 0 -1.3 0M364.1 32.3a0.7 0.7 0 1 0 1.4 0a0.7 0.7 0 1 0 -1.4 0M351.3 39.7a0.6 0.6 0 1 0 1.3 0a0.6 0.6 0 1 0 -1.3 0M342.7 64.2a0.6 0.6 0 1 0 1.3 0a0.6 0.6 0 1 0 -1.3 0M372.6 49.0a0.8 0.8 0 1 0 1.5 0a0.8 0.8 0 1 0 -1.5 0M362.7 36.6a0.5 0.5 0 1 0 1.1 0a0.5 0.5 0 1 0 -1.1 0M325.2 55.1a0.6 0.6 0 1 0 1.3 0a0.6 0.6 0 1 0 -1.3 0M351.7 36.0a0.5 0.5 0 1 0 1.1 0a0.5 0.5 0 1 0 -1.1 0M344.8 52.3a0.7 0.7 0 1 0 1.5 0a0.7 0.7 0 1 0 -1.5 0M360.1 35.9a0.7 0.7 0 1 0 1.3 0a0.7 0.7 0 1 0 -1.3 0M367.7 28.1a0.6 0.6 0 1 0 1.1 0a0.6 0.6 0 1 0 -1.1 0M353.8 59.4a0.8 0.8 0 1 0 1.5 0a0.8 0.8 0 1 0 -1.5 0M317.3 66.5a0.5 0.5 0 1 0 1.1 0a0.5 0.5 0 1 0 -1.1 0M328.2 60.1a0.8 0.8 0 1 0 1.5 0a0.8 0.8 0 1 0 -1.5 0M337.8 59.2a0.9 0.9 0 1 0 1.8 0a0.9 0.9 0 1 0 -1.8 0M345.3 53.8a0.6 0.6 0 1 0 1.2 0a0.6 0.6 0 1 0 -1.2 0M360.2 52.8a0.7 0.7 0 1 0 1.5 0a0.7 0.7 0 1 0 -1.5 0M321.8 60.4a0.9 0.9 0 1 0 1.7 0a0.9 0.9 0 1 0 -1.7 0M369.1 36.2a0.5 0.5 0 1 0 1.0 0a0.5 0.5 0 1 0 -1.0 0M361.4 48.5a0.9 0.9 0 1 0 1.8 0a0.9 0.9 0 1 0 -1.8 0M350.3 48.6a0.5 0.5 0 1 0 1.1 0a0.5 0.5 0 1 0 -1.1 0M361.0 49.4a0.7 0.7 0 1 0 1.5 0a0.7 0.7 0 1 0 -1.5 0M359.7 41.8a0.7 0.7 0 1 0 1.4 0a0.7 0.7 0 1 0 -1.4 0M373.2 53.3a0.6 0.6 0 1 0 1.3 0a0.6 0.6 0 1 0 -1.3 0M332.8 63.6a0.8 0.8 0 1 0 1.7 0a0.8 0.8 0 1 0 -1.7 0M350.7 48.0a0.7 0.7 0 1 0 1.4 0a0.7 0.7 0 1 0 -1.4 0M379.1 62.1a0.6 0.6 0 1 0 1.2 0a0.6 0.6 0 1 0 -1.2 0M349.7 56.1a0.8 0.8 0 1 0 1.7 0a0.8 0.8 0 1 0 -1.7 0M341.9 46.9a0.5 0.5 0 1 0 1.0 0a0.5 0.5 0 1 0 -1.0 0M339.5 60.7a0.5 0.5 0 1 0 1.0 0a0.5 0.5 0 1 0 -1.0 0M350.2 38.7a0.8 0.8 0 1 0 1.7 0a0.8 0.8 0 1 0 -1.7 0M371.9 45.1a0.8 0.8 0 1 0 1.5 0a0.8 0.8 0 1 0 -1.5 0M366.4 39.0a0.5 0.5 0 1 0 1.1 0a0.5 0.5 0 1 0 -1.1 0M372.8 50.6a0.8 0.8 0 1 0 1.7 0a0.8 0.8 0 1 0 -1.7 0M342.4 54.5a0.5 0.5 0 1 0 1.0 0a0.5 0.5 0 1 0 -1.0 0M340.8 55.9a0.8 0.8 0 1 0 1.7 0a0.8 0.8 0 1 0 -1.7 0M380.8 59.7a0.9 0.9 0 1 0 1.8 0a0.9 0.9 0 1 0 -1.8 0M356.3 38.0a0.6 0.6 0 1 0 1.2 0a0.6 0.6 0 1 0 -1.2 0M355.2 48.3a0.7 0.7 0 1 0 1.5 0a0.7 0.7 0 1 0 -1.5 0M339.2 52.8a0.8 0.8 0 1 0 1.7 0a0.8 0.8 0 1 0 -1.7 0M361.0 40.3a0.9 0.9 0 1 0 1.8 0a0.9 0.9 0 1 0 -1.8 0M347.9 59.1a0.8 0.8 0 1 0 1.7 0a0.8 0.8 0 1 0 -1.7 0M307.8 69.1a0.9 0.9 0 1 0 1.9 0a0.9 0.9 0 1 0 -1.9 0M338.2 67.2a0.5 0.5 0 1 0 1.0 0a0.5 0.5 0 1 0 -1.0 0M366.6 51.7a0.8 0.8 0 1 0 1.6 0a0.8 0.8 0 1 0 -1.6 0M356.0 51.9a0.8 0.8 0 1 0 1.5 0a0.8 0.8 0 1 0 -1.5 0M347.5 60.3a0.9 0.9 0 1 0 1.8 0a0.9 0.9 0 1 0 -1.8 0M347.6 49.3a0.6 0.6 0 1 0 1.2 0a0.6 0.6 0 1 0 -1.2 0M342.2 65.6a0.5 0.5 0 1 0 1.0 0a0.5 0.5 0 1 0 -1.0 0M365.1 47.3a0.6 0.6 0 1 0 1.2 0a0.6 0.6 0 1 0 -1.2 0M376.0 47.6a0.7 0.7 0 1 0 1.5 0a0.7 0.7 0 1 0 -1.5 0M357.4 50.3a0.9 0.9 0 1 0 1.8 0a0.9 0.9 0 1 0 -1.8 0M328.6 53.7a0.6 0.6 0 1 0 1.1 0a0.6 0.6 0 1 0 -1.1 0M333.7 51.1a0.9 0.9 0 1 0 1.8 0a0.9 0.9 0 1 0 -1.8 0M326.5 61.0a0.5 0.5 0 1 0 1.1 0a0.5 0.5 0 1 0 -1.1 0M330.7 69.1a0.9 0.9 0 1 0 1.8 0a0.9 0.9 0 1 0 -1.8 0M381.4 48.9a0.9 0.9 0 1 0 1.8 0a0.9 0.9 0 1 0 -1.8 0M370.5 49.1a0.9 0.9 0 1 0 1.8 0a0.9 0.9 0 1 0 -1.8 0M343.5 58.7a0.7 0.7 0 1 0 1.4 0a0.7 0.7 0 1 0 -1.4 0M360.2 41.1a0.7 0.7 0 1 0 1.4 0a0.7 0.7 0 1 0 -1.4 0M311.3 64.1a0.9 0.9 0 1 0 1.8 0a0.9 0.9 0 1 0 -1.8 0M368.5 48.6a0.5 0.5 0 1 0 1.1 0a0.5 0.5 0 1 0 -1.1 0M358.7 46.7a0.8 0.8 0 1 0 1.6 0a0.8 0.8 0 1 0 -1.6 0M355.0 31.8a0.6 0.6 0 1 0 1.2 0a0.6 0.6 0 1 0 -1.2 0M348.6 49.1a0.8 0.8 0 1 0 1.5 0a0.8 0.8 0 1 0 -1.5 0M363.6 43.2a0.9 0.9 0 1 0 1.8 0a0.9 0.9 0 1 0 -1.8 0M377.4 43.6a0.7 0.7 0 1 0 1.4 0a0.7 0.7 0 1 0 -1.4 0M353.4 46.3a0.6 0.6 0 1 0 1.3 0a0.6 0.6 0 1 0 -1.3 0M344.2 58.1a0.6 0.6 0 1 0 1.2 0a0.6 0.6 0 1 0 -1.2 0M330.1 58.4a0.6 0.6 0 1 0 1.2 0a0.6 0.6 0 1 0 -1.2 0M324.9 52.9a0.9 0.9 0 1 0 1.8 0a0.9 0.9 0 1 0 -1.8 0M354.2 58.5a0.8 0.8 0 1 0 1.6 0a0.8 0.8 0 1 0 -1.6 0M321.8 62.7a0.6 0.6 0 1 0 1.2 0a0.6 0.6 0 1 0 -1.2 0M370.1 47.6a0.8 0.8 0 1 0 1.7 0a0.8 0.8 0 1 0 -1.7 0M367.5 42.4a0.9 0.9 0 1 0 1.7 0a0.9 0.9 0 1 0 -1.7 0M352.3 54.8a0.5 0.5 0 1 0 1.0 0a0.5 0.5 0 1 0 -1.0 0M333.5 47.8a0.8 0.8 0 1 0 1.5 0a0.8 0.8 0 1 0 -1.5 0M331.8 60.8a0.6 0.6 0 1 0 1.2 0a0.6 0.6 0 1 0 -1.2 0M345.1 69.2a0.9 0.9 0 1 0 1.9 0a0.9 0.9 0 1 0 -1.9 0M345.0 45.5a0.7 0.7 0 1 0 1.4 0a0.7 0.7 0 1 0 -1.4 0M335.1 58.3a0.7 0.7 0 1 0 1.4 0a0.7 0.7 0 1 0 -1.4 0M334.6 64.2a0.6 0.6 0 1 0 1.3 0a0.6 0.6 0 1 0 -1.3 0M343.9 53.6a0.6 0.6 0 1 0 1.1 0a0.6 0.6 0 1 0 -1.1 0M350.8 61.7a0.7 0.7 0 1 0 1.4 0a0.7 0.7 0 1 0 -1.4 0M333.7 52.5a0.5 0.5 0 1 0 1.0 0a0.5 0.5 0 1 0 -1.0 0M337.5 47.4a0.6 0.6 0 1 0 1.2 0a0.6 0.6 0 1 0 -1.2 0M380.0 48.3a0.5 0.5 0 1 0 1.1 0a0.5 0.5 0 1 0 -1.1 0M380.3 43.9a0.7 0.7 0 1 0 1.5 0a0.7 0.7 0 1 0 -1.5 0M357.8 40.0a0.9 0.9 0 1 0 1.8 0a0.9 0.9 0 1 0 -1.8 0M363.0 45.5a0.7 0.7 0 1 0 1.3 0a0.7 0.7 0 1 0 -1.3 0M354.4 49.9a0.6 0.6 0 1 0 1.2 0a0.6 0.6 0 1 0 -1.2 0M368.2 45.6a0.8 0.8 0 1 0 1.6 0a0.8 0.8 0 1 0 -1.6 0M366.0 51.6a0.8 0.8 0 1 0 1.5 0a0.8 0.8 0 1 0 -1.5 0M341.1 61.7a0.5 0.5 0 1 0 1.1 0a0.5 0.5 0 1 0 -1.1 0M316.2 62.0a0.8 0.8 0 1 0 1.5 0a0.8 0.8 0 1 0 -1.5 0M337.9 68.8a0.9 0.9 0 1 0 1.8 0a0.9 0.9 0 1 0 -1.8 0M376.9 53.2a0.5 0.5 0 1 0 1.0 0a0.5 0.5 0 1 0 -1.0 0M354.7 52.9a0.9 0.9 0 1 0 1.9 0a0.9 0.9 0 1 0 -1.9 0M345.2 47.9a0.6 0.6 0 1 0 1.2 0a0.6 0.6 0 1 0 -1.2 0M351.3 68.1a0.7 0.7 0 1 0 1.5 0a0.7 0.7 0 1 0 -1.5 0M312.9 63.6a0.7 0.7 0 1 0 1.4 0a0.7 0.7 0 1 0 -1.4 0M315.1 60.7a0.9 0.9 0 1 0 1.7 0a0.9 0.9 0 1 0 -1.7 0M360.8 33.2a0.5 0.5 0 1 0 1.0 0a0.5 0.5 0 1 0 -1.0 0M341.0 52.8a0.8 0.8 0 1 0 1.6 0a0.8 0.8 0 1 0 -1.6 0M345.6 65.1a0.6 0.6 0 1 0 1.2 0a0.6 0.6 0 1 0 -1.2 0M360.0 51.7a0.9 0.9 0 1 0 1.9 0a0.9 0.9 0 1 0 -1.9 0M329.7 62.1a0.8 0.8 0 1 0 1.6 0a0.8 0.8 0 1 0 -1.6 0M333.6 48.7a0.7 0.7 0 1 0 1.4 0a0.7 0.7 0 1 0 -1.4 0M367.6 41.3a0.9 0.9 0 1 0 1.7 0a0.9 0.9 0 1 0 -1.7 0M358.7 52.1a0.8 0.8 0 1 0 1.6 0a0.8 0.8 0 1 0 -1.6 0M364.6 42.2a0.7 0.7 0 1 0 1.5 0a0.7 0.7 0 1 0 -1.5 0M320.9 66.5a0.7 0.7 0 1 0 1.3 0a0.7 0.7 0 1 0 -1.3 0M374.4 39.5a0.8 0.8 0 1 0 1.5 0a0.8 0.8 0 1 0 -1.5 0M360.6 54.7a0.6 0.6 0 1 0 1.3 0a0.6 0.6 0 1 0 -1.3 0M346.0 38.4a0.6 0.6 0 1 0 1.2 0a0.6 0.6 0 1 0 -1.2 0M317.9 64.3a0.5 0.5 0 1 0 1.1 0a0.5 0.5 0 1 0 -1.1 0M338.8 58.3a0.9 0.9 0 1 0 1.7 0a0.9 0.9 0 1 0 -1.7 0M324.4 68.2a0.9 0.9 0 1 0 1.8 0a0.9 0.9 0 1 0 -1.8 0M336.2 64.1a0.9 0.9 0 1 0 1.8 0a0.9 0.9 0 1 0 -1.8 0M347.8 46.5a0.7 0.7 0 1 0 1.4 0a0.7 0.7 0 1 0 -1.4 0M325.3 60.4a0.6 0.6 0 1 0 1.1 0a0.6 0.6 0 1 0 -1.1 0M355.5 35.6a0.6 0.6 0 1 0 1.2 0a0.6 0.6 0 1 0 -1.2 0M370.7 40.3a0.7 0.7 0 1 0 1.4 0a0.7 0.7 0 1 0 -1.4 0M369.0 54.2a0.6 0.6 0 1 0 1.3 0a0.6 0.6 0 1 0 -1.3 0M353.6 49.4a0.7 0.7 0 1 0 1.5 0a0.7 0.7 0 1 0 -1.5 0M354.2 46.6a0.6 0.6 0 1 0 1.2 0a0.6 0.6 0 1 0 -1.2 0M370.8 50.6a0.5 0.5 0 1 0 1.1 0a0.5 0.5 0 1 0 -1.1 0M322.3 64.8a0.8 0.8 0 1 0 1.6 0a0.8 0.8 0 1 0 -1.6 0M355.6 38.6a0.9 0.9 0 1 0 1.7 0a0.9 0.9 0 1 0 -1.7 0M352.5 38.5a0.6 0.6 0 1 0 1.1 0a0.6 0.6 0 1 0 -1.1 0M355.5 40.5a0.6 0.6 0 1 0 1.2 0a0.6 0.6 0 1 0 -1.2 0M338.3 51.4a0.8 0.8 0 1 0 1.5 0a0.8 0.8 0 1 0 -1.5 0M374.0 46.5a0.8 0.8 0 1 0 1.6 0a0.8 0.8 0 1 0 -1.6 0M346.3 53.1a0.7 0.7 0 1 0 1.5 0a0.7 0.7 0 1 0 -1.5 0M340.2 65.7a0.6 0.6 0 1 0 1.2 0a0.6 0.6 0 1 0 -1.2 0M381.1 47.1a0.8 0.8 0 1 0 1.5 0a0.8 0.8 0 1 0 -1.5 0M390.5 45.3a0.6 0.6 0 1 0 1.1 0a0.6 0.6 0 1 0 -1.1 0M342.6 58.9a0.8 0.8 0 1 0 1.5 0a0.8 0.8 0 1 0 -1.5 0M374.9 46.2a0.7 0.7 0 1 0 1.4 0a0.7 0.7 0 1 0 -1.4 0M334.9 63.8a0.9 0.9 0 1 0 1.9 0a0.9 0.9 0 1 0 -1.9 0M381.8 43.9a0.9 0.9 0 1 0 1.7 0a0.9 0.9 0 1 0 -1.7 0M365.6 48.6a0.9 0.9 0 1 0 1.7 0a0.9 0.9 0 1 0 -1.7 0M323.2 66.4a0.7 0.7 0 1 0 1.5 0a0.7 0.7 0 1 0 -1.5 0M353.5 55.0a0.6 0.6 0 1 0 1.2 0a0.6 0.6 0 1 0 -1.2 0M323.5 65.8a0.6 0.6 0 1 0 1.2 0a0.6 0.6 0 1 0 -1.2 0M364.7 46.0a0.6 0.6 0 1 0 1.1 0a0.6 0.6 0 1 0 -1.1 0M308.6 58.7a0.8 0.8 0 1 0 1.6 0a0.8 0.8 0 1 0 -1.6 0M340.9 60.6a0.6 0.6 0 1 0 1.1 0a0.6 0.6 0 1 0 -1.1 0M377.1 51.3a0.8 0.8 0 1 0 1.5 0a0.8 0.8 0 1 0 -1.5 0M338.0 55.7a0.7 0.7 0 1 0 1.5 0a0.7 0.7 0 1 0 -1.5 0M332.8 56.1a0.7 0.7 0 1 0 1.3 0a0.7 0.7 0 1 0 -1.3 0M352.1 50.0a0.9 0.9 0 1 0 1.8 0a0.9 0.9 0 1 0 -1.8 0M368.1 34.9a0.9 0.9 0 1 0 1.9 0a0.9 0.9 0 1 0 -1.9 0M332.8 56.7a0.7 0.7 0 1 0 1.4 0a0.7 0.7 0 1 0 -1.4 0M345.6 53.0a0.7 0.7 0 1 0 1.4 0a0.7 0.7 0 1 0 -1.4 0M350.8 59.1a0.7 0.7 0 1 0 1.5 0a0.7 0.7 0 1 0 -1.5 0M350.6 50.1a0.5 0.5 0 1 0 1.1 0a0.5 0.5 0 1 0 -1.1 0M343.6 54.9a0.9 0.9 0 1 0 1.7 0a0.9 0.9 0 1 0 -1.7 0M341.9 57.7a0.5 0.5 0 1 0 1.1 0a0.5 0.5 0 1 0 -1.1 0M364.1 39.5a0.8 0.8 0 1 0 1.7 0a0.8 0.8 0 1 0 -1.7 0M380.5 54.7a0.6 0.6 0 1 0 1.3 0a0.6 0.6 0 1 0 -1.3 0M369.2 29.8a0.6 0.6 0 1 0 1.2 0a0.6 0.6 0 1 0 -1.2 0M392.3 45.4a0.9 0.9 0 1 0 1.9 0a0.9 0.9 0 1 0 -1.9 0M356.3 36.2a0.9 0.9 0 1 0 1.7 0a0.9 0.9 0 1 0 -1.7 0M343.0 66.6a0.8 0.8 0 1 0 1.6 0a0.8 0.8 0 1 0 -1.6 0M378.7 39.3a0.6 0.6 0 1 0 1.3 0a0.6 0.6 0 1 0 -1.3 0M381.8 55.2a0.9 0.9 0 1 0 1.8 0a0.9 0.9 0 1 0 -1.8 0M335.5 69.6a0.9 0.9 0 1 0 1.9 0a0.9 0.9 0 1 0 -1.9 0M366.8 43.1a0.9 0.9 0 1 0 1.7 0a0.9 0.9 0 1 0 -1.7 0M336.7 63.0a0.5 0.5 0 1 0 1.0 0a0.5 0.5 0 1 0 -1.0 0M368.4 55.9a0.7 0.7 0 1 0 1.5 0a0.7 0.7 0 1 0 -1.5 0M322.8 59.1a0.6 0.6 0 1 0 1.3 0a0.6 0.6 0 1 0 -1.3 0M342.9 60.7a0.9 0.9 0 1 0 1.8 0a0.9 0.9 0 1 0 -1.8 0M343.7 64.8a0.7 0.7 0 1 0 1.4 0a0.7 0.7 0 1 0 -1.4 0M352.0 55.1a0.9 0.9 0 1 0 1.7 0a0.9 0.9 0 1 0 -1.7 0M334.1 56.5a0.7 0.7 0 1 0 1.5 0a0.7 0.7 0 1 0 -1.5 0M380.7 47.8a0.6 0.6 0 1 0 1.2 0a0.6 0.6 0 1 0 -1.2 0M328.3 66.1a0.6 0.6 0 1 0 1.3 0a0.6 0.6 0 1 0 -1.3 0M376.8 42.5a0.7 0.7 0 1 0 1.4 0a0.7 0.7 0 1 0 -1.4 0M328.2 47.7a0.6 0.6 0 1 0 1.2 0a0.6 0.6 0 1 0 -1.2 0M353.7 51.1a0.6 0.6 0 1 0 1.2 0a0.6 0.6 0 1 0 -1.2 0M350.2 56.6a0.8 0.8 0 1 0 1.5 0a0.8 0.8 0 1 0 -1.5 0M364.1 45.5a0.8 0.8 0 1 0 1.6 0a0.8 0.8 0 1 0 -1.6 0M346.9 57.0a0.6 0.6 0 1 0 1.3 0a0.6 0.6 0 1 0 -1.3 0M380.4 50.0a0.6 0.6 0 1 0 1.2 0a0.6 0.6 0 1 0 -1.2 0M335.1 69.6a0.7 0.7 0 1 0 1.5 0a0.7 0.7 0 1 0 -1.5 0M360.3 36.1a0.8 0.8 0 1 0 1.6 0a0.8 0.8 0 1 0 -1.6 0M351.0 44.0a0.7 0.7 0 1 0 1.4 0a0.7 0.7 0 1 0 -1.4 0M322.5 59.6a0.8 0.8 0 1 0 1.6 0a0.8 0.8 0 1 0 -1.6 0M366.2 37.9a0.5 0.5 0 1 0 1.0 0a0.5 0.5 0 1 0 -1.0 0M348.9 37.4a0.6 0.6 0 1 0 1.2 0a0.6 0.6 0 1 0 -1.2 0M337.9 62.0a0.6 0.6 0 1 0 1.2 0a0.6 0.6 0 1 0 -1.2 0M371.8 56.7a0.7 0.7 0 1 0 1.3 0a0.7 0.7 0 1 0 -1.3 0M349.5 41.9a0.6 0.6 0 1 0 1.1 0a0.6 0.6 0 1 0 -1.1 0M373.0 34.7a0.6 0.6 0 1 0 1.3 0a0.6 0.6 0 1 0 -1.3 0M377.4 59.8a0.7 0.7 0 1 0 1.5 0a0.7 0.7 0 1 0 -1.5 0M349.3 53.5a0.8 0.8 0 1 0 1.7 0a0.8 0.8 0 1 0 -1.7 0M364.5 45.5a0.9 0.9 0 1 0 1.9 0a0.9 0.9 0 1 0 -1.9 0M359.8 47.3a0.7 0.7 0 1 0 1.5 0a0.7 0.7 0 1 0 -1.5 0M345.9 44.9a0.9 0.9 0 1 0 1.9 0a0.9 0.9 0 1 0 -1.9 0M343.2 52.9a0.6 0.6 0 1 0 1.2 0a0.6 0.6 0 1 0 -1.2 0M386.9 49.2a0.6 0.6 0 1 0 1.3 0a0.6 0.6 0 1 0 -1.3 0M338.7 51.5a0.9 0.9 0 1 0 1.8 0a0.9 0.9 0 1 0 -1.8 0M342.7 52.6a0.7 0.7 0 1 0 1.4 0a0.7 0.7 0 1 0 -1.4 0M338.1 47.7a0.7 0.7 0 1 0 1.3 0a0.7 0.7 0 1 0 -1.3 0M342.8 36.1a0.9 0.9 0 1 0 1.8 0a0.9 0.9 0 1 0 -1.8 0M354.6 36.6a0.7 0.7 0 1 0 1.4 0a0.7 0.7 0 1 0 -1.4 0M366.9 42.5a0.9 0.9 0 1 0 1.8 0a0.9 0.9 0 1 0 -1.8 0M356.2 62.2a0.9 0.9 0 1 0 1.7 0a0.9 0.9 0 1 0 -1.7 0M321.6 61.0a0.8 0.8 0 1 0 1.5 0a0.8 0.8 0 1 0 -1.5 0M338.4 52.2a0.9 0.9 0 1 0 1.7 0a0.9 0.9 0 1 0 -1.7 0M372.6 46.7a0.7 0.7 0 1 0 1.4 0a0.7 0.7 0 1 0 -1.4 0M342.4 64.4a0.9 0.9 0 1 0 1.9 0a0.9 0.9 0 1 0 -1.9 0M336.4 57.4a0.6 0.6 0 1 0 1.3 0a0.6 0.6 0 1 0 -1.3 0M355.6 42.7a0.6 0.6 0 1 0 1.1 0a0.6 0.6 0 1 0 -1.1 0M323.6 64.0a0.9 0.9 0 1 0 1.8 0a0.9 0.9 0 1 0 -1.8 0M340.5 42.5a0.5 0.5 0 1 0 1.0 0a0.5 0.5 0 1 0 -1.0 0M352.3 50.0a0.5 0.5 0 1 0 1.0 0a0.5 0.5 0 1 0 -1.0 0M374.2 42.0a0.6 0.6 0 1 0 1.2 0a0.6 0.6 0 1 0 -1.2 0M352.5 37.1a0.7 0.7 0 1 0 1.4 0a0.7 0.7 0 1 0 -1.4 0M335.8 47.6a0.9 0.9 0 1 0 1.7 0a0.9 0.9 0 1 0 -1.7 0M346.0 57.7a0.8 0.8 0 1 0 1.6 0a0.8 0.8 0 1 0 -1.6 0M338.1 65.4a0.5 0.5 0 1 0 1.0 0a0.5 0.5 0 1 0 -1.0 0M365.4 50.1a0.8 0.8 0 1 0 1.6 0a0.8 0.8 0 1 0 -1.6 0M379.2 38.3a0.7 0.7 0 1 0 1.4 0a0.7 0.7 0 1 0 -1.4 0M357.0 51.3a0.8 0.8 0 1 0 1.7 0a0.8 0.8 0 1 0 -1.7 0M364.2 44.3a0.5 0.5 0 1 0 1.1 0a0.5 0.5 0 1 0 -1.1 0M371.7 39.3a0.6 0.6 0 1 0 1.3 0a0.6 0.6 0 1 0 -1.3 0M369.5 36.2a0.9 0.9 0 1 0 1.9 0a0.9 0.9 0 1 0 -1.9 0M323.3 64.2a0.8 0.8 0 1 0 1.6 0a0.8 0.8 0 1 0 -1.6 0M310.5 65.2a0.9 0.9 0 1 0 1.9 0a0.9 0.9 0 1 0 -1.9 0M326.7 62.9a0.8 0.8 0 1 0 1.6 0a0.8 0.8 0 1 0 -1.6 0M345.7 56.3a0.8 0.8 0 1 0 1.7 0a0.8 0.8 0 1 0 -1.7 0M374.0 34.7a0.9 0.9 0 1 0 1.8 0a0.9 0.9 0 1 0 -1.8 0M356.0 49.1a0.6 0.6 0 1 0 1.2 0a0.6 0.6 0 1 0 -1.2 0M310.8 61.7a0.7 0.7 0 1 0 1.4 0a0.7 0.7 0 1 0 -1.4 0M318.9 58.8a0.5 0.5 0 1 0 1.0 0a0.5 0.5 0 1 0 -1.0 0M347.1 59.5a0.8 0.8 0 1 0 1.7 0a0.8 0.8 0 1 0 -1.7 0M341.8 58.1a0.7 0.7 0 1 0 1.3 0a0.7 0.7 0 1 0 -1.3 0M357.6 55.9a0.8 0.8 0 1 0 1.6 0a0.8 0.8 0 1 0 -1.6 0M372.5 39.4a0.8 0.8 0 1 0 1.7 0a0.8 0.8 0 1 0 -1.7 0M313.4 55.7a0.7 0.7 0 1 0 1.4 0a0.7 0.7 0 1 0 -1.4 0M338.9 59.2a0.7 0.7 0 1 0 1.4 0a0.7 0.7 0 1 0 -1.4 0M376.0 36.0a0.6 0.6 0 1 0 1.2 0a0.6 0.6 0 1 0 -1.2 0M354.5 62.3a0.9 0.9 0 1 0 1.8 0a0.9 0.9 0 1 0 -1.8 0M354.0 57.9a0.5 0.5 0 1 0 1.1 0a0.5 0.5 0 1 0 -1.1 0M346.0 61.5a0.9 0.9 0 1 0 1.8 0a0.9 0.9 0 1 0 -1.8 0M383.7 53.6a0.9 0.9 0 1 0 1.7 0a0.9 0.9 0 1 0 -1.7 0M379.1 31.3a0.9 0.9 0 1 0 1.7 0a0.9 0.9 0 1 0 -1.7 0M362.7 45.4a0.7 0.7 0 1 0 1.4 0a0.7 0.7 0 1 0 -1.4 0M325.7 66.5a0.9 0.9 0 1 0 1.9 0a0.9 0.9 0 1 0 -1.9 0M361.7 51.6a0.6 0.6 0 1 0 1.3 0a0.6 0.6 0 1 0 -1.3 0M368.6 44.1a0.6 0.6 0 1 0 1.2 0a0.6 0.6 0 1 0 -1.2 0M356.3 43.4a0.8 0.8 0 1 0 1.7 0a0.8 0.8 0 1 0 -1.7 0M369.3 42.5a0.6 0.6 0 1 0 1.1 0a0.6 0.6 0 1 0 -1.1 0M369.0 52.0a0.6 0.6 0 1 0 1.2 0a0.6 0.6 0 1 0 -1.2 0M321.0 54.9a0.9 0.9 0 1 0 1.9 0a0.9 0.9 0 1 0 -1.9 0M377.6 52.9a0.9 0.9 0 1 0 1.7 0a0.9 0.9 0 1 0 -1.7 0M309.6 61.7a0.9 0.9 0 1 0 1.8 0a0.9 0.9 0 1 0 -1.8 0M380.6 43.6a0.8 0.8 0 1 0 1.6 0a0.8 0.8 0 1 0 -1.6 0M334.9 62.8a0.6 0.6 0 1 0 1.2 0a0.6 0.6 0 1 0 -1.2 0M341.7 62.7a0.9 0.9 0 1 0 1.9 0a0.9 0.9 0 1 0 -1.9 0M384.9 39.3a0.8 0.8 0 1 0 1.7 0a0.8 0.8 0 1 0 -1.7 0M359.4 61.1a0.7 0.7 0 1 0 1.5 0a0.7 0.7 0 1 0 -1.5 0M362.0 35.6a0.7 0.7 0 1 0 1.3 0a0.7 0.7 0 1 0 -1.3 0M376.1 44.2a0.8 0.8 0 1 0 1.6 0a0.8 0.8 0 1 0 -1.6 0M383.8 53.1a0.9 0.9 0 1 0 1.8 0a0.9 0.9 0 1 0 -1.8 0M373.1 43.7a0.9 0.9 0 1 0 1.9 0a0.9 0.9 0 1 0 -1.9 0M370.8 46.3a0.8 0.8 0 1 0 1.6 0a0.8 0.8 0 1 0 -1.6 0M372.2 37.3a0.8 0.8 0 1 0 1.6 0a0.8 0.8 0 1 0 -1.6 0M355.8 49.7a0.8 0.8 0 1 0 1.6 0a0.8 0.8 0 1 0 -1.6 0M387.2 45.6a0.8 0.8 0 1 0 1.7 0a0.8 0.8 0 1 0 -1.7 0M366.1 52.3a0.8 0.8 0 1 0 1.7 0a0.8 0.8 0 1 0 -1.7 0M327.6 67.8a0.9 0.9 0 1 0 1.9 0a0.9 0.9 0 1 0 -1.9 0M332.8 48.6a0.5 0.5 0 1 0 1.0 0a0.5 0.5 0 1 0 -1.0 0M340.1 51.9a0.7 0.7 0 1 0 1.4 0a0.7 0.7 0 1 0 -1.4 0M363.2 41.5a0.9 0.9 0 1 0 1.8 0a0.9 0.9 0 1 0 -1.8 0M333.4 59.8a0.7 0.7 0 1 0 1.5 0a0.7 0.7 0 1 0 -1.5 0M352.9 57.0a0.6 0.6 0 1 0 1.2 0a0.6 0.6 0 1 0 -1.2 0M306.7 63.4a0.5 0.5 0 1 0 1.0 0a0.5 0.5 0 1 0 -1.0 0M364.3 55.9a0.7 0.7 0 1 0 1.4 0a0.7 0.7 0 1 0 -1.4 0M311.2 64.3a0.5 0.5 0 1 0 1.0 0a0.5 0.5 0 1 0 -1.0 0M370.3 44.6a0.6 0.6 0 1 0 1.2 0a0.6 0.6 0 1 0 -1.2 0M350.1 39.1a0.6 0.6 0 1 0 1.3 0a0.6 0.6 0 1 0 -1.3 0M340.5 60.5a0.9 0.9 0 1 0 1.8 0a0.9 0.9 0 1 0 -1.8 0M356.0 55.4a0.8 0.8 0 1 0 1.6 0a0.8 0.8 0 1 0 -1.6 0M347.0 43.9a0.5 0.5 0 1 0 1.0 0a0.5 0.5 0 1 0 -1.0 0M339.0 63.2a0.6 0.6 0 1 0 1.2 0a0.6 0.6 0 1 0 -1.2 0M371.6 33.8a0.6 0.6 0 1 0 1.1 0a0.6 0.6 0 1 0 -1.1 0M332.4 63.7a0.7 0.7 0 1 0 1.4 0a0.7 0.7 0 1 0 -1.4 0M324.1 69.3a0.7 0.7 0 1 0 1.5 0a0.7 0.7 0 1 0 -1.5 0M377.1 49.0a0.6 0.6 0 1 0 1.2 0a0.6 0.6 0 1 0 -1.2 0M363.3 44.7a0.8 0.8 0 1 0 1.5 0a0.8 0.8 0 1 0 -1.5 0M369.5 40.0a0.7 0.7 0 1 0 1.3 0a0.7 0.7 0 1 0 -1.3 0M356.0 54.3a0.5 0.5 0 1 0 1.1 0a0.5 0.5 0 1 0 -1.1 0M348.6 50.0a0.7 0.7 0 1 0 1.4 0a0.7 0.7 0 1 0 -1.4 0M342.9 50.4a0.5 0.5 0 1 0 1.1 0a0.5 0.5 0 1 0 -1.1 0M353.2 50.1a0.9 0.9 0 1 0 1.8 0a0.9 0.9 0 1 0 -1.8 0M368.6 36.9a0.6 0.6 0 1 0 1.2 0a0.6 0.6 0 1 0 -1.2 0M318.6 60.3a0.5 0.5 0 1 0 1.1 0a0.5 0.5 0 1 0 -1.1 0M376.0 48.0a0.7 0.7 0 1 0 1.4 0a0.7 0.7 0 1 0 -1.4 0M367.5 49.4a0.8 0.8 0 1 0 1.7 0a0.8 0.8 0 1 0 -1.7 0M377.6 41.3a0.7 0.7 0 1 0 1.3 0a0.7 0.7 0 1 0 -1.3 0M329.3 64.9a0.8 0.8 0 1 0 1.5 0a0.8 0.8 0 1 0 -1.5 0M316.8 56.0a0.7 0.7 0 1 0 1.4 0a0.7 0.7 0 1 0 -1.4 0M344.4 53.7a0.9 0.9 0 1 0 1.8 0a0.9 0.9 0 1 0 -1.8 0M349.0 54.3a0.6 0.6 0 1 0 1.1 0a0.6 0.6 0 1 0 -1.1 0M320.4 66.5a0.9 0.9 0 1 0 1.7 0a0.9 0.9 0 1 0 -1.7 0M320.3 63.1a0.7 0.7 0 1 0 1.4 0a0.7 0.7 0 1 0 -1.4 0M321.3 64.0a0.9 0.9 0 1 0 1.7 0a0.9 0.9 0 1 0 -1.7 0M346.9 58.9a0.6 0.6 0 1 0 1.2 0a0.6 0.6 0 1 0 -1.2 0M368.1 49.9a0.8 0.8 0 1 0 1.5 0a0.8 0.8 0 1 0 -1.5 0M360.1 65.2a0.9 0.9 0 1 0 1.8 0a0.9 0.9 0 1 0 -1.8 0M346.8 42.0a0.7 0.7 0 1 0 1.3 0a0.7 0.7 0 1 0 -1.3 0M380.2 59.1a0.6 0.6 0 1 0 1.3 0a0.6 0.6 0 1 0 -1.3 0M345.3 33.5a0.9 0.9 0 1 0 1.9 0a0.9 0.9 0 1 0 -1.9 0M367.2 51.1a0.9 0.9 0 1 0 1.9 0a0.9 0.9 0 1 0 -1.9 0M310.8 62.6a0.5 0.5 0 1 0 1.1 0a0.5 0.5 0 1 0 -1.1 0M362.0 52.2a0.8 0.8 0 1 0 1.6 0a0.8 0.8 0 1 0 -1.6 0M380.8 58.8a0.8 0.8 0 1 0 1.7 0a0.8 0.8 0 1 0 -1.7 0M341.0 53.2a0.6 0.6 0 1 0 1.2 0a0.6 0.6 0 1 0 -1.2 0M337.3 56.2a0.6 0.6 0 1 0 1.1 0a0.6 0.6 0 1 0 -1.1 0M347.8 50.1a0.7 0.7 0 1 0 1.4 0a0.7 0.7 0 1 0 -1.4 0M380.7 44.4a0.8 0.8 0 1 0 1.6 0a0.8 0.8 0 1 0 -1.6 0M367.5 49.7a0.7 0.7 0 1 0 1.4 0a0.7 0.7 0 1 0 -1.4 0M312.5 61.8a0.8 0.8 0 1 0 1.6 0a0.8 0.8 0 1 0 -1.6 0M352.4 50.1a0.6 0.6 0 1 0 1.3 0a0.6 0.6 0 1 0 -1.3 0M370.2 56.0a0.6 0.6 0 1 0 1.2 0a0.6 0.6 0 1 0 -1.2 0M333.1 63.5a0.9 0.9 0 1 0 1.7 0a0.9 0.9 0 1 0 -1.7 0M380.4 53.7a0.8 0.8 0 1 0 1.7 0a0.8 0.8 0 1 0 -1.7 0M357.6 44.7a0.9 0.9 0 1 0 1.8 0a0.9 0.9 0 1 0 -1.8 0M388.3 34.9a0.6 0.6 0 1 0 1.3 0a0.6 0.6 0 1 0 -1.3 0M358.8 49.0a0.9 0.9 0 1 0 1.9 0a0.9 0.9 0 1 0 -1.9 0M358.6 46.2a0.6 0.6 0 1 0 1.1 0a0.6 0.6 0 1 0 -1.1 0M316.4 58.2a0.8 0.8 0 1 0 1.7 0a0.8 0.8 0 1 0 -1.7 0M327.6 64.3a0.9 0.9 0 1 0 1.8 0a0.9 0.9 0 1 0 -1.8 0M361.6 42.3a0.5 0.5 0 1 0 1.0 0a0.5 0.5 0 1 0 -1.0 0M369.4 60.5a0.5 0.5 0 1 0 1.1 0a0.5 0.5 0 1 0 -1.1 0M309.4 66.2a0.9 0.9 0 1 0 1.7 0a0.9 0.9 0 1 0 -1.7 0M358.1 45.2a0.6 0.6 0 1 0 1.2 0a0.6 0.6 0 1 0 -1.2 0M367.8 44.4a0.5 0.5 0 1 0 1.0 0a0.5 0.5 0 1 0 -1.0 0M375.7 44.6a0.8 0.8 0 1 0 1.6 0a0.8 0.8 0 1 0 -1.6 0M355.6 58.0a0.7 0.7 0 1 0 1.4 0a0.7 0.7 0 1 0 -1.4 0M314.3 64.8a0.7 0.7 0 1 0 1.4 0a0.7 0.7 0 1 0 -1.4 0M318.6 67.5a0.9 0.9 0 1 0 1.9 0a0.9 0.9 0 1 0 -1.9 0M343.5 48.3a0.7 0.7 0 1 0 1.4 0a0.7 0.7 0 1 0 -1.4 0M341.2 42.4a0.9 0.9 0 1 0 1.8 0a0.9 0.9 0 1 0 -1.8 0M311.0 66.0a0.6 0.6 0 1 0 1.2 0a0.6 0.6 0 1 0 -1.2 0M342.2 55.5a0.7 0.7 0 1 0 1.3 0a0.7 0.7 0 1 0 -1.3 0M357.1 61.3a0.5 0.5 0 1 0 1.0 0a0.5 0.5 0 1 0 -1.0 0M325.1 64.9a0.9 0.9 0 1 0 1.8 0a0.9 0.9 0 1 0 -1.8 0M376.8 38.8a0.5 0.5 0 1 0 1.0 0a0.5 0.5 0 1 0 -1.0 0M354.7 50.2a0.8 0.8 0 1 0 1.7 0a0.8 0.8 0 1 0 -1.7 0M344.7 51.2a0.7 0.7 0 1 0 1.4 0a0.7 0.7 0 1 0 -1.4 0M341.6 67.7a0.7 0.7 0 1 0 1.4 0a0.7 0.7 0 1 0 -1.4 0M328.4 59.7a0.5 0.5 0 1 0 1.1 0a0.5 0.5 0 1 0 -1.1 0M370.8 48.6a0.9 0.9 0 1 0 1.9 0a0.9 0.9 0 1 0 -1.9 0M376.7 58.3a0.6 0.6 0 1 0 1.1 0a0.6 0.6 0 1 0 -1.1 0M338.4 41.6a0.5 0.5 0 1 0 1.1 0a0.5 0.5 0 1 0 -1.1 0M372.9 53.2a0.7 0.7 0 1 0 1.3 0a0.7 0.7 0 1 0 -1.3 0M334.9 64.2a0.9 0.9 0 1 0 1.8 0a0.9 0.9 0 1 0 -1.8 0M358.7 45.0a0.5 0.5 0 1 0 1.0 0a0.5 0.5 0 1 0 -1.0 0M363.8 37.3a0.5 0.5 0 1 0 1.1 0a0.5 0.5 0 1 0 -1.1 0M340.4 37.5a0.8 0.8 0 1 0 1.7 0a0.8 0.8 0 1 0 -1.7 0M344.4 70.7a0.7 0.7 0 1 0 1.3 0a0.7 0.7 0 1 0 -1.3 0M340.4 54.8a0.6 0.6 0 1 0 1.3 0a0.6 0.6 0 1 0 -1.3 0M375.0 42.9a0.7 0.7 0 1 0 1.3 0a0.7 0.7 0 1 0 -1.3 0M350.6 50.6a0.8 0.8 0 1 0 1.6 0a0.8 0.8 0 1 0 -1.6 0M359.1 50.2a0.5 0.5 0 1 0 1.0 0a0.5 0.5 0 1 0 -1.0 0M354.2 39.1a0.6 0.6 0 1 0 1.2 0a0.6 0.6 0 1 0 -1.2 0M341.3 56.7a0.6 0.6 0 1 0 1.2 0a0.6 0.6 0 1 0 -1.2 0M347.8 43.9a0.6 0.6 0 1 0 1.2 0a0.6 0.6 0 1 0 -1.2 0M344.2 58.4a0.7 0.7 0 1 0 1.5 0a0.7 0.7 0 1 0 -1.5 0M357.2 61.3a0.5 0.5 0 1 0 1.0 0a0.5 0.5 0 1 0 -1.0 0M346.4 41.2a0.6 0.6 0 1 0 1.1 0a0.6 0.6 0 1 0 -1.1 0M348.5 50.9a0.9 0.9 0 1 0 1.7 0a0.9 0.9 0 1 0 -1.7 0M356.0 50.8a0.6 0.6 0 1 0 1.2 0a0.6 0.6 0 1 0 -1.2 0M335.5 48.6a0.5 0.5 0 1 0 1.1 0a0.5 0.5 0 1 0 -1.1 0M372.9 30.9a0.8 0.8 0 1 0 1.5 0a0.8 0.8 0 1 0 -1.5 0M388.4 43.5a0.9 0.9 0 1 0 1.9 0a0.9 0.9 0 1 0 -1.9 0M315.5 59.9a0.7 0.7 0 1 0 1.4 0a0.7 0.7 0 1 0 -1.4 0M341.6 44.6a0.9 0.9 0 1 0 1.7 0a0.9 0.9 0 1 0 -1.7 0M333.0 62.2a0.6 0.6 0 1 0 1.2 0a0.6 0.6 0 1 0 -1.2 0M352.9 53.0a0.7 0.7 0 1 0 1.4 0a0.7 0.7 0 1 0 -1.4 0M340.8 49.8a0.6 0.6 0 1 0 1.2 0a0.6 0.6 0 1 0 -1.2 0M353.0 58.4a0.9 0.9 0 1 0 1.7 0a0.9 0.9 0 1 0 -1.7 0M351.9 52.7a0.8 0.8 0 1 0 1.7 0a0.8 0.8 0 1 0 -1.7 0M318.1 58.7a0.6 0.6 0 1 0 1.2 0a0.6 0.6 0 1 0 -1.2 0M316.6 57.3a0.8 0.8 0 1 0 1.7 0a0.8 0.8 0 1 0 -1.7 0M306.6 65.1a0.9 0.9 0 1 0 1.8 0a0.9 0.9 0 1 0 -1.8 0M367.1 55.1a0.6 0.6 0 1 0 1.2 0a0.6 0.6 0 1 0 -1.2 0M367.1 47.0a0.5 0.5 0 1 0 1.1 0a0.5 0.5 0 1 0 -1.1 0M351.1 49.3a0.7 0.7 0 1 0 1.4 0a0.7 0.7 0 1 0 -1.4 0M343.9 50.9a0.7 0.7 0 1 0 1.3 0a0.7 0.7 0 1 0 -1.3 0M383.6 43.8a0.6 0.6 0 1 0 1.2 0a0.6 0.6 0 1 0 -1.2 0M367.9 43.2a0.7 0.7 0 1 0 1.4 0a0.7 0.7 0 1 0 -1.4 0M364.3 46.5a0.9 0.9 0 1 0 1.9 0a0.9 0.9 0 1 0 -1.9 0M336.5 56.3a0.5 0.5 0 1 0 1.1 0a0.5 0.5 0 1 0 -1.1 0M350.6 59.8a0.7 0.7 0 1 0 1.5 0a0.7 0.7 0 1 0 -1.5 0M376.0 53.4a0.8 0.8 0 1 0 1.6 0a0.8 0.8 0 1 0 -1.6 0M326.7 55.6a0.9 0.9 0 1 0 1.8 0a0.9 0.9 0 1 0 -1.8 0M366.9 40.9a0.5 0.5 0 1 0 1.1 0a0.5 0.5 0 1 0 -1.1 0M378.4 48.7a0.9 0.9 0 1 0 1.8 0a0.9 0.9 0 1 0 -1.8 0M367.7 50.4a0.5 0.5 0 1 0 1.1 0a0.5 0.5 0 1 0 -1.1 0M308.6 61.8a0.9 0.9 0 1 0 1.9 0a0.9 0.9 0 1 0 -1.9 0M330.4 62.0a0.6 0.6 0 1 0 1.3 0a0.6 0.6 0 1 0 -1.3 0M349.5 48.7a0.7 0.7 0 1 0 1.5 0a0.7 0.7 0 1 0 -1.5 0M356.1 39.3a0.5 0.5 0 1 0 1.1 0a0.5 0.5 0 1 0 -1.1 0M357.2 49.1a0.6 0.6 0 1 0 1.1 0a0.6 0.6 0 1 0 -1.1 0M371.0 55.4a0.9 0.9 0 1 0 1.9 0a0.9 0.9 0 1 0 -1.9 0M365.0 39.1a0.5 0.5 0 1 0 1.0 0a0.5 0.5 0 1 0 -1.0 0M311.6 59.8a0.8 0.8 0 1 0 1.5 0a0.8 0.8 0 1 0 -1.5 0M317.3 59.0a0.8 0.8 0 1 0 1.6 0a0.8 0.8 0 1 0 -1.6 0M359.1 50.4a0.7 0.7 0 1 0 1.4 0a0.7 0.7 0 1 0 -1.4 0M320.0 58.3a0.9 0.9 0 1 0 1.8 0a0.9 0.9 0 1 0 -1.8 0M325.7 64.5a0.8 0.8 0 1 0 1.7 0a0.8 0.8 0 1 0 -1.7 0M367.9 41.2a0.5 0.5 0 1 0 1.1 0a0.5 0.5 0 1 0 -1.1 0M331.4 56.5a0.5 0.5 0 1 0 1.1 0a0.5 0.5 0 1 0 -1.1 0M338.2 62.3a0.7 0.7 0 1 0 1.5 0a0.7 0.7 0 1 0 -1.5 0M320.7 55.5a0.9 0.9 0 1 0 1.8 0a0.9 0.9 0 1 0 -1.8 0M362.5 35.9a0.8 0.8 0 1 0 1.6 0a0.8 0.8 0 1 0 -1.6 0M367.7 43.6a0.6 0.6 0 1 0 1.1 0a0.6 0.6 0 1 0 -1.1 0" fill="#2eb040"/>
<path d="M353.3 53.7a0.9 0.9 0 1 0 1.7 0a0.9 0.9 0 1 0 -1.7 0M377.0 43.7a0.9 0.9 0 1 0 1.7 0a0.9 0.9 0 1 0 -1.7 0M378.3 45.7a0.5 0.5 0 1 0 1.1 0a0.5 0.5 0 1 0 -1.1 0M342.7 59.1a0.9 0.9 0 1 0 1.7 0a0.9 0.9 0 1 0 -1.7 0M365.9 62.3a0.5 0.5 0 1 0 1.1 0a0.5 0.5 0 1 0 -1.1 0M362.1 54.1a0.5 0.5 0 1 0 1.1 0a0.5 0.5 0 1 0 -1.1 0M364.7 36.9a0.9 0.9 0 1 0 1.9 0a0.9 0.9 0 1 0 -1.9 0M343.8 54.3a0.9 0.9 0 1 0 1.8 0a0.9 0.9 0 1 0 -1.8 0M321.1 66.6a0.8 0.8 0 1 0 1.7 0a0.8 0.8 0 1 0 -1.7 0M370.1 48.0a0.7 0.7 0 1 0 1.4 0a0.7 0.7 0 1 0 -1.4 0M378.0 37.4a0.7 0.7 0 1 0 1.5 0a0.7 0.7 0 1 0 -1.5 0M356.3 46.2a0.6 0.6 0 1 0 1.2 0a0.6 0.6 0 1 0 -1.2 0M361.1 36.2a0.8 0.8 0 1 0 1.6 0a0.8 0.8 0 1 0 -1.6 0M326.2 55.0a0.7 0.7 0 1 0 1.4 0a0.7 0.7 0 1 0 -1.4 0M337.5 60.5a0.5 0.5 0 1 0 1.0 0a0.5 0.5 0 1 0 -1.0 0M320.7 56.2a0.9 0.9 0 1 0 1.8 0a0.9 0.9 0 1 0 -1.8 0M348.1 65.0a0.7 0.7 0 1 0 1.3 0a0.7 0.7 0 1 0 -1.3 0M357.3 50.2a0.9 0.9 0 1 0 1.9 0a0.9 0.9 0 1 0 -1.9 0M342.2 51.1a0.7 0.7 0 1 0 1.5 0a0.7 0.7 0 1 0 -1.5 0M351.6 51.8a0.9 0.9 0 1 0 1.7 0a0.9 0.9 0 1 0 -1.7 0M337.2 58.2a0.8 0.8 0 1 0 1.5 0a0.8 0.8 0 1 0 -1.5 0M346.9 54.3a0.7 0.7 0 1 0 1.5 0a0.7 0.7 0 1 0 -1.5 0M347.1 61.2a0.5 0.5 0 1 0 1.0 0a0.5 0.5 0 1 0 -1.0 0M338.9 46.8a0.5 0.5 0 1 0 1.1 0a0.5 0.5 0 1 0 -1.1 0M359.3 62.2a0.5 0.5 0 1 0 1.0 0a0.5 0.5 0 1 0 -1.0 0M347.3 43.7a0.8 0.8 0 1 0 1.6 0a0.8 0.8 0 1 0 -1.6 0M376.8 50.1a0.7 0.7 0 1 0 1.5 0a0.7 0.7 0 1 0 -1.5 0M321.9 63.6a0.7 0.7 0 1 0 1.4 0a0.7 0.7 0 1 0 -1.4 0M357.6 57.7a0.5 0.5 0 1 0 1.1 0a0.5 0.5 0 1 0 -1.1 0M351.1 43.9a0.9 0.9 0 1 0 1.7 0a0.9 0.9 0 1 0 -1.7 0M350.1 55.9a0.8 0.8 0 1 0 1.7 0a0.8 0.8 0 1 0 -1.7 0M342.5 60.7a0.7 0.7 0 1 0 1.4 0a0.7 0.7 0 1 0 -1.4 0M367.7 50.1a0.8 0.8 0 1 0 1.6 0a0.8 0.8 0 1 0 -1.6 0M340.7 61.5a0.5 0.5 0 1 0 1.0 0a0.5 0.5 0 1 0 -1.0 0M360.4 36.5a0.6 0.6 0 1 0 1.2 0a0.6 0.6 0 1 0 -1.2 0M316.6 67.5a0.7 0.7 0 1 0 1.4 0a0.7 0.7 0 1 0 -1.4 0M325.3 56.8a0.9 0.9 0 1 0 1.8 0a0.9 0.9 0 1 0 -1.8 0M351.3 57.9a0.6 0.6 0 1 0 1.3 0a0.6 0.6 0 1 0 -1.3 0M377.2 41.6a0.5 0.5 0 1 0 1.0 0a0.5 0.5 0 1 0 -1.0 0M384.7 36.2a0.8 0.8 0 1 0 1.6 0a0.8 0.8 0 1 0 -1.6 0M359.7 40.3a0.7 0.7 0 1 0 1.3 0a0.7 0.7 0 1 0 -1.3 0M352.6 56.1a0.7 0.7 0 1 0 1.3 0a0.7 0.7 0 1 0 -1.3 0M388.4 48.3a0.8 0.8 0 1 0 1.5 0a0.8 0.8 0 1 0 -1.5 0M341.9 61.0a0.7 0.7 0 1 0 1.4 0a0.7 0.7 0 1 0 -1.4 0M345.2 50.8a0.6 0.6 0 1 0 1.3 0a0.6 0.6 0 1 0 -1.3 0M361.3 45.5a0.6 0.6 0 1 0 1.2 0a0.6 0.6 0 1 0 -1.2 0M337.4 42.9a0.8 0.8 0 1 0 1.7 0a0.8 0.8 0 1 0 -1.7 0M361.9 53.5a0.8 0.8 0 1 0 1.6 0a0.8 0.8 0 1 0 -1.6 0M354.6 56.0a0.7 0.7 0 1 0 1.5 0a0.7 0.7 0 1 0 -1.5 0M374.2 50.7a0.7 0.7 0 1 0 1.3 0a0.7 0.7 0 1 0 -1.3 0M333.2 61.3a0.9 0.9 0 1 0 1.7 0a0.9 0.9 0 1 0 -1.7 0M343.2 63.9a0.9 0.9 0 1 0 1.7 0a0.9 0.9 0 1 0 -1.7 0M391.9 40.2a0.7 0.7 0 1 0 1.3 0a0.7 0.7 0 1 0 -1.3 0M360.7 51.0a0.9 0.9 0 1 0 1.7 0a0.9 0.9 0 1 0 -1.7 0M379.4 51.8a0.9 0.9 0 1 0 1.9 0a0.9 0.9 0 1 0 -1.9 0M319.2 55.0a0.7 0.7 0 1 0 1.4 0a0.7 0.7 0 1 0 -1.4 0M342.6 65.8a0.8 0.8 0 1 0 1.7 0a0.8 0.8 0 1 0 -1.7 0M348.2 34.4a0.8 0.8 0 1 0 1.6 0a0.8 0.8 0 1 0 -1.6 0M327.6 64.4a0.8 0.8 0 1 0 1.6 0a0.8 0.8 0 1 0 -1.6 0M361.3 53.5a0.9 0.9 0 1 0 1.7 0a0.9 0.9 0 1 0 -1.7 0M342.2 59.7a0.8 0.8 0 1 0 1.5 0a0.8 0.8 0 1 0 -1.5 0M376.2 39.1a0.7 0.7 0 1 0 1.4 0a0.7 0.7 0 1 0 -1.4 0M331.4 61.4a0.9 0.9 0 1 0 1.8 0a0.9 0.9 0 1 0 -1.8 0M357.4 57.3a0.6 0.6 0 1 0 1.3 0a0.6 0.6 0 1 0 -1.3 0M355.2 28.9a0.8 0.8 0 1 0 1.6 0a0.8 0.8 0 1 0 -1.6 0M361.7 43.8a0.5 0.5 0 1 0 1.1 0a0.5 0.5 0 1 0 -1.1 0M314.6 62.3a0.8 0.8 0 1 0 1.6 0a0.8 0.8 0 1 0 -1.6 0M345.3 52.9a0.7 0.7 0 1 0 1.3 0a0.7 0.7 0 1 0 -1.3 0M319.2 58.6a0.8 0.8 0 1 0 1.6 0a0.8 0.8 0 1 0 -1.6 0M315.1 67.7a0.7 0.7 0 1 0 1.5 0a0.7 0.7 0 1 0 -1.5 0M349.2 49.4a0.9 0.9 0 1 0 1.9 0a0.9 0.9 0 1 0 -1.9 0M326.4 58.8a0.6 0.6 0 1 0 1.2 0a0.6 0.6 0 1 0 -1.2 0M343.1 53.5a0.9 0.9 0 1 0 1.9 0a0.9 0.9 0 1 0 -1.9 0M379.2 48.3a0.9 0.9 0 1 0 1.7 0a0.9 0.9 0 1 0 -1.7 0M327.8 61.7a0.9 0.9 0 1 0 1.7 0a0.9 0.9 0 1 0 -1.7 0M353.9 42.2a0.9 0.9 0 1 0 1.8 0a0.9 0.9 0 1 0 -1.8 0M344.1 55.8a0.8 0.8 0 1 0 1.7 0a0.8 0.8 0 1 0 -1.7 0M321.6 57.8a0.7 0.7 0 1 0 1.5 0a0.7 0.7 0 1 0 -1.5 0M366.3 48.9a0.6 0.6 0 1 0 1.1 0a0.6 0.6 0 1 0 -1.1 0M341.0 54.3a0.7 0.7 0 1 0 1.3 0a0.7 0.7 0 1 0 -1.3 0M379.1 44.2a0.7 0.7 0 1 0 1.4 0a0.7 0.7 0 1 0 -1.4 0M346.7 62.1a0.7 0.7 0 1 0 1.3 0a0.7 0.7 0 1 0 -1.3 0M358.0 59.5a0.9 0.9 0 1 0 1.8 0a0.9 0.9 0 1 0 -1.8 0M325.0 59.1a0.7 0.7 0 1 0 1.4 0a0.7 0.7 0 1 0 -1.4 0M345.8 55.4a0.9 0.9 0 1 0 1.7 0a0.9 0.9 0 1 0 -1.7 0M320.6 65.0a0.9 0.9 0 1 0 1.7 0a0.9 0.9 0 1 0 -1.7 0M355.5 30.0a0.5 0.5 0 1 0 1.1 0a0.5 0.5 0 1 0 -1.1 0M369.4 44.9a0.8 0.8 0 1 0 1.6 0a0.8 0.8 0 1 0 -1.6 0M369.8 36.1a0.7 0.7 0 1 0 1.5 0a0.7 0.7 0 1 0 -1.5 0M369.3 40.9a0.8 0.8 0 1 0 1.6 0a0.8 0.8 0 1 0 -1.6 0M374.1 57.5a0.5 0.5 0 1 0 1.1 0a0.5 0.5 0 1 0 -1.1 0M307.0 59.1a0.7 0.7 0 1 0 1.4 0a0.7 0.7 0 1 0 -1.4 0M351.3 49.4a0.9 0.9 0 1 0 1.8 0a0.9 0.9 0 1 0 -1.8 0M379.2 36.3a0.8 0.8 0 1 0 1.6 0a0.8 0.8 0 1 0 -1.6 0M327.0 57.7a0.6 0.6 0 1 0 1.2 0a0.6 0.6 0 1 0 -1.2 0M362.6 45.3a0.7 0.7 0 1 0 1.4 0a0.7 0.7 0 1 0 -1.4 0M358.8 54.8a0.6 0.6 0 1 0 1.2 0a0.6 0.6 0 1 0 -1.2 0M313.3 62.8a0.9 0.9 0 1 0 1.8 0a0.9 0.9 0 1 0 -1.8 0M350.5 55.7a0.5 0.5 0 1 0 1.1 0a0.5 0.5 0 1 0 -1.1 0M355.3 45.8a0.8 0.8 0 1 0 1.6 0a0.8 0.8 0 1 0 -1.6 0M358.7 41.2a0.6 0.6 0 1 0 1.3 0a0.6 0.6 0 1 0 -1.3 0M357.5 33.7a0.8 0.8 0 1 0 1.6 0a0.8 0.8 0 1 0 -1.6 0M373.5 42.0a0.6 0.6 0 1 0 1.3 0a0.6 0.6 0 1 0 -1.3 0M342.8 62.6a0.8 0.8 0 1 0 1.7 0a0.8 0.8 0 1 0 -1.7 0M360.0 38.1a0.7 0.7 0 1 0 1.4 0a0.7 0.7 0 1 0 -1.4 0M354.6 42.3a0.9 0.9 0 1 0 1.8 0a0.9 0.9 0 1 0 -1.8 0M336.3 52.8a0.9 0.9 0 1 0 1.8 0a0.9 0.9 0 1 0 -1.8 0M327.4 62.9a0.8 0.8 0 1 0 1.5 0a0.8 0.8 0 1 0 -1.5 0M378.1 50.4a0.6 0.6 0 1 0 1.1 0a0.6 0.6 0 1 0 -1.1 0M347.3 65.2a0.8 0.8 0 1 0 1.6 0a0.8 0.8 0 1 0 -1.6 0M342.1 55.4a0.7 0.7 0 1 0 1.4 0a0.7 0.7 0 1 0 -1.4 0M368.5 49.1a0.9 0.9 0 1 0 1.7 0a0.9 0.9 0 1 0 -1.7 0M362.1 40.6a0.7 0.7 0 1 0 1.4 0a0.7 0.7 0 1 0 -1.4 0M364.0 51.3a0.9 0.9 0 1 0 1.7 0a0.9 0.9 0 1 0 -1.7 0M352.6 56.9a0.8 0.8 0 1 0 1.6 0a0.8 0.8 0 1 0 -1.6 0M346.7 50.6a0.7 0.7 0 1 0 1.4 0a0.7 0.7 0 1 0 -1.4 0M341.5 49.6a0.9 0.9 0 1 0 1.7 0a0.9 0.9 0 1 0 -1.7 0M370.1 33.7a0.6 0.6 0 1 0 1.2 0a0.6 0.6 0 1 0 -1.2 0M359.0 41.4a0.5 0.5 0 1 0 1.1 0a0.5 0.5 0 1 0 -1.1 0M323.1 60.8a0.7 0.7 0 1 0 1.4 0a0.7 0.7 0 1 0 -1.4 0M334.0 59.3a0.8 0.8 0 1 0 1.5 0a0.8 0.8 0 1 0 -1.5 0M380.0 44.0a0.8 0.8 0 1 0 1.7 0a0.8 0.8 0 1 0 -1.7 0M336.0 63.0a0.8 0.8 0 1 0 1.7 0a0.8 0.8 0 1 0 -1.7 0M375.1 49.8a0.6 0.6 0 1 0 1.2 0a0.6 0.6 0 1 0 -1.2 0M339.2 62.7a0.9 0.9 0 1 0 1.7 0a0.9 0.9 0 1 0 -1.7 0M362.5 61.6a0.6 0.6 0 1 0 1.2 0a0.6 0.6 0 1 0 -1.2 0M321.8 59.7a0.8 0.8 0 1 0 1.6 0a0.8 0.8 0 1 0 -1.6 0M343.6 65.8a0.8 0.8 0 1 0 1.7 0a0.8 0.8 0 1 0 -1.7 0M345.9 59.2a0.5 0.5 0 1 0 1.0 0a0.5 0.5 0 1 0 -1.0 0M367.0 41.2a0.7 0.7 0 1 0 1.3 0a0.7 0.7 0 1 0 -1.3 0M382.0 34.9a0.8 0.8 0 1 0 1.6 0a0.8 0.8 0 1 0 -1.6 0M331.4 62.3a0.6 0.6 0 1 0 1.3 0a0.6 0.6 0 1 0 -1.3 0M363.7 47.7a0.9 0.9 0 1 0 1.8 0a0.9 0.9 0 1 0 -1.8 0M367.6 39.2a0.7 0.7 0 1 0 1.4 0a0.7 0.7 0 1 0 -1.4 0M385.4 47.0a0.6 0.6 0 1 0 1.3 0a0.6 0.6 0 1 0 -1.3 0M338.6 47.1a0.7 0.7 0 1 0 1.4 0a0.7 0.7 0 1 0 -1.4 0M364.0 44.5a0.9 0.9 0 1 0 1.8 0a0.9 0.9 0 1 0 -1.8 0M338.6 57.8a0.9 0.9 0 1 0 1.8 0a0.9 0.9 0 1 0 -1.8 0M351.9 50.8a0.6 0.6 0 1 0 1.3 0a0.6 0.6 0 1 0 -1.3 0M370.1 51.9a0.9 0.9 0 1 0 1.7 0a0.9 0.9 0 1 0 -1.7 0M350.8 55.7a0.9 0.9 0 1 0 1.9 0a0.9 0.9 0 1 0 -1.9 0M344.8 60.7a0.5 0.5 0 1 0 1.1 0a0.5 0.5 0 1 0 -1.1 0M343.8 56.5a0.9 0.9 0 1 0 1.8 0a0.9 0.9 0 1 0 -1.8 0M355.1 33.7a0.7 0.7 0 1 0 1.4 0a0.7 0.7 0 1 0 -1.4 0M333.3 59.0a0.7 0.7 0 1 0 1.3 0a0.7 0.7 0 1 0 -1.3 0M358.3 45.8a0.8 0.8 0 1 0 1.6 0a0.8 0.8 0 1 0 -1.6 0M345.7 48.2a0.7 0.7 0 1 0 1.5 0a0.7 0.7 0 1 0 -1.5 0M361.2 44.3a0.8 0.8 0 1 0 1.6 0a0.8 0.8 0 1 0 -1.6 0M321.8 65.5a0.5 0.5 0 1 0 1.1 0a0.5 0.5 0 1 0 -1.1 0M304.8 64.0a0.9 0.9 0 1 0 1.7 0a0.9 0.9 0 1 0 -1.7 0M327.5 59.4a0.6 0.6 0 1 0 1.1 0a0.6 0.6 0 1 0 -1.1 0M351.0 50.2a0.8 0.8 0 1 0 1.5 0a0.8 0.8 0 1 0 -1.5 0M354.5 52.0a0.7 0.7 0 1 0 1.5 0a0.7 0.7 0 1 0 -1.5 0M310.3 63.0a0.6 0.6 0 1 0 1.2 0a0.6 0.6 0 1 0 -1.2 0M360.2 48.7a0.9 0.9 0 1 0 1.8 0a0.9 0.9 0 1 0 -1.8 0M343.4 59.5a0.6 0.6 0 1 0 1.3 0a0.6 0.6 0 1 0 -1.3 0M354.1 59.4a0.6 0.6 0 1 0 1.1 0a0.6 0.6 0 1 0 -1.1 0M335.9 61.4a0.6 0.6 0 1 0 1.3 0a0.6 0.6 0 1 0 -1.3 0M379.8 41.0a0.7 0.7 0 1 0 1.4 0a0.7 0.7 0 1 0 -1.4 0M351.4 62.9a0.5 0.5 0 1 0 1.1 0a0.5 0.5 0 1 0 -1.1 0M354.1 56.7a0.7 0.7 0 1 0 1.4 0a0.7 0.7 0 1 0 -1.4 0M358.7 49.1a0.7 0.7 0 1 0 1.3 0a0.7 0.7 0 1 0 -1.3 0M342.3 58.9a0.7 0.7 0 1 0 1.3 0a0.7 0.7 0 1 0 -1.3 0M363.3 42.5a0.8 0.8 0 1 0 1.7 0a0.8 0.8 0 1 0 -1.7 0M374.9 48.2a0.7 0.7 0 1 0 1.3 0a0.7 0.7 0 1 0 -1.3 0M361.2 50.5a0.6 0.6 0 1 0 1.2 0a0.6 0.6 0 1 0 -1.2 0M317.2 60.4a0.8 0.8 0 1 0 1.6 0a0.8 0.8 0 1 0 -1.6 0M332.8 60.0a0.8 0.8 0 1 0 1.6 0a0.8 0.8 0 1 0 -1.6 0M340.0 37.9a0.8 0.8 0 1 0 1.6 0a0.8 0.8 0 1 0 -1.6 0M385.9 47.0a0.6 0.6 0 1 0 1.1 0a0.6 0.6 0 1 0 -1.1 0M378.8 53.4a0.5 0.5 0 1 0 1.0 0a0.5 0.5 0 1 0 -1.0 0M357.6 56.2a0.6 0.6 0 1 0 1.3 0a0.6 0.6 0 1 0 -1.3 0M364.5 34.5a0.6 0.6 0 1 0 1.3 0a0.6 0.6 0 1 0 -1.3 0M360.6 47.7a0.8 0.8 0 1 0 1.5 0a0.8 0.8 0 1 0 -1.5 0M339.8 56.3a0.6 0.6 0 1 0 1.1 0a0.6 0.6 0 1 0 -1.1 0M336.3 55.5a0.7 0.7 0 1 0 1.3 0a0.7 0.7 0 1 0 -1.3 0M362.9 49.2a0.9 0.9 0 1 0 1.7 0a0.9 0.9 0 1 0 -1.7 0M328.9 56.9a0.9 0.9 0 1 0 1.8 0a0.9 0.9 0 1 0 -1.8 0M359.3 47.1a0.6 0.6 0 1 0 1.1 0a0.6 0.6 0 1 0 -1.1 0M311.2 64.6a0.9 0.9 0 1 0 1.9 0a0.9 0.9 0 1 0 -1.9 0M387.0 45.1a0.6 0.6 0 1 0 1.3 0a0.6 0.6 0 1 0 -1.3 0M356.7 48.4a0.7 0.7 0 1 0 1.5 0a0.7 0.7 0 1 0 -1.5 0M342.7 58.1a0.5 0.5 0 1 0 1.0 0a0.5 0.5 0 1 0 -1.0 0M328.7 62.4a0.8 0.8 0 1 0 1.7 0a0.8 0.8 0 1 0 -1.7 0M370.0 55.1a0.8 0.8 0 1 0 1.7 0a0.8 0.8 0 1 0 -1.7 0M332.9 61.9a0.7 0.7 0 1 0 1.5 0a0.7 0.7 0 1 0 -1.5 0M365.3 36.1a0.9 0.9 0 1 0 1.8 0a0.9 0.9 0 1 0 -1.8 0M324.4 64.7a0.9 0.9 0 1 0 1.8 0a0.9 0.9 0 1 0 -1.8 0M361.9 54.8a0.8 0.8 0 1 0 1.7 0a0.8 0.8 0 1 0 -1.7 0M384.6 54.2a0.6 0.6 0 1 0 1.3 0a0.6 0.6 0 1 0 -1.3 0M382.4 39.2a0.9 0.9 0 1 0 1.9 0a0.9 0.9 0 1 0 -1.9 0M372.9 50.1a0.9 0.9 0 1 0 1.8 0a0.9 0.9 0 1 0 -1.8 0M388.8 43.9a0.7 0.7 0 1 0 1.4 0a0.7 0.7 0 1 0 -1.4 0M337.0 60.1a0.6 0.6 0 1 0 1.2 0a0.6 0.6 0 1 0 -1.2 0M367.1 42.6a0.9 0.9 0 1 0 1.8 0a0.9 0.9 0 1 0 -1.8 0M360.9 42.9a0.9 0.9 0 1 0 1.8 0a0.9 0.9 0 1 0 -1.8 0M387.7 36.0a0.8 0.8 0 1 0 1.6 0a0.8 0.8 0 1 0 -1.6 0M382.0 52.2a0.8 0.8 0 1 0 1.6 0a0.8 0.8 0 1 0 -1.6 0M323.4 61.2a0.6 0.6 0 1 0 1.2 0a0.6 0.6 0 1 0 -1.2 0M352.2 40.4a0.8 0.8 0 1 0 1.6 0a0.8 0.8 0 1 0 -1.6 0M337.3 61.1a0.7 0.7 0 1 0 1.4 0a0.7 0.7 0 1 0 -1.4 0M333.6 57.9a0.6 0.6 0 1 0 1.3 0a0.6 0.6 0 1 0 -1.3 0M360.0 58.0a0.9 0.9 0 1 0 1.9 0a0.9 0.9 0 1 0 -1.9 0M357.3 50.2a0.9 0.9 0 1 0 1.8 0a0.9 0.9 0 1 0 -1.8 0M364.6 53.7a0.9 0.9 0 1 0 1.9 0a0.9 0.9 0 1 0 -1.9 0M323.3 69.8a0.7 0.7 0 1 0 1.5 0a0.7 0.7 0 1 0 -1.5 0M323.6 62.7a0.7 0.7 0 1 0 1.5 0a0.7 0.7 0 1 0 -1.5 0M358.7 48.9a0.8 0.8 0 1 0 1.5 0a0.8 0.8 0 1 0 -1.5 0M361.4 34.6a0.7 0.7 0 1 0 1.4 0a0.7 0.7 0 1 0 -1.4 0M376.6 41.9a0.7 0.7 0 1 0 1.3 0a0.7 0.7 0 1 0 -1.3 0M312.8 61.5a0.9 0.9 0 1 0 1.8 0a0.9 0.9 0 1 0 -1.8 0M326.5 59.3a0.8 0.8 0 1 0 1.7 0a0.8 0.8 0 1 0 -1.7 0M374.3 45.7a0.7 0.7 0 1 0 1.3 0a0.7 0.7 0 1 0 -1.3 0M358.3 48.3a0.6 0.6 0 1 0 1.1 0a0.6 0.6 0 1 0 -1.1 0M349.5 56.5a0.6 0.6 0 1 0 1.2 0a0.6 0.6 0 1 0 -1.2 0M326.8 60.9a0.8 0.8 0 1 0 1.5 0a0.8 0.8 0 1 0 -1.5 0M336.4 53.2a0.8 0.8 0 1 0 1.5 0a0.8 0.8 0 1 0 -1.5 0M342.8 50.5a0.9 0.9 0 1 0 1.7 0a0.9 0.9 0 1 0 -1.7 0M358.6 51.2a0.7 0.7 0 1 0 1.4 0a0.7 0.7 0 1 0 -1.4 0M366.4 45.7a0.5 0.5 0 1 0 1.1 0a0.5 0.5 0 1 0 -1.1 0M369.4 61.1a0.8 0.8 0 1 0 1.6 0a0.8 0.8 0 1 0 -1.6 0M335.6 50.8a0.5 0.5 0 1 0 1.0 0a0.5 0.5 0 1 0 -1.0 0M383.2 57.0a0.7 0.7 0 1 0 1.3 0a0.7 0.7 0 1 0 -1.3 0M365.4 54.7a0.7 0.7 0 1 0 1.5 0a0.7 0.7 0 1 0 -1.5 0M371.6 49.1a0.6 0.6 0 1 0 1.2 0a0.6 0.6 0 1 0 -1.2 0M340.4 57.0a0.6 0.6 0 1 0 1.3 0a0.6 0.6 0 1 0 -1.3 0M348.5 56.3a0.9 0.9 0 1 0 1.8 0a0.9 0.9 0 1 0 -1.8 0M364.1 47.4a0.6 0.6 0 1 0 1.3 0a0.6 0.6 0 1 0 -1.3 0M360.1 54.5a0.8 0.8 0 1 0 1.7 0a0.8 0.8 0 1 0 -1.7 0M341.8 55.1a0.6 0.6 0 1 0 1.3 0a0.6 0.6 0 1 0 -1.3 0M345.7 51.4a0.7 0.7 0 1 0 1.4 0a0.7 0.7 0 1 0 -1.4 0M357.5 44.4a0.5 0.5 0 1 0 1.0 0a0.5 0.5 0 1 0 -1.0 0M354.2 42.3a0.7 0.7 0 1 0 1.3 0a0.7 0.7 0 1 0 -1.3 0M379.7 50.8a0.7 0.7 0 1 0 1.3 0a0.7 0.7 0 1 0 -1.3 0M324.5 64.1a0.7 0.7 0 1 0 1.4 0a0.7 0.7 0 1 0 -1.4 0M345.4 52.6a0.7 0.7 0 1 0 1.3 0a0.7 0.7 0 1 0 -1.3 0M331.1 57.5a0.7 0.7 0 1 0 1.3 0a0.7 0.7 0 1 0 -1.3 0M382.1 47.5a0.9 0.9 0 1 0 1.9 0a0.9 0.9 0 1 0 -1.9 0M314.5 64.5a0.8 0.8 0 1 0 1.6 0a0.8 0.8 0 1 0 -1.6 0M339.4 58.0a0.8 0.8 0 1 0 1.6 0a0.8 0.8 0 1 0 -1.6 0M354.3 48.7a0.7 0.7 0 1 0 1.3 0a0.7 0.7 0 1 0 -1.3 0M334.4 65.5a0.8 0.8 0 1 0 1.6 0a0.8 0.8 0 1 0 -1.6 0M341.3 51.2a0.9 0.9 0 1 0 1.8 0a0.9 0.9 0 1 0 -1.8 0M354.8 58.3a0.9 0.9 0 1 0 1.9 0a0.9 0.9 0 1 0 -1.9 0M377.3 37.0a0.7 0.7 0 1 0 1.3 0a0.7 0.7 0 1 0 -1.3 0M371.3 34.5a0.5 0.5 0 1 0 1.0 0a0.5 0.5 0 1 0 -1.0 0M330.2 66.6a0.9 0.9 0 1 0 1.8 0a0.9 0.9 0 1 0 -1.8 0M384.2 38.4a0.8 0.8 0 1 0 1.6 0a0.8 0.8 0 1 0 -1.6 0M342.7 46.8a0.9 0.9 0 1 0 1.8 0a0.9 0.9 0 1 0 -1.8 0M371.7 43.7a0.8 0.8 0 1 0 1.6 0a0.8 0.8 0 1 0 -1.6 0M377.2 40.8a0.7 0.7 0 1 0 1.4 0a0.7 0.7 0 1 0 -1.4 0M343.4 48.9a0.6 0.6 0 1 0 1.3 0a0.6 0.6 0 1 0 -1.3 0M344.3 40.9a0.9 0.9 0 1 0 1.7 0a0.9 0.9 0 1 0 -1.7 0M354.8 55.1a0.7 0.7 0 1 0 1.3 0a0.7 0.7 0 1 0 -1.3 0M367.9 42.9a0.8 0.8 0 1 0 1.6 0a0.8 0.8 0 1 0 -1.6 0M363.5 52.6a0.9 0.9 0 1 0 1.9 0a0.9 0.9 0 1 0 -1.9 0M353.7 55.9a0.7 0.7 0 1 0 1.4 0a0.7 0.7 0 1 0 -1.4 0M345.0 36.5a0.7 0.7 0 1 0 1.5 0a0.7 0.7 0 1 0 -1.5 0M369.5 55.6a0.5 0.5 0 1 0 1.1 0a0.5 0.5 0 1 0 -1.1 0M331.3 59.4a0.7 0.7 0 1 0 1.4 0a0.7 0.7 0 1 0 -1.4 0M366.3 49.7a0.8 0.8 0 1 0 1.6 0a0.8 0.8 0 1 0 -1.6 0M355.7 49.6a0.9 0.9 0 1 0 1.8 0a0.9 0.9 0 1 0 -1.8 0M375.6 46.7a0.6 0.6 0 1 0 1.2 0a0.6 0.6 0 1 0 -1.2 0M344.2 48.8a0.9 0.9 0 1 0 1.7 0a0.9 0.9 0 1 0 -1.7 0M349.4 59.8a0.6 0.6 0 1 0 1.1 0a0.6 0.6 0 1 0 -1.1 0M354.8 49.5a0.9 0.9 0 1 0 1.8 0a0.9 0.9 0 1 0 -1.8 0M372.9 47.2a0.7 0.7 0 1 0 1.4 0a0.7 0.7 0 1 0 -1.4 0M311.6 58.1a0.8 0.8 0 1 0 1.6 0a0.8 0.8 0 1 0 -1.6 0M381.7 44.3a0.9 0.9 0 1 0 1.7 0a0.9 0.9 0 1 0 -1.7 0M370.8 38.7a0.7 0.7 0 1 0 1.3 0a0.7 0.7 0 1 0 -1.3 0M345.0 66.1a0.8 0.8 0 1 0 1.6 0a0.8 0.8 0 1 0 -1.6 0M337.3 56.7a0.8 0.8 0 1 0 1.7 0a0.8 0.8 0 1 0 -1.7 0M344.1 58.8a0.9 0.9 0 1 0 1.8 0a0.9 0.9 0 1 0 -1.8 0M371.5 41.9a0.9 0.9 0 1 0 1.9 0a0.9 0.9 0 1 0 -1.9 0M322.9 60.1a0.8 0.8 0 1 0 1.5 0a0.8 0.8 0 1 0 -1.5 0M360.3 44.1a0.5 0.5 0 1 0 1.1 0a0.5 0.5 0 1 0 -1.1 0M340.8 55.9a0.8 0.8 0 1 0 1.6 0a0.8 0.8 0 1 0 -1.6 0M390.9 52.3a0.7 0.7 0 1 0 1.3 0a0.7 0.7 0 1 0 -1.3 0M365.0 41.3a0.7 0.7 0 1 0 1.3 0a0.7 0.7 0 1 0 -1.3 0M347.8 48.8a0.9 0.9 0 1 0 1.8 0a0.9 0.9 0 1 0 -1.8 0M313.1 64.8a0.5 0.5 0 1 0 1.1 0a0.5 0.5 0 1 0 -1.1 0M356.0 57.0a0.7 0.7 0 1 0 1.5 0a0.7 0.7 0 1 0 -1.5 0M375.8 48.0a0.6 0.6 0 1 0 1.2 0a0.6 0.6 0 1 0 -1.2 0M333.1 55.7a0.6 0.6 0 1 0 1.1 0a0.6 0.6 0 1 0 -1.1 0M346.3 43.2a0.7 0.7 0 1 0 1.3 0a0.7 0.7 0 1 0 -1.3 0M378.9 44.1a0.5 0.5 0 1 0 1.1 0a0.5 0.5 0 1 0 -1.1 0M351.3 54.8a0.9 0.9 0 1 0 1.7 0a0.9 0.9 0 1 0 -1.7 0M367.3 47.9a0.8 0.8 0 1 0 1.5 0a0.8 0.8 0 1 0 -1.5 0M358.7 42.1a0.5 0.5 0 1 0 1.1 0a0.5 0.5 0 1 0 -1.1 0M363.8 47.6a0.6 0.6 0 1 0 1.3 0a0.6 0.6 0 1 0 -1.3 0M320.9 63.8a0.9 0.9 0 1 0 1.8 0a0.9 0.9 0 1 0 -1.8 0M346.8 54.5a0.9 0.9 0 1 0 1.8 0a0.9 0.9 0 1 0 -1.8 0M375.6 42.7a0.9 0.9 0 1 0 1.8 0a0.9 0.9 0 1 0 -1.8 0M354.5 55.7a0.6 0.6 0 1 0 1.2 0a0.6 0.6 0 1 0 -1.2 0M382.2 47.1a0.5 0.5 0 1 0 1.1 0a0.5 0.5 0 1 0 -1.1 0M369.3 35.9a0.7 0.7 0 1 0 1.4 0a0.7 0.7 0 1 0 -1.4 0M341.3 58.9a0.9 0.9 0 1 0 1.8 0a0.9 0.9 0 1 0 -1.8 0M334.6 60.0a0.6 0.6 0 1 0 1.2 0a0.6 0.6 0 1 0 -1.2 0M376.8 56.4a0.9 0.9 0 1 0 1.7 0a0.9 0.9 0 1 0 -1.7 0M360.5 49.1a0.8 0.8 0 1 0 1.6 0a0.8 0.8 0 1 0 -1.6 0M345.4 48.0a0.7 0.7 0 1 0 1.3 0a0.7 0.7 0 1 0 -1.3 0M375.0 51.6a0.6 0.6 0 1 0 1.3 0a0.6 0.6 0 1 0 -1.3 0M351.2 62.5a0.8 0.8 0 1 0 1.5 0a0.8 0.8 0 1 0 -1.5 0M366.5 59.9a0.6 0.6 0 1 0 1.2 0a0.6 0.6 0 1 0 -1.2 0M385.6 40.5a0.7 0.7 0 1 0 1.5 0a0.7 0.7 0 1 0 -1.5 0M355.0 34.5a0.8 0.8 0 1 0 1.6 0a0.8 0.8 0 1 0 -1.6 0M372.8 31.4a0.8 0.8 0 1 0 1.6 0a0.8 0.8 0 1 0 -1.6 0M366.7 45.6a0.7 0.7 0 1 0 1.4 0a0.7 0.7 0 1 0 -1.4 0M339.6 68.0a0.8 0.8 0 1 0 1.5 0a0.8 0.8 0 1 0 -1.5 0M331.3 63.8a0.6 0.6 0 1 0 1.2 0a0.6 0.6 0 1 0 -1.2 0M350.2 42.5a0.9 0.9 0 1 0 1.9 0a0.9 0.9 0 1 0 -1.9 0M357.0 50.8a0.9 0.9 0 1 0 1.8 0a0.9 0.9 0 1 0 -1.8 0M355.2 60.8a0.8 0.8 0 1 0 1.5 0a0.8 0.8 0 1 0 -1.5 0M382.5 50.9a0.8 0.8 0 1 0 1.5 0a0.8 0.8 0 1 0 -1.5 0M366.3 59.4a0.5 0.5 0 1 0 1.1 0a0.5 0.5 0 1 0 -1.1 0M363.9 42.9a0.6 0.6 0 1 0 1.2 0a0.6 0.6 0 1 0 -1.2 0M357.6 56.0a0.9 0.9 0 1 0 1.8 0a0.9 0.9 0 1 0 -1.8 0M308.1 59.6a0.6 0.6 0 1 0 1.2 0a0.6 0.6 0 1 0 -1.2 0M343.7 67.2a0.6 0.6 0 1 0 1.2 0a0.6 0.6 0 1 0 -1.2 0M351.4 37.9a0.9 0.9 0 1 0 1.9 0a0.9 0.9 0 1 0 -1.9 0M346.0 52.4a0.7 0.7 0 1 0 1.4 0a0.7 0.7 0 1 0 -1.4 0M332.2 44.5a0.5 0.5 0 1 0 1.1 0a0.5 0.5 0 1 0 -1.1 0M369.9 34.1a0.9 0.9 0 1 0 1.8 0a0.9 0.9 0 1 0 -1.8 0M338.0 43.7a0.9 0.9 0 1 0 1.8 0a0.9 0.9 0 1 0 -1.8 0M390.4 51.0a0.8 0.8 0 1 0 1.5 0a0.8 0.8 0 1 0 -1.5 0M350.7 59.0a0.7 0.7 0 1 0 1.5 0a0.7 0.7 0 1 0 -1.5 0M353.5 51.0a0.9 0.9 0 1 0 1.8 0a0.9 0.9 0 1 0 -1.8 0M384.7 51.1a0.7 0.7 0 1 0 1.4 0a0.7 0.7 0 1 0 -1.4 0M342.7 65.6a0.9 0.9 0 1 0 1.7 0a0.9 0.9 0 1 0 -1.7 0M313.7 66.9a0.8 0.8 0 1 0 1.5 0a0.8 0.8 0 1 0 -1.5 0M342.8 63.9a0.8 0.8 0 1 0 1.5 0a0.8 0.8 0 1 0 -1.5 0M365.7 49.6a0.5 0.5 0 1 0 1.1 0a0.5 0.5 0 1 0 -1.1 0M361.2 56.1a0.8 0.8 0 1 0 1.6 0a0.8 0.8 0 1 0 -1.6 0M379.2 51.4a0.6 0.6 0 1 0 1.2 0a0.6 0.6 0 1 0 -1.2 0M382.0 43.7a0.9 0.9 0 1 0 1.8 0a0.9 0.9 0 1 0 -1.8 0M326.0 63.1a0.6 0.6 0 1 0 1.2 0a0.6 0.6 0 1 0 -1.2 0M356.0 43.9a0.7 0.7 0 1 0 1.4 0a0.7 0.7 0 1 0 -1.4 0M377.3 44.4a0.6 0.6 0 1 0 1.2 0a0.6 0.6 0 1 0 -1.2 0M344.6 56.2a0.7 0.7 0 1 0 1.3 0a0.7 0.7 0 1 0 -1.3 0M362.1 53.9a0.9 0.9 0 1 0 1.8 0a0.9 0.9 0 1 0 -1.8 0M338.5 52.4a0.8 0.8 0 1 0 1.5 0a0.8 0.8 0 1 0 -1.5 0M346.2 44.6a0.8 0.8 0 1 0 1.7 0a0.8 0.8 0 1 0 -1.7 0M313.1 64.7a0.6 0.6 0 1 0 1.2 0a0.6 0.6 0 1 0 -1.2 0M324.6 58.7a0.9 0.9 0 1 0 1.8 0a0.9 0.9 0 1 0 -1.8 0M354.9 39.4a0.8 0.8 0 1 0 1.7 0a0.8 0.8 0 1 0 -1.7 0M357.2 46.3a0.6 0.6 0 1 0 1.3 0a0.6 0.6 0 1 0 -1.3 0M340.2 47.4a0.6 0.6 0 1 0 1.3 0a0.6 0.6 0 1 0 -1.3 0M341.5 43.6a0.6 0.6 0 1 0 1.2 0a0.6 0.6 0 1 0 -1.2 0M373.2 40.4a0.9 0.9 0 1 0 1.9 0a0.9 0.9 0 1 0 -1.9 0M316.7 66.5a0.6 0.6 0 1 0 1.2 0a0.6 0.6 0 1 0 -1.2 0M315.5 55.2a0.7 0.7 0 1 0 1.5 0a0.7 0.7 0 1 0 -1.5 0M351.7 45.8a0.6 0.6 0 1 0 1.3 0a0.6 0.6 0 1 0 -1.3 0M352.0 36.7a0.9 0.9 0 1 0 1.8 0a0.9 0.9 0 1 0 -1.8 0M346.9 52.4a0.5 0.5 0 1 0 1.0 0a0.5 0.5 0 1 0 -1.0 0M375.6 39.3a0.7 0.7 0 1 0 1.4 0a0.7 0.7 0 1 0 -1.4 0M324.9 56.0a0.6 0.6 0 1 0 1.1 0a0.6 0.6 0 1 0 -1.1 0M367.5 40.3a0.9 0.9 0 1 0 1.8 0a0.9 0.9 0 1 0 -1.8 0M367.7 55.1a0.8 0.8 0 1 0 1.6 0a0.8 0.8 0 1 0 -1.6 0M325.4 59.6a0.9 0.9 0 1 0 1.8 0a0.9 0.9 0 1 0 -1.8 0M349.6 57.5a0.6 0.6 0 1 0 1.3 0a0.6 0.6 0 1 0 -1.3 0M349.2 66.7a0.7 0.7 0 1 0 1.4 0a0.7 0.7 0 1 0 -1.4 0M347.7 42.6a0.9 0.9 0 1 0 1.8 0a0.9 0.9 0 1 0 -1.8 0M334.9 56.0a0.9 0.9 0 1 0 1.8 0a0.9 0.9 0 1 0 -1.8 0M356.1 61.6a0.8 0.8 0 1 0 1.6 0a0.8 0.8 0 1 0 -1.6 0M347.7 40.9a0.8 0.8 0 1 0 1.7 0a0.8 0.8 0 1 0 -1.7 0M311.9 65.5a0.8 0.8 0 1 0 1.6 0a0.8 0.8 0 1 0 -1.6 0M346.5 56.8a0.8 0.8 0 1 0 1.6 0a0.8 0.8 0 1 0 -1.6 0M341.8 58.9a0.9 0.9 0 1 0 1.8 0a0.9 0.9 0 1 0 -1.8 0M389.2 40.7a0.7 0.7 0 1 0 1.4 0a0.7 0.7 0 1 0 -1.4 0M375.1 41.1a0.6 0.6 0 1 0 1.3 0a0.6 0.6 0 1 0 -1.3 0M369.2 37.0a0.5 0.5 0 1 0 1.0 0a0.5 0.5 0 1 0 -1.0 0M378.8 41.9a0.9 0.9 0 1 0 1.8 0a0.9 0.9 0 1 0 -1.8 0M344.9 52.8a0.7 0.7 0 1 0 1.4 0a0.7 0.7 0 1 0 -1.4 0M335.6 60.5a0.9 0.9 0 1 0 1.9 0a0.9 0.9 0 1 0 -1.9 0M359.1 59.2a0.8 0.8 0 1 0 1.6 0a0.8 0.8 0 1 0 -1.6 0M374.3 43.6a0.7 0.7 0 1 0 1.3 0a0.7 0.7 0 1 0 -1.3 0M322.4 62.7a0.9 0.9 0 1 0 1.9 0a0.9 0.9 0 1 0 -1.9 0M358.1 43.8a0.8 0.8 0 1 0 1.6 0a0.8 0.8 0 1 0 -1.6 0M361.8 38.7a0.9 0.9 0 1 0 1.9 0a0.9 0.9 0 1 0 -1.9 0M369.7 56.9a0.8 0.8 0 1 0 1.6 0a0.8 0.8 0 1 0 -1.6 0M391.8 48.9a0.9 0.9 0 1 0 1.7 0a0.9 0.9 0 1 0 -1.7 0M351.7 56.7a0.8 0.8 0 1 0 1.6 0a0.8 0.8 0 1 0 -1.6 0M311.4 66.1a0.7 0.7 0 1 0 1.4 0a0.7 0.7 0 1 0 -1.4 0M354.9 49.3a0.6 0.6 0 1 0 1.2 0a0.6 0.6 0 1 0 -1.2 0M354.9 58.1a0.8 0.8 0 1 0 1.5 0a0.8 0.8 0 1 0 -1.5 0M362.2 56.5a0.8 0.8 0 1 0 1.5 0a0.8 0.8 0 1 0 -1.5 0M391.5 49.1a0.6 0.6 0 1 0 1.3 0a0.6 0.6 0 1 0 -1.3 0M340.3 57.8a0.6 0.6 0 1 0 1.2 0a0.6 0.6 0 1 0 -1.2 0M343.4 52.4a0.7 0.7 0 1 0 1.5 0a0.7 0.7 0 1 0 -1.5 0M344.3 44.9a0.9 0.9 0 1 0 1.8 0a0.9 0.9 0 1 0 -1.8 0M369.2 45.7a0.9 0.9 0 1 0 1.7 0a0.9 0.9 0 1 0 -1.7 0M370.9 53.5a0.9 0.9 0 1 0 1.8 0a0.9 0.9 0 1 0 -1.8 0M386.0 51.2a0.5 0.5 0 1 0 1.1 0a0.5 0.5 0 1 0 -1.1 0M360.7 48.8a0.9 0.9 0 1 0 1.8 0a0.9 0.9 0 1 0 -1.8 0M330.6 61.9a0.9 0.9 0 1 0 1.8 0a0.9 0.9 0 1 0 -1.8 0M353.9 46.3a0.9 0.9 0 1 0 1.8 0a0.9 0.9 0 1 0 -1.8 0M328.1 58.8a0.8 0.8 0 1 0 1.5 0a0.8 0.8 0 1 0 -1.5 0M365.8 57.6a0.9 0.9 0 1 0 1.7 0a0.9 0.9 0 1 0 -1.7 0M366.5 45.1a0.9 0.9 0 1 0 1.8 0a0.9 0.9 0 1 0 -1.8 0M337.1 64.3a0.9 0.9 0 1 0 1.8 0a0.9 0.9 0 1 0 -1.8 0M336.7 59.9a0.8 0.8 0 1 0 1.5 0a0.8 0.8 0 1 0 -1.5 0M372.0 50.3a0.6 0.6 0 1 0 1.2 0a0.6 0.6 0 1 0 -1.2 0M376.4 55.4a0.9 0.9 0 1 0 1.8 0a0.9 0.9 0 1 0 -1.8 0M389.4 38.6a0.9 0.9 0 1 0 1.9 0a0.9 0.9 0 1 0 -1.9 0M337.2 51.4a0.8 0.8 0 1 0 1.5 0a0.8 0.8 0 1 0 -1.5 0M342.7 42.2a0.7 0.7 0 1 0 1.5 0a0.7 0.7 0 1 0 -1.5 0M370.3 48.4a0.8 0.8 0 1 0 1.5 0a0.8 0.8 0 1 0 -1.5 0M361.8 55.3a0.8 0.8 0 1 0 1.6 0a0.8 0.8 0 1 0 -1.6 0M355.9 48.0a0.7 0.7 0 1 0 1.5 0a0.7 0.7 0 1 0 -1.5 0M355.2 46.4a0.9 0.9 0 1 0 1.9 0a0.9 0.9 0 1 0 -1.9 0M372.3 46.3a0.5 0.5 0 1 0 1.0 0a0.5 0.5 0 1 0 -1.0 0M326.9 56.4a0.6 0.6 0 1 0 1.1 0a0.6 0.6 0 1 0 -1.1 0M319.6 61.6a0.7 0.7 0 1 0 1.4 0a0.7 0.7 0 1 0 -1.4 0M369.1 54.9a0.8 0.8 0 1 0 1.5 0a0.8 0.8 0 1 0 -1.5 0M327.5 64.2a0.7 0.7 0 1 0 1.4 0a0.7 0.7 0 1 0 -1.4 0M348.7 53.3a0.8 0.8 0 1 0 1.6 0a0.8 0.8 0 1 0 -1.6 0M346.3 57.3a0.8 0.8 0 1 0 1.6 0a0.8 0.8 0 1 0 -1.6 0M324.9 62.9a0.8 0.8 0 1 0 1.7 0a0.8 0.8 0 1 0 -1.7 0M364.9 58.4a0.5 0.5 0 1 0 1.0 0a0.5 0.5 0 1 0 -1.0 0M358.7 52.5a0.9 0.9 0 1 0 1.9 0a0.9 0.9 0 1 0 -1.9 0M327.5 55.7a0.9 0.9 0 1 0 1.9 0a0.9 0.9 0 1 0 -1.9 0M362.7 54.5a0.7 0.7 0 1 0 1.5 0a0.7 0.7 0 1 0 -1.5 0M325.0 56.8a0.5 0.5 0 1 0 1.1 0a0.5 0.5 0 1 0 -1.1 0M339.1 64.9a0.9 0.9 0 1 0 1.8 0a0.9 0.9 0 1 0 -1.8 0M328.2 54.8a0.8 0.8 0 1 0 1.6 0a0.8 0.8 0 1 0 -1.6 0M352.4 42.0a0.5 0.5 0 1 0 1.1 0a0.5 0.5 0 1 0 -1.1 0M346.8 61.0a0.8 0.8 0 1 0 1.5 0a0.8 0.8 0 1 0 -1.5 0M356.4 43.2a0.8 0.8 0 1 0 1.7 0a0.8 0.8 0 1 0 -1.7 0M369.0 43.5a0.8 0.8 0 1 0 1.6 0a0.8 0.8 0 1 0 -1.6 0M313.2 64.4a0.5 0.5 0 1 0 1.0 0a0.5 0.5 0 1 0 -1.0 0M375.1 57.5a0.6 0.6 0 1 0 1.2 0a0.6 0.6 0 1 0 -1.2 0M340.1 62.6a0.5 0.5 0 1 0 1.0 0a0.5 0.5 0 1 0 -1.0 0M353.3 64.8a0.7 0.7 0 1 0 1.4 0a0.7 0.7 0 1 0 -1.4 0M334.5 57.3a0.6 0.6 0 1 0 1.2 0a0.6 0.6 0 1 0 -1.2 0M333.6 53.3a0.8 0.8 0 1 0 1.5 0a0.8 0.8 0 1 0 -1.5 0M343.5 46.1a0.8 0.8 0 1 0 1.5 0a0.8 0.8 0 1 0 -1.5 0M357.9 33.6a0.9 0.9 0 1 0 1.7 0a0.9 0.9 0 1 0 -1.7 0M370.7 37.4a0.9 0.9 0 1 0 1.8 0a0.9 0.9 0 1 0 -1.8 0M359.3 42.9a0.8 0.8 0 1 0 1.5 0a0.8 0.8 0 1 0 -1.5 0M344.5 60.9a0.9 0.9 0 1 0 1.9 0a0.9 0.9 0 1 0 -1.9 0M363.3 47.0a0.5 0.5 0 1 0 1.1 0a0.5 0.5 0 1 0 -1.1 0M375.8 46.0a0.7 0.7 0 1 0 1.3 0a0.7 0.7 0 1 0 -1.3 0M312.0 64.3a0.9 0.9 0 1 0 1.9 0a0.9 0.9 0 1 0 -1.9 0M362.9 51.2a0.8 0.8 0 1 0 1.6 0a0.8 0.8 0 1 0 -1.6 0M350.6 63.4a0.8 0.8 0 1 0 1.6 0a0.8 0.8 0 1 0 -1.6 0M359.6 42.0a0.6 0.6 0 1 0 1.1 0a0.6 0.6 0 1 0 -1.1 0M317.5 60.6a0.7 0.7 0 1 0 1.5 0a0.7 0.7 0 1 0 -1.5 0M328.9 60.2a0.6 0.6 0 1 0 1.3 0a0.6 0.6 0 1 0 -1.3 0M313.6 64.3a0.9 0.9 0 1 0 1.9 0a0.9 0.9 0 1 0 -1.9 0M351.5 50.1a0.6 0.6 0 1 0 1.1 0a0.6 0.6 0 1 0 -1.1 0M358.4 47.2a0.9 0.9 0 1 0 1.7 0a0.9 0.9 0 1 0 -1.7 0M364.5 47.5a0.5 0.5 0 1 0 1.1 0a0.5 0.5 0 1 0 -1.1 0M356.3 53.4a0.6 0.6 0 1 0 1.2 0a0.6 0.6 0 1 0 -1.2 0M368.6 38.6a0.6 0.6 0 1 0 1.3 0a0.6 0.6 0 1 0 -1.3 0M373.2 52.1a0.5 0.5 0 1 0 1.1 0a0.5 0.5 0 1 0 -1.1 0M326.5 63.3a0.6 0.6 0 1 0 1.2 0a0.6 0.6 0 1 0 -1.2 0M341.7 48.5a0.9 0.9 0 1 0 1.8 0a0.9 0.9 0 1 0 -1.8 0M316.7 63.5a0.5 0.5 0 1 0 1.0 0a0.5 0.5 0 1 0 -1.0 0M390.6 52.7a0.6 0.6 0 1 0 1.2 0a0.6 0.6 0 1 0 -1.2 0M342.5 60.8a0.8 0.8 0 1 0 1.6 0a0.8 0.8 0 1 0 -1.6 0M336.2 62.5a0.9 0.9 0 1 0 1.8 0a0.9 0.9 0 1 0 -1.8 0M320.4 60.5a0.9 0.9 0 1 0 1.9 0a0.9 0.9 0 1 0 -1.9 0M348.4 52.8a0.5 0.5 0 1 0 1.0 0a0.5 0.5 0 1 0 -1.0 0M346.4 45.0a0.7 0.7 0 1 0 1.4 0a0.7 0.7 0 1 0 -1.4 0M332.9 55.8a0.6 0.6 0 1 0 1.2 0a0.6 0.6 0 1 0 -1.2 0M345.5 64.3a0.8 0.8 0 1 0 1.7 0a0.8 0.8 0 1 0 -1.7 0M370.0 41.0a0.7 0.7 0 1 0 1.5 0a0.7 0.7 0 1 0 -1.5 0M373.6 47.8a0.5 0.5 0 1 0 1.1 0a0.5 0.5 0 1 0 -1.1 0M322.1 66.8a0.7 0.7 0 1 0 1.5 0a0.7 0.7 0 1 0 -1.5 0M367.7 42.5a0.5 0.5 0 1 0 1.1 0a0.5 0.5 0 1 0 -1.1 0M366.0 59.9a0.8 0.8 0 1 0 1.6 0a0.8 0.8 0 1 0 -1.6 0M386.9 40.2a0.8 0.8 0 1 0 1.7 0a0.8 0.8 0 1 0 -1.7 0M322.5 61.4a0.9 0.9 0 1 0 1.8 0a0.9 0.9 0 1 0 -1.8 0M318.7 65.4a0.7 0.7 0 1 0 1.4 0a0.7 0.7 0 1 0 -1.4 0M348.1 64.3a0.9 0.9 0 1 0 1.8 0a0.9 0.9 0 1 0 -1.8 0M367.0 50.4a0.7 0.7 0 1 0 1.3 0a0.7 0.7 0 1 0 -1.3 0M343.1 49.5a0.8 0.8 0 1 0 1.6 0a0.8 0.8 0 1 0 -1.6 0M380.4 42.8a0.7 0.7 0 1 0 1.5 0a0.7 0.7 0 1 0 -1.5 0M315.8 62.8a0.7 0.7 0 1 0 1.4 0a0.7 0.7 0 1 0 -1.4 0M350.3 51.9a0.7 0.7 0 1 0 1.4 0a0.7 0.7 0 1 0 -1.4 0M348.5 56.6a0.9 0.9 0 1 0 1.9 0a0.9 0.9 0 1 0 -1.9 0M377.9 41.2a0.9 0.9 0 1 0 1.8 0a0.9 0.9 0 1 0 -1.8 0M377.2 43.8a0.9 0.9 0 1 0 1.9 0a0.9 0.9 0 1 0 -1.9 0M338.7 61.9a0.8 0.8 0 1 0 1.7 0a0.8 0.8 0 1 0 -1.7 0M383.7 37.0a0.7 0.7 0 1 0 1.4 0a0.7 0.7 0 1 0 -1.4 0M365.5 48.1a0.7 0.7 0 1 0 1.4 0a0.7 0.7 0 1 0 -1.4 0M373.1 43.5a0.9 0.9 0 1 0 1.8 0a0.9 0.9 0 1 0 -1.8 0M330.2 62.1a0.6 0.6 0 1 0 1.2 0a0.6 0.6 0 1 0 -1.2 0M329.4 66.0a0.7 0.7 0 1 0 1.3 0a0.7 0.7 0 1 0 -1.3 0M370.3 50.3a0.6 0.6 0 1 0 1.2 0a0.6 0.6 0 1 0 -1.2 0M364.3 51.2a0.6 0.6 0 1 0 1.3 0a0.6 0.6 0 1 0 -1.3 0M377.9 35.3a0.5 0.5 0 1 0 1.1 0a0.5 0.5 0 1 0 -1.1 0M329.8 60.3a0.9 0.9 0 1 0 1.7 0a0.9 0.9 0 1 0 -1.7 0M321.5 61.4a0.7 0.7 0 1 0 1.3 0a0.7 0.7 0 1 0 -1.3 0M346.4 58.9a0.6 0.6 0 1 0 1.3 0a0.6 0.6 0 1 0 -1.3 0M379.8 46.6a0.7 0.7 0 1 0 1.4 0a0.7 0.7 0 1 0 -1.4 0M312.5 62.9a0.7 0.7 0 1 0 1.3 0a0.7 0.7 0 1 0 -1.3 0M360.0 50.0a0.8 0.8 0 1 0 1.7 0a0.8 0.8 0 1 0 -1.7 0M346.7 53.6a0.8 0.8 0 1 0 1.6 0a0.8 0.8 0 1 0 -1.6 0M352.6 56.3a0.6 0.6 0 1 0 1.2 0a0.6 0.6 0 1 0 -1.2 0M373.2 49.8a0.9 0.9 0 1 0 1.9 0a0.9 0.9 0 1 0 -1.9 0M348.0 55.9a0.7 0.7 0 1 0 1.5 0a0.7 0.7 0 1 0 -1.5 0M333.9 51.7a0.9 0.9 0 1 0 1.8 0a0.9 0.9 0 1 0 -1.8 0M369.3 50.7a0.8 0.8 0 1 0 1.6 0a0.8 0.8 0 1 0 -1.6 0M326.1 62.9a0.7 0.7 0 1 0 1.4 0a0.7 0.7 0 1 0 -1.4 0M338.9 51.2a0.8 0.8 0 1 0 1.6 0a0.8 0.8 0 1 0 -1.6 0M341.3 68.8a0.6 0.6 0 1 0 1.3 0a0.6 0.6 0 1 0 -1.3 0M327.7 61.0a0.8 0.8 0 1 0 1.5 0a0.8 0.8 0 1 0 -1.5 0M337.8 46.7a0.7 0.7 0 1 0 1.4 0a0.7 0.7 0 1 0 -1.4 0M355.1 49.8a0.9 0.9 0 1 0 1.8 0a0.9 0.9 0 1 0 -1.8 0M340.1 49.4a0.8 0.8 0 1 0 1.7 0a0.8 0.8 0 1 0 -1.7 0M376.7 52.9a0.8 0.8 0 1 0 1.6 0a0.8 0.8 0 1 0 -1.6 0M362.0 29.9a0.9 0.9 0 1 0 1.8 0a0.9 0.9 0 1 0 -1.8 0M373.5 49.0a0.6 0.6 0 1 0 1.2 0a0.6 0.6 0 1 0 -1.2 0M343.1 50.1a0.9 0.9 0 1 0 1.9 0a0.9 0.9 0 1 0 -1.9 0M360.3 59.2a0.6 0.6 0 1 0 1.2 0a0.6 0.6 0 1 0 -1.2 0M361.6 55.1a0.7 0.7 0 1 0 1.4 0a0.7 0.7 0 1 0 -1.4 0M362.9 36.9a0.6 0.6 0 1 0 1.2 0a0.6 0.6 0 1 0 -1.2 0M363.9 50.2a0.7 0.7 0 1 0 1.4 0a0.7 0.7 0 1 0 -1.4 0M333.8 59.2a0.8 0.8 0 1 0 1.7 0a0.8 0.8 0 1 0 -1.7 0M311.6 63.8a0.6 0.6 0 1 0 1.3 0a0.6 0.6 0 1 0 -1.3 0M346.5 57.9a0.8 0.8 0 1 0 1.7 0a0.8 0.8 0 1 0 -1.7 0M374.3 48.6a0.7 0.7 0 1 0 1.4 0a0.7 0.7 0 1 0 -1.4 0M378.3 38.1a0.6 0.6 0 1 0 1.3 0a0.6 0.6 0 1 0 -1.3 0M351.4 42.0a0.6 0.6 0 1 0 1.1 0a0.6 0.6 0 1 0 -1.1 0M352.5 51.7a0.6 0.6 0 1 0 1.1 0a0.6 0.6 0 1 0 -1.1 0M342.9 60.8a0.6 0.6 0 1 0 1.1 0a0.6 0.6 0 1 0 -1.1 0M345.3 56.7a0.8 0.8 0 1 0 1.6 0a0.8 0.8 0 1 0 -1.6 0M353.3 52.0a0.7 0.7 0 1 0 1.3 0a0.7 0.7 0 1 0 -1.3 0M351.5 62.7a0.6 0.6 0 1 0 1.1 0a0.6 0.6 0 1 0 -1.1 0M374.7 44.8a0.8 0.8 0 1 0 1.6 0a0.8 0.8 0 1 0 -1.6 0M366.1 41.2a0.9 0.9 0 1 0 1.8 0a0.9 0.9 0 1 0 -1.8 0M351.2 54.2a0.6 0.6 0 1 0 1.2 0a0.6 0.6 0 1 0 -1.2 0M316.4 66.2a0.9 0.9 0 1 0 1.7 0a0.9 0.9 0 1 0 -1.7 0M384.2 32.2a0.5 0.5 0 1 0 1.0 0a0.5 0.5 0 1 0 -1.0 0M361.6 37.5a0.8 0.8 0 1 0 1.5 0a0.8 0.8 0 1 0 -1.5 0M355.3 31.6a0.9 0.9 0 1 0 1.8 0a0.9 0.9 0 1 0 -1.8 0M342.7 44.2a0.6 0.6 0 1 0 1.2 0a0.6 0.6 0 1 0 -1.2 0M348.8 55.4a0.6 0.6 0 1 0 1.3 0a0.6 0.6 0 1 0 -1.3 0M322.9 59.5a0.7 0.7 0 1 0 1.4 0a0.7 0.7 0 1 0 -1.4 0M323.5 57.9a0.7 0.7 0 1 0 1.4 0a0.7 0.7 0 1 0 -1.4 0M366.9 62.0a0.9 0.9 0 1 0 1.7 0a0.9 0.9 0 1 0 -1.7 0M351.4 49.0a0.8 0.8 0 1 0 1.7 0a0.8 0.8 0 1 0 -1.7 0M342.4 58.9a0.6 0.6 0 1 0 1.2 0a0.6 0.6 0 1 0 -1.2 0M382.9 43.3a0.7 0.7 0 1 0 1.5 0a0.7 0.7 0 1 0 -1.5 0M357.9 52.4a0.9 0.9 0 1 0 1.7 0a0.9 0.9 0 1 0 -1.7 0M351.3 53.0a0.7 0.7 0 1 0 1.3 0a0.7 0.7 0 1 0 -1.3 0M373.6 53.0a0.9 0.9 0 1 0 1.7 0a0.9 0.9 0 1 0 -1.7 0M340.6 52.7a0.8 0.8 0 1 0 1.7 0a0.8 0.8 0 1 0 -1.7 0M335.9 48.0a0.9 0.9 0 1 0 1.7 0a0.9 0.9 0 1 0 -1.7 0M364.9 39.5a0.9 0.9 0 1 0 1.7 0a0.9 0.9 0 1 0 -1.7 0M371.8 49.0a0.5 0.5 0 1 0 1.0 0a0.5 0.5 0 1 0 -1.0 0M334.1 65.1a0.6 0.6 0 1 0 1.3 0a0.6 0.6 0 1 0 -1.3 0M357.6 53.2a0.5 0.5 0 1 0 1.0 0a0.5 0.5 0 1 0 -1.0 0M330.2 56.4a0.6 0.6 0 1 0 1.1 0a0.6 0.6 0 1 0 -1.1 0M377.4 42.3a0.8 0.8 0 1 0 1.6 0a0.8 0.8 0 1 0 -1.6 0M307.5 65.1a0.5 0.5 0 1 0 1.1 0a0.5 0.5 0 1 0 -1.1 0M378.3 34.6a0.9 0.9 0 1 0 1.9 0a0.9 0.9 0 1 0 -1.9 0M348.9 55.8a0.8 0.8 0 1 0 1.5 0a0.8 0.8 0 1 0 -1.5 0M319.6 61.1a0.9 0.9 0 1 0 1.9 0a0.9 0.9 0 1 0 -1.9 0M353.3 44.3a0.8 0.8 0 1 0 1.5 0a0.8 0.8 0 1 0 -1.5 0M346.4 52.7a0.9 0.9 0 1 0 1.8 0a0.9 0.9 0 1 0 -1.8 0M311.5 63.8a0.9 0.9 0 1 0 1.8 0a0.9 0.9 0 1 0 -1.8 0M378.6 44.4a0.7 0.7 0 1 0 1.4 0a0.7 0.7 0 1 0 -1.4 0M350.7 37.9a0.5 0.5 0 1 0 1.0 0a0.5 0.5 0 1 0 -1.0 0M361.4 54.8a0.7 0.7 0 1 0 1.4 0a0.7 0.7 0 1 0 -1.4 0M316.3 62.0a0.8 0.8 0 1 0 1.7 0a0.8 0.8 0 1 0 -1.7 0M314.3 67.0a0.9 0.9 0 1 0 1.9 0a0.9 0.9 0 1 0 -1.9 0M326.8 60.4a0.8 0.8 0 1 0 1.6 0a0.8 0.8 0 1 0 -1.6 0M340.1 65.1a0.7 0.7 0 1 0 1.4 0a0.7 0.7 0 1 0 -1.4 0M355.1 52.8a0.6 0.6 0 1 0 1.2 0a0.6 0.6 0 1 0 -1.2 0M331.1 60.0a0.5 0.5 0 1 0 1.0 0a0.5 0.5 0 1 0 -1.0 0M367.1 43.6a0.5 0.5 0 1 0 1.1 0a0.5 0.5 0 1 0 -1.1 0M362.6 33.5a0.7 0.7 0 1 0 1.4 0a0.7 0.7 0 1 0 -1.4 0M343.8 44.0a0.8 0.8 0 1 0 1.5 0a0.8 0.8 0 1 0 -1.5 0M343.6 51.1a0.7 0.7 0 1 0 1.5 0a0.7 0.7 0 1 0 -1.5 0M317.2 59.3a0.6 0.6 0 1 0 1.1 0a0.6 0.6 0 1 0 -1.1 0M364.2 56.2a0.8 0.8 0 1 0 1.6 0a0.8 0.8 0 1 0 -1.6 0M321.5 54.9a0.5 0.5 0 1 0 1.1 0a0.5 0.5 0 1 0 -1.1 0M370.5 51.4a0.8 0.8 0 1 0 1.5 0a0.8 0.8 0 1 0 -1.5 0M331.5 58.0a0.5 0.5 0 1 0 1.0 0a0.5 0.5 0 1 0 -1.0 0M357.5 58.2a0.9 0.9 0 1 0 1.7 0a0.9 0.9 0 1 0 -1.7 0M314.0 57.7a0.7 0.7 0 1 0 1.3 0a0.7 0.7 0 1 0 -1.3 0M384.9 43.8a0.6 0.6 0 1 0 1.1 0a0.6 0.6 0 1 0 -1.1 0M353.2 59.6a0.8 0.8 0 1 0 1.7 0a0.8 0.8 0 1 0 -1.7 0M340.5 51.2a0.6 0.6 0 1 0 1.2 0a0.6 0.6 0 1 0 -1.2 0M371.7 42.2a0.9 0.9 0 1 0 1.8 0a0.9 0.9 0 1 0 -1.8 0M318.2 63.2a0.7 0.7 0 1 0 1.3 0a0.7 0.7 0 1 0 -1.3 0M315.0 60.6a0.7 0.7 0 1 0 1.4 0a0.7 0.7 0 1 0 -1.4 0M382.2 50.8a0.9 0.9 0 1 0 1.9 0a0.9 0.9 0 1 0 -1.9 0M345.6 63.6a0.8 0.8 0 1 0 1.5 0a0.8 0.8 0 1 0 -1.5 0M384.1 50.6a0.9 0.9 0 1 0 1.8 0a0.9 0.9 0 1 0 -1.8 0M375.1 58.2a0.8 0.8 0 1 0 1.6 0a0.8 0.8 0 1 0 -1.6 0M316.7 58.5a0.6 0.6 0 1 0 1.3 0a0.6 0.6 0 1 0 -1.3 0M370.8 41.7a0.5 0.5 0 1 0 1.0 0a0.5 0.5 0 1 0 -1.0 0M325.5 59.4a0.6 0.6 0 1 0 1.2 0a0.6 0.6 0 1 0 -1.2 0M348.3 50.3a0.6 0.6 0 1 0 1.3 0a0.6 0.6 0 1 0 -1.3 0M375.9 45.5a0.9 0.9 0 1 0 1.8 0a0.9 0.9 0 1 0 -1.8 0M309.3 60.6a0.7 0.7 0 1 0 1.3 0a0.7 0.7 0 1 0 -1.3 0M344.5 69.6a0.9 0.9 0 1 0 1.7 0a0.9 0.9 0 1 0 -1.7 0M340.6 56.7a0.9 0.9 0 1 0 1.8 0a0.9 0.9 0 1 0 -1.8 0M351.5 53.7a0.7 0.7 0 1 0 1.3 0a0.7 0.7 0 1 0 -1.3 0M316.2 61.7a0.5 0.5 0 1 0 1.1 0a0.5 0.5 0 1 0 -1.1 0M335.6 69.2a0.9 0.9 0 1 0 1.7 0a0.9 0.9 0 1 0 -1.7 0M345.4 44.1a0.7 0.7 0 1 0 1.5 0a0.7 0.7 0 1 0 -1.5 0M342.0 59.2a0.7 0.7 0 1 0 1.4 0a0.7 0.7 0 1 0 -1.4 0M308.9 61.5a0.7 0.7 0 1 0 1.3 0a0.7 0.7 0 1 0 -1.3 0M345.3 58.4a0.9 0.9 0 1 0 1.7 0a0.9 0.9 0 1 0 -1.7 0M364.3 43.6a0.9 0.9 0 1 0 1.9 0a0.9 0.9 0 1 0 -1.9 0M329.6 59.2a0.6 0.6 0 1 0 1.2 0a0.6 0.6 0 1 0 -1.2 0M351.8 42.9a0.5 0.5 0 1 0 1.0 0a0.5 0.5 0 1 0 -1.0 0M364.4 48.5a0.9 0.9 0 1 0 1.7 0a0.9 0.9 0 1 0 -1.7 0M360.4 47.5a0.8 0.8 0 1 0 1.7 0a0.8 0.8 0 1 0 -1.7 0M385.5 56.6a0.5 0.5 0 1 0 1.0 0a0.5 0.5 0 1 0 -1.0 0M345.8 59.1a0.6 0.6 0 1 0 1.2 0a0.6 0.6 0 1 0 -1.2 0M333.5 64.6a0.7 0.7 0 1 0 1.5 0a0.7 0.7 0 1 0 -1.5 0M314.3 59.6a0.5 0.5 0 1 0 1.0 0a0.5 0.5 0 1 0 -1.0 0M346.4 46.8a0.7 0.7 0 1 0 1.3 0a0.7 0.7 0 1 0 -1.3 0M374.7 37.8a0.7 0.7 0 1 0 1.4 0a0.7 0.7 0 1 0 -1.4 0M350.4 35.4a0.8 0.8 0 1 0 1.6 0a0.8 0.8 0 1 0 -1.6 0M343.3 61.1a0.6 0.6 0 1 0 1.2 0a0.6 0.6 0 1 0 -1.2 0M383.9 43.9a0.8 0.8 0 1 0 1.6 0a0.8 0.8 0 1 0 -1.6 0M351.5 46.6a0.7 0.7 0 1 0 1.5 0a0.7 0.7 0 1 0 -1.5 0M342.9 54.7a0.9 0.9 0 1 0 1.8 0a0.9 0.9 0 1 0 -1.8 0M375.7 37.8a0.6 0.6 0 1 0 1.3 0a0.6 0.6 0 1 0 -1.3 0M357.2 37.1a0.5 0.5 0 1 0 1.1 0a0.5 0.5 0 1 0 -1.1 0M383.7 48.0a0.7 0.7 0 1 0 1.4 0a0.7 0.7 0 1 0 -1.4 0M323.0 67.2a0.6 0.6 0 1 0 1.2 0a0.6 0.6 0 1 0 -1.2 0M350.7 54.4a0.8 0.8 0 1 0 1.7 0a0.8 0.8 0 1 0 -1.7 0M362.1 57.6a0.5 0.5 0 1 0 1.1 0a0.5 0.5 0 1 0 -1.1 0M372.3 49.7a0.6 0.6 0 1 0 1.2 0a0.6 0.6 0 1 0 -1.2 0M353.6 39.1a0.7 0.7 0 1 0 1.4 0a0.7 0.7 0 1 0 -1.4 0M379.3 60.4a0.8 0.8 0 1 0 1.5 0a0.8 0.8 0 1 0 -1.5 0M374.0 41.9a0.8 0.8 0 1 0 1.7 0a0.8 0.8 0 1 0 -1.7 0M379.2 51.5a0.6 0.6 0 1 0 1.2 0a0.6 0.6 0 1 0 -1.2 0M357.8 51.3a0.5 0.5 0 1 0 1.1 0a0.5 0.5 0 1 0 -1.1 0M346.9 60.1a0.5 0.5 0 1 0 1.1 0a0.5 0.5 0 1 0 -1.1 0M338.7 54.2a0.8 0.8 0 1 0 1.6 0a0.8 0.8 0 1 0 -1.6 0M374.0 55.8a0.8 0.8 0 1 0 1.5 0a0.8 0.8 0 1 0 -1.5 0M358.6 43.9a0.7 0.7 0 1 0 1.5 0a0.7 0.7 0 1 0 -1.5 0M382.9 48.3a0.7 0.7 0 1 0 1.4 0a0.7 0.7 0 1 0 -1.4 0M338.4 46.5a0.8 0.8 0 1 0 1.6 0a0.8 0.8 0 1 0 -1.6 0M372.8 55.7a0.6 0.6 0 1 0 1.1 0a0.6 0.6 0 1 0 -1.1 0M316.5 63.4a0.9 0.9 0 1 0 1.8 0a0.9 0.9 0 1 0 -1.8 0M324.6 54.9a0.7 0.7 0 1 0 1.4 0a0.7 0.7 0 1 0 -1.4 0M340.2 58.7a0.8 0.8 0 1 0 1.6 0a0.8 0.8 0 1 0 -1.6 0M356.3 33.6a0.8 0.8 0 1 0 1.6 0a0.8 0.8 0 1 0 -1.6 0M347.5 55.4a0.5 0.5 0 1 0 1.0 0a0.5 0.5 0 1 0 -1.0 0M369.0 38.0a0.8 0.8 0 1 0 1.5 0a0.8 0.8 0 1 0 -1.5 0M342.5 58.5a0.6 0.6 0 1 0 1.1 0a0.6 0.6 0 1 0 -1.1 0M373.4 35.6a0.7 0.7 0 1 0 1.4 0a0.7 0.7 0 1 0 -1.4 0M344.8 55.0a0.8 0.8 0 1 0 1.5 0a0.8 0.8 0 1 0 -1.5 0M374.7 50.7a0.9 0.9 0 1 0 1.9 0a0.9 0.9 0 1 0 -1.9 0M317.7 62.3a0.7 0.7 0 1 0 1.3 0a0.7 0.7 0 1 0 -1.3 0M384.9 49.9a0.8 0.8 0 1 0 1.5 0a0.8 0.8 0 1 0 -1.5 0M347.8 61.5a0.6 0.6 0 1 0 1.1 0a0.6 0.6 0 1 0 -1.1 0M315.9 66.0a0.8 0.8 0 1 0 1.7 0a0.8 0.8 0 1 0 -1.7 0M333.0 65.8a0.6 0.6 0 1 0 1.2 0a0.6 0.6 0 1 0 -1.2 0M378.6 45.8a0.5 0.5 0 1 0 1.0 0a0.5 0.5 0 1 0 -1.0 0M368.7 45.8a0.6 0.6 0 1 0 1.2 0a0.6 0.6 0 1 0 -1.2 0M352.5 69.8a0.8 0.8 0 1 0 1.5 0a0.8 0.8 0 1 0 -1.5 0M324.3 54.9a0.9 0.9 0 1 0 1.9 0a0.9 0.9 0 1 0 -1.9 0M355.1 49.1a0.7 0.7 0 1 0 1.4 0a0.7 0.7 0 1 0 -1.4 0M370.3 50.8a0.6 0.6 0 1 0 1.2 0a0.6 0.6 0 1 0 -1.2 0M353.8 52.4a0.6 0.6 0 1 0 1.1 0a0.6 0.6 0 1 0 -1.1 0M344.8 53.4a0.8 0.8 0 1 0 1.5 0a0.8 0.8 0 1 0 -1.5 0M365.2 62.7a0.7 0.7 0 1 0 1.4 0a0.7 0.7 0 1 0 -1.4 0M312.1 60.6a0.9 0.9 0 1 0 1.8 0a0.9 0.9 0 1 0 -1.8 0M336.8 55.2a0.7 0.7 0 1 0 1.4 0a0.7 0.7 0 1 0 -1.4 0M315.4 67.1a0.9 0.9 0 1 0 1.9 0a0.9 0.9 0 1 0 -1.9 0M368.6 51.5a0.6 0.6 0 1 0 1.3 0a0.6 0.6 0 1 0 -1.3 0M374.9 36.1a0.6 0.6 0 1 0 1.2 0a0.6 0.6 0 1 0 -1.2 0M310.6 60.8a0.5 0.5 0 1 0 1.1 0a0.5 0.5 0 1 0 -1.1 0M328.5 59.4a0.6 0.6 0 1 0 1.3 0a0.6 0.6 0 1 0 -1.3 0M322.8 64.8a0.6 0.6 0 1 0 1.3 0a0.6 0.6 0 1 0 -1.3 0M343.4 64.1a0.8 0.8 0 1 0 1.7 0a0.8 0.8 0 1 0 -1.7 0M319.6 62.0a0.8 0.8 0 1 0 1.7 0a0.8 0.8 0 1 0 -1.7 0M349.3 46.7a0.6 0.6 0 1 0 1.2 0a0.6 0.6 0 1 0 -1.2 0M359.3 46.3a0.9 0.9 0 1 0 1.8 0a0.9 0.9 0 1 0 -1.8 0M364.4 35.2a0.9 0.9 0 1 0 1.8 0a0.9 0.9 0 1 0 -1.8 0M342.4 49.3a0.6 0.6 0 1 0 1.3 0a0.6 0.6 0 1 0 -1.3 0M346.6 41.6a0.5 0.5 0 1 0 1.0 0a0.5 0.5 0 1 0 -1.0 0M346.2 47.1a0.6 0.6 0 1 0 1.3 0a0.6 0.6 0 1 0 -1.3 0M332.7 61.9a0.6 0.6 0 1 0 1.2 0a0.6 0.6 0 1 0 -1.2 0M361.2 50.2a0.8 0.8 0 1 0 1.7 0a0.8 0.8 0 1 0 -1.7 0M321.6 68.1a0.6 0.6 0 1 0 1.2 0a0.6 0.6 0 1 0 -1.2 0M385.7 46.5a0.6 0.6 0 1 0 1.1 0a0.6 0.6 0 1 0 -1.1 0M356.1 45.8a0.7 0.7 0 1 0 1.3 0a0.7 0.7 0 1 0 -1.3 0M346.6 61.1a0.8 0.8 0 1 0 1.6 0a0.8 0.8 0 1 0 -1.6 0M354.6 39.4a0.8 0.8 0 1 0 1.6 0a0.8 0.8 0 1 0 -1.6 0M343.6 62.7a0.9 0.9 0 1 0 1.8 0a0.9 0.9 0 1 0 -1.8 0M331.7 62.4a0.6 0.6 0 1 0 1.3 0a0.6 0.6 0 1 0 -1.3 0M342.5 67.3a0.9 0.9 0 1 0 1.8 0a0.9 0.9 0 1 0 -1.8 0M327.7 66.2a0.8 0.8 0 1 0 1.6 0a0.8 0.8 0 1 0 -1.6 0M369.2 38.1a0.9 0.9 0 1 0 1.7 0a0.9 0.9 0 1 0 -1.7 0M369.7 45.6a0.6 0.6 0 1 0 1.3 0a0.6 0.6 0 1 0 -1.3 0M348.4 51.7a0.7 0.7 0 1 0 1.5 0a0.7 0.7 0 1 0 -1.5 0M327.7 61.2a0.9 0.9 0 1 0 1.8 0a0.9 0.9 0 1 0 -1.8 0M323.8 59.7a0.5 0.5 0 1 0 1.0 0a0.5 0.5 0 1 0 -1.0 0M359.4 39.1a0.9 0.9 0 1 0 1.8 0a0.9 0.9 0 1 0 -1.8 0M371.5 53.2a0.6 0.6 0 1 0 1.1 0a0.6 0.6 0 1 0 -1.1 0M369.1 46.6a0.9 0.9 0 1 0 1.9 0a0.9 0.9 0 1 0 -1.9 0M311.0 63.1a0.6 0.6 0 1 0 1.2 0a0.6 0.6 0 1 0 -1.2 0M342.1 62.4a0.9 0.9 0 1 0 1.9 0a0.9 0.9 0 1 0 -1.9 0M309.6 65.3a0.7 0.7 0 1 0 1.4 0a0.7 0.7 0 1 0 -1.4 0M345.4 46.7a0.6 0.6 0 1 0 1.1 0a0.6 0.6 0 1 0 -1.1 0M356.8 42.6a0.7 0.7 0 1 0 1.4 0a0.7 0.7 0 1 0 -1.4 0M334.9 59.0a0.9 0.9 0 1 0 1.7 0a0.9 0.9 0 1 0 -1.7 0M310.9 62.8a0.6 0.6 0 1 0 1.3 0a0.6 0.6 0 1 0 -1.3 0M322.3 62.3a0.8 0.8 0 1 0 1.6 0a0.8 0.8 0 1 0 -1.6 0M352.9 48.3a0.5 0.5 0 1 0 1.1 0a0.5 0.5 0 1 0 -1.1 0M340.8 46.9a0.5 0.5 0 1 0 1.0 0a0.5 0.5 0 1 0 -1.0 0M331.4 53.7a0.7 0.7 0 1 0 1.5 0a0.7 0.7 0 1 0 -1.5 0M320.0 63.8a0.6 0.6 0 1 0 1.1 0a0.6 0.6 0 1 0 -1.1 0M326.3 57.4a0.9 0.9 0 1 0 1.9 0a0.9 0.9 0 1 0 -1.9 0M354.5 41.2a0.7 0.7 0 1 0 1.5 0a0.7 0.7 0 1 0 -1.5 0M342.5 50.6a0.6 0.6 0 1 0 1.2 0a0.6 0.6 0 1 0 -1.2 0M382.9 38.9a0.7 0.7 0 1 0 1.4 0a0.7 0.7 0 1 0 -1.4 0M384.9 40.0a0.6 0.6 0 1 0 1.2 0a0.6 0.6 0 1 0 -1.2 0M345.7 58.5a0.8 0.8 0 1 0 1.6 0a0.8 0.8 0 1 0 -1.6 0M340.3 64.3a0.6 0.6 0 1 0 1.2 0a0.6 0.6 0 1 0 -1.2 0M370.3 39.9a0.8 0.8 0 1 0 1.6 0a0.8 0.8 0 1 0 -1.6 0M368.6 57.0a0.9 0.9 0 1 0 1.7 0a0.9 0.9 0 1 0 -1.7 0M360.0 33.5a0.7 0.7 0 1 0 1.3 0a0.7 0.7 0 1 0 -1.3 0M364.7 55.9a0.6 0.6 0 1 0 1.3 0a0.6 0.6 0 1 0 -1.3 0M348.4 61.0a0.7 0.7 0 1 0 1.5 0a0.7 0.7 0 1 0 -1.5 0M336.5 43.9a0.7 0.7 0 1 0 1.5 0a0.7 0.7 0 1 0 -1.5 0M363.3 46.5a0.7 0.7 0 1 0 1.3 0a0.7 0.7 0 1 0 -1.3 0M352.5 47.5a0.9 0.9 0 1 0 1.7 0a0.9 0.9 0 1 0 -1.7 0M343.5 47.7a0.8 0.8 0 1 0 1.7 0a0.8 0.8 0 1 0 -1.7 0M357.9 59.6a0.8 0.8 0 1 0 1.5 0a0.8 0.8 0 1 0 -1.5 0M343.5 38.7a0.7 0.7 0 1 0 1.5 0a0.7 0.7 0 1 0 -1.5 0M333.3 63.9a0.7 0.7 0 1 0 1.4 0a0.7 0.7 0 1 0 -1.4 0M366.5 52.9a0.6 0.6 0 1 0 1.2 0a0.6 0.6 0 1 0 -1.2 0M354.5 60.5a0.6 0.6 0 1 0 1.2 0a0.6 0.6 0 1 0 -1.2 0M340.6 47.3a0.5 0.5 0 1 0 1.0 0a0.5 0.5 0 1 0 -1.0 0M352.3 50.9a0.7 0.7 0 1 0 1.4 0a0.7 0.7 0 1 0 -1.4 0M377.9 40.6a0.8 0.8 0 1 0 1.6 0a0.8 0.8 0 1 0 -1.6 0M366.1 44.3a0.9 0.9 0 1 0 1.7 0a0.9 0.9 0 1 0 -1.7 0M375.6 40.5a0.5 0.5 0 1 0 1.0 0a0.5 0.5 0 1 0 -1.0 0M343.0 59.0a0.6 0.6 0 1 0 1.2 0a0.6 0.6 0 1 0 -1.2 0M343.2 47.7a0.9 0.9 0 1 0 1.8 0a0.9 0.9 0 1 0 -1.8 0M357.4 53.5a0.9 0.9 0 1 0 1.8 0a0.9 0.9 0 1 0 -1.8 0M370.9 39.3a0.9 0.9 0 1 0 1.9 0a0.9 0.9 0 1 0 -1.9 0M319.4 63.0a0.8 0.8 0 1 0 1.7 0a0.8 0.8 0 1 0 -1.7 0M384.3 38.6a0.9 0.9 0 1 0 1.7 0a0.9 0.9 0 1 0 -1.7 0M367.7 53.9a0.8 0.8 0 1 0 1.6 0a0.8 0.8 0 1 0 -1.6 0M355.7 43.2a0.8 0.8 0 1 0 1.6 0a0.8 0.8 0 1 0 -1.6 0M341.9 55.5a0.7 0.7 0 1 0 1.5 0a0.7 0.7 0 1 0 -1.5 0M333.2 59.9a0.9 0.9 0 1 0 1.7 0a0.9 0.9 0 1 0 -1.7 0M363.0 59.6a0.7 0.7 0 1 0 1.4 0a0.7 0.7 0 1 0 -1.4 0M312.9 67.7a0.6 0.6 0 1 0 1.3 0a0.6 0.6 0 1 0 -1.3 0M368.4 40.9a0.6 0.6 0 1 0 1.2 0a0.6 0.6 0 1 0 -1.2 0M371.5 36.9a0.8 0.8 0 1 0 1.5 0a0.8 0.8 0 1 0 -1.5 0M361.0 43.8a0.8 0.8 0 1 0 1.6 0a0.8 0.8 0 1 0 -1.6 0M375.4 39.4a0.5 0.5 0 1 0 1.0 0a0.5 0.5 0 1 0 -1.0 0M338.0 62.7a0.5 0.5 0 1 0 1.0 0a0.5 0.5 0 1 0 -1.0 0M364.7 44.1a0.9 0.9 0 1 0 1.8 0a0.9 0.9 0 1 0 -1.8 0M339.9 53.7a0.7 0.7 0 1 0 1.4 0a0.7 0.7 0 1 0 -1.4 0M345.3 57.8a0.9 0.9 0 1 0 1.8 0a0.9 0.9 0 1 0 -1.8 0M370.6 44.0a0.5 0.5 0 1 0 1.0 0a0.5 0.5 0 1 0 -1.0 0M324.6 62.8a0.6 0.6 0 1 0 1.2 0a0.6 0.6 0 1 0 -1.2 0M369.8 46.0a0.7 0.7 0 1 0 1.5 0a0.7 0.7 0 1 0 -1.5 0M366.4 52.3a0.8 0.8 0 1 0 1.7 0a0.8 0.8 0 1 0 -1.7 0M352.3 38.8a0.7 0.7 0 1 0 1.3 0a0.7 0.7 0 1 0 -1.3 0M364.5 52.3a0.7 0.7 0 1 0 1.3 0a0.7 0.7 0 1 0 -1.3 0M331.6 58.6a0.9 0.9 0 1 0 1.8 0a0.9 0.9 0 1 0 -1.8 0M347.8 54.2a0.6 0.6 0 1 0 1.2 0a0.6 0.6 0 1 0 -1.2 0M381.7 46.5a0.7 0.7 0 1 0 1.3 0a0.7 0.7 0 1 0 -1.3 0M359.8 37.3a0.7 0.7 0 1 0 1.5 0a0.7 0.7 0 1 0 -1.5 0M348.8 38.9a0.8 0.8 0 1 0 1.5 0a0.8 0.8 0 1 0 -1.5 0" fill="#1a9ea6"/>
<path d="M365.6 48.3a0.8 0.8 0 1 0 1.7 0a0.8 0.8 0 1 0 -1.7 0M366.8 48.0a0.6 0.6 0 1 0 1.2 0a0.6 0.6 0 1 0 -1.2 0M371.1 52.5a0.7 0.7 0 1 0 1.3 0a0.7 0.7 0 1 0 -1.3 0M333.4 60.7a0.7 0.7 0 1 0 1.4 0a0.7 0.7 0 1 0 -1.4 0M343.7 63.1a0.9 0.9 0 1 0 1.8 0a0.9 0.9 0 1 0 -1.8 0M346.8 36.1a0.9 0.9 0 1 0 1.9 0a0.9 0.9 0 1 0 -1.9 0M350.9 58.8a0.8 0.8 0 1 0 1.7 0a0.8 0.8 0 1 0 -1.7 0M360.2 54.2a0.7 0.7 0 1 0 1.3 0a0.7 0.7 0 1 0 -1.3 0M347.4 67.9a0.7 0.7 0 1 0 1.5 0a0.7 0.7 0 1 0 -1.5 0M330.9 61.3a0.9 0.9 0 1 0 1.8 0a0.9 0.9 0 1 0 -1.8 0M341.0 52.7a0.7 0.7 0 1 0 1.5 0a0.7 0.7 0 1 0 -1.5 0M350.0 68.9a0.5 0.5 0 1 0 1.1 0a0.5 0.5 0 1 0 -1.1 0M349.3 52.4a0.6 0.6 0 1 0 1.3 0a0.6 0.6 0 1 0 -1.3 0M341.0 48.0a0.8 0.8 0 1 0 1.6 0a0.8 0.8 0 1 0 -1.6 0M360.4 54.0a0.9 0.9 0 1 0 1.9 0a0.9 0.9 0 1 0 -1.9 0M348.9 64.9a0.9 0.9 0 1 0 1.8 0a0.9 0.9 0 1 0 -1.8 0M345.0 58.6a0.6 0.6 0 1 0 1.1 0a0.6 0.6 0 1 0 -1.1 0M316.4 62.5a0.7 0.7 0 1 0 1.4 0a0.7 0.7 0 1 0 -1.4 0M332.0 62.7a0.7 0.7 0 1 0 1.5 0a0.7 0.7 0 1 0 -1.5 0M362.2 57.7a0.9 0.9 0 1 0 1.9 0a0.9 0.9 0 1 0 -1.9 0M358.7 45.0a0.7 0.7 0 1 0 1.5 0a0.7 0.7 0 1 0 -1.5 0M328.1 59.2a0.6 0.6 0 1 0 1.1 0a0.6 0.6 0 1 0 -1.1 0M341.6 58.0a0.9 0.9 0 1 0 1.7 0a0.9 0.9 0 1 0 -1.7 0M351.5 49.1a0.7 0.7 0 1 0 1.4 0a0.7 0.7 0 1 0 -1.4 0M356.8 39.3a0.6 0.6 0 1 0 1.1 0a0.6 0.6 0 1 0 -1.1 0M353.9 54.7a0.9 0.9 0 1 0 1.9 0a0.9 0.9 0 1 0 -1.9 0M350.8 44.8a0.7 0.7 0 1 0 1.4 0a0.7 0.7 0 1 0 -1.4 0M381.6 47.9a0.7 0.7 0 1 0 1.4 0a0.7 0.7 0 1 0 -1.4 0M313.2 65.5a0.6 0.6 0 1 0 1.2 0a0.6 0.6 0 1 0 -1.2 0M338.1 55.2a0.5 0.5 0 1 0 1.0 0a0.5 0.5 0 1 0 -1.0 0M381.2 33.6a0.8 0.8 0 1 0 1.5 0a0.8 0.8 0 1 0 -1.5 0M371.5 36.6a0.9 0.9 0 1 0 1.8 0a0.9 0.9 0 1 0 -1.8 0M371.8 42.8a0.7 0.7 0 1 0 1.4 0a0.7 0.7 0 1 0 -1.4 0M343.8 62.0a0.9 0.9 0 1 0 1.8 0a0.9 0.9 0 1 0 -1.8 0M310.0 67.0a0.7 0.7 0 1 0 1.4 0a0.7 0.7 0 1 0 -1.4 0M373.1 40.2a0.6 0.6 0 1 0 1.3 0a0.6 0.6 0 1 0 -1.3 0M331.7 66.2a0.8 0.8 0 1 0 1.6 0a0.8 0.8 0 1 0 -1.6 0M380.7 49.8a0.6 0.6 0 1 0 1.2 0a0.6 0.6 0 1 0 -1.2 0M327.3 63.1a0.9 0.9 0 1 0 1.9 0a0.9 0.9 0 1 0 -1.9 0M342.8 48.1a0.9 0.9 0 1 0 1.8 0a0.9 0.9 0 1 0 -1.8 0M374.4 40.3a0.9 0.9 0 1 0 1.7 0a0.9 0.9 0 1 0 -1.7 0M350.9 59.8a0.6 0.6 0 1 0 1.2 0a0.6 0.6 0 1 0 -1.2 0M349.7 62.5a0.8 0.8 0 1 0 1.5 0a0.8 0.8 0 1 0 -1.5 0M386.2 39.4a0.8 0.8 0 1 0 1.7 0a0.8 0.8 0 1 0 -1.7 0M375.7 57.4a0.8 0.8 0 1 0 1.6 0a0.8 0.8 0 1 0 -1.6 0M328.0 49.7a0.7 0.7 0 1 0 1.5 0a0.7 0.7 0 1 0 -1.5 0M351.2 45.6a0.5 0.5 0 1 0 1.1 0a0.5 0.5 0 1 0 -1.1 0M374.3 48.8a0.8 0.8 0 1 0 1.6 0a0.8 0.8 0 1 0 -1.6 0M365.3 53.7a0.9 0.9 0 1 0 1.9 0a0.9 0.9 0 1 0 -1.9 0M348.8 41.9a0.7 0.7 0 1 0 1.4 0a0.7 0.7 0 1 0 -1.4 0M360.7 38.2a0.7 0.7 0 1 0 1.3 0a0.7 0.7 0 1 0 -1.3 0M373.2 45.5a0.8 0.8 0 1 0 1.5 0a0.8 0.8 0 1 0 -1.5 0M347.0 54.5a0.9 0.9 0 1 0 1.8 0a0.9 0.9 0 1 0 -1.8 0M356.2 60.9a0.9 0.9 0 1 0 1.9 0a0.9 0.9 0 1 0 -1.9 0M360.7 42.9a0.5 0.5 0 1 0 1.1 0a0.5 0.5 0 1 0 -1.1 0M323.4 57.7a0.7 0.7 0 1 0 1.5 0a0.7 0.7 0 1 0 -1.5 0M328.7 59.4a0.6 0.6 0 1 0 1.3 0a0.6 0.6 0 1 0 -1.3 0M380.1 41.1a0.5 0.5 0 1 0 1.1 0a0.5 0.5 0 1 0 -1.1 0M354.2 58.6a0.9 0.9 0 1 0 1.8 0a0.9 0.9 0 1 0 -1.8 0M334.8 49.8a0.6 0.6 0 1 0 1.3 0a0.6 0.6 0 1 0 -1.3 0M343.1 45.4a0.5 0.5 0 1 0 1.0 0a0.5 0.5 0 1 0 -1.0 0M343.9 64.2a0.7 0.7 0 1 0 1.3 0a0.7 0.7 0 1 0 -1.3 0M370.9 53.5a0.9 0.9 0 1 0 1.8 0a0.9 0.9 0 1 0 -1.8 0M347.9 48.6a0.7 0.7 0 1 0 1.4 0a0.7 0.7 0 1 0 -1.4 0M349.2 32.5a0.7 0.7 0 1 0 1.3 0a0.7 0.7 0 1 0 -1.3 0M340.2 47.5a0.6 0.6 0 1 0 1.2 0a0.6 0.6 0 1 0 -1.2 0M369.9 45.4a0.9 0.9 0 1 0 1.8 0a0.9 0.9 0 1 0 -1.8 0M367.5 51.3a0.7 0.7 0 1 0 1.3 0a0.7 0.7 0 1 0 -1.3 0M349.7 54.5a0.7 0.7 0 1 0 1.5 0a0.7 0.7 0 1 0 -1.5 0M314.4 63.0a0.7 0.7 0 1 0 1.3 0a0.7 0.7 0 1 0 -1.3 0M340.3 43.7a0.6 0.6 0 1 0 1.3 0a0.6 0.6 0 1 0 -1.3 0M351.8 48.1a0.9 0.9 0 1 0 1.8 0a0.9 0.9 0 1 0 -1.8 0M357.4 48.9a0.9 0.9 0 1 0 1.8 0a0.9 0.9 0 1 0 -1.8 0M362.2 51.9a0.6 0.6 0 1 0 1.1 0a0.6 0.6 0 1 0 -1.1 0M348.1 68.0a0.5 0.5 0 1 0 1.0 0a0.5 0.5 0 1 0 -1.0 0M338.9 39.8a0.8 0.8 0 1 0 1.7 0a0.8 0.8 0 1 0 -1.7 0M342.9 63.4a0.9 0.9 0 1 0 1.7 0a0.9 0.9 0 1 0 -1.7 0M353.2 40.2a0.6 0.6 0 1 0 1.3 0a0.6 0.6 0 1 0 -1.3 0M345.4 59.1a0.6 0.6 0 1 0 1.3 0a0.6 0.6 0 1 0 -1.3 0M323.6 61.9a0.9 0.9 0 1 0 1.9 0a0.9 0.9 0 1 0 -1.9 0M364.1 43.8a0.6 0.6 0 1 0 1.1 0a0.6 0.6 0 1 0 -1.1 0M344.3 46.7a0.6 0.6 0 1 0 1.2 0a0.6 0.6 0 1 0 -1.2 0M339.5 42.6a0.7 0.7 0 1 0 1.3 0a0.7 0.7 0 1 0 -1.3 0M355.7 34.8a0.6 0.6 0 1 0 1.2 0a0.6 0.6 0 1 0 -1.2 0M345.0 71.2a0.7 0.7 0 1 0 1.4 0a0.7 0.7 0 1 0 -1.4 0M333.6 60.6a0.6 0.6 0 1 0 1.2 0a0.6 0.6 0 1 0 -1.2 0M345.4 58.4a0.9 0.9 0 1 0 1.8 0a0.9 0.9 0 1 0 -1.8 0M373.3 48.4a0.7 0.7 0 1 0 1.4 0a0.7 0.7 0 1 0 -1.4 0M357.2 42.6a0.8 0.8 0 1 0 1.7 0a0.8 0.8 0 1 0 -1.7 0M373.1 44.6a0.6 0.6 0 1 0 1.2 0a0.6 0.6 0 1 0 -1.2 0M326.0 55.0a0.8 0.8 0 1 0 1.6 0a0.8 0.8 0 1 0 -1.6 0M376.2 57.1a0.8 0.8 0 1 0 1.6 0a0.8 0.8 0 1 0 -1.6 0M310.6 62.3a0.5 0.5 0 1 0 1.0 0a0.5 0.5 0 1 0 -1.0 0M349.2 59.5a0.9 0.9 0 1 0 1.9 0a0.9 0.9 0 1 0 -1.9 0M343.1 59.6a0.7 0.7 0 1 0 1.3 0a0.7 0.7 0 1 0 -1.3 0M314.8 61.8a0.7 0.7 0 1 0 1.4 0a0.7 0.7 0 1 0 -1.4 0M364.7 45.3a0.8 0.8 0 1 0 1.7 0a0.8 0.8 0 1 0 -1.7 0M346.9 56.1a0.5 0.5 0 1 0 1.0 0a0.5 0.5 0 1 0 -1.0 0M387.1 44.5a0.6 0.6 0 1 0 1.2 0a0.6 0.6 0 1 0 -1.2 0M332.3 60.5a0.9 0.9 0 1 0 1.9 0a0.9 0.9 0 1 0 -1.9 0M366.7 48.1a0.5 0.5 0 1 0 1.0 0a0.5 0.5 0 1 0 -1.0 0M352.2 48.3a0.5 0.5 0 1 0 1.0 0a0.5 0.5 0 1 0 -1.0 0M345.8 39.5a0.6 0.6 0 1 0 1.2 0a0.6 0.6 0 1 0 -1.2 0M360.0 57.5a0.7 0.7 0 1 0 1.3 0a0.7 0.7 0 1 0 -1.3 0M348.6 48.3a0.8 0.8 0 1 0 1.5 0a0.8 0.8 0 1 0 -1.5 0M387.6 51.4a0.8 0.8 0 1 0 1.6 0a0.8 0.8 0 1 0 -1.6 0M366.1 51.5a0.9 0.9 0 1 0 1.8 0a0.9 0.9 0 1 0 -1.8 0M370.5 52.5a0.6 0.6 0 1 0 1.2 0a0.6 0.6 0 1 0 -1.2 0M366.0 49.3a0.7 0.7 0 1 0 1.5 0a0.7 0.7 0 1 0 -1.5 0M378.4 47.0a0.8 0.8 0 1 0 1.6 0a0.8 0.8 0 1 0 -1.6 0M374.8 46.6a0.6 0.6 0 1 0 1.2 0a0.6 0.6 0 1 0 -1.2 0M356.2 46.5a0.9 0.9 0 1 0 1.7 0a0.9 0.9 0 1 0 -1.7 0M344.1 54.9a0.7 0.7 0 1 0 1.4 0a0.7 0.7 0 1 0 -1.4 0M345.0 47.3a0.9 0.9 0 1 0 1.9 0a0.9 0.9 0 1 0 -1.9 0M350.4 55.9a0.9 0.9 0 1 0 1.8 0a0.9 0.9 0 1 0 -1.8 0M366.7 33.8a0.7 0.7 0 1 0 1.4 0a0.7 0.7 0 1 0 -1.4 0M365.4 56.6a0.5 0.5 0 1 0 1.0 0a0.5 0.5 0 1 0 -1.0 0M365.0 57.0a0.5 0.5 0 1 0 1.1 0a0.5 0.5 0 1 0 -1.1 0M372.3 51.6a0.6 0.6 0 1 0 1.2 0a0.6 0.6 0 1 0 -1.2 0M348.8 55.4a0.6 0.6 0 1 0 1.1 0a0.6 0.6 0 1 0 -1.1 0M336.0 60.2a0.8 0.8 0 1 0 1.6 0a0.8 0.8 0 1 0 -1.6 0M363.8 55.8a0.6 0.6 0 1 0 1.3 0a0.6 0.6 0 1 0 -1.3 0M332.0 62.2a0.8 0.8 0 1 0 1.5 0a0.8 0.8 0 1 0 -1.5 0M331.9 51.0a0.7 0.7 0 1 0 1.4 0a0.7 0.7 0 1 0 -1.4 0M362.8 46.6a0.8 0.8 0 1 0 1.5 0a0.8 0.8 0 1 0 -1.5 0M379.0 52.6a0.9 0.9 0 1 0 1.7 0a0.9 0.9 0 1 0 -1.7 0M384.9 41.9a0.5 0.5 0 1 0 1.0 0a0.5 0.5 0 1 0 -1.0 0M348.9 41.4a0.7 0.7 0 1 0 1.4 0a0.7 0.7 0 1 0 -1.4 0M361.7 53.7a0.9 0.9 0 1 0 1.8 0a0.9 0.9 0 1 0 -1.8 0M358.4 48.9a0.7 0.7 0 1 0 1.5 0a0.7 0.7 0 1 0 -1.5 0M345.7 54.3a0.5 0.5 0 1 0 1.0 0a0.5 0.5 0 1 0 -1.0 0M375.2 40.5a0.7 0.7 0 1 0 1.4 0a0.7 0.7 0 1 0 -1.4 0M349.0 42.2a0.6 0.6 0 1 0 1.1 0a0.6 0.6 0 1 0 -1.1 0M342.4 63.8a0.7 0.7 0 1 0 1.5 0a0.7 0.7 0 1 0 -1.5 0M346.6 59.3a0.6 0.6 0 1 0 1.2 0a0.6 0.6 0 1 0 -1.2 0M328.6 62.8a0.8 0.8 0 1 0 1.5 0a0.8 0.8 0 1 0 -1.5 0M366.1 55.1a0.8 0.8 0 1 0 1.6 0a0.8 0.8 0 1 0 -1.6 0M349.6 42.5a0.9 0.9 0 1 0 1.9 0a0.9 0.9 0 1 0 -1.9 0M363.7 48.9a0.7 0.7 0 1 0 1.5 0a0.7 0.7 0 1 0 -1.5 0M355.5 60.5a0.7 0.7 0 1 0 1.3 0a0.7 0.7 0 1 0 -1.3 0M360.8 52.0a0.6 0.6 0 1 0 1.2 0a0.6 0.6 0 1 0 -1.2 0M344.5 47.6a0.7 0.7 0 1 0 1.4 0a0.7 0.7 0 1 0 -1.4 0M326.6 53.0a0.9 0.9 0 1 0 1.7 0a0.9 0.9 0 1 0 -1.7 0M350.3 33.2a0.6 0.6 0 1 0 1.2 0a0.6 0.6 0 1 0 -1.2 0M351.0 49.3a0.8 0.8 0 1 0 1.6 0a0.8 0.8 0 1 0 -1.6 0M325.9 58.8a0.6 0.6 0 1 0 1.2 0a0.6 0.6 0 1 0 -1.2 0M355.2 51.9a0.6 0.6 0 1 0 1.3 0a0.6 0.6 0 1 0 -1.3 0M346.8 52.5a0.7 0.7 0 1 0 1.4 0a0.7 0.7 0 1 0 -1.4 0M361.5 52.4a0.9 0.9 0 1 0 1.8 0a0.9 0.9 0 1 0 -1.8 0M325.1 65.6a0.8 0.8 0 1 0 1.7 0a0.8 0.8 0 1 0 -1.7 0M376.8 46.1a0.7 0.7 0 1 0 1.4 0a0.7 0.7 0 1 0 -1.4 0M368.8 41.2a0.6 0.6 0 1 0 1.3 0a0.6 0.6 0 1 0 -1.3 0M332.4 64.8a0.9 0.9 0 1 0 1.7 0a0.9 0.9 0 1 0 -1.7 0M359.7 41.4a0.5 0.5 0 1 0 1.0 0a0.5 0.5 0 1 0 -1.0 0M311.6 67.2a0.8 0.8 0 1 0 1.5 0a0.8 0.8 0 1 0 -1.5 0M351.2 49.1a0.9 0.9 0 1 0 1.7 0a0.9 0.9 0 1 0 -1.7 0M355.3 54.8a0.6 0.6 0 1 0 1.1 0a0.6 0.6 0 1 0 -1.1 0M367.0 57.2a0.6 0.6 0 1 0 1.3 0a0.6 0.6 0 1 0 -1.3 0M342.0 50.4a0.6 0.6 0 1 0 1.3 0a0.6 0.6 0 1 0 -1.3 0M329.9 51.4a0.7 0.7 0 1 0 1.3 0a0.7 0.7 0 1 0 -1.3 0M325.7 60.5a0.7 0.7 0 1 0 1.3 0a0.7 0.7 0 1 0 -1.3 0M378.7 37.3a0.5 0.5 0 1 0 1.1 0a0.5 0.5 0 1 0 -1.1 0M319.4 59.2a0.8 0.8 0 1 0 1.6 0a0.8 0.8 0 1 0 -1.6 0M341.2 59.5a0.6 0.6 0 1 0 1.3 0a0.6 0.6 0 1 0 -1.3 0M365.2 53.1a0.9 0.9 0 1 0 1.8 0a0.9 0.9 0 1 0 -1.8 0M382.4 45.0a0.7 0.7 0 1 0 1.3 0a0.7 0.7 0 1 0 -1.3 0M345.3 68.1a0.6 0.6 0 1 0 1.3 0a0.6 0.6 0 1 0 -1.3 0M366.5 32.7a0.6 0.6 0 1 0 1.2 0a0.6 0.6 0 1 0 -1.2 0M321.9 68.4a0.8 0.8 0 1 0 1.5 0a0.8 0.8 0 1 0 -1.5 0M348.2 59.0a0.6 0.6 0 1 0 1.2 0a0.6 0.6 0 1 0 -1.2 0M339.3 56.0a0.9 0.9 0 1 0 1.8 0a0.9 0.9 0 1 0 -1.8 0M343.6 55.9a0.9 0.9 0 1 0 1.8 0a0.9 0.9 0 1 0 -1.8 0M355.4 52.1a0.7 0.7 0 1 0 1.3 0a0.7 0.7 0 1 0 -1.3 0M383.8 40.6a0.7 0.7 0 1 0 1.4 0a0.7 0.7 0 1 0 -1.4 0M369.5 40.8a0.9 0.9 0 1 0 1.8 0a0.9 0.9 0 1 0 -1.8 0M360.2 50.1a0.6 0.6 0 1 0 1.3 0a0.6 0.6 0 1 0 -1.3 0M359.2 49.2a0.8 0.8 0 1 0 1.6 0a0.8 0.8 0 1 0 -1.6 0M356.2 56.7a0.5 0.5 0 1 0 1.1 0a0.5 0.5 0 1 0 -1.1 0M341.8 53.7a0.9 0.9 0 1 0 1.8 0a0.9 0.9 0 1 0 -1.8 0M329.3 54.6a0.6 0.6 0 1 0 1.2 0a0.6 0.6 0 1 0 -1.2 0M381.8 39.5a0.7 0.7 0 1 0 1.3 0a0.7 0.7 0 1 0 -1.3 0M366.1 42.0a0.7 0.7 0 1 0 1.4 0a0.7 0.7 0 1 0 -1.4 0M352.9 56.4a0.5 0.5 0 1 0 1.0 0a0.5 0.5 0 1 0 -1.0 0M353.1 34.7a0.5 0.5 0 1 0 1.0 0a0.5 0.5 0 1 0 -1.0 0M343.3 51.4a0.8 0.8 0 1 0 1.7 0a0.8 0.8 0 1 0 -1.7 0M308.5 67.7a0.7 0.7 0 1 0 1.5 0a0.7 0.7 0 1 0 -1.5 0M378.8 48.4a0.9 0.9 0 1 0 1.7 0a0.9 0.9 0 1 0 -1.7 0M339.2 63.2a0.5 0.5 0 1 0 1.1 0a0.5 0.5 0 1 0 -1.1 0M351.8 56.5a0.6 0.6 0 1 0 1.1 0a0.6 0.6 0 1 0 -1.1 0M388.2 51.7a0.9 0.9 0 1 0 1.8 0a0.9 0.9 0 1 0 -1.8 0M375.3 45.4a0.6 0.6 0 1 0 1.1 0a0.6 0.6 0 1 0 -1.1 0M358.8 62.5a0.5 0.5 0 1 0 1.1 0a0.5 0.5 0 1 0 -1.1 0M333.5 57.9a0.7 0.7 0 1 0 1.4 0a0.7 0.7 0 1 0 -1.4 0M345.9 66.9a0.8 0.8 0 1 0 1.6 0a0.8 0.8 0 1 0 -1.6 0M353.6 61.2a0.7 0.7 0 1 0 1.3 0a0.7 0.7 0 1 0 -1.3 0M336.3 59.4a0.7 0.7 0 1 0 1.3 0a0.7 0.7 0 1 0 -1.3 0M333.7 48.8a0.6 0.6 0 1 0 1.2 0a0.6 0.6 0 1 0 -1.2 0M360.0 50.0a0.5 0.5 0 1 0 1.0 0a0.5 0.5 0 1 0 -1.0 0M317.6 64.1a0.7 0.7 0 1 0 1.5 0a0.7 0.7 0 1 0 -1.5 0M354.0 53.7a0.5 0.5 0 1 0 1.0 0a0.5 0.5 0 1 0 -1.0 0M370.5 63.2a0.7 0.7 0 1 0 1.4 0a0.7 0.7 0 1 0 -1.4 0M374.9 43.6a0.5 0.5 0 1 0 1.1 0a0.5 0.5 0 1 0 -1.1 0M347.0 48.8a0.7 0.7 0 1 0 1.3 0a0.7 0.7 0 1 0 -1.3 0M365.5 53.6a0.6 0.6 0 1 0 1.2 0a0.6 0.6 0 1 0 -1.2 0M355.9 46.8a0.7 0.7 0 1 0 1.4 0a0.7 0.7 0 1 0 -1.4 0M375.7 46.4a0.8 0.8 0 1 0 1.5 0a0.8 0.8 0 1 0 -1.5 0M331.1 50.7a0.7 0.7 0 1 0 1.3 0a0.7 0.7 0 1 0 -1.3 0M349.9 52.5a0.8 0.8 0 1 0 1.6 0a0.8 0.8 0 1 0 -1.6 0M326.9 65.2a0.6 0.6 0 1 0 1.2 0a0.6 0.6 0 1 0 -1.2 0M320.9 63.3a0.6 0.6 0 1 0 1.2 0a0.6 0.6 0 1 0 -1.2 0M390.3 46.0a0.6 0.6 0 1 0 1.3 0a0.6 0.6 0 1 0 -1.3 0M323.8 58.3a0.9 0.9 0 1 0 1.9 0a0.9 0.9 0 1 0 -1.9 0M377.5 37.8a0.7 0.7 0 1 0 1.5 0a0.7 0.7 0 1 0 -1.5 0M349.9 57.2a0.7 0.7 0 1 0 1.3 0a0.7 0.7 0 1 0 -1.3 0M356.6 46.0a0.9 0.9 0 1 0 1.8 0a0.9 0.9 0 1 0 -1.8 0M351.0 57.8a0.7 0.7 0 1 0 1.4 0a0.7 0.7 0 1 0 -1.4 0M372.7 50.5a0.7 0.7 0 1 0 1.5 0a0.7 0.7 0 1 0 -1.5 0M351.7 65.0a0.9 0.9 0 1 0 1.8 0a0.9 0.9 0 1 0 -1.8 0M340.5 51.4a0.7 0.7 0 1 0 1.4 0a0.7 0.7 0 1 0 -1.4 0M307.6 67.0a0.8 0.8 0 1 0 1.5 0a0.8 0.8 0 1 0 -1.5 0M358.6 34.0a0.5 0.5 0 1 0 1.1 0a0.5 0.5 0 1 0 -1.1 0M370.6 43.0a0.8 0.8 0 1 0 1.5 0a0.8 0.8 0 1 0 -1.5 0M370.9 50.0a0.9 0.9 0 1 0 1.7 0a0.9 0.9 0 1 0 -1.7 0M381.9 42.3a0.6 0.6 0 1 0 1.1 0a0.6 0.6 0 1 0 -1.1 0M349.7 60.1a0.7 0.7 0 1 0 1.5 0a0.7 0.7 0 1 0 -1.5 0M319.6 61.8a0.9 0.9 0 1 0 1.7 0a0.9 0.9 0 1 0 -1.7 0M393.2 48.3a0.8 0.8 0 1 0 1.6 0a0.8 0.8 0 1 0 -1.6 0M361.7 42.3a0.6 0.6 0 1 0 1.3 0a0.6 0.6 0 1 0 -1.3 0M324.4 55.7a0.8 0.8 0 1 0 1.6 0a0.8 0.8 0 1 0 -1.6 0M369.6 47.2a0.6 0.6 0 1 0 1.2 0a0.6 0.6 0 1 0 -1.2 0M342.3 53.9a0.6 0.6 0 1 0 1.1 0a0.6 0.6 0 1 0 -1.1 0M348.3 55.4a0.5 0.5 0 1 0 1.0 0a0.5 0.5 0 1 0 -1.0 0M355.4 30.3a0.8 0.8 0 1 0 1.5 0a0.8 0.8 0 1 0 -1.5 0M364.5 49.0a0.6 0.6 0 1 0 1.1 0a0.6 0.6 0 1 0 -1.1 0M350.2 66.7a0.6 0.6 0 1 0 1.3 0a0.6 0.6 0 1 0 -1.3 0M329.3 63.1a0.6 0.6 0 1 0 1.3 0a0.6 0.6 0 1 0 -1.3 0M346.6 57.4a0.6 0.6 0 1 0 1.2 0a0.6 0.6 0 1 0 -1.2 0M308.2 62.1a0.9 0.9 0 1 0 1.8 0a0.9 0.9 0 1 0 -1.8 0M385.5 39.8a0.6 0.6 0 1 0 1.3 0a0.6 0.6 0 1 0 -1.3 0M323.5 66.9a0.9 0.9 0 1 0 1.9 0a0.9 0.9 0 1 0 -1.9 0M364.9 40.5a0.9 0.9 0 1 0 1.7 0a0.9 0.9 0 1 0 -1.7 0M335.9 52.4a0.7 0.7 0 1 0 1.4 0a0.7 0.7 0 1 0 -1.4 0M352.1 55.6a0.7 0.7 0 1 0 1.3 0a0.7 0.7 0 1 0 -1.3 0M324.1 62.0a0.6 0.6 0 1 0 1.3 0a0.6 0.6 0 1 0 -1.3 0M379.4 33.9a0.5 0.5 0 1 0 1.1 0a0.5 0.5 0 1 0 -1.1 0M333.9 59.1a0.6 0.6 0 1 0 1.3 0a0.6 0.6 0 1 0 -1.3 0M359.4 43.7a0.6 0.6 0 1 0 1.1 0a0.6 0.6 0 1 0 -1.1 0M331.9 64.4a0.6 0.6 0 1 0 1.2 0a0.6 0.6 0 1 0 -1.2 0M320.5 64.9a0.6 0.6 0 1 0 1.2 0a0.6 0.6 0 1 0 -1.2 0M316.9 55.5a0.5 0.5 0 1 0 1.0 0a0.5 0.5 0 1 0 -1.0 0M374.1 53.4a0.5 0.5 0 1 0 1.1 0a0.5 0.5 0 1 0 -1.1 0M336.4 59.0a0.9 0.9 0 1 0 1.7 0a0.9 0.9 0 1 0 -1.7 0M364.4 47.4a0.8 0.8 0 1 0 1.5 0a0.8 0.8 0 1 0 -1.5 0M334.2 44.4a0.8 0.8 0 1 0 1.7 0a0.8 0.8 0 1 0 -1.7 0M357.5 35.2a0.6 0.6 0 1 0 1.1 0a0.6 0.6 0 1 0 -1.1 0M307.6 65.2a0.8 0.8 0 1 0 1.7 0a0.8 0.8 0 1 0 -1.7 0M384.4 52.0a0.5 0.5 0 1 0 1.1 0a0.5 0.5 0 1 0 -1.1 0M329.8 64.9a0.9 0.9 0 1 0 1.8 0a0.9 0.9 0 1 0 -1.8 0M344.8 48.8a0.8 0.8 0 1 0 1.6 0a0.8 0.8 0 1 0 -1.6 0M356.2 52.0a0.6 0.6 0 1 0 1.1 0a0.6 0.6 0 1 0 -1.1 0M367.6 56.8a0.6 0.6 0 1 0 1.2 0a0.6 0.6 0 1 0 -1.2 0M365.3 59.0a0.5 0.5 0 1 0 1.0 0a0.5 0.5 0 1 0 -1.0 0M359.9 52.0a0.8 0.8 0 1 0 1.7 0a0.8 0.8 0 1 0 -1.7 0M358.6 49.3a0.9 0.9 0 1 0 1.7 0a0.9 0.9 0 1 0 -1.7 0M372.7 52.7a0.7 0.7 0 1 0 1.3 0a0.7 0.7 0 1 0 -1.3 0M355.6 43.7a0.9 0.9 0 1 0 1.9 0a0.9 0.9 0 1 0 -1.9 0M344.9 53.1a0.9 0.9 0 1 0 1.9 0a0.9 0.9 0 1 0 -1.9 0M349.5 55.1a0.7 0.7 0 1 0 1.4 0a0.7 0.7 0 1 0 -1.4 0M349.8 42.5a0.8 0.8 0 1 0 1.5 0a0.8 0.8 0 1 0 -1.5 0M358.7 43.6a0.9 0.9 0 1 0 1.9 0a0.9 0.9 0 1 0 -1.9 0M377.1 43.8a0.7 0.7 0 1 0 1.4 0a0.7 0.7 0 1 0 -1.4 0M322.1 59.4a0.8 0.8 0 1 0 1.5 0a0.8 0.8 0 1 0 -1.5 0M354.0 45.9a0.9 0.9 0 1 0 1.7 0a0.9 0.9 0 1 0 -1.7 0M336.3 46.1a0.6 0.6 0 1 0 1.1 0a0.6 0.6 0 1 0 -1.1 0M361.0 50.0a0.9 0.9 0 1 0 1.9 0a0.9 0.9 0 1 0 -1.9 0M359.7 57.7a0.9 0.9 0 1 0 1.8 0a0.9 0.9 0 1 0 -1.8 0M338.5 55.9a0.6 0.6 0 1 0 1.3 0a0.6 0.6 0 1 0 -1.3 0M334.1 57.8a0.9 0.9 0 1 0 1.9 0a0.9 0.9 0 1 0 -1.9 0M350.7 41.9a0.7 0.7 0 1 0 1.4 0a0.7 0.7 0 1 0 -1.4 0M331.6 61.0a0.9 0.9 0 1 0 1.8 0a0.9 0.9 0 1 0 -1.8 0M392.2 38.6a0.7 0.7 0 1 0 1.4 0a0.7 0.7 0 1 0 -1.4 0M325.6 58.7a0.9 0.9 0 1 0 1.8 0a0.9 0.9 0 1 0 -1.8 0M338.7 45.4a0.6 0.6 0 1 0 1.2 0a0.6 0.6 0 1 0 -1.2 0M376.5 45.9a0.9 0.9 0 1 0 1.8 0a0.9 0.9 0 1 0 -1.8 0M365.0 62.4a0.7 0.7 0 1 0 1.4 0a0.7 0.7 0 1 0 -1.4 0M368.0 42.9a0.9 0.9 0 1 0 1.9 0a0.9 0.9 0 1 0 -1.9 0M371.1 43.0a0.8 0.8 0 1 0 1.7 0a0.8 0.8 0 1 0 -1.7 0M324.6 55.2a0.9 0.9 0 1 0 1.8 0a0.9 0.9 0 1 0 -1.8 0M346.2 39.5a0.7 0.7 0 1 0 1.4 0a0.7 0.7 0 1 0 -1.4 0M368.9 42.5a0.7 0.7 0 1 0 1.5 0a0.7 0.7 0 1 0 -1.5 0M368.5 36.3a0.8 0.8 0 1 0 1.6 0a0.8 0.8 0 1 0 -1.6 0M368.2 41.2a0.6 0.6 0 1 0 1.3 0a0.6 0.6 0 1 0 -1.3 0M362.8 54.4a0.8 0.8 0 1 0 1.6 0a0.8 0.8 0 1 0 -1.6 0M321.5 63.3a0.6 0.6 0 1 0 1.1 0a0.6 0.6 0 1 0 -1.1 0M316.6 63.9a0.8 0.8 0 1 0 1.7 0a0.8 0.8 0 1 0 -1.7 0M371.1 50.0a0.9 0.9 0 1 0 1.7 0a0.9 0.9 0 1 0 -1.7 0M348.6 65.5a0.9 0.9 0 1 0 1.7 0a0.9 0.9 0 1 0 -1.7 0M321.3 58.5a0.8 0.8 0 1 0 1.6 0a0.8 0.8 0 1 0 -1.6 0M376.9 49.8a0.7 0.7 0 1 0 1.4 0a0.7 0.7 0 1 0 -1.4 0M360.4 44.6a0.5 0.5 0 1 0 1.1 0a0.5 0.5 0 1 0 -1.1 0M335.8 57.6a0.9 0.9 0 1 0 1.8 0a0.9 0.9 0 1 0 -1.8 0M324.6 63.1a0.7 0.7 0 1 0 1.4 0a0.7 0.7 0 1 0 -1.4 0M329.6 55.1a0.8 0.8 0 1 0 1.6 0a0.8 0.8 0 1 0 -1.6 0M357.9 39.2a0.6 0.6 0 1 0 1.1 0a0.6 0.6 0 1 0 -1.1 0M309.4 63.0a0.7 0.7 0 1 0 1.5 0a0.7 0.7 0 1 0 -1.5 0M321.2 57.6a0.7 0.7 0 1 0 1.5 0a0.7 0.7 0 1 0 -1.5 0M361.6 39.8a0.6 0.6 0 1 0 1.2 0a0.6 0.6 0 1 0 -1.2 0M331.8 52.7a0.7 0.7 0 1 0 1.4 0a0.7 0.7 0 1 0 -1.4 0M370.8 51.8a0.6 0.6 0 1 0 1.2 0a0.6 0.6 0 1 0 -1.2 0M330.3 66.5a0.9 0.9 0 1 0 1.9 0a0.9 0.9 0 1 0 -1.9 0M335.4 52.5a0.8 0.8 0 1 0 1.5 0a0.8 0.8 0 1 0 -1.5 0M348.8 58.9a0.8 0.8 0 1 0 1.5 0a0.8 0.8 0 1 0 -1.5 0M335.8 55.7a0.6 0.6 0 1 0 1.1 0a0.6 0.6 0 1 0 -1.1 0M322.3 61.4a0.7 0.7 0 1 0 1.3 0a0.7 0.7 0 1 0 -1.3 0M373.9 52.1a0.5 0.5 0 1 0 1.0 0a0.5 0.5 0 1 0 -1.0 0M353.3 35.9a0.9 0.9 0 1 0 1.7 0a0.9 0.9 0 1 0 -1.7 0M369.2 50.3a0.8 0.8 0 1 0 1.7 0a0.8 0.8 0 1 0 -1.7 0M327.7 63.4a0.6 0.6 0 1 0 1.3 0a0.6 0.6 0 1 0 -1.3 0M329.4 47.7a0.9 0.9 0 1 0 1.7 0a0.9 0.9 0 1 0 -1.7 0M319.9 62.8a0.7 0.7 0 1 0 1.4 0a0.7 0.7 0 1 0 -1.4 0M332.8 58.3a0.7 0.7 0 1 0 1.4 0a0.7 0.7 0 1 0 -1.4 0M341.8 58.2a0.9 0.9 0 1 0 1.8 0a0.9 0.9 0 1 0 -1.8 0M358.4 50.7a0.7 0.7 0 1 0 1.4 0a0.7 0.7 0 1 0 -1.4 0M383.7 36.2a0.8 0.8 0 1 0 1.6 0a0.8 0.8 0 1 0 -1.6 0M367.0 37.6a0.7 0.7 0 1 0 1.4 0a0.7 0.7 0 1 0 -1.4 0M361.2 55.6a0.6 0.6 0 1 0 1.1 0a0.6 0.6 0 1 0 -1.1 0M368.9 51.3a0.6 0.6 0 1 0 1.3 0a0.6 0.6 0 1 0 -1.3 0M359.4 56.5a0.5 0.5 0 1 0 1.1 0a0.5 0.5 0 1 0 -1.1 0M334.9 59.3a0.7 0.7 0 1 0 1.4 0a0.7 0.7 0 1 0 -1.4 0M337.8 54.1a0.9 0.9 0 1 0 1.9 0a0.9 0.9 0 1 0 -1.9 0M357.1 51.7a0.7 0.7 0 1 0 1.4 0a0.7 0.7 0 1 0 -1.4 0M317.8 62.6a0.8 0.8 0 1 0 1.6 0a0.8 0.8 0 1 0 -1.6 0M357.1 35.5a0.8 0.8 0 1 0 1.7 0a0.8 0.8 0 1 0 -1.7 0M369.8 51.3a0.7 0.7 0 1 0 1.4 0a0.7 0.7 0 1 0 -1.4 0M374.4 44.4a0.8 0.8 0 1 0 1.6 0a0.8 0.8 0 1 0 -1.6 0M319.3 60.0a0.7 0.7 0 1 0 1.4 0a0.7 0.7 0 1 0 -1.4 0M350.4 52.8a0.7 0.7 0 1 0 1.3 0a0.7 0.7 0 1 0 -1.3 0M315.1 63.7a0.9 0.9 0 1 0 1.8 0a0.9 0.9 0 1 0 -1.8 0M359.8 53.1a0.8 0.8 0 1 0 1.6 0a0.8 0.8 0 1 0 -1.6 0M343.7 48.2a0.9 0.9 0 1 0 1.9 0a0.9 0.9 0 1 0 -1.9 0M363.4 47.5a0.9 0.9 0 1 0 1.8 0a0.9 0.9 0 1 0 -1.8 0M310.8 63.6a0.8 0.8 0 1 0 1.7 0a0.8 0.8 0 1 0 -1.7 0M356.7 38.2a0.8 0.8 0 1 0 1.5 0a0.8 0.8 0 1 0 -1.5 0M365.6 47.6a0.6 0.6 0 1 0 1.2 0a0.6 0.6 0 1 0 -1.2 0M336.2 61.2a0.9 0.9 0 1 0 1.8 0a0.9 0.9 0 1 0 -1.8 0M344.2 44.0a0.8 0.8 0 1 0 1.6 0a0.8 0.8 0 1 0 -1.6 0M339.5 61.8a0.7 0.7 0 1 0 1.3 0a0.7 0.7 0 1 0 -1.3 0M352.6 37.7a0.7 0.7 0 1 0 1.4 0a0.7 0.7 0 1 0 -1.4 0M348.5 46.7a0.9 0.9 0 1 0 1.7 0a0.9 0.9 0 1 0 -1.7 0M361.8 54.8a0.9 0.9 0 1 0 1.8 0a0.9 0.9 0 1 0 -1.8 0M383.1 51.7a0.7 0.7 0 1 0 1.4 0a0.7 0.7 0 1 0 -1.4 0M349.3 38.5a0.5 0.5 0 1 0 1.0 0a0.5 0.5 0 1 0 -1.0 0M383.9 49.0a0.8 0.8 0 1 0 1.6 0a0.8 0.8 0 1 0 -1.6 0M347.4 64.2a0.6 0.6 0 1 0 1.3 0a0.6 0.6 0 1 0 -1.3 0M367.9 33.0a0.9 0.9 0 1 0 1.7 0a0.9 0.9 0 1 0 -1.7 0M313.5 59.6a0.8 0.8 0 1 0 1.7 0a0.8 0.8 0 1 0 -1.7 0M352.4 53.7a0.7 0.7 0 1 0 1.4 0a0.7 0.7 0 1 0 -1.4 0M356.1 47.3a0.6 0.6 0 1 0 1.3 0a0.6 0.6 0 1 0 -1.3 0M335.1 50.8a0.9 0.9 0 1 0 1.7 0a0.9 0.9 0 1 0 -1.7 0M370.1 41.5a0.9 0.9 0 1 0 1.7 0a0.9 0.9 0 1 0 -1.7 0M327.1 54.6a0.7 0.7 0 1 0 1.5 0a0.7 0.7 0 1 0 -1.5 0M350.9 45.0a0.9 0.9 0 1 0 1.7 0a0.9 0.9 0 1 0 -1.7 0M342.8 69.3a0.6 0.6 0 1 0 1.2 0a0.6 0.6 0 1 0 -1.2 0M366.1 44.2a0.9 0.9 0 1 0 1.7 0a0.9 0.9 0 1 0 -1.7 0M362.6 53.3a0.6 0.6 0 1 0 1.1 0a0.6 0.6 0 1 0 -1.1 0M347.5 51.3a0.5 0.5 0 1 0 1.1 0a0.5 0.5 0 1 0 -1.1 0M375.6 44.8a0.5 0.5 0 1 0 1.1 0a0.5 0.5 0 1 0 -1.1 0M340.6 56.3a0.5 0.5 0 1 0 1.0 0a0.5 0.5 0 1 0 -1.0 0M375.7 50.5a0.6 0.6 0 1 0 1.2 0a0.6 0.6 0 1 0 -1.2 0M349.0 54.8a0.6 0.6 0 1 0 1.2 0a0.6 0.6 0 1 0 -1.2 0M323.5 58.0a0.9 0.9 0 1 0 1.8 0a0.9 0.9 0 1 0 -1.8 0M342.5 40.4a0.9 0.9 0 1 0 1.8 0a0.9 0.9 0 1 0 -1.8 0M342.0 56.7a0.5 0.5 0 1 0 1.0 0a0.5 0.5 0 1 0 -1.0 0M361.9 37.1a0.7 0.7 0 1 0 1.4 0a0.7 0.7 0 1 0 -1.4 0M349.1 63.3a0.7 0.7 0 1 0 1.3 0a0.7 0.7 0 1 0 -1.3 0M353.0 55.0a0.8 0.8 0 1 0 1.7 0a0.8 0.8 0 1 0 -1.7 0M357.6 53.6a0.5 0.5 0 1 0 1.1 0a0.5 0.5 0 1 0 -1.1 0M356.3 63.9a0.6 0.6 0 1 0 1.2 0a0.6 0.6 0 1 0 -1.2 0M380.6 53.3a0.7 0.7 0 1 0 1.3 0a0.7 0.7 0 1 0 -1.3 0M356.4 58.6a0.9 0.9 0 1 0 1.8 0a0.9 0.9 0 1 0 -1.8 0M354.6 42.3a0.5 0.5 0 1 0 1.0 0a0.5 0.5 0 1 0 -1.0 0M379.1 52.2a0.9 0.9 0 1 0 1.8 0a0.9 0.9 0 1 0 -1.8 0M343.8 46.0a0.5 0.5 0 1 0 1.1 0a0.5 0.5 0 1 0 -1.1 0M337.4 45.6a0.8 0.8 0 1 0 1.7 0a0.8 0.8 0 1 0 -1.7 0M363.2 49.0a0.6 0.6 0 1 0 1.2 0a0.6 0.6 0 1 0 -1.2 0M383.9 43.1a0.9 0.9 0 1 0 1.8 0a0.9 0.9 0 1 0 -1.8 0M344.1 54.7a0.7 0.7 0 1 0 1.3 0a0.7 0.7 0 1 0 -1.3 0M356.9 56.0a0.7 0.7 0 1 0 1.3 0a0.7 0.7 0 1 0 -1.3 0M333.6 55.8a0.9 0.9 0 1 0 1.9 0a0.9 0.9 0 1 0 -1.9 0M317.4 68.7a0.9 0.9 0 1 0 1.8 0a0.9 0.9 0 1 0 -1.8 0" fill="#0e7c80"/>
<path d="M356.1 48.7a0.8 0.8 0 1 0 1.5 0a0.8 0.8 0 1 0 -1.5 0M352.6 40.3a0.9 0.9 0 1 0 1.9 0a0.9 0.9 0 1 0 -1.9 0M326.0 56.5a0.8 0.8 0 1 0 1.6 0a0.8 0.8 0 1 0 -1.6 0M382.8 38.2a0.6 0.6 0 1 0 1.2 0a0.6 0.6 0 1 0 -1.2 0M312.7 59.7a0.9 0.9 0 1 0 1.8 0a0.9 0.9 0 1 0 -1.8 0M348.6 51.2a0.8 0.8 0 1 0 1.7 0a0.8 0.8 0 1 0 -1.7 0M348.8 45.2a0.9 0.9 0 1 0 1.9 0a0.9 0.9 0 1 0 -1.9 0M353.5 46.8a0.6 0.6 0 1 0 1.2 0a0.6 0.6 0 1 0 -1.2 0M370.0 52.6a0.6 0.6 0 1 0 1.2 0a0.6 0.6 0 1 0 -1.2 0M349.8 64.3a0.8 0.8 0 1 0 1.6 0a0.8 0.8 0 1 0 -1.6 0M351.8 33.8a0.9 0.9 0 1 0 1.8 0a0.9 0.9 0 1 0 -1.8 0M371.0 28.2a0.7 0.7 0 1 0 1.3 0a0.7 0.7 0 1 0 -1.3 0M325.0 56.9a0.6 0.6 0 1 0 1.1 0a0.6 0.6 0 1 0 -1.1 0M367.6 50.7a0.5 0.5 0 1 0 1.0 0a0.5 0.5 0 1 0 -1.0 0M338.6 62.5a0.6 0.6 0 1 0 1.2 0a0.6 0.6 0 1 0 -1.2 0M360.6 54.0a0.7 0.7 0 1 0 1.4 0a0.7 0.7 0 1 0 -1.4 0M339.3 50.9a0.6 0.6 0 1 0 1.3 0a0.6 0.6 0 1 0 -1.3 0M321.1 66.2a0.9 0.9 0 1 0 1.8 0a0.9 0.9 0 1 0 -1.8 0M348.7 59.4a0.8 0.8 0 1 0 1.5 0a0.8 0.8 0 1 0 -1.5 0M356.1 53.6a0.6 0.6 0 1 0 1.2 0a0.6 0.6 0 1 0 -1.2 0M318.1 64.0a0.6 0.6 0 1 0 1.1 0a0.6 0.6 0 1 0 -1.1 0M349.8 62.3a0.7 0.7 0 1 0 1.4 0a0.7 0.7 0 1 0 -1.4 0M365.1 48.0a0.6 0.6 0 1 0 1.2 0a0.6 0.6 0 1 0 -1.2 0M348.2 62.6a0.7 0.7 0 1 0 1.4 0a0.7 0.7 0 1 0 -1.4 0M338.2 55.2a0.6 0.6 0 1 0 1.2 0a0.6 0.6 0 1 0 -1.2 0M345.2 57.9a0.7 0.7 0 1 0 1.4 0a0.7 0.7 0 1 0 -1.4 0M324.3 58.1a0.8 0.8 0 1 0 1.5 0a0.8 0.8 0 1 0 -1.5 0M326.1 62.2a0.7 0.7 0 1 0 1.5 0a0.7 0.7 0 1 0 -1.5 0M346.1 52.5a0.9 0.9 0 1 0 1.8 0a0.9 0.9 0 1 0 -1.8 0M382.8 39.7a0.9 0.9 0 1 0 1.8 0a0.9 0.9 0 1 0 -1.8 0M311.2 64.1a0.8 0.8 0 1 0 1.6 0a0.8 0.8 0 1 0 -1.6 0M369.7 52.1a0.7 0.7 0 1 0 1.4 0a0.7 0.7 0 1 0 -1.4 0M347.3 58.1a0.6 0.6 0 1 0 1.2 0a0.6 0.6 0 1 0 -1.2 0M359.4 48.4a0.8 0.8 0 1 0 1.6 0a0.8 0.8 0 1 0 -1.6 0M332.3 54.5a0.7 0.7 0 1 0 1.4 0a0.7 0.7 0 1 0 -1.4 0M324.3 60.3a0.7 0.7 0 1 0 1.4 0a0.7 0.7 0 1 0 -1.4 0M356.8 47.4a0.7 0.7 0 1 0 1.3 0a0.7 0.7 0 1 0 -1.3 0M351.5 43.1a0.8 0.8 0 1 0 1.7 0a0.8 0.8 0 1 0 -1.7 0M376.1 38.1a0.9 0.9 0 1 0 1.9 0a0.9 0.9 0 1 0 -1.9 0M346.1 49.8a0.9 0.9 0 1 0 1.8 0a0.9 0.9 0 1 0 -1.8 0M347.2 52.8a0.7 0.7 0 1 0 1.3 0a0.7 0.7 0 1 0 -1.3 0M344.5 59.9a0.6 0.6 0 1 0 1.2 0a0.6 0.6 0 1 0 -1.2 0M314.3 59.3a0.6 0.6 0 1 0 1.2 0a0.6 0.6 0 1 0 -1.2 0M341.4 56.2a0.8 0.8 0 1 0 1.5 0a0.8 0.8 0 1 0 -1.5 0M368.8 50.8a0.7 0.7 0 1 0 1.3 0a0.7 0.7 0 1 0 -1.3 0M339.2 48.4a0.9 0.9 0 1 0 1.8 0a0.9 0.9 0 1 0 -1.8 0M349.5 49.4a0.7 0.7 0 1 0 1.4 0a0.7 0.7 0 1 0 -1.4 0M341.1 54.0a0.6 0.6 0 1 0 1.3 0a0.6 0.6 0 1 0 -1.3 0M353.2 46.6a0.9 0.9 0 1 0 1.7 0a0.9 0.9 0 1 0 -1.7 0M352.6 55.2a0.9 0.9 0 1 0 1.7 0a0.9 0.9 0 1 0 -1.7 0M355.7 62.5a0.6 0.6 0 1 0 1.2 0a0.6 0.6 0 1 0 -1.2 0M362.7 45.9a0.9 0.9 0 1 0 1.8 0a0.9 0.9 0 1 0 -1.8 0M377.5 55.3a0.9 0.9 0 1 0 1.9 0a0.9 0.9 0 1 0 -1.9 0M343.1 53.1a0.9 0.9 0 1 0 1.8 0a0.9 0.9 0 1 0 -1.8 0M378.2 43.5a0.8 0.8 0 1 0 1.6 0a0.8 0.8 0 1 0 -1.6 0M369.3 48.4a0.6 0.6 0 1 0 1.2 0a0.6 0.6 0 1 0 -1.2 0M376.0 55.0a0.6 0.6 0 1 0 1.3 0a0.6 0.6 0 1 0 -1.3 0M351.0 44.5a0.9 0.9 0 1 0 1.7 0a0.9 0.9 0 1 0 -1.7 0M345.5 38.9a0.7 0.7 0 1 0 1.4 0a0.7 0.7 0 1 0 -1.4 0M341.9 44.7a0.7 0.7 0 1 0 1.4 0a0.7 0.7 0 1 0 -1.4 0M363.4 49.2a0.5 0.5 0 1 0 1.0 0a0.5 0.5 0 1 0 -1.0 0M381.1 45.1a0.6 0.6 0 1 0 1.1 0a0.6 0.6 0 1 0 -1.1 0M341.0 66.2a0.9 0.9 0 1 0 1.7 0a0.9 0.9 0 1 0 -1.7 0M333.9 69.4a0.8 0.8 0 1 0 1.6 0a0.8 0.8 0 1 0 -1.6 0M356.9 50.1a0.8 0.8 0 1 0 1.7 0a0.8 0.8 0 1 0 -1.7 0M372.9 51.4a0.7 0.7 0 1 0 1.3 0a0.7 0.7 0 1 0 -1.3 0M367.8 51.4a0.5 0.5 0 1 0 1.1 0a0.5 0.5 0 1 0 -1.1 0M383.9 44.3a0.8 0.8 0 1 0 1.5 0a0.8 0.8 0 1 0 -1.5 0M337.8 45.0a0.7 0.7 0 1 0 1.4 0a0.7 0.7 0 1 0 -1.4 0M373.7 46.8a0.5 0.5 0 1 0 1.0 0a0.5 0.5 0 1 0 -1.0 0M372.3 50.6a0.5 0.5 0 1 0 1.0 0a0.5 0.5 0 1 0 -1.0 0M352.6 35.1a0.9 0.9 0 1 0 1.8 0a0.9 0.9 0 1 0 -1.8 0M356.2 48.2a0.7 0.7 0 1 0 1.5 0a0.7 0.7 0 1 0 -1.5 0M382.1 58.7a0.9 0.9 0 1 0 1.7 0a0.9 0.9 0 1 0 -1.7 0M393.5 50.1a0.6 0.6 0 1 0 1.2 0a0.6 0.6 0 1 0 -1.2 0M343.4 51.5a0.8 0.8 0 1 0 1.7 0a0.8 0.8 0 1 0 -1.7 0M323.3 58.9a0.8 0.8 0 1 0 1.7 0a0.8 0.8 0 1 0 -1.7 0M352.0 48.2a0.9 0.9 0 1 0 1.8 0a0.9 0.9 0 1 0 -1.8 0M349.8 57.9a0.7 0.7 0 1 0 1.4 0a0.7 0.7 0 1 0 -1.4 0M373.3 38.0a0.9 0.9 0 1 0 1.9 0a0.9 0.9 0 1 0 -1.9 0M385.6 44.6a0.8 0.8 0 1 0 1.7 0a0.8 0.8 0 1 0 -1.7 0M377.5 48.8a0.8 0.8 0 1 0 1.5 0a0.8 0.8 0 1 0 -1.5 0M378.2 49.1a0.7 0.7 0 1 0 1.3 0a0.7 0.7 0 1 0 -1.3 0M348.9 47.0a0.8 0.8 0 1 0 1.6 0a0.8 0.8 0 1 0 -1.6 0M365.6 44.8a0.5 0.5 0 1 0 1.0 0a0.5 0.5 0 1 0 -1.0 0M373.5 48.9a0.6 0.6 0 1 0 1.2 0a0.6 0.6 0 1 0 -1.2 0M344.1 61.1a0.8 0.8 0 1 0 1.6 0a0.8 0.8 0 1 0 -1.6 0M358.7 51.5a0.9 0.9 0 1 0 1.7 0a0.9 0.9 0 1 0 -1.7 0M351.2 57.0a0.8 0.8 0 1 0 1.6 0a0.8 0.8 0 1 0 -1.6 0M345.4 55.8a0.9 0.9 0 1 0 1.9 0a0.9 0.9 0 1 0 -1.9 0M349.6 30.6a0.9 0.9 0 1 0 1.8 0a0.9 0.9 0 1 0 -1.8 0M355.8 59.5a0.5 0.5 0 1 0 1.1 0a0.5 0.5 0 1 0 -1.1 0M362.7 43.2a0.5 0.5 0 1 0 1.0 0a0.5 0.5 0 1 0 -1.0 0M350.2 41.0a0.6 0.6 0 1 0 1.3 0a0.6 0.6 0 1 0 -1.3 0M326.0 65.1a0.5 0.5 0 1 0 1.1 0a0.5 0.5 0 1 0 -1.1 0M361.6 38.5a0.9 0.9 0 1 0 1.8 0a0.9 0.9 0 1 0 -1.8 0M361.0 49.2a0.9 0.9 0 1 0 1.8 0a0.9 0.9 0 1 0 -1.8 0M359.6 43.7a0.8 0.8 0 1 0 1.6 0a0.8 0.8 0 1 0 -1.6 0M368.6 45.0a0.6 0.6 0 1 0 1.1 0a0.6 0.6 0 1 0 -1.1 0M350.0 50.7a0.9 0.9 0 1 0 1.8 0a0.9 0.9 0 1 0 -1.8 0M328.2 59.0a0.7 0.7 0 1 0 1.4 0a0.7 0.7 0 1 0 -1.4 0M359.3 41.9a0.6 0.6 0 1 0 1.2 0a0.6 0.6 0 1 0 -1.2 0M357.3 60.3a0.6 0.6 0 1 0 1.3 0a0.6 0.6 0 1 0 -1.3 0M382.5 42.1a0.6 0.6 0 1 0 1.2 0a0.6 0.6 0 1 0 -1.2 0M346.2 58.3a0.8 0.8 0 1 0 1.6 0a0.8 0.8 0 1 0 -1.6 0M333.7 67.0a0.8 0.8 0 1 0 1.5 0a0.8 0.8 0 1 0 -1.5 0M312.8 57.9a0.5 0.5 0 1 0 1.0 0a0.5 0.5 0 1 0 -1.0 0M367.0 56.7a0.9 0.9 0 1 0 1.8 0a0.9 0.9 0 1 0 -1.8 0M358.4 58.5a0.7 0.7 0 1 0 1.3 0a0.7 0.7 0 1 0 -1.3 0M381.2 33.7a0.8 0.8 0 1 0 1.6 0a0.8 0.8 0 1 0 -1.6 0M380.3 54.9a0.8 0.8 0 1 0 1.6 0a0.8 0.8 0 1 0 -1.6 0M308.3 67.4a0.9 0.9 0 1 0 1.8 0a0.9 0.9 0 1 0 -1.8 0M304.1 63.1a0.5 0.5 0 1 0 1.0 0a0.5 0.5 0 1 0 -1.0 0M329.1 61.6a0.8 0.8 0 1 0 1.6 0a0.8 0.8 0 1 0 -1.6 0M372.6 52.9a0.8 0.8 0 1 0 1.6 0a0.8 0.8 0 1 0 -1.6 0M354.2 45.3a0.9 0.9 0 1 0 1.8 0a0.9 0.9 0 1 0 -1.8 0M321.0 61.1a0.9 0.9 0 1 0 1.7 0a0.9 0.9 0 1 0 -1.7 0M353.4 60.0a0.7 0.7 0 1 0 1.5 0a0.7 0.7 0 1 0 -1.5 0M365.9 39.8a0.8 0.8 0 1 0 1.6 0a0.8 0.8 0 1 0 -1.6 0M373.7 53.3a0.9 0.9 0 1 0 1.8 0a0.9 0.9 0 1 0 -1.8 0M351.0 30.4a0.7 0.7 0 1 0 1.4 0a0.7 0.7 0 1 0 -1.4 0M332.7 58.7a0.9 0.9 0 1 0 1.8 0a0.9 0.9 0 1 0 -1.8 0M353.7 57.1a0.7 0.7 0 1 0 1.3 0a0.7 0.7 0 1 0 -1.3 0M347.1 52.8a0.6 0.6 0 1 0 1.2 0a0.6 0.6 0 1 0 -1.2 0M376.4 38.4a0.8 0.8 0 1 0 1.7 0a0.8 0.8 0 1 0 -1.7 0M371.4 45.5a0.8 0.8 0 1 0 1.7 0a0.8 0.8 0 1 0 -1.7 0M342.4 55.7a0.7 0.7 0 1 0 1.3 0a0.7 0.7 0 1 0 -1.3 0M338.4 49.0a0.8 0.8 0 1 0 1.7 0a0.8 0.8 0 1 0 -1.7 0M345.1 57.8a0.7 0.7 0 1 0 1.3 0a0.7 0.7 0 1 0 -1.3 0M367.6 52.8a0.9 0.9 0 1 0 1.8 0a0.9 0.9 0 1 0 -1.8 0M318.5 65.9a0.7 0.7 0 1 0 1.4 0a0.7 0.7 0 1 0 -1.4 0M381.2 33.4a0.9 0.9 0 1 0 1.8 0a0.9 0.9 0 1 0 -1.8 0M348.9 47.6a0.6 0.6 0 1 0 1.3 0a0.6 0.6 0 1 0 -1.3 0M311.5 62.2a0.5 0.5 0 1 0 1.1 0a0.5 0.5 0 1 0 -1.1 0M347.4 44.1a0.5 0.5 0 1 0 1.0 0a0.5 0.5 0 1 0 -1.0 0M385.4 49.4a0.5 0.5 0 1 0 1.0 0a0.5 0.5 0 1 0 -1.0 0M340.5 57.3a0.6 0.6 0 1 0 1.3 0a0.6 0.6 0 1 0 -1.3 0M373.6 52.4a0.7 0.7 0 1 0 1.5 0a0.7 0.7 0 1 0 -1.5 0M370.7 32.9a0.7 0.7 0 1 0 1.5 0a0.7 0.7 0 1 0 -1.5 0M313.7 58.3a0.8 0.8 0 1 0 1.5 0a0.8 0.8 0 1 0 -1.5 0M337.4 66.5a0.9 0.9 0 1 0 1.7 0a0.9 0.9 0 1 0 -1.7 0M334.3 61.9a0.8 0.8 0 1 0 1.7 0a0.8 0.8 0 1 0 -1.7 0M363.0 48.6a0.7 0.7 0 1 0 1.5 0a0.7 0.7 0 1 0 -1.5 0M360.4 36.7a0.7 0.7 0 1 0 1.3 0a0.7 0.7 0 1 0 -1.3 0M338.5 55.3a0.6 0.6 0 1 0 1.2 0a0.6 0.6 0 1 0 -1.2 0M381.8 41.1a0.9 0.9 0 1 0 1.8 0a0.9 0.9 0 1 0 -1.8 0M370.3 54.1a0.9 0.9 0 1 0 1.8 0a0.9 0.9 0 1 0 -1.8 0M361.0 48.4a0.6 0.6 0 1 0 1.2 0a0.6 0.6 0 1 0 -1.2 0M359.0 66.9a0.8 0.8 0 1 0 1.7 0a0.8 0.8 0 1 0 -1.7 0M363.3 46.4a0.8 0.8 0 1 0 1.6 0a0.8 0.8 0 1 0 -1.6 0M315.9 57.5a0.8 0.8 0 1 0 1.7 0a0.8 0.8 0 1 0 -1.7 0M362.6 48.4a0.5 0.5 0 1 0 1.0 0a0.5 0.5 0 1 0 -1.0 0M339.0 51.5a0.5 0.5 0 1 0 1.0 0a0.5 0.5 0 1 0 -1.0 0M337.2 47.5a0.8 0.8 0 1 0 1.6 0a0.8 0.8 0 1 0 -1.6 0M342.4 52.0a0.6 0.6 0 1 0 1.1 0a0.6 0.6 0 1 0 -1.1 0M358.9 65.0a0.9 0.9 0 1 0 1.9 0a0.9 0.9 0 1 0 -1.9 0M372.2 41.0a0.7 0.7 0 1 0 1.4 0a0.7 0.7 0 1 0 -1.4 0M337.4 44.5a0.9 0.9 0 1 0 1.7 0a0.9 0.9 0 1 0 -1.7 0M357.1 38.7a0.9 0.9 0 1 0 1.7 0a0.9 0.9 0 1 0 -1.7 0M340.2 50.1a0.8 0.8 0 1 0 1.7 0a0.8 0.8 0 1 0 -1.7 0M340.4 45.2a0.6 0.6 0 1 0 1.3 0a0.6 0.6 0 1 0 -1.3 0M385.7 42.0a0.8 0.8 0 1 0 1.6 0a0.8 0.8 0 1 0 -1.6 0M353.4 54.8a0.9 0.9 0 1 0 1.7 0a0.9 0.9 0 1 0 -1.7 0M357.7 59.2a0.9 0.9 0 1 0 1.9 0a0.9 0.9 0 1 0 -1.9 0M379.1 38.7a0.8 0.8 0 1 0 1.5 0a0.8 0.8 0 1 0 -1.5 0M356.9 52.1a0.9 0.9 0 1 0 1.7 0a0.9 0.9 0 1 0 -1.7 0M345.1 55.5a0.8 0.8 0 1 0 1.5 0a0.8 0.8 0 1 0 -1.5 0M338.4 49.0a0.7 0.7 0 1 0 1.4 0a0.7 0.7 0 1 0 -1.4 0M322.5 58.5a0.8 0.8 0 1 0 1.6 0a0.8 0.8 0 1 0 -1.6 0M343.4 51.7a0.9 0.9 0 1 0 1.9 0a0.9 0.9 0 1 0 -1.9 0M379.7 46.6a0.7 0.7 0 1 0 1.5 0a0.7 0.7 0 1 0 -1.5 0M324.0 57.1a0.7 0.7 0 1 0 1.4 0a0.7 0.7 0 1 0 -1.4 0M321.0 61.2a0.6 0.6 0 1 0 1.2 0a0.6 0.6 0 1 0 -1.2 0M343.4 52.8a0.8 0.8 0 1 0 1.6 0a0.8 0.8 0 1 0 -1.6 0M340.2 59.9a0.8 0.8 0 1 0 1.6 0a0.8 0.8 0 1 0 -1.6 0M331.8 57.7a0.6 0.6 0 1 0 1.3 0a0.6 0.6 0 1 0 -1.3 0M317.1 66.6a0.5 0.5 0 1 0 1.1 0a0.5 0.5 0 1 0 -1.1 0M346.2 64.0a0.9 0.9 0 1 0 1.9 0a0.9 0.9 0 1 0 -1.9 0M341.3 44.2a0.7 0.7 0 1 0 1.4 0a0.7 0.7 0 1 0 -1.4 0M325.3 66.6a0.8 0.8 0 1 0 1.6 0a0.8 0.8 0 1 0 -1.6 0M335.2 60.8a0.7 0.7 0 1 0 1.4 0a0.7 0.7 0 1 0 -1.4 0M351.2 41.9a0.5 0.5 0 1 0 1.1 0a0.5 0.5 0 1 0 -1.1 0M371.4 50.3a0.6 0.6 0 1 0 1.3 0a0.6 0.6 0 1 0 -1.3 0M367.2 44.5a0.8 0.8 0 1 0 1.6 0a0.8 0.8 0 1 0 -1.6 0M347.7 49.5a0.6 0.6 0 1 0 1.1 0a0.6 0.6 0 1 0 -1.1 0M348.4 49.3a0.6 0.6 0 1 0 1.1 0a0.6 0.6 0 1 0 -1.1 0M344.3 59.4a0.7 0.7 0 1 0 1.5 0a0.7 0.7 0 1 0 -1.5 0" fill="#50c6cc"/>
<path d="M351.8 61.5a0.6 0.6 0 1 0 1.2 0a0.6 0.6 0 1 0 -1.2 0M346.0 48.0a0.5 0.5 0 1 0 1.0 0a0.5 0.5 0 1 0 -1.0 0M369.7 47.4a0.8 0.8 0 1 0 1.7 0a0.8 0.8 0 1 0 -1.7 0M365.5 58.5a0.8 0.8 0 1 0 1.7 0a0.8 0.8 0 1 0 -1.7 0M341.4 60.8a0.6 0.6 0 1 0 1.1 0a0.6 0.6 0 1 0 -1.1 0M353.3 67.6a0.9 0.9 0 1 0 1.8 0a0.9 0.9 0 1 0 -1.8 0M360.5 42.7a0.6 0.6 0 1 0 1.2 0a0.6 0.6 0 1 0 -1.2 0M375.9 55.1a0.6 0.6 0 1 0 1.2 0a0.6 0.6 0 1 0 -1.2 0M357.3 45.3a0.9 0.9 0 1 0 1.9 0a0.9 0.9 0 1 0 -1.9 0M353.3 56.1a0.9 0.9 0 1 0 1.9 0a0.9 0.9 0 1 0 -1.9 0M354.3 55.1a0.6 0.6 0 1 0 1.3 0a0.6 0.6 0 1 0 -1.3 0M358.9 44.8a0.8 0.8 0 1 0 1.7 0a0.8 0.8 0 1 0 -1.7 0M359.3 51.6a0.8 0.8 0 1 0 1.6 0a0.8 0.8 0 1 0 -1.6 0M348.7 62.1a0.7 0.7 0 1 0 1.4 0a0.7 0.7 0 1 0 -1.4 0M328.0 68.6a0.9 0.9 0 1 0 1.9 0a0.9 0.9 0 1 0 -1.9 0M373.4 62.6a0.6 0.6 0 1 0 1.1 0a0.6 0.6 0 1 0 -1.1 0M377.2 51.5a0.6 0.6 0 1 0 1.2 0a0.6 0.6 0 1 0 -1.2 0M354.4 42.4a0.6 0.6 0 1 0 1.1 0a0.6 0.6 0 1 0 -1.1 0M348.9 65.1a0.7 0.7 0 1 0 1.4 0a0.7 0.7 0 1 0 -1.4 0M347.5 36.5a0.8 0.8 0 1 0 1.5 0a0.8 0.8 0 1 0 -1.5 0M375.7 35.5a0.7 0.7 0 1 0 1.5 0a0.7 0.7 0 1 0 -1.5 0M359.7 53.5a0.6 0.6 0 1 0 1.1 0a0.6 0.6 0 1 0 -1.1 0M369.5 40.3a0.6 0.6 0 1 0 1.2 0a0.6 0.6 0 1 0 -1.2 0M365.4 42.1a0.8 0.8 0 1 0 1.7 0a0.8 0.8 0 1 0 -1.7 0M315.9 64.9a0.6 0.6 0 1 0 1.1 0a0.6 0.6 0 1 0 -1.1 0M309.0 62.4a0.5 0.5 0 1 0 1.1 0a0.5 0.5 0 1 0 -1.1 0M364.8 58.4a0.6 0.6 0 1 0 1.2 0a0.6 0.6 0 1 0 -1.2 0M372.8 42.9a0.8 0.8 0 1 0 1.6 0a0.8 0.8 0 1 0 -1.6 0M373.4 42.1a0.9 0.9 0 1 0 1.8 0a0.9 0.9 0 1 0 -1.8 0M333.8 59.2a0.6 0.6 0 1 0 1.2 0a0.6 0.6 0 1 0 -1.2 0M372.9 46.7a0.8 0.8 0 1 0 1.6 0a0.8 0.8 0 1 0 -1.6 0M353.4 54.1a0.9 0.9 0 1 0 1.7 0a0.9 0.9 0 1 0 -1.7 0M336.8 54.1a0.6 0.6 0 1 0 1.2 0a0.6 0.6 0 1 0 -1.2 0M346.8 49.6a0.8 0.8 0 1 0 1.6 0a0.8 0.8 0 1 0 -1.6 0M349.9 50.6a0.5 0.5 0 1 0 1.0 0a0.5 0.5 0 1 0 -1.0 0M377.6 53.1a0.8 0.8 0 1 0 1.6 0a0.8 0.8 0 1 0 -1.6 0M341.1 57.2a0.7 0.7 0 1 0 1.4 0a0.7 0.7 0 1 0 -1.4 0M349.4 40.6a0.7 0.7 0 1 0 1.3 0a0.7 0.7 0 1 0 -1.3 0M346.2 52.0a0.8 0.8 0 1 0 1.6 0a0.8 0.8 0 1 0 -1.6 0M365.3 47.8a0.8 0.8 0 1 0 1.6 0a0.8 0.8 0 1 0 -1.6 0M355.3 54.9a0.9 0.9 0 1 0 1.8 0a0.9 0.9 0 1 0 -1.8 0M361.8 44.0a0.9 0.9 0 1 0 1.7 0a0.9 0.9 0 1 0 -1.7 0M372.5 41.3a0.8 0.8 0 1 0 1.7 0a0.8 0.8 0 1 0 -1.7 0M349.3 58.2a0.8 0.8 0 1 0 1.6 0a0.8 0.8 0 1 0 -1.6 0M310.3 62.4a0.9 0.9 0 1 0 1.7 0a0.9 0.9 0 1 0 -1.7 0M379.6 38.9a0.8 0.8 0 1 0 1.6 0a0.8 0.8 0 1 0 -1.6 0M385.4 36.0a0.8 0.8 0 1 0 1.7 0a0.8 0.8 0 1 0 -1.7 0M358.0 51.7a0.7 0.7 0 1 0 1.4 0a0.7 0.7 0 1 0 -1.4 0M329.2 60.9a0.6 0.6 0 1 0 1.1 0a0.6 0.6 0 1 0 -1.1 0M306.6 60.7a0.7 0.7 0 1 0 1.4 0a0.7 0.7 0 1 0 -1.4 0M341.6 64.9a0.7 0.7 0 1 0 1.4 0a0.7 0.7 0 1 0 -1.4 0M322.3 63.3a0.8 0.8 0 1 0 1.7 0a0.8 0.8 0 1 0 -1.7 0M368.2 53.2a0.7 0.7 0 1 0 1.3 0a0.7 0.7 0 1 0 -1.3 0M319.6 67.9a0.5 0.5 0 1 0 1.1 0a0.5 0.5 0 1 0 -1.1 0M349.9 36.8a0.5 0.5 0 1 0 1.0 0a0.5 0.5 0 1 0 -1.0 0M371.9 45.1a0.7 0.7 0 1 0 1.4 0a0.7 0.7 0 1 0 -1.4 0M354.3 60.4a0.8 0.8 0 1 0 1.6 0a0.8 0.8 0 1 0 -1.6 0M352.2 52.5a0.8 0.8 0 1 0 1.5 0a0.8 0.8 0 1 0 -1.5 0M356.5 68.2a0.8 0.8 0 1 0 1.5 0a0.8 0.8 0 1 0 -1.5 0M347.6 61.6a0.8 0.8 0 1 0 1.7 0a0.8 0.8 0 1 0 -1.7 0M354.5 46.5a0.9 0.9 0 1 0 1.9 0a0.9 0.9 0 1 0 -1.9 0M331.6 52.1a0.5 0.5 0 1 0 1.1 0a0.5 0.5 0 1 0 -1.1 0M334.1 58.0a0.7 0.7 0 1 0 1.5 0a0.7 0.7 0 1 0 -1.5 0M321.8 58.3a0.7 0.7 0 1 0 1.3 0a0.7 0.7 0 1 0 -1.3 0M353.8 50.9a0.6 0.6 0 1 0 1.1 0a0.6 0.6 0 1 0 -1.1 0M380.6 41.8a0.9 0.9 0 1 0 1.9 0a0.9 0.9 0 1 0 -1.9 0M375.7 35.4a0.9 0.9 0 1 0 1.8 0a0.9 0.9 0 1 0 -1.8 0M323.4 63.1a0.6 0.6 0 1 0 1.3 0a0.6 0.6 0 1 0 -1.3 0M370.5 54.1a0.7 0.7 0 1 0 1.3 0a0.7 0.7 0 1 0 -1.3 0M361.7 39.7a0.6 0.6 0 1 0 1.1 0a0.6 0.6 0 1 0 -1.1 0M318.3 61.6a0.9 0.9 0 1 0 1.8 0a0.9 0.9 0 1 0 -1.8 0M363.1 38.6a0.9 0.9 0 1 0 1.9 0a0.9 0.9 0 1 0 -1.9 0M336.6 51.1a0.8 0.8 0 1 0 1.7 0a0.8 0.8 0 1 0 -1.7 0M353.1 53.5a0.5 0.5 0 1 0 1.0 0a0.5 0.5 0 1 0 -1.0 0M361.5 44.5a0.7 0.7 0 1 0 1.4 0a0.7 0.7 0 1 0 -1.4 0M380.0 37.1a0.6 0.6 0 1 0 1.1 0a0.6 0.6 0 1 0 -1.1 0M367.6 52.8a0.6 0.6 0 1 0 1.2 0a0.6 0.6 0 1 0 -1.2 0M344.0 45.4a0.5 0.5 0 1 0 1.1 0a0.5 0.5 0 1 0 -1.1 0M371.2 50.9a0.6 0.6 0 1 0 1.1 0a0.6 0.6 0 1 0 -1.1 0M367.3 39.4a0.7 0.7 0 1 0 1.4 0a0.7 0.7 0 1 0 -1.4 0M322.4 65.1a0.8 0.8 0 1 0 1.7 0a0.8 0.8 0 1 0 -1.7 0M354.0 40.3a0.9 0.9 0 1 0 1.8 0a0.9 0.9 0 1 0 -1.8 0M347.3 48.8a0.6 0.6 0 1 0 1.1 0a0.6 0.6 0 1 0 -1.1 0M317.5 65.3a0.5 0.5 0 1 0 1.0 0a0.5 0.5 0 1 0 -1.0 0M334.4 55.4a0.6 0.6 0 1 0 1.1 0a0.6 0.6 0 1 0 -1.1 0M377.7 31.5a0.8 0.8 0 1 0 1.7 0a0.8 0.8 0 1 0 -1.7 0M383.7 42.7a0.5 0.5 0 1 0 1.1 0a0.5 0.5 0 1 0 -1.1 0M372.4 39.9a0.9 0.9 0 1 0 1.8 0a0.9 0.9 0 1 0 -1.8 0M340.3 65.5a0.6 0.6 0 1 0 1.2 0a0.6 0.6 0 1 0 -1.2 0M348.6 47.5a0.8 0.8 0 1 0 1.6 0a0.8 0.8 0 1 0 -1.6 0M363.7 28.6a0.7 0.7 0 1 0 1.4 0a0.7 0.7 0 1 0 -1.4 0M357.4 49.4a0.8 0.8 0 1 0 1.6 0a0.8 0.8 0 1 0 -1.6 0M355.7 60.8a0.8 0.8 0 1 0 1.6 0a0.8 0.8 0 1 0 -1.6 0M384.2 53.9a0.8 0.8 0 1 0 1.5 0a0.8 0.8 0 1 0 -1.5 0M367.4 45.1a0.7 0.7 0 1 0 1.3 0a0.7 0.7 0 1 0 -1.3 0M348.0 56.2a0.8 0.8 0 1 0 1.7 0a0.8 0.8 0 1 0 -1.7 0M316.3 59.9a0.9 0.9 0 1 0 1.8 0a0.9 0.9 0 1 0 -1.8 0M318.7 57.8a0.8 0.8 0 1 0 1.6 0a0.8 0.8 0 1 0 -1.6 0M375.6 53.2a0.7 0.7 0 1 0 1.4 0a0.7 0.7 0 1 0 -1.4 0M339.1 61.7a0.9 0.9 0 1 0 1.7 0a0.9 0.9 0 1 0 -1.7 0M374.4 53.2a0.6 0.6 0 1 0 1.2 0a0.6 0.6 0 1 0 -1.2 0M334.1 48.4a0.6 0.6 0 1 0 1.2 0a0.6 0.6 0 1 0 -1.2 0M315.8 63.9a0.9 0.9 0 1 0 1.9 0a0.9 0.9 0 1 0 -1.9 0M343.1 45.4a0.8 0.8 0 1 0 1.6 0a0.8 0.8 0 1 0 -1.6 0M367.6 45.9a0.8 0.8 0 1 0 1.5 0a0.8 0.8 0 1 0 -1.5 0M367.9 41.3a0.9 0.9 0 1 0 1.9 0a0.9 0.9 0 1 0 -1.9 0M350.3 56.1a0.8 0.8 0 1 0 1.6 0a0.8 0.8 0 1 0 -1.6 0M348.7 58.5a0.9 0.9 0 1 0 1.7 0a0.9 0.9 0 1 0 -1.7 0M314.7 64.7a0.7 0.7 0 1 0 1.5 0a0.7 0.7 0 1 0 -1.5 0M357.6 40.9a0.8 0.8 0 1 0 1.6 0a0.8 0.8 0 1 0 -1.6 0M345.4 44.6a0.8 0.8 0 1 0 1.5 0a0.8 0.8 0 1 0 -1.5 0M353.3 47.5a0.6 0.6 0 1 0 1.3 0a0.6 0.6 0 1 0 -1.3 0M349.7 58.3a0.9 0.9 0 1 0 1.8 0a0.9 0.9 0 1 0 -1.8 0M357.4 63.2a0.7 0.7 0 1 0 1.3 0a0.7 0.7 0 1 0 -1.3 0M322.0 58.5a0.7 0.7 0 1 0 1.5 0a0.7 0.7 0 1 0 -1.5 0M386.9 43.7a0.7 0.7 0 1 0 1.3 0a0.7 0.7 0 1 0 -1.3 0M373.1 39.6a0.8 0.8 0 1 0 1.7 0a0.8 0.8 0 1 0 -1.7 0M362.6 51.2a0.8 0.8 0 1 0 1.7 0a0.8 0.8 0 1 0 -1.7 0M334.3 56.9a0.9 0.9 0 1 0 1.8 0a0.9 0.9 0 1 0 -1.8 0M360.8 51.3a0.7 0.7 0 1 0 1.4 0a0.7 0.7 0 1 0 -1.4 0M333.9 54.0a0.6 0.6 0 1 0 1.2 0a0.6 0.6 0 1 0 -1.2 0M367.0 43.9a0.6 0.6 0 1 0 1.2 0a0.6 0.6 0 1 0 -1.2 0M308.2 64.2a0.6 0.6 0 1 0 1.1 0a0.6 0.6 0 1 0 -1.1 0M372.2 49.9a0.9 0.9 0 1 0 1.8 0a0.9 0.9 0 1 0 -1.8 0M344.7 40.4a0.6 0.6 0 1 0 1.2 0a0.6 0.6 0 1 0 -1.2 0M331.8 56.4a0.9 0.9 0 1 0 1.9 0a0.9 0.9 0 1 0 -1.9 0M354.1 55.6a0.8 0.8 0 1 0 1.6 0a0.8 0.8 0 1 0 -1.6 0M358.9 55.6a0.8 0.8 0 1 0 1.6 0a0.8 0.8 0 1 0 -1.6 0M320.7 62.3a0.8 0.8 0 1 0 1.7 0a0.8 0.8 0 1 0 -1.7 0M326.5 58.1a0.6 0.6 0 1 0 1.2 0a0.6 0.6 0 1 0 -1.2 0M348.4 49.3a0.5 0.5 0 1 0 1.0 0a0.5 0.5 0 1 0 -1.0 0M354.8 46.1a0.7 0.7 0 1 0 1.4 0a0.7 0.7 0 1 0 -1.4 0M357.3 52.8a0.8 0.8 0 1 0 1.5 0a0.8 0.8 0 1 0 -1.5 0M356.6 41.9a0.7 0.7 0 1 0 1.4 0a0.7 0.7 0 1 0 -1.4 0" fill="#90cc30"/><path d="M318.2 60.6a1.1 1.1 0 1 0 2.2 0a1.1 1.1 0 1 0 -2.2 0M353.1 41.6a1.1 1.1 0 1 0 2.2 0a1.1 1.1 0 1 0 -2.2 0M311.5 64.3a1.3 1.3 0 1 0 2.7 0a1.3 1.3 0 1 0 -2.7 0M316.0 58.9a1.3 1.3 0 1 0 2.6 0a1.3 1.3 0 1 0 -2.6 0M373.3 63.4a1.5 1.5 0 1 0 2.9 0a1.5 1.5 0 1 0 -2.9 0M328.0 58.9a1.3 1.3 0 1 0 2.6 0a1.3 1.3 0 1 0 -2.6 0M375.3 46.0a1.5 1.5 0 1 0 3.0 0a1.5 1.5 0 1 0 -3.0 0M381.2 60.4a1.1 1.1 0 1 0 2.2 0a1.1 1.1 0 1 0 -2.2 0M357.6 47.6a1.3 1.3 0 1 0 2.5 0a1.3 1.3 0 1 0 -2.5 0M341.4 54.7a1.2 1.2 0 1 0 2.3 0a1.2 1.2 0 1 0 -2.3 0M349.7 44.5a1.3 1.3 0 1 0 2.5 0a1.3 1.3 0 1 0 -2.5 0M346.3 51.6a1.5 1.5 0 1 0 3.0 0a1.5 1.5 0 1 0 -3.0 0M355.9 50.2a1.1 1.1 0 1 0 2.2 0a1.1 1.1 0 1 0 -2.2 0M333.2 44.7a1.1 1.1 0 1 0 2.2 0a1.1 1.1 0 1 0 -2.2 0M325.3 61.2a1.5 1.5 0 1 0 2.9 0a1.5 1.5 0 1 0 -2.9 0M372.8 39.8a1.3 1.3 0 1 0 2.6 0a1.3 1.3 0 1 0 -2.6 0M316.3 56.0a1.3 1.3 0 1 0 2.6 0a1.3 1.3 0 1 0 -2.6 0M368.0 32.6a1.5 1.5 0 1 0 2.9 0a1.5 1.5 0 1 0 -2.9 0M360.7 51.8a1.1 1.1 0 1 0 2.2 0a1.1 1.1 0 1 0 -2.2 0M358.4 28.7a1.0 1.0 0 1 0 2.0 0a1.0 1.0 0 1 0 -2.0 0M361.9 34.5a1.1 1.1 0 1 0 2.2 0a1.1 1.1 0 1 0 -2.2 0M361.3 51.1a1.1 1.1 0 1 0 2.2 0a1.1 1.1 0 1 0 -2.2 0M314.8 59.0a1.3 1.3 0 1 0 2.6 0a1.3 1.3 0 1 0 -2.6 0M358.0 48.2a1.0 1.0 0 1 0 2.0 0a1.0 1.0 0 1 0 -2.0 0M343.9 62.2a1.0 1.0 0 1 0 2.0 0a1.0 1.0 0 1 0 -2.0 0M355.0 43.9a1.4 1.4 0 1 0 2.9 0a1.4 1.4 0 1 0 -2.9 0M341.2 60.6a1.1 1.1 0 1 0 2.2 0a1.1 1.1 0 1 0 -2.2 0M378.7 61.7a1.3 1.3 0 1 0 2.7 0a1.3 1.3 0 1 0 -2.7 0M322.3 59.6a1.4 1.4 0 1 0 2.9 0a1.4 1.4 0 1 0 -2.9 0M352.7 52.3a1.5 1.5 0 1 0 3.0 0a1.5 1.5 0 1 0 -3.0 0M330.9 42.0a1.3 1.3 0 1 0 2.5 0a1.3 1.3 0 1 0 -2.5 0M310.6 54.2a1.0 1.0 0 1 0 2.1 0a1.0 1.0 0 1 0 -2.1 0M370.1 57.1a1.5 1.5 0 1 0 2.9 0a1.5 1.5 0 1 0 -2.9 0M313.9 52.5a1.3 1.3 0 1 0 2.7 0a1.3 1.3 0 1 0 -2.7 0M370.3 56.6a1.2 1.2 0 1 0 2.4 0a1.2 1.2 0 1 0 -2.4 0M312.6 64.1a1.5 1.5 0 1 0 3.0 0a1.5 1.5 0 1 0 -3.0 0M365.0 50.1a1.4 1.4 0 1 0 2.8 0a1.4 1.4 0 1 0 -2.8 0M332.5 49.8a1.0 1.0 0 1 0 2.1 0a1.0 1.0 0 1 0 -2.1 0" fill="#48c848" stroke="#3a7a20" stroke-width="0.3"/>
<path d="M352.1 38.8a1.5 1.5 0 1 0 3.0 0a1.5 1.5 0 1 0 -3.0 0M353.3 54.2a1.1 1.1 0 1 0 2.2 0a1.1 1.1 0 1 0 -2.2 0M338.5 48.0a1.1 1.1 0 1 0 2.2 0a1.1 1.1 0 1 0 -2.2 0M310.0 61.1a1.5 1.5 0 1 0 3.0 0a1.5 1.5 0 1 0 -3.0 0M370.1 52.0a1.4 1.4 0 1 0 2.9 0a1.4 1.4 0 1 0 -2.9 0M364.2 46.2a1.2 1.2 0 1 0 2.5 0a1.2 1.2 0 1 0 -2.5 0M393.5 46.5a1.3 1.3 0 1 0 2.5 0a1.3 1.3 0 1 0 -2.5 0M307.0 63.3a1.1 1.1 0 1 0 2.2 0a1.1 1.1 0 1 0 -2.2 0M342.1 38.3a1.5 1.5 0 1 0 3.0 0a1.5 1.5 0 1 0 -3.0 0M359.2 54.2a1.5 1.5 0 1 0 2.9 0a1.5 1.5 0 1 0 -2.9 0M376.0 49.1a1.2 1.2 0 1 0 2.4 0a1.2 1.2 0 1 0 -2.4 0M350.4 47.5a1.1 1.1 0 1 0 2.2 0a1.1 1.1 0 1 0 -2.2 0" fill="#8ad020" stroke="#3a7a20" stroke-width="0.3"/><path d="M372.3 27.3a1.7 1.7 0 1 0 3.4 0a1.7 1.7 0 1 0 -3.4 0M357.3 28.8a1.6 1.6 0 1 0 3.2 0a1.6 1.6 0 1 0 -3.2 0M358.9 29.2a1.8 1.8 0 1 0 3.6 0a1.8 1.8 0 1 0 -3.6 0M350.9 28.7a1.3 1.3 0 1 0 2.7 0a1.3 1.3 0 1 0 -2.7 0M360.6 26.6a1.8 1.8 0 1 0 3.5 0a1.8 1.8 0 1 0 -3.5 0M358.1 27.8a1.5 1.5 0 1 0 3.1 0a1.5 1.5 0 1 0 -3.1 0M361.7 30.2a1.3 1.3 0 1 0 2.7 0a1.3 1.3 0 1 0 -2.7 0M350.5 27.0a1.6 1.6 0 1 0 3.1 0a1.6 1.6 0 1 0 -3.1 0M357.0 33.1a1.5 1.5 0 1 0 3.0 0a1.5 1.5 0 1 0 -3.0 0" fill="#b0d830" stroke="#5a8a20" stroke-width="0.3"/>
<path d="M352.6 27.1a2.0 2.0 0 1 0 4.0 0a2.0 2.0 0 1 0 -4.0 0M366.1 30.5a1.7 1.7 0 1 0 3.4 0a1.7 1.7 0 1 0 -3.4 0M362.5 25.2a1.5 1.5 0 1 0 2.9 0a1.5 1.5 0 1 0 -2.9 0" fill="#70c840" stroke="#5a8a20" stroke-width="0.3"/><path d="M408.8 57.2a0.5 0.5 0 1 0 1.0 0a0.5 0.5 0 1 0 -1.0 0M405.6 52.3a0.8 0.8 0 1 0 1.6 0a0.8 0.8 0 1 0 -1.6 0M276.8 50.8a0.8 0.8 0 1 0 1.5 0a0.8 0.8 0 1 0 -1.5 0M413.1 52.9a0.5 0.5 0 1 0 1.0 0a0.5 0.5 0 1 0 -1.0 0M341.7 72.7a0.4 0.4 0 1 0 0.8 0a0.4 0.4 0 1 0 -0.8 0M290.9 51.2a0.5 0.5 0 1 0 1.0 0a0.5 0.5 0 1 0 -1.0 0M398.3 66.9a0.8 0.8 0 1 0 1.6 0a0.8 0.8 0 1 0 -1.6 0M275.2 51.7a0.6 0.6 0 1 0 1.2 0a0.6 0.6 0 1 0 -1.2 0M346.1 74.1a0.7 0.7 0 1 0 1.4 0a0.7 0.7 0 1 0 -1.4 0M290.1 51.3a0.6 0.6 0 1 0 1.3 0a0.6 0.6 0 1 0 -1.3 0M405.1 62.5a0.5 0.5 0 1 0 0.9 0a0.5 0.5 0 1 0 -0.9 0M295.1 53.4a0.8 0.8 0 1 0 1.6 0a0.8 0.8 0 1 0 -1.6 0M268.3 46.8a0.8 0.8 0 1 0 1.5 0a0.8 0.8 0 1 0 -1.5 0M410.9 59.1a0.6 0.6 0 1 0 1.3 0a0.6 0.6 0 1 0 -1.3 0M293.1 86.6a0.7 0.7 0 1 0 1.5 0a0.7 0.7 0 1 0 -1.5 0M416.6 60.8a0.6 0.6 0 1 0 1.3 0a0.6 0.6 0 1 0 -1.3 0M335.3 72.5a0.8 0.8 0 1 0 1.6 0a0.8 0.8 0 1 0 -1.6 0M278.4 55.3a0.6 0.6 0 1 0 1.1 0a0.6 0.6 0 1 0 -1.1 0M279.5 49.7a0.4 0.4 0 1 0 0.9 0a0.4 0.4 0 1 0 -0.9 0M352.5 74.8a0.5 0.5 0 1 0 1.1 0a0.5 0.5 0 1 0 -1.1 0M287.7 55.8a0.8 0.8 0 1 0 1.6 0a0.8 0.8 0 1 0 -1.6 0M400.1 64.4a0.4 0.4 0 1 0 0.8 0a0.4 0.4 0 1 0 -0.8 0M405.8 62.4a0.5 0.5 0 1 0 1.1 0a0.5 0.5 0 1 0 -1.1 0M346.2 69.9a0.8 0.8 0 1 0 1.6 0a0.8 0.8 0 1 0 -1.6 0M341.1 70.4a0.6 0.6 0 1 0 1.1 0a0.6 0.6 0 1 0 -1.1 0M423.3 68.1a0.6 0.6 0 1 0 1.2 0a0.6 0.6 0 1 0 -1.2 0M360.3 74.4a0.5 0.5 0 1 0 1.1 0a0.5 0.5 0 1 0 -1.1 0M340.3 73.4a0.7 0.7 0 1 0 1.4 0a0.7 0.7 0 1 0 -1.4 0M420.8 60.3a0.5 0.5 0 1 0 1.1 0a0.5 0.5 0 1 0 -1.1 0M401.6 60.0a0.7 0.7 0 1 0 1.5 0a0.7 0.7 0 1 0 -1.5 0M354.7 70.5a0.7 0.7 0 1 0 1.3 0a0.7 0.7 0 1 0 -1.3 0M311.7 73.3a0.5 0.5 0 1 0 0.9 0a0.5 0.5 0 1 0 -0.9 0M273.0 58.8a0.8 0.8 0 1 0 1.6 0a0.8 0.8 0 1 0 -1.6 0M402.9 58.6a0.5 0.5 0 1 0 1.0 0a0.5 0.5 0 1 0 -1.0 0M283.6 46.3a0.7 0.7 0 1 0 1.5 0a0.7 0.7 0 1 0 -1.5 0M363.4 72.5a0.6 0.6 0 1 0 1.1 0a0.6 0.6 0 1 0 -1.1 0M413.9 54.7a0.7 0.7 0 1 0 1.4 0a0.7 0.7 0 1 0 -1.4 0M418.4 65.6a0.6 0.6 0 1 0 1.1 0a0.6 0.6 0 1 0 -1.1 0M332.5 72.5a0.8 0.8 0 1 0 1.6 0a0.8 0.8 0 1 0 -1.6 0M281.8 58.1a0.6 0.6 0 1 0 1.2 0a0.6 0.6 0 1 0 -1.2 0" fill="#60c0d0"/>
<path d="M422.0 70.3a0.7 0.7 0 1 0 1.4 0a0.7 0.7 0 1 0 -1.4 0M283.6 46.6a0.8 0.8 0 1 0 1.6 0a0.8 0.8 0 1 0 -1.6 0M285.5 42.4a0.5 0.5 0 1 0 1.1 0a0.5 0.5 0 1 0 -1.1 0M286.7 50.8a0.7 0.7 0 1 0 1.3 0a0.7 0.7 0 1 0 -1.3 0M279.8 52.1a0.6 0.6 0 1 0 1.2 0a0.6 0.6 0 1 0 -1.2 0M345.0 70.3a0.6 0.6 0 1 0 1.3 0a0.6 0.6 0 1 0 -1.3 0M347.6 70.7a0.4 0.4 0 1 0 0.8 0a0.4 0.4 0 1 0 -0.8 0M331.1 73.1a0.5 0.5 0 1 0 1.0 0a0.5 0.5 0 1 0 -1.0 0M272.5 49.9a0.7 0.7 0 1 0 1.3 0a0.7 0.7 0 1 0 -1.3 0M386.0 57.1a0.8 0.8 0 1 0 1.5 0a0.8 0.8 0 1 0 -1.5 0M410.7 65.5a0.6 0.6 0 1 0 1.2 0a0.6 0.6 0 1 0 -1.2 0M386.9 65.7a0.8 0.8 0 1 0 1.6 0a0.8 0.8 0 1 0 -1.6 0M410.2 54.9a0.5 0.5 0 1 0 0.9 0a0.5 0.5 0 1 0 -0.9 0M300.1 100.9a0.5 0.5 0 1 0 1.0 0a0.5 0.5 0 1 0 -1.0 0M288.8 91.7a0.7 0.7 0 1 0 1.4 0a0.7 0.7 0 1 0 -1.4 0M406.4 64.3a0.7 0.7 0 1 0 1.5 0a0.7 0.7 0 1 0 -1.5 0M405.7 68.5a0.7 0.7 0 1 0 1.3 0a0.7 0.7 0 1 0 -1.3 0M405.0 70.0a0.8 0.8 0 1 0 1.6 0a0.8 0.8 0 1 0 -1.6 0M336.1 72.9a0.8 0.8 0 1 0 1.5 0a0.8 0.8 0 1 0 -1.5 0M321.2 73.0a0.4 0.4 0 1 0 0.9 0a0.4 0.4 0 1 0 -0.9 0M369.1 71.0a0.7 0.7 0 1 0 1.4 0a0.7 0.7 0 1 0 -1.4 0M394.1 57.8a0.7 0.7 0 1 0 1.4 0a0.7 0.7 0 1 0 -1.4 0M405.8 66.8a0.7 0.7 0 1 0 1.5 0a0.7 0.7 0 1 0 -1.5 0M310.6 73.6a0.7 0.7 0 1 0 1.5 0a0.7 0.7 0 1 0 -1.5 0M271.5 45.3a0.6 0.6 0 1 0 1.2 0a0.6 0.6 0 1 0 -1.2 0M401.4 44.9a0.4 0.4 0 1 0 0.9 0a0.4 0.4 0 1 0 -0.9 0M417.7 70.2a0.6 0.6 0 1 0 1.3 0a0.6 0.6 0 1 0 -1.3 0M412.6 60.6a0.6 0.6 0 1 0 1.1 0a0.6 0.6 0 1 0 -1.1 0M299.2 103.5a0.4 0.4 0 1 0 0.8 0a0.4 0.4 0 1 0 -0.8 0M300.3 90.0a0.7 0.7 0 1 0 1.5 0a0.7 0.7 0 1 0 -1.5 0M335.5 75.9a0.7 0.7 0 1 0 1.4 0a0.7 0.7 0 1 0 -1.4 0M337.5 73.3a0.4 0.4 0 1 0 0.9 0a0.4 0.4 0 1 0 -0.9 0M407.2 46.4a0.5 0.5 0 1 0 1.1 0a0.5 0.5 0 1 0 -1.1 0M308.6 71.3a0.7 0.7 0 1 0 1.4 0a0.7 0.7 0 1 0 -1.4 0M393.2 65.6a0.5 0.5 0 1 0 0.9 0a0.5 0.5 0 1 0 -0.9 0M299.0 51.3a0.7 0.7 0 1 0 1.4 0a0.7 0.7 0 1 0 -1.4 0M297.6 93.6a0.7 0.7 0 1 0 1.3 0a0.7 0.7 0 1 0 -1.3 0M392.0 51.0a0.5 0.5 0 1 0 1.1 0a0.5 0.5 0 1 0 -1.1 0M414.1 72.6a0.7 0.7 0 1 0 1.4 0a0.7 0.7 0 1 0 -1.4 0M325.4 69.0a0.8 0.8 0 1 0 1.5 0a0.8 0.8 0 1 0 -1.5 0M411.4 57.9a0.7 0.7 0 1 0 1.4 0a0.7 0.7 0 1 0 -1.4 0M396.0 59.2a0.5 0.5 0 1 0 1.0 0a0.5 0.5 0 1 0 -1.0 0M361.1 71.0a0.8 0.8 0 1 0 1.5 0a0.8 0.8 0 1 0 -1.5 0M291.3 49.3a0.5 0.5 0 1 0 1.0 0a0.5 0.5 0 1 0 -1.0 0M292.9 101.8a0.4 0.4 0 1 0 0.9 0a0.4 0.4 0 1 0 -0.9 0M292.5 54.0a0.7 0.7 0 1 0 1.4 0a0.7 0.7 0 1 0 -1.4 0M307.9 86.5a0.5 0.5 0 1 0 1.1 0a0.5 0.5 0 1 0 -1.1 0M295.4 54.4a0.5 0.5 0 1 0 0.9 0a0.5 0.5 0 1 0 -0.9 0M282.9 44.4a0.8 0.8 0 1 0 1.6 0a0.8 0.8 0 1 0 -1.6 0M340.4 71.4a0.4 0.4 0 1 0 0.8 0a0.4 0.4 0 1 0 -0.8 0M284.5 52.7a0.6 0.6 0 1 0 1.3 0a0.6 0.6 0 1 0 -1.3 0M303.7 83.5a0.8 0.8 0 1 0 1.5 0a0.8 0.8 0 1 0 -1.5 0M292.1 46.4a0.6 0.6 0 1 0 1.2 0a0.6 0.6 0 1 0 -1.2 0M287.7 50.2a0.7 0.7 0 1 0 1.3 0a0.7 0.7 0 1 0 -1.3 0M343.2 72.8a0.5 0.5 0 1 0 1.0 0a0.5 0.5 0 1 0 -1.0 0M273.6 56.3a0.5 0.5 0 1 0 1.0 0a0.5 0.5 0 1 0 -1.0 0M285.6 53.2a0.7 0.7 0 1 0 1.3 0a0.7 0.7 0 1 0 -1.3 0M298.9 95.8a0.5 0.5 0 1 0 1.0 0a0.5 0.5 0 1 0 -1.0 0M298.0 107.6a0.5 0.5 0 1 0 0.9 0a0.5 0.5 0 1 0 -0.9 0M324.6 75.5a0.5 0.5 0 1 0 1.1 0a0.5 0.5 0 1 0 -1.1 0M291.3 47.9a0.5 0.5 0 1 0 1.0 0a0.5 0.5 0 1 0 -1.0 0M418.0 65.7a0.5 0.5 0 1 0 1.0 0a0.5 0.5 0 1 0 -1.0 0M286.6 52.8a0.6 0.6 0 1 0 1.1 0a0.6 0.6 0 1 0 -1.1 0M404.5 69.0a0.5 0.5 0 1 0 1.0 0a0.5 0.5 0 1 0 -1.0 0M400.4 51.2a0.7 0.7 0 1 0 1.4 0a0.7 0.7 0 1 0 -1.4 0M405.9 56.4a0.4 0.4 0 1 0 0.9 0a0.4 0.4 0 1 0 -0.9 0M283.1 57.8a0.6 0.6 0 1 0 1.2 0a0.6 0.6 0 1 0 -1.2 0M291.1 44.7a0.8 0.8 0 1 0 1.5 0a0.8 0.8 0 1 0 -1.5 0M289.3 52.9a0.5 0.5 0 1 0 1.0 0a0.5 0.5 0 1 0 -1.0 0M389.7 75.2a0.7 0.7 0 1 0 1.5 0a0.7 0.7 0 1 0 -1.5 0M353.7 70.5a0.5 0.5 0 1 0 1.0 0a0.5 0.5 0 1 0 -1.0 0M290.6 48.1a0.8 0.8 0 1 0 1.6 0a0.8 0.8 0 1 0 -1.6 0M285.5 52.9a0.7 0.7 0 1 0 1.4 0a0.7 0.7 0 1 0 -1.4 0M423.8 64.5a0.6 0.6 0 1 0 1.3 0a0.6 0.6 0 1 0 -1.3 0" fill="#30a8a8"/>
<path d="M410.5 56.5a0.8 0.8 0 1 0 1.5 0a0.8 0.8 0 1 0 -1.5 0M410.7 61.2a0.8 0.8 0 1 0 1.6 0a0.8 0.8 0 1 0 -1.6 0M395.4 60.7a0.5 0.5 0 1 0 1.0 0a0.5 0.5 0 1 0 -1.0 0M397.0 54.8a0.6 0.6 0 1 0 1.1 0a0.6 0.6 0 1 0 -1.1 0M333.3 74.5a0.4 0.4 0 1 0 0.8 0a0.4 0.4 0 1 0 -0.8 0M295.0 81.7a0.6 0.6 0 1 0 1.3 0a0.6 0.6 0 1 0 -1.3 0M296.5 47.1a0.4 0.4 0 1 0 0.8 0a0.4 0.4 0 1 0 -0.8 0M403.1 70.8a0.5 0.5 0 1 0 1.1 0a0.5 0.5 0 1 0 -1.1 0M402.6 63.1a0.4 0.4 0 1 0 0.9 0a0.4 0.4 0 1 0 -0.9 0M287.3 46.4a0.5 0.5 0 1 0 1.0 0a0.5 0.5 0 1 0 -1.0 0M404.4 69.7a0.6 0.6 0 1 0 1.3 0a0.6 0.6 0 1 0 -1.3 0M349.8 71.3a0.6 0.6 0 1 0 1.3 0a0.6 0.6 0 1 0 -1.3 0M387.5 60.7a0.5 0.5 0 1 0 0.9 0a0.5 0.5 0 1 0 -0.9 0M333.4 74.6a0.7 0.7 0 1 0 1.3 0a0.7 0.7 0 1 0 -1.3 0M278.6 47.0a0.4 0.4 0 1 0 0.8 0a0.4 0.4 0 1 0 -0.8 0M279.6 46.4a0.6 0.6 0 1 0 1.2 0a0.6 0.6 0 1 0 -1.2 0M402.1 45.0a0.8 0.8 0 1 0 1.5 0a0.8 0.8 0 1 0 -1.5 0M409.6 65.8a0.6 0.6 0 1 0 1.1 0a0.6 0.6 0 1 0 -1.1 0M314.4 71.9a0.7 0.7 0 1 0 1.4 0a0.7 0.7 0 1 0 -1.4 0M299.0 48.9a0.6 0.6 0 1 0 1.2 0a0.6 0.6 0 1 0 -1.2 0M412.8 67.8a0.7 0.7 0 1 0 1.4 0a0.7 0.7 0 1 0 -1.4 0M346.7 71.6a0.8 0.8 0 1 0 1.6 0a0.8 0.8 0 1 0 -1.6 0M404.0 62.2a0.5 0.5 0 1 0 1.1 0a0.5 0.5 0 1 0 -1.1 0M409.4 58.5a0.5 0.5 0 1 0 0.9 0a0.5 0.5 0 1 0 -0.9 0M290.7 53.7a0.4 0.4 0 1 0 0.9 0a0.4 0.4 0 1 0 -0.9 0M411.5 58.1a0.7 0.7 0 1 0 1.4 0a0.7 0.7 0 1 0 -1.4 0M401.2 55.9a0.4 0.4 0 1 0 0.8 0a0.4 0.4 0 1 0 -0.8 0M426.2 64.0a0.6 0.6 0 1 0 1.3 0a0.6 0.6 0 1 0 -1.3 0M393.2 69.5a0.6 0.6 0 1 0 1.1 0a0.6 0.6 0 1 0 -1.1 0M283.8 60.9a0.5 0.5 0 1 0 0.9 0a0.5 0.5 0 1 0 -0.9 0M275.9 56.2a0.7 0.7 0 1 0 1.3 0a0.7 0.7 0 1 0 -1.3 0M403.1 65.2a0.6 0.6 0 1 0 1.2 0a0.6 0.6 0 1 0 -1.2 0M335.6 71.1a0.6 0.6 0 1 0 1.3 0a0.6 0.6 0 1 0 -1.3 0M385.1 58.7a0.5 0.5 0 1 0 0.9 0a0.5 0.5 0 1 0 -0.9 0M402.0 67.3a0.7 0.7 0 1 0 1.3 0a0.7 0.7 0 1 0 -1.3 0M401.4 81.5a0.6 0.6 0 1 0 1.2 0a0.6 0.6 0 1 0 -1.2 0M405.2 69.6a0.6 0.6 0 1 0 1.3 0a0.6 0.6 0 1 0 -1.3 0M408.5 65.1a0.8 0.8 0 1 0 1.5 0a0.8 0.8 0 1 0 -1.5 0M413.5 54.6a0.4 0.4 0 1 0 0.9 0a0.4 0.4 0 1 0 -0.9 0M294.2 96.5a0.6 0.6 0 1 0 1.3 0a0.6 0.6 0 1 0 -1.3 0M273.3 52.3a0.6 0.6 0 1 0 1.3 0a0.6 0.6 0 1 0 -1.3 0M418.0 47.1a0.6 0.6 0 1 0 1.2 0a0.6 0.6 0 1 0 -1.2 0M287.0 56.0a0.8 0.8 0 1 0 1.6 0a0.8 0.8 0 1 0 -1.6 0M277.1 56.6a0.5 0.5 0 1 0 1.0 0a0.5 0.5 0 1 0 -1.0 0M281.0 52.8a0.8 0.8 0 1 0 1.5 0a0.8 0.8 0 1 0 -1.5 0M287.3 52.4a0.5 0.5 0 1 0 1.0 0a0.5 0.5 0 1 0 -1.0 0M394.8 62.4a0.6 0.6 0 1 0 1.2 0a0.6 0.6 0 1 0 -1.2 0M347.6 71.5a0.5 0.5 0 1 0 0.9 0a0.5 0.5 0 1 0 -0.9 0M282.7 40.9a0.5 0.5 0 1 0 1.1 0a0.5 0.5 0 1 0 -1.1 0M405.6 59.4a0.8 0.8 0 1 0 1.6 0a0.8 0.8 0 1 0 -1.6 0M340.2 70.4a0.5 0.5 0 1 0 1.0 0a0.5 0.5 0 1 0 -1.0 0M272.4 48.6a0.7 0.7 0 1 0 1.3 0a0.7 0.7 0 1 0 -1.3 0M338.6 74.8a0.6 0.6 0 1 0 1.3 0a0.6 0.6 0 1 0 -1.3 0M325.5 73.4a0.5 0.5 0 1 0 1.0 0a0.5 0.5 0 1 0 -1.0 0M288.7 82.9a0.8 0.8 0 1 0 1.6 0a0.8 0.8 0 1 0 -1.6 0M287.8 52.1a0.5 0.5 0 1 0 0.9 0a0.5 0.5 0 1 0 -0.9 0" fill="#40b840"/><path d="M300.7 52.6a1.3 1.3 0 1 0 2.7 0a1.3 1.3 0 1 0 -2.7 0M323.5 69.7a1.2 1.2 0 1 0 2.4 0a1.2 1.2 0 1 0 -2.4 0M283.6 49.0a1.3 1.3 0 1 0 2.6 0a1.3 1.3 0 1 0 -2.6 0M327.0 66.9a1.1 1.1 0 1 0 2.3 0a1.1 1.1 0 1 0 -2.3 0M298.6 55.0a1.2 1.2 0 1 0 2.4 0a1.2 1.2 0 1 0 -2.4 0M290.6 58.2a0.9 0.9 0 1 0 1.9 0a0.9 0.9 0 1 0 -1.9 0M290.8 53.4a1.2 1.2 0 1 0 2.4 0a1.2 1.2 0 1 0 -2.4 0M280.8 56.2a0.9 0.9 0 1 0 1.9 0a0.9 0.9 0 1 0 -1.9 0M323.0 68.6a1.3 1.3 0 1 0 2.6 0a1.3 1.3 0 1 0 -2.6 0M311.7 68.6a1.2 1.2 0 1 0 2.4 0a1.2 1.2 0 1 0 -2.4 0M292.2 56.8a1.2 1.2 0 1 0 2.5 0a1.2 1.2 0 1 0 -2.5 0M323.9 66.6a1.4 1.4 0 1 0 2.8 0a1.4 1.4 0 1 0 -2.8 0M293.4 60.5a1.2 1.2 0 1 0 2.3 0a1.2 1.2 0 1 0 -2.3 0M286.0 60.4a1.2 1.2 0 1 0 2.5 0a1.2 1.2 0 1 0 -2.5 0M297.7 60.3a1.3 1.3 0 1 0 2.6 0a1.3 1.3 0 1 0 -2.6 0M310.3 66.9a0.9 0.9 0 1 0 1.8 0a0.9 0.9 0 1 0 -1.8 0" fill="#40c040" stroke="#2a6a20" stroke-width="0.3"/>
<path d="M318.4 67.9a0.9 0.9 0 1 0 1.8 0a0.9 0.9 0 1 0 -1.8 0M323.5 69.0a1.2 1.2 0 1 0 2.4 0a1.2 1.2 0 1 0 -2.4 0" fill="#a0d030" stroke="#2a6a20" stroke-width="0.3"/><circle cx="304" cy="65.5" r="2" fill="#e0a020" stroke="#806010" stroke-width="0.3"/><circle cx="362" cy="47" r="1.4" fill="#e01010"/></g></defs>
<polygon points="244.9,33.5 251.3,32.1 262.5,33.5 267.5,36.3 265.4,40.5 256.9,41.2 247.0,37.7" fill="#b0b0e6" fill-opacity="1" stroke="none" stroke-width="0.6" />
<polygon points="269.6,42.0 282.3,42.6 290.7,44.0 293.5,46.2 294.2,60.3 294.9,71.5 292.1,77.2 285.0,80.0 279.4,81.4 273.8,78.6 272.4,71.5 269.6,60.3" fill="#cacaf0" fill-opacity="1" stroke="none" stroke-width="0.6" />
<polygon points="272.0,48.0 290.0,47.0 293.0,60.0 289.0,70.0 280.0,72.0 274.0,64.0" fill="#b8b8ea" fill-opacity="1" stroke="none" stroke-width="0.6" />
<polygon points="269.6,51.0 273.8,51.0 273.8,58.1 269.6,58.1" fill="#0a0ae0" fill-opacity="1" stroke="none" stroke-width="0.6" />
<polygon points="277.3,54.0 282.3,54.5 282.3,59.5 277.3,59.0" fill="#0a0ae0" fill-opacity="1" stroke="none" stroke-width="0.6" />
<polygon points="271.7,63.0 275.9,63.0 275.9,66.6 271.7,66.6" fill="#0a0ae0" fill-opacity="1" stroke="none" stroke-width="0.6" />
<polygon points="280.8,68.0 283.0,68.0 283.0,70.8 280.8,70.8" fill="#0a0ae0" fill-opacity="1" stroke="none" stroke-width="0.6" />
<polygon points="293.5,44.0 320.0,43.4 320.0,48.3 309.0,51.8 296.3,50.4" fill="#c4c4ee" fill-opacity="1" stroke="none" stroke-width="0.6" />
<polygon points="305.0,45.0 330.0,44.5 336.0,48.0 332.0,52.0 315.0,51.0" fill="#c4c4ee" fill-opacity="1" stroke="none" stroke-width="0.6" />
<polygon points="313.0,46.6 325.8,46.6 332.6,50.0 337.8,56.0 332.6,57.8 325.8,53.5 315.5,51.8" fill="#0a0ae0" fill-opacity="1" stroke="#1c1c80" stroke-width="0.4" />
<polygon points="273.8,78.6 299.2,82.5 320.0,84.0 320.0,86.5 299.2,86.0 276.0,82.0" fill="#d0d0f2" fill-opacity="1" stroke="none" stroke-width="0.6" />
<polygon points="383.2,29.2 398.5,28.1 422.6,30.3 440.1,32.5 440.1,39.1 422.6,38.0 402.9,34.7 387.6,32.5" fill="#c8c8ee" fill-opacity="1" stroke="none" stroke-width="0.6" />
<polygon points="425.9,28.1 440.1,31.4 440.1,39.1 431.4,36.9 426.6,33.6" fill="#0a0ae0" fill-opacity="1" stroke="#1c1c80" stroke-width="0.5" />
<polygon points="392.0,43.5 422.6,45.7 422.6,51.1 392.0,51.1" fill="#e0e0f8" fill-opacity="1" stroke="none" stroke-width="0.6" />
<polygon points="332.1,71.7 335.7,70.5 338.1,69.3 376.7,60.0 377.9,62.1 380.3,65.7 379.1,74.1 374.3,83.8 368.3,89.8 359.8,94.6 351.4,99.5 345.3,101.9 338.1,98.3 334.5,91.0 333.3,81.4" fill="#b4b4e6" fill-opacity="1" stroke="none" stroke-width="0.6" />
<polygon points="338.1,69.3 344.1,66.9 353.8,64.5 365.8,63.3 375.5,57.2 376.7,62.1 374.3,69.3 373.1,75.3 368.3,81.4 361.0,86.2 353.8,91.0 346.5,93.4 341.7,91.0 339.3,85.0 338.1,77.7" fill="#0808dc" fill-opacity="1" stroke="#1c1c80" stroke-width="0.5" />
<polygon points="340.0,60.0 376.0,57.0 376.0,64.0 340.0,68.0" fill="#0808dc" fill-opacity="1" stroke="none" stroke-width="0.6" />
<polygon points="384.3,57.7 394.2,56.6 405.1,61.0 405.1,78.5 396.3,82.9 387.6,80.7 385.4,69.7" fill="#a8a8e0" fill-opacity="1" stroke="none" stroke-width="0.6" />
<polygon points="390.0,62.0 400.0,62.0 402.0,72.0 395.0,78.0 389.0,72.0" fill="#8c8cd4" fill-opacity="1" stroke="none" stroke-width="0.6" />
<polygon points="405.1,60.0 423.7,60.0 430.0,66.0 430.0,77.0 413.9,78.0 405.1,76.0" fill="#c0c0ec" fill-opacity="1" stroke="none" stroke-width="0.6" />
<path d="M405.1,62.1 L420.4,61 L423.7,64.3 L422.6,71.9 L413.9,75.2 L407.3,73 Z" fill="#0808dc" stroke="#1c1c80" stroke-width="0.5"/>
<polygon points="411.7,84.5 414.3,81.8 417.0,84.5 414.3,87.3" fill="#b0b0e4" fill-opacity="1" stroke="none" stroke-width="0.6" />
<polygon points="294.0,84.4 311.6,86.6 314.0,95.0 317.1,108.5 315.0,119.4 311.6,127.0 316.0,131.0 312.0,135.0 300.0,136.0 295.0,132.0 294.0,110.0" fill="#b4b4e6" fill-opacity="1" stroke="none" stroke-width="0.6" />
<polygon points="296.0,133.0 306.0,131.0 318.0,134.0 316.0,137.0 300.0,138.0" fill="#c0c0ec" fill-opacity="1" stroke="none" stroke-width="0.6" />
<polygon points="300.7,140.0 310.0,139.0 318.0,142.0 324.8,146.0 322.0,151.0 312.0,153.4 302.0,152.0 299.0,146.0" fill="#b8b8e8" fill-opacity="1" stroke="none" stroke-width="0.6" />
<path d="M294.5,93 C302,93 309.4,98 309.4,104 C309.4,110 302,115 294.5,115 Z" fill="#0808dc" stroke="#1c1c80" stroke-width="0.5"/>
<polygon points="294.0,118.0 297.0,117.0 297.0,128.0 294.0,129.0" fill="#0a0ae0" fill-opacity="1" stroke="none" stroke-width="0.6" />
<polygon points="318.0,138.0 326.0,139.0 325.0,145.7 319.0,144.0" fill="#b8b8e8" fill-opacity="1" stroke="none" stroke-width="0.6" />
<polygon points="327.0,134.7 340.0,136.0 347.8,140.0 340.0,142.4 330.0,139.0" fill="#b8b8e8" fill-opacity="1" stroke="none" stroke-width="0.6" />
<polygon points="342.0,120.5 350.0,122.0 354.0,127.0 345.0,126.0" fill="#c0c0ec" fill-opacity="1" stroke="none" stroke-width="0.6" />
<polygon points="274.4,80.0 294.0,81.0 294.0,84.4 276.0,83.0" fill="#c8c8ee" fill-opacity="1" stroke="none" stroke-width="0.6" />
<polyline points="246,22.5 444,22.5 445.5,126.3 247.5,126.3 246,22.5" fill="none" stroke="#8c8585" stroke-width="0.9"/>
<polyline points="235.5,61 433.5,61" fill="none" stroke="#777" stroke-width="1"/>
<polyline points="237,165.3 435,165.3" fill="none" stroke="#aaa" stroke-width="0.9"/>
<polyline points="235.5,61 237,165.3" fill="none" stroke="#aaa" stroke-width="0.8"/>
<line x1="246" y1="22.5" x2="235.5" y2="61" stroke="#888" stroke-width="0.7"/>
<line x1="444" y1="22.5" x2="433.5" y2="61" stroke="#888" stroke-width="0.7"/>
<line x1="247.5" y1="126.3" x2="237" y2="165.3" stroke="#888" stroke-width="0.7"/>
<line x1="445.5" y1="126.3" x2="435" y2="165.3" stroke="#888" stroke-width="0.7"/>
<line x1="434.2" y1="68" x2="434.2" y2="150" stroke="#999" stroke-width="0.7"/>
<use href="#bplume"/>
<polygon points="259.0,31.4 263.3,35.8 254.7,35.8" fill="#ff1a1a" fill-opacity="1" stroke="#3a3a70" stroke-width="0.9" />
<polygon points="283.0,36.0 287.9,40.5 278.1,40.5" fill="#ff1a1a" fill-opacity="1" stroke="#3a3a70" stroke-width="0.9" />
<polygon points="304.4,47.3 309.0,51.5 299.8,51.5" fill="#ff1a1a" fill-opacity="1" stroke="#3a3a70" stroke-width="0.9" />
<polygon points="335.0,38.0 339.5,42.0 330.5,42.0" fill="#ff1a1a" fill-opacity="1" stroke="#3a3a70" stroke-width="0.9" />
<text x="440.5" y="41.6" font-size="10" fill="#222" font-weight="normal" textLength="13.0" lengthAdjust="spacingAndGlyphs" >Lat</text>
<text x="436.8" y="64.5" font-size="10.5" fill="#111" font-weight="bold" textLength="22.2" lengthAdjust="spacingAndGlyphs" >0 km</text>
<text x="435.3" y="113.3" font-size="10" fill="#222" font-weight="normal" textLength="17.5" lengthAdjust="spacingAndGlyphs" >Dep</text>
<text x="436.8" y="166.8" font-size="10.5" fill="#111" font-weight="bold" textLength="28.1" lengthAdjust="spacingAndGlyphs" >40 km</text>
<text x="335.5" y="61.0" font-size="10" fill="#111" font-weight="normal" textLength="15.5" lengthAdjust="spacingAndGlyphs" >Lon</text>
<text x="318.6" y="26.4" font-size="11.5" fill="#ff1010" font-weight="bold" textLength="41.6" lengthAdjust="spacingAndGlyphs" >IMN2008</text>
<line x1="340.5" y1="28.6" x2="355.5" y2="43" stroke="#ff1010" stroke-width="1.1"/>
<polygon points="358.3,45.9 353.0,43.5 356.4,40.4" fill="#ff1010" fill-opacity="1" stroke="none" stroke-width="0.6" />
<polygon points="276.6,194.4 283.0,194.4 283.0,200.0 276.6,200.0" fill="#d8f6d8" fill-opacity="1" stroke="none" stroke-width="0.6" />
<polygon points="244.4,279.6 254.0,277.2 271.8,283.6 286.3,278.8 291.1,272.4 299.2,274.0 304.0,286.9 310.5,291.7 323.3,293.3 325.0,298.1 321.7,309.4 312.0,312.6 302.4,315.9 292.8,315.9 291.1,311.0 296.0,306.2 289.5,303.0 279.9,301.4 270.2,298.1 254.0,298.1 244.4,296.5" fill="#b8ecb4" fill-opacity="1" stroke="none" stroke-width="0.6" />
<polygon points="250.0,283.0 270.0,286.0 268.0,296.0 250.0,295.0" fill="#d4f2d0" fill-opacity="1" stroke="none" stroke-width="0.6" />
<polygon points="296.0,292.0 318.0,296.0 318.0,308.0 300.0,312.0" fill="#a0e09c" fill-opacity="0.8" stroke="none" stroke-width="0.6" />
<polygon points="262.0,258.0 275.0,252.0 290.0,251.0 300.0,256.0 304.0,263.0 302.0,272.0 292.0,272.0 280.0,276.0 262.0,284.0 252.0,278.0 252.0,266.0" fill="#b8ecb4" fill-opacity="1" stroke="none" stroke-width="0.6" />
<polygon points="255.0,272.0 275.0,268.0 300.0,266.0 306.0,276.0 300.0,288.0 280.0,290.0 260.0,288.0" fill="#b8ecb4" fill-opacity="1" stroke="none" stroke-width="0.6" />
<polygon points="267.0,261.1 275.0,254.7 286.3,253.9 296.0,257.1 299.2,261.1 296.0,264.3 284.7,266.7 278.3,270.0 276.6,276.4 270.2,280.4 263.8,281.2 258.9,278.8 254.1,274.0 254.1,269.2 258.9,264.3" fill="#12d812" fill-opacity="1" stroke="none" stroke-width="0.6" />
<polygon points="275.0,254.7 286.3,253.9 296.0,257.1 299.2,261.1 290.0,262.0 280.0,262.0" fill="#40e840" fill-opacity="1" stroke="none" stroke-width="0.6" />
<path d="M258.9,264.3 L267,261.1 L275,262 L278.3,270 M276.6,276.4 L270.2,280.4 L263.8,281.2" stroke="#0a6a0a" stroke-width="0.7" opacity="0.7" fill="none"/>
<polygon points="254.0,279.6 259.7,279.6 259.7,282.8 254.0,282.8" fill="#12d812" fill-opacity="1" stroke="none" stroke-width="0.6" />
<polygon points="262.0,280.4 270.0,280.4 270.0,284.5 263.0,284.5" fill="#12d812" fill-opacity="1" stroke="none" stroke-width="0.6" />
<polygon points="271.8,287.7 278.3,284.5 286.3,284.5 294.4,287.7 296.0,291.7 292.8,294.1 286.3,296.5 279.9,297.3 274.2,294.9" fill="#12d812" fill-opacity="1" stroke="#0a5a0a" stroke-width="0.7" />
<polygon points="301.6,292.5 308.9,293.0 308.0,298.1 302.0,297.5" fill="#12d812" fill-opacity="1" stroke="none" stroke-width="0.6" />
<polygon points="300.8,251.4 310.5,249.8 328.2,248.2 337.8,249.8 337.8,253.0 323.3,256.3 313.7,257.9 308.9,261.1 305.6,266.0 302.4,278.8 300.0,274.0 301.6,267.5 304.0,261.1 300.8,256.3" fill="#b8ecb4" fill-opacity="1" stroke="none" stroke-width="0.6" />
<polygon points="309.0,262.0 318.0,259.0 320.0,268.0 312.0,273.0 306.0,270.0" fill="#b8ecb4" fill-opacity="1" stroke="none" stroke-width="0.6" />
<polygon points="364.0,238.0 372.0,240.0 372.0,249.6 366.0,249.0" fill="#b8ecb4" fill-opacity="1" stroke="none" stroke-width="0.6" />
<polygon points="424.4,205.7 439.0,206.0 439.0,213.8 428.0,212.0" fill="#b8ecb4" fill-opacity="1" stroke="none" stroke-width="0.6" />
<polygon points="333.5,297.0 340.5,291.8 347.5,283.0 365.0,280.4 382.6,278.7 400.0,275.1 414.0,273.4 431.6,270.8 440.4,269.9 441.2,274.3 440.4,284.8 431.6,286.5 417.6,288.3 412.3,291.8 407.1,296.2 400.0,302.3 393.0,307.6 387.8,314.6 382.6,311.1 375.5,309.3 377.3,304.1 386.1,297.0 373.8,300.6 356.3,300.6 347.5,298.8 340.5,297.0" fill="#d0ecca" fill-opacity="1" stroke="#9cc898" stroke-width="0.5" />
<polygon points="352.0,287.0 380.0,283.0 410.0,279.0 432.0,276.0 436.0,282.0 414.0,285.0 390.0,290.0 365.0,294.0 350.0,294.0" fill="#e0f4dc" fill-opacity="1" stroke="none" stroke-width="0.6" />
<polygon points="336.0,296.0 345.0,293.0 352.0,297.0 344.0,300.0 334.0,300.0" fill="#b0e4a8" fill-opacity="1" stroke="none" stroke-width="0.6" />
<path d="M345,286 C360,283 380,281 400,278 M378,305 C385,300 395,296 405,292 M430,276 L436,284" stroke="#70b870" stroke-width="0.7" fill="none" opacity="0.8"/>
<polygon points="376.0,306.0 382.0,300.0 392.0,298.0 390.0,306.0 384.0,312.0" fill="#a8e0a0" fill-opacity="0.9" stroke="none" stroke-width="0.6" />
<polyline points="246,186.5 444,186.5 445.5,290.3 247.5,290.3 246,186.5" fill="none" stroke="#8c8585" stroke-width="0.9"/>
<polyline points="235.5,225 433.5,225" fill="none" stroke="#777" stroke-width="1"/>
<polyline points="237,329.3 435,329.3" fill="none" stroke="#aaa" stroke-width="0.9"/>
<polyline points="235.5,225 237,329.3" fill="none" stroke="#aaa" stroke-width="0.8"/>
<line x1="246" y1="186.5" x2="235.5" y2="225" stroke="#888" stroke-width="0.7"/>
<line x1="444" y1="186.5" x2="433.5" y2="225" stroke="#888" stroke-width="0.7"/>
<line x1="247.5" y1="290.3" x2="237" y2="329.3" stroke="#888" stroke-width="0.7"/>
<line x1="445.5" y1="290.3" x2="435" y2="329.3" stroke="#888" stroke-width="0.7"/>
<line x1="434.2" y1="232" x2="434.2" y2="314" stroke="#999" stroke-width="0.7"/>
<use href="#bplume" y="164"/>
<polygon points="259.0,195.4 263.3,199.8 254.7,199.8" fill="#ff1a1a" fill-opacity="1" stroke="#3a3a70" stroke-width="0.9" />
<polygon points="283.0,200.0 287.9,204.5 278.1,204.5" fill="#ff1a1a" fill-opacity="1" stroke="#3a3a70" stroke-width="0.9" />
<polygon points="304.4,211.3 309.0,215.5 299.8,215.5" fill="#ff1a1a" fill-opacity="1" stroke="#3a3a70" stroke-width="0.9" />
<polygon points="335.0,202.0 339.5,206.0 330.5,206.0" fill="#ff1a1a" fill-opacity="1" stroke="#3a3a70" stroke-width="0.9" />
<text x="440.5" y="205.6" font-size="10" fill="#222" font-weight="normal" textLength="13.0" lengthAdjust="spacingAndGlyphs" >Lat</text>
<text x="436.8" y="228.5" font-size="10.5" fill="#111" font-weight="bold" textLength="22.2" lengthAdjust="spacingAndGlyphs" >0 km</text>
<text x="435.3" y="277.3" font-size="10" fill="#222" font-weight="normal" textLength="17.5" lengthAdjust="spacingAndGlyphs" >Dep</text>
<text x="436.8" y="330.8" font-size="10.5" fill="#111" font-weight="bold" textLength="28.1" lengthAdjust="spacingAndGlyphs" >40 km</text>
<text x="335.5" y="225.0" font-size="10" fill="#111" font-weight="normal" textLength="15.5" lengthAdjust="spacingAndGlyphs" >Lon</text>
<text x="307.9" y="195.1" font-size="12.5" fill="#ff1010" font-weight="bold" textLength="43.1" lengthAdjust="spacingAndGlyphs" >Kurikoma</text>
<line x1="327" y1="197.3" x2="331" y2="200.5" stroke="#ff1010" stroke-width="1.1"/>
<polygon points="333.5,202.8 328.5,201.5 331.0,198.3" fill="#ff1010" fill-opacity="1" stroke="none" stroke-width="0.6" />
<polygon points="285.4,358.0 300.0,356.5 322.6,358.0 320.0,363.0 300.0,365.8 287.0,364.0" fill="#f4a8a8" fill-opacity="1" stroke="none" stroke-width="0.6" />
<polygon points="257.0,372.0 270.0,369.0 290.0,370.0 313.8,372.0 312.0,380.0 300.0,383.3 275.0,383.0 260.0,380.0" fill="#f4a8a8" fill-opacity="1" stroke="none" stroke-width="0.6" />
<polygon points="267.8,375.6 278.8,375.6 273.3,381.0" fill="#e02020" fill-opacity="1" stroke="none" stroke-width="0.6" />
<polygon points="287.5,395.0 300.0,391.0 320.0,392.0 340.0,396.0 348.9,402.0 345.0,412.0 330.0,415.0 310.0,412.0 295.0,405.0" fill="#f4a8a8" fill-opacity="1" stroke="none" stroke-width="0.6" />
<polygon points="269.0,408.0 280.0,405.9 294.5,408.0 294.5,418.0 285.0,421.5 272.0,419.0 267.8,413.0" fill="#f4a8a8" fill-opacity="1" stroke="none" stroke-width="0.6" />
<polygon points="318.0,400.0 335.0,399.7 349.0,405.0 349.0,418.0 340.0,421.6 325.0,420.0 318.0,410.0" fill="#ea9494" fill-opacity="0.9" stroke="none" stroke-width="0.6" />
<polygon points="364.0,402.0 375.0,400.8 385.0,404.0 385.0,415.0 375.0,417.3 366.0,412.0" fill="#f4a8a8" fill-opacity="1" stroke="none" stroke-width="0.6" />
<polygon points="316.0,426.0 335.0,424.0 355.0,427.0 363.6,434.0 355.0,442.0 340.0,446.0 325.0,443.0 316.0,436.0" fill="#f4a8a8" fill-opacity="1" stroke="none" stroke-width="0.6" />
<polygon points="318.0,427.0 353.0,427.0 353.0,435.0 318.0,435.0" fill="#f4a8a8" fill-opacity="0.6" stroke="none" stroke-width="0.6" />
<polygon points="254.7,427.3 264.2,427.3 264.2,430.4 254.7,430.4" fill="#f4a8a8" fill-opacity="1" stroke="none" stroke-width="0.6" />
<polygon points="257.0,404.0 265.7,404.0 265.7,407.4 257.0,407.4" fill="#f4a8a8" fill-opacity="1" stroke="none" stroke-width="0.6" />
<polygon points="282.7,426.0 290.0,421.0 303.2,420.5 303.2,430.0 296.0,432.2 288.0,431.0" fill="#ff0000" fill-opacity="1" stroke="none" stroke-width="0.6" />
<polygon points="286.0,431.0 300.0,432.2 298.0,436.0 288.0,435.0" fill="#f8c0c0" fill-opacity="1" stroke="none" stroke-width="0.6" />
<polygon points="282.7,426.0 290.0,421.0 292.0,432.0 288.0,431.0" fill="#c00000" fill-opacity="1" stroke="none" stroke-width="0.6" />
<polygon points="280.8,440.0 292.0,436.0 305.0,437.0 317.0,442.0 315.0,455.0 310.0,462.0 300.0,468.0 288.0,469.3 281.0,463.0 280.0,450.0" fill="#f4a8a8" fill-opacity="1" stroke="none" stroke-width="0.6" />
<polygon points="274.0,458.0 280.8,457.0 280.8,461.5 274.0,461.5" fill="#f4a8a8" fill-opacity="1" stroke="none" stroke-width="0.6" />
<polygon points="300.0,436.4 313.1,439.7 316.4,446.3 311.0,452.8 304.4,459.4 300.0,461.6" fill="#f4a8a8" fill-opacity="1" stroke="none" stroke-width="0.6" />
<polygon points="315.3,431.0 328.5,427.7 343.8,428.8 361.3,428.8 363.5,431.0 350.4,433.1 343.8,437.5 337.2,444.1 326.3,444.1 317.5,439.7" fill="#f4a8a8" fill-opacity="1" stroke="#d89090" stroke-width="0.5" />
<polygon points="339.4,444.1 350.4,439.7 365.7,438.6 387.6,436.4 405.1,435.3 422.6,436.4 433.6,439.7 440.1,446.3 438.0,455.0 431.4,461.6 422.6,466.0 422.6,472.5 409.5,479.1 394.2,482.4 383.2,481.3 370.0,476.9 361.3,472.5 350.4,468.2 343.8,457.2" fill="#f4a8a8" fill-opacity="1" stroke="#d08888" stroke-width="0.5" />
<polygon points="374.4,455.0 392.0,455.0 392.0,463.8 374.4,463.8" fill="#e08080" fill-opacity="0.7" stroke="none" stroke-width="0.6" />
<polygon points="400.7,457.2 418.2,457.2 418.2,470.4 400.7,470.4" fill="#e08080" fill-opacity="0.7" stroke="none" stroke-width="0.6" />
<polygon points="405.0,440.0 430.0,441.0 437.0,450.0 428.0,458.0 410.0,456.0" fill="#e89090" fill-opacity="0.8" stroke="none" stroke-width="0.6" />
<polygon points="360.0,445.0 390.0,441.0 395.0,448.0 370.0,452.0" fill="#fad0d0" fill-opacity="0.8" stroke="none" stroke-width="0.6" />
<polygon points="306.6,467.1 317.5,459.4 332.8,457.2 343.8,459.4 356.9,463.8 359.1,472.5 348.2,476.9 335.0,476.9 321.9,470.4 308.8,474.7 303.3,472.5" fill="#f4a8a8" fill-opacity="1" stroke="#d08888" stroke-width="0.5" />
<polygon points="306.6,467.1 312.0,464.0 316.0,470.0 308.8,474.7" fill="#e07070" fill-opacity="0.8" stroke="none" stroke-width="0.6" />
<path d="M345,452 C360,448 380,446 405,446 C420,446 432,448 438,452 M355,468 C370,462 390,460 410,462 C420,463 428,458 432,455 M365,440 L380,462 M395,438 L398,470 M330,462 L350,470 L372,472" stroke="#b86060" stroke-width="0.7" fill="none" opacity="0.7"/>
<polygon points="386.9,374.0 395.4,371.1 403.8,376.1 412.3,378.9 419.3,382.4 417.9,385.2 409.4,385.9 401.0,388.0 391.1,388.7 385.5,386.6" fill="#f4a8a8" fill-opacity="1" stroke="none" stroke-width="0.6" />
<polygon points="424.2,368.3 429.2,366.2 436.2,366.9 439.0,372.5 439.0,385.2 436.2,388.7 430.6,386.6 426.3,382.4 424.2,375.4" fill="#fad0d0" fill-opacity="1" stroke="none" stroke-width="0.6" />
<polygon points="425.0,374.0 430.0,375.0 431.0,378.5 426.0,378.0" fill="#d00000" fill-opacity="1" stroke="none" stroke-width="0.6" />
<polygon points="370.0,400.7 378.5,402.8 386.9,407.7 398.2,414.1 395.4,416.2 384.1,414.8 374.2,412.0 370.0,410.6" fill="#f4a8a8" fill-opacity="1" stroke="none" stroke-width="0.6" />
<polyline points="246,350.5 444,350.5 445.5,454.3 247.5,454.3 246,350.5" fill="none" stroke="#8c8585" stroke-width="0.9"/>
<polyline points="235.5,389 433.5,389" fill="none" stroke="#777" stroke-width="1"/>
<polyline points="237,493.3 435,493.3" fill="none" stroke="#aaa" stroke-width="0.9"/>
<polyline points="235.5,389 237,493.3" fill="none" stroke="#aaa" stroke-width="0.8"/>
<line x1="246" y1="350.5" x2="235.5" y2="389" stroke="#888" stroke-width="0.7"/>
<line x1="444" y1="350.5" x2="433.5" y2="389" stroke="#888" stroke-width="0.7"/>
<line x1="247.5" y1="454.3" x2="237" y2="493.3" stroke="#888" stroke-width="0.7"/>
<line x1="445.5" y1="454.3" x2="435" y2="493.3" stroke="#888" stroke-width="0.7"/>
<line x1="434.2" y1="396" x2="434.2" y2="478" stroke="#999" stroke-width="0.7"/>
<use href="#bplume" y="328"/>
<polygon points="259.0,359.4 263.3,363.8 254.7,363.8" fill="#ff1a1a" fill-opacity="1" stroke="#3a3a70" stroke-width="0.9" />
<polygon points="283.0,364.0 287.9,368.5 278.1,368.5" fill="#ff1a1a" fill-opacity="1" stroke="#3a3a70" stroke-width="0.9" />
<polygon points="304.4,375.3 309.0,379.5 299.8,379.5" fill="#ff1a1a" fill-opacity="1" stroke="#3a3a70" stroke-width="0.9" />
<polygon points="335.0,366.0 339.5,370.0 330.5,370.0" fill="#ff1a1a" fill-opacity="1" stroke="#3a3a70" stroke-width="0.9" />
<text x="440.5" y="369.6" font-size="10" fill="#222" font-weight="normal" textLength="13.0" lengthAdjust="spacingAndGlyphs" >Lat</text>
<text x="436.8" y="392.5" font-size="10.5" fill="#111" font-weight="bold" textLength="22.2" lengthAdjust="spacingAndGlyphs" >0 km</text>
<text x="435.3" y="441.3" font-size="10" fill="#222" font-weight="normal" textLength="17.5" lengthAdjust="spacingAndGlyphs" >Dep</text>
<text x="436.8" y="494.8" font-size="10.5" fill="#111" font-weight="bold" textLength="28.1" lengthAdjust="spacingAndGlyphs" >40 km</text>
<text x="335.5" y="389.0" font-size="10" fill="#111" font-weight="normal" textLength="15.5" lengthAdjust="spacingAndGlyphs" >Lon</text>
<text x="308.0" y="359.2" font-size="12.5" fill="#ff1010" font-weight="bold" textLength="43.0" lengthAdjust="spacingAndGlyphs" >Kurikoma</text>
<line x1="327" y1="361.4" x2="331" y2="364.6" stroke="#ff1010" stroke-width="1.1"/>
<polygon points="333.5,366.9 328.5,365.6 331.0,362.4" fill="#ff1010" fill-opacity="1" stroke="none" stroke-width="0.6" />
</svg></body></html>
